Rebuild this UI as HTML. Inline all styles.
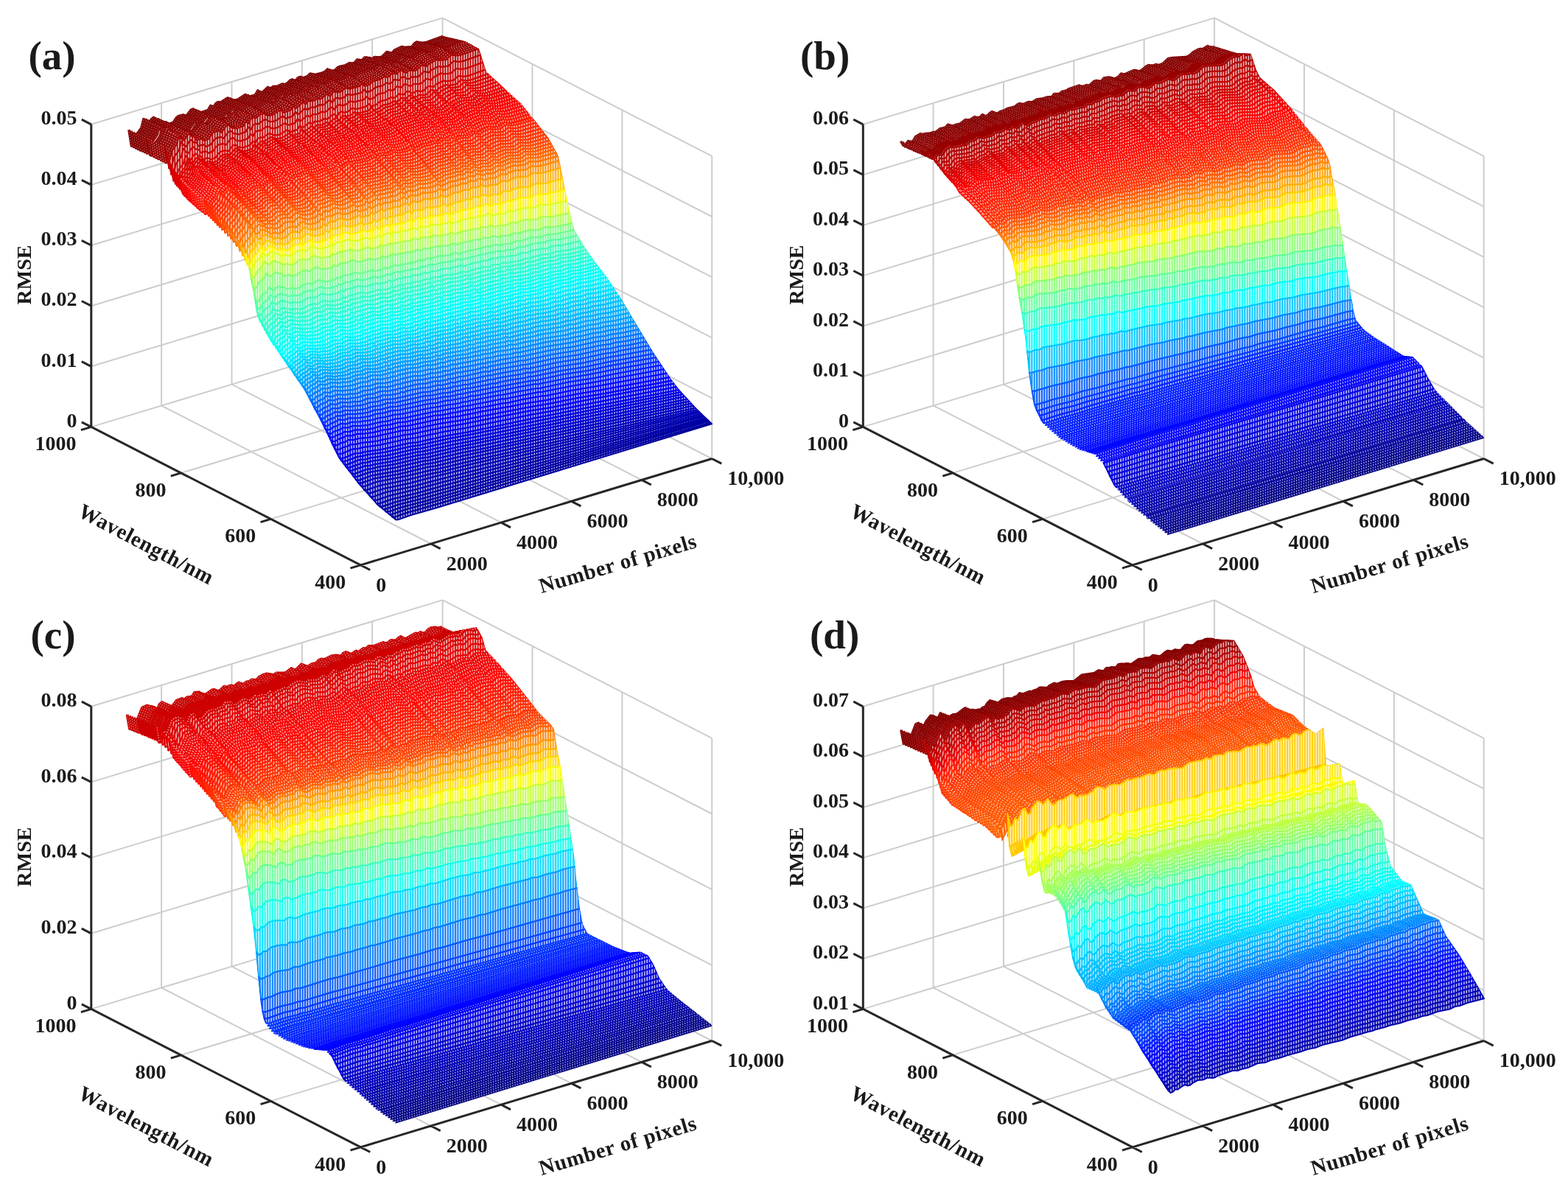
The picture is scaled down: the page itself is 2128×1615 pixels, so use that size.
<!DOCTYPE html>
<html lang="en"><head><meta charset="utf-8"><title>RMSE surfaces</title>
<style>html,body{margin:0;padding:0;background:#fff}body{width:2128px;height:1615px;overflow:hidden}svg{display:block}</style></head><body>
<svg width="2128" height="1615" viewBox="0 0 2128 1615">
<rect width="2128" height="1615" fill="#fff"/>
<defs><pattern id="ws" width="6.8" height="8" patternUnits="userSpaceOnUse"><rect x="0.4" width="3.2" height="8" fill="#fff" fill-opacity="0.78"/></pattern></defs>
<g transform="translate(0 0)">
<path d="M584.8 738L219.1 550.5M680.1 709.1L314.5 521.6M775.5 680.3L409.9 492.8M870.9 651.4L505.2 463.9M966.2 622.5L600.6 435M367.5 704.4L844.4 560M245.6 641.9L722.5 497.5M123.8 579.4L600.6 435M219.1 550.5L219.1 139.9M314.5 521.6L314.5 111M409.9 492.8L409.9 82.2M505.2 463.9L505.2 53.3M600.6 435L600.6 24.4M123.8 497.3L600.6 352.9M123.8 415.2L600.6 270.8M123.8 333L600.6 188.6M123.8 250.9L600.6 106.5M123.8 168.8L600.6 24.4M966.2 622.5L966.2 211.9M844.4 560L844.4 149.4M722.5 497.5L722.5 86.9M966.2 540.4L600.6 352.9M966.2 458.3L600.6 270.8M966.2 376.1L600.6 188.6M966.2 294L600.6 106.5M966.2 211.9L600.6 24.4" stroke="#cdcdcd" stroke-width="2" fill="none"/>
<defs><clipPath id="ac"><path d="M601 -50L601 48.8L628 55.1L632 56L650 66L660 97.5L681.2 116.7L682 117.5L707 140L723.6 160.7L727 165L744.5 187.5L754.4 205.3L757 210L760 222L763 237.5L768 262.5L769.2 268.7L771 278L773 287.5L776 300L778 307L779.5 312.5L793 335L807 355L808.1 356.4L822.5 375L832.6 390.1L842 404L863.5 440L887 479L893.7 489L911 515L922 529L922 529L946 555L957.3 565.7L967 575L967 581L536.5 712.5L536.8 707.2L511.8 687.2L486.8 659.7L459.3 624.7L459.3 624.7L449.3 604.7L436.8 579.7L431.6 570.3L411.8 534.7L393.9 509.7L386.8 499.7L379.3 488.7L364.3 467.2L363.3 465.5L349.3 442.2L344.3 415.7L341.8 404.7L339.3 390.7L337.6 381.6L336.3 374.7L334.3 370.7L333 368.1L327.6 357.3L324.3 350.7L315.6 338.5L311.8 333.2L294.3 315.7L277.5 298.9L274.3 295.7L257.3 281.7L243.8 268.2L243.3 267.7L232.3 255.7L222.8 229.7L203.2 220.1L199.3 218.2L172.8 205.7L172.8 -50z"/></clipPath></defs>
<g clip-path="url(#ac)"><g transform="scale(0.5)" fill="none" stroke-linejoin="round">
<g stroke="#800000" stroke-width="7.3"><path id="a1" d="M350 352l7 44 7-5 6-25 14-19 6-24 7 10 7 4 7-13 6-5 7 7 7 1 7 9 6-3 7-1 7 6 13-6 7-11 7-6 13-3 7 4 13-17 7-3 7 7 13 3 20-7 7-12 7 6 7-12 6-4 7 1 14-9 6-3 7 4 7 2 7 0 6-2 20-13 7 7 20-6 7-12 7 8 7-5 13-12 7 5 7-7 13-1 13-6 7 2 7-5 7-7 6-2 7 7 7-11 7-3 6 3 7-2 7-3 7-7 13 3 20-5 7-3 7-7 6 8 14-5 7-7 6-3 14-3 13-7 7 2 7-3 6-8 14 2 7-8 6 0 7 5 7-1 7-5 13 1 7-2 13-13 14 4 6-8 21-10 6 2 21-2 6-8 7-5 13 3 14-2 47-17"/></g>
<use href="#a1" stroke="#fff" stroke-opacity="0.6" stroke-width="1.4" stroke-dasharray="3 3.8"/>
<g stroke="#820000" stroke-width="7.3"><path id="a2" d="M356 355l7 44 7-5 6-26 14-19 7-24 6 11 7 4 7-13 6-5 7 7 7 0 7 10 6-3 7-1 7 5 13-5 7-11 7-6 13-4 7 5 13-18 7-2 7 7 13 3 21-8 6-12 7 7 7-13 7-3 6 1 14-10 6-3 7 5 7 2 7-1 6-2 21-13 6 8 21-7 6-11 7 7 7-4 13-13 7 6 7-7 13-1 14-7 6 2 7-5 7-6 7-3 6 7 7-11 7-3 6 3 7-2 7-3 7-7 13 3 20-5 7-3 7-7 7 8 13-5 7-7 6-3 14-3 13-7 7 2 7-3 7-8 13 2 7-8 7-1 6 5 7 0 7-5 13 1 7-2 13-13 14 3 7-7 20-10 7 2 20-2 6-8 7-5 14 2 13-1 47-17"/></g>
<use href="#a2" stroke="#fff" stroke-opacity="0.6" stroke-width="1.4" stroke-dasharray="3 3.8"/>
<g stroke="#840000" stroke-width="7.3"><path id="a3" d="M362 358l7 44 7-5 6-26 14-19 7-24 6 11 7 3 7-12 7-6 6 7 7 1 7 10 6-3 7-1 7 5 13-5 7-11 7-7 13-3 7 4 14-17 6-3 7 7 13 3 21-7 6-12 7 6 7-12 7-4 6 1 14-10 7-2 6 4 7 2 7-1 7-1 20-13 6 7 21-7 6-11 7 7 7-4 13-13 7 6 7-7 13-1 14-7 6 2 7-4 7-7 7-3 6 7 7-11 7-3 7 3 6-2 7-3 7-7 13 3 20-5 7-3 7-7 7 8 13-5 7-7 7-3 13-3 14-7 6 2 7-4 7-7 13 2 7-8 7-1 6 5 7 0 7-5 13 1 7-2 14-13 13 3 7-7 20-10 7 2 20-3 7-7 6-6 14 3 13-2 47-17"/></g>
<use href="#a3" stroke="#fff" stroke-opacity="0.6" stroke-width="1.4" stroke-dasharray="3 3.8"/>
<g stroke="#860000" stroke-width="7.3"><path id="a4" d="M368 360l7 45 7-5 6-26 14-19 7-24 6 11 7 3 7-13 7-5 6 7 7 1 7 9 7-3 6-1 7 6 14-6 6-11 7-6 13-3 7 4 14-18 6-2 7 7 14 3 20-8 7-12 6 7 7-13 7-3 6 1 14-10 7-3 6 5 7 1 7 0 7-2 20-13 7 7 20-6 7-12 6 8 7-5 13-13 7 6 7-7 13-1 14-7 7 2 6-4 7-7 7-3 7 7 6-11 7-3 7 4 6-3 7-2 7-8 13 3 21-5 6-3 7-7 7 8 13-5 7-7 7-3 13-3 14-7 6 2 7-4 7-8 13 3 7-9 7 0 7 5 6 0 7-5 14 0 6-2 14-12 13 3 7-8 20-10 7 2 20-2 7-8 7-5 13 2 14-1 47-17"/></g>
<use href="#a4" stroke="#fff" stroke-opacity="0.6" stroke-width="1.4" stroke-dasharray="3 3.8"/>
<g stroke="#800" stroke-width="7.3"><path id="a5" d="M374 363l7 45 7-6 7-25 13-19 7-24 7 10 6 4 7-13 7-5 6 7 7 0 7 10 7-3 6-1 7 5 14-5 6-11 7-6 14-4 6 5 14-18 7-3 6 7 14 3 20-7 7-13 6 7 7-12 7-4 7 1 13-10 7-2 7 4 6 2 7-1 7-2 20-13 7 8 20-7 7-12 6 8 7-5 14-13 6 6 7-7 14-1 13-6 7 1 6-4 7-7 7-3 7 7 6-10 7-3 7 3 7-3 6-2 7-7 14 2 20-5 7-3 6-7 7 8 13-5 7-7 7-3 13-3 14-8 7 2 6-3 7-8 14 2 6-8 7 0 7 5 7-1 6-5 14 1 6-2 14-13 13 3 7-7 20-10 7 2 20-3 7-7 7-5 13 2 14-2 47-17"/></g>
<use href="#a5" stroke="#fff" stroke-opacity="0.6" stroke-width="1.4" stroke-dasharray="3 3.8"/>
<g stroke="#8a0000" stroke-width="7.3"><path id="a6" d="M380 366l7 44 7-5 7-25 13-19 7-25 7 11 6 4 7-13 7-6 7 7 6 1 7 10 7-3 6-1 7 5 14-5 6-11 7-7 14-3 6 4 14-18 7-2 6 7 14 3 20-8 7-12 6 7 7-13 7-4 7 1 13-9 7-3 7 4 6 2 7-1 7-1 20-13 7 7 20-7 7-11 7 7 6-4 14-13 6 6 7-8 14-1 13-6 7 1 7-4 6-7 7-3 7 7 7-10 6-3 7 3 7-3 7-2 6-7 14 2 20-5 7-3 6-7 7 8 14-5 6-7 7-3 14-3 13-8 7 2 7-3 6-8 14 2 6-8 7-1 7 5 7 0 6-5 14 1 7-2 13-13 14 3 6-7 21-11 6 3 20-3 7-8 7-5 13 2 14-1 47-18"/></g>
<use href="#a6" stroke="#fff" stroke-opacity="0.6" stroke-width="1.4" stroke-dasharray="3 3.8"/>
<g stroke="#8c0000" stroke-width="7.3"><path id="a7" d="M387 369l6 44 7-5 7-26 13-19 7-24 7 11 6 3 7-12 7-6 7 7 6 1 7 10 7-4 7-1 6 6 14-6 7-11 6-6 14-4 6 5 14-18 7-3 6 7 14 3 20-7 7-13 7 7 6-12 7-4 7 1 13-10 7-3 7 5 7 2 6-1 7-2 20-13 7 7 20-6 7-12 7 7 6-4 14-13 7 6 6-7 14-1 13-7 7 2 7-5 6-7 7-3 7 8 7-11 6-3 7 3 7-3 7-2 6-7 14 2 20-5 7-3 7-7 6 8 14-6 6-6 7-3 14-3 13-8 7 2 7-3 6-8 14 2 7-8 6-1 7 5 7 0 7-5 13 1 7-2 13-13 14 3 6-8 21-10 6 2 21-2 6-8 7-5 14 2 13-2 47-17"/></g>
<use href="#a7" stroke="#fff" stroke-opacity="0.6" stroke-width="1.4" stroke-dasharray="3 3.8"/>
<g stroke="#8d0000" stroke-width="7.3"><path id="a8" d="M393 372l6 44 7-5 7-26 13-19 7-24 7 11 7 3 6-13 7-5 7 7 6 1 7 9 7-3 7-1 6 5 14-5 7-11 6-7 14-3 7 4 13-17 7-3 7 7 13 3 20-8 7-12 7 6 6-12 7-4 7 1 13-10 7-2 7 4 7 2 6-1 7-2 20-13 7 8 20-7 7-12 7 8 6-5 14-13 7 6 6-7 14-1 13-7 7 2 7-5 7-7 6-3 7 8 7-11 7-3 6 3 7-2 7-3 7-7 13 2 20-5 7-3 7-7 6 8 14-6 7-6 6-3 14-3 13-8 7 2 7-3 7-8 13 2 7-9 7 0 6 5 7 0 7-5 13 0 7-2 13-13 14 4 7-8 20-10 7 2 20-3 7-8 6-5 14 2 13-1 47-18"/></g>
<use href="#a8" stroke="#fff" stroke-opacity="0.6" stroke-width="1.4" stroke-dasharray="3 3.8"/>
<g stroke="#900000" stroke-width="7.3"><path id="a9" d="M401 375l6 45 7-5 7-26 13-19 7-24 7 10 6 4 7-13 7-6 7 7 6 1 7 10 7-4 7 0 6 5 14-5 7-12 6-6 14-4 7 5 13-18 7-3 7 7 13 3 20-7 7-13 7 7 6-13 7-4 7 1 13-10 7-2 7 4 7 2 6-1 7-2 20-13 7 8 20-7 7-12 7 8 6-5 14-13 7 6 6-7 14-1 13-7 7 2 7-5 7-7 6-3 7 7 7-11 7-3 6 3 7-2 7-3 7-7 13 3 20-6 7-3 7-7 6 9 14-6 7-7 6-3 14-3 13-8 7 2 7-3 7-8 13 2 7-8 7-1 6 5 7 0 7-5 13 1 7-2 13-13 14 3 7-8 20-10 7 2 20-3 7-8 6-5 14 2 13-1 47-18"/></g>
<use href="#a9" stroke="#fff" stroke-opacity="0.6" stroke-width="1.4" stroke-dasharray="3 3.8"/>
<g stroke="#910000" stroke-width="7.4"><path id="a10" d="M405 377l6 45 7-5 7-26 13-19 7-24 7 10 7 4 6-13 7-6 7 7 7 1 6 10 7-4 7 0 7 5 13-6 7-11 7-6 13-4 7 5 13-18 7-3 7 7 13 3 20-8 7-12 7 6 7-12 6-4 7 1 14-10 6-2 7 4 7 2 7-1 6-2 21-13 6 7 21-7 6-11 7 7 7-4 13-13 7 5 7-7 13-1 14-7 6 2 7-4 7-7 7-3 6 7 7-11 7-3 7 3 6-2 7-3 7-7 13 2 21-5 6-3 7-7 7 8 13-6 7-6 7-4 13-3 14-7 6 2 7-4 7-8 13 3 7-9 7 0 7 5 6-1 7-5 14 1 6-2 14-13 13 3 7-8 20-10 7 2 20-3 7-7 7-6 13 2 14-1 47-18"/></g>
<use href="#a10" stroke="#fff" stroke-opacity="0.6" stroke-width="1.5" stroke-dasharray="3 3.8"/>
<g stroke="#930000" stroke-width="7.6"><path id="a11" d="M411 380l7 45 6-5 7-26 14-19 6-25 7 11 7 4 6-13 7-6 7 7 7 1 6 10 7-4 7-1 7 6 13-6 7-11 7-6 13-4 7 5 13-18 7-3 7 7 13 3 20-8 7-12 7 6 7-12 6-4 7 1 14-10 6-3 7 5 7 2 7-1 6-2 21-13 6 7 21-7 6-12 7 8 7-5 13-13 7 6 7-7 13-1 14-7 6 2 7-5 7-7 7-3 6 7 7-10 7-3 7 3 6-3 7-3 7-7 13 3 20-6 7-3 7-7 7 9 13-6 7-7 7-3 13-3 14-8 6 2 7-3 7-8 13 2 7-9 7 0 7 5 6 0 7-5 13 0 7-2 14-13 13 3 7-7 20-11 7 2 20-2 7-8 7-5 13 2 14-2 47-17"/></g>
<use href="#a11" stroke="#fff" stroke-opacity="0.6" stroke-width="2.4" stroke-dasharray="3 3.8"/>
<g stroke="#950000" stroke-width="7.6"><path id="a12" d="M417 384l7 44 7-5 7-26 13-19 7-24 7 10 6 4 7-13 7-6 6 7 7 1 7 10 7-3 6-1 7 5 14-6 6-11 7-6 14-4 6 5 14-18 6-3 7 7 14 3 20-8 7-12 6 6 7-12 7-4 7 1 13-10 7-2 7 4 6 2 7-1 7-2 20-13 7 7 20-7 7-11 6 7 7-4 14-13 6 5 7-7 13-1 14-7 7 2 6-5 7-7 7-2 7 7 6-11 7-3 7 3 7-2 6-3 7-7 14 2 20-5 6-3 7-7 7 8 13-6 7-7 7-3 13-3 14-8 7 2 6-3 7-8 13 2 7-8 7-1 7 5 6 0 7-5 14 1 6-2 14-14 13 4 7-8 20-10 7 2 20-3 7-8 7-5 13 2 14-2 47-17"/></g>
<use href="#a12" stroke="#fff" stroke-opacity="0.6" stroke-width="2.4" stroke-dasharray="3 3.8"/>
<g stroke="#970000" stroke-width="7.6"><path id="a13" d="M424 387l6 44 7-5 7-26 13-19 7-24 7 10 7 4 6-13 7-5 7 6 7 1 6 10 7-3 7-1 6 5 14-5 7-12 6-6 14-4 7 5 13-18 7-3 6 7 14 3 20-7 7-13 7 7 6-13 7-4 7 1 13-10 7-2 7 4 6 2 7-1 7-2 20-13 7 7 20-6 7-12 7 7 6-4 14-13 6 6 7-8 14-1 13-7 7 2 7-4 6-7 7-3 7 7 6-11 7-3 7 3 7-2 6-3 7-7 14 2 20-5 7-3 6-7 7 8 13-6 7-6 7-4 13-3 14-7 7 2 6-4 7-8 13 2 7-8 7 0 7 5 6-1 7-5 14 1 6-2 14-13 13 3 7-8 20-10 7 2 20-3 7-8 7-5 13 2 13-1 48-18"/></g>
<use href="#a13" stroke="#fff" stroke-opacity="0.6" stroke-width="2.4" stroke-dasharray="3 3.8"/>
<g stroke="#900" stroke-width="7.6"><path id="a14" d="M430 390l7 44 7-5 6-26 14-19 7-24 6 11 7 3 7-13 6-5 7 7 7 0 7 10 6-3 7-1 7 5 13-5 7-12 7-6 13-3 7 4 13-18 7-3 7 7 13 3 20-7 7-13 7 7 7-13 6-4 7 1 13-10 7-2 7 4 7 2 6-1 7-2 20-13 7 8 20-7 7-12 7 8 6-5 14-13 7 6 6-8 14-1 13-6 7 1 7-4 6-7 7-3 7 7 7-11 6-3 7 3 7-2 6-3 7-7 14 2 20-5 7-3 6-7 7 8 13-5 7-7 7-3 13-3 14-8 7 2 6-4 7-8 13 3 7-9 7 0 7 5 6 0 7-6 14 1 6-2 14-13 13 3 7-7 20-11 7 2 20-2 7-8 6-6 14 3 13-2 47-18"/></g>
<use href="#a14" stroke="#fff" stroke-opacity="0.6" stroke-width="2.4" stroke-dasharray="3 3.8"/>
<g stroke="#9b0000" stroke-width="7.6"><path id="a15" d="M437 393l6 44 7-5 7-26 13-19 7-24 7 11 6 3 7-13 7-5 6 7 7 0 7 10 7-3 6-1 7 5 14-5 6-11 7-7 13-3 7 4 14-18 6-3 7 7 14 3 20-7 6-13 7 7 7-12 7-4 6 1 14-10 6-3 7 4 7 2 7-1 6-1 21-13 6 7 20-7 7-12 7 8 7-5 13-13 7 6 6-7 14-1 13-7 7 2 7-5 7-7 6-3 7 7 7-11 6-3 7 3 7-2 7-3 6-7 14 2 20-5 7-3 6-7 7 9 14-6 6-7 7-3 13-3 14-8 7 2 6-3 7-8 14 2 6-9 7 0 7 5 6 0 7-5 14 0 6-2 14-13 13 3 7-7 20-11 7 2 20-2 7-8 6-5 14 2 13-2 47-17"/></g>
<use href="#a15" stroke="#fff" stroke-opacity="0.6" stroke-width="2.4" stroke-dasharray="3 3.8"/>
<g stroke="#9d0000" stroke-width="7.6"><path id="a16" d="M443 396l7 45 6-6 7-25 14-20 6-24 7 11 7 3 6-13 7-5 7 7 7 1 6 9 7-3 7-1 6 5 14-5 7-11 6-7 14-3 6 4 14-18 7-2 6 7 14 2 20-7 7-12 6 6 7-12 7-4 7 1 13-10 7-3 6 5 7 1 7 0 7-2 20-13 6 7 21-7 6-12 7 8 7-5 13-13 7 6 7-7 13-1 14-7 6 2 7-5 7-7 6-3 7 8 7-11 7-3 6 3 7-3 7-3 6-7 14 3 20-5 7-4 6-7 7 9 14-6 6-7 7-3 13-3 14-8 7 2 6-3 7-8 14 2 6-8 7-1 7 5 6 0 7-5 14 0 6-1 14-14 13 4 7-8 20-10 7 2 20-3 7-8 6-5 14 2 13-2 47-17"/></g>
<use href="#a16" stroke="#fff" stroke-opacity="0.6" stroke-width="2.4" stroke-dasharray="3 3.8"/>
<g fill="#ac0000"><path id="a17" d="M446 398l7 44 7-5 6-26 14-19 6-24 7 10 7 4 7-13 6-6 7 7 7 1 6 10 7-3 7-1 7 5 13-5 7-12 6-6 14-4 7 5 13-18 7-3 6 7 14 3 20-7 7-13 6 7 7-13 7-4 7 1 13-10 7-2 7 4 6 2 7-1 7-2 20-13 7 8 20-7 6-12 7 8 7-5 13-13 7 6 7-8 13-1 14-6 6 1 7-4 7-7 6-3 7 7 7-11 7-3 6 3 7-2 7-3 6-7 14 2 20-5 7-3 6-7 7 8 14-5 6-7 7-3 14-3 13-8 7 2 6-3 7-8 14 2 6-9 7 0 7 5 6 0 7-6 14 1 6-2 14-13 13 3 7-7 20-11 7 2 20-2 7-8 6-5 14 2 13-2 47-17 6 17-47 17-13 2-13-2-7 5-7 8-20 3-7-2-20 10-7 7-13-3-14 13-6 2-14 0-6 5-7 0-7-5-7 1-6 8-14-2-6 8-7 3-7-2-13 8-14 3-6 3-7 6-14 6-6-8-7 7-7 3-20 5-13-2-7 7-7 3-7 2-6-3-7 3-7 11-6-7-7 3-7 7-7 4-6-2-14 7-13 1-7 7-7-5-13 12-7 5-6-7-7 11-20 7-7-7-20 13-7 2-7 0-6-1-7-5-7 3-13 10-7-1-7 4-6 12-7-7-7 13-20 7-13-3-7-6-7 2-13 18-7-4-13 3-7 6-7 11-13 6-7-5-7 1-7 3-6-10-7 0-7-7-6 5-7 13-7-3-7-11-6 24-14 19-6 25-7 5-7-43z"/></g>
<use href="#a17" fill="url(#ws)" stroke="#ac0000" stroke-width="4"/>
<g fill="#bc0000"><path id="a18" d="M452 414l7 43 7-5 6-25 14-19 6-24 7 11 7 3 7-13 6-5 7 7 7 0 6 10 7-3 7-1 7 5 13-6 7-11 7-6 13-3 7 4 13-18 7-2 7 6 13 3 20-7 7-13 7 7 6-12 7-4 7 1 13-10 7-3 7 5 6 1 7 0 7-2 20-13 7 7 20-7 7-11 6 7 7-5 13-12 7 5 7-7 13-1 14-7 6 2 7-4 7-7 7-3 6 7 7-11 7-3 6 3 7-2 7-3 7-7 13 2 20-5 7-3 7-7 6 8 14-6 7-6 6-3 14-3 13-8 7 2 7-3 6-8 14 2 6-8 7-1 7 5 7 0 6-5 14 0 6-2 14-13 13 3 7-7 20-10 7 2 20-3 7-8 7-5 13 2 13-2 47-17 7 20-47 17-14 2-13-2-14 13-20 2-7-2-20 11-6 7-14-3-13 12-7 2-13 0-7 5-7 0-7-4-6 0-7 8-14-2-6 8-7 3-7-2-13 8-14 3-6 3-7 7-13 5-7-8-7 7-7 3-20 5-13-2-7 7-7 3-6 2-7-3-7 3-7 11-6-7-7 3-7 7-6 4-7-2-14 7-13 1-7 7-6-5-21 17-6-8-7 12-20 6-7-6-20 12-7 2-7 1-6-2-7-4-7 3-13 9-7 0-7 3-6 12-7-6-7 12-20 7-13-2-7-7-7 3-13 17-7-4-13 3-7 6-7 11-13 6-7-5-7 1-6 3-7-9-7-1-7-6-6 5-7 12-7-3-7-10-6 23-14 18-6 25-7 5-7-42z"/></g>
<use href="#a18" fill="url(#ws)" stroke="#bc0000" stroke-width="4"/>
<g fill="#c00"><path id="a19" d="M458 432l7 42 7-5 6-25 14-18 6-23 7 10 7 3 7-12 6-5 7 6 7 1 7 9 6-3 7-1 7 5 13-6 7-11 7-6 13-3 7 4 13-17 7-3 7 7 13 2 20-7 7-12 7 6 6-12 7-3 7 0 13-9 7-3 7 4 6 2 7-1 7-2 20-12 7 6 20-6 7-12 6 8 21-17 6 5 7-7 13-1 14-7 7 2 6-4 7-7 7-3 6 7 7-11 7-3 7 3 6-2 7-3 7-7 13 2 20-5 7-3 7-7 7 8 13-5 7-7 6-3 14-3 13-8 7 2 7-3 6-8 14 2 7-8 6 0 7 4 7 0 7-5 13 0 7-2 13-12 14 3 6-7 20-11 7 2 20-2 14-13 13 2 14-2 47-17 6 20-47 17-14 2-13-2-13 12-21 3-6-2-20 10-7 7-14-2-13 12-7 2-13-1-7 5-7 1-6-5-7 1-7 8-13-2-7 7-7 4-6-2-14 7-13 3-7 3-7 7-13 5-7-7-7 6-6 3-21 5-13-2-7 7-7 3-6 2-7-3-7 3-6 11-7-7-7 3-7 6-6 5-7-2-13 7-14 1-7 7-6-5-21 16-6-7-7 11-20 7-7-7-20 13-7 2-7 0-6-1-7-4-7 3-13 9-7-1-7 4-6 11-7-5-7 11-20 7-13-2-7-6-7 2-13 17-7-4-13 4-7 6-7 10-13 5-7-4-7 1-6 3-7-9-7-1-7-6-6 5-7 12-7-3-7-9-6 22-14 18-6 24-7 5-7-41z"/></g>
<use href="#a19" fill="url(#ws)" stroke="#c00" stroke-width="4"/>
<g fill="#d40000"><path id="a20" d="M464 450l7 41 7-5 6-24 14-18 6-22 7 9 7 3 7-12 6-5 7 6 7 1 7 9 6-3 7-1 7 4 13-5 7-10 7-6 13-4 7 4 13-17 7-2 7 6 13 2 20-7 7-11 7 5 6-11 7-4 7 1 13-9 7-3 7 4 6 1 7 0 7-2 20-13 7 7 20-7 7-11 6 7 21-16 6 5 7-7 14-1 13-7 7 2 6-5 7-6 7-3 7 7 6-11 7-3 7 3 6-2 7-3 7-7 13 2 21-5 6-3 7-6 7 7 13-5 7-7 7-3 13-3 14-7 6 2 7-4 7-7 13 2 7-8 7-1 6 5 7-1 7-5 13 1 7-2 13-12 14 2 7-7 20-10 6 2 21-3 13-12 13 2 14-2 47-17 8 11-48 17-13 2-14-2-13 12-20 3-7-2-20 10-7 7-14-3-13 13-7 1-13 0-7 5-7 0-7-4-6 1-7 7-14-1-6 7-7 3-7-1-13 7-14 3-7 3-6 6-14 6-7-8-6 7-7 3-20 5-14-2-6 6-7 3-7 2-7-2-6 3-7 10-7-7-7 3-13 11-7-2-13 7-14 1-7 7-6-5-21 16-6-7-7 11-20 7-7-7-20 12-7 2-7 1-7-1-6-4-7 2-14 10-6-1-7 4-7 11-7-6-6 12-21 7-13-3-7-6-7 3-13 16-7-3-13 3-7 6-7 10-13 5-7-4-7 1-6 3-7-9-7 0-7-6-6 5-7 11-7-3-7-9-6 22-14 18-7 23-6 5-7-40z"/></g>
<use href="#a20" fill="url(#ws)" stroke="#d40000" stroke-width="4"/>
<g fill="#d80000"><path id="a21" d="M469 459l7 40 6-5 7-23 14-18 6-22 7 9 7 3 7-11 6-5 7 6 7 0 7 9 6-3 7-1 7 4 13-5 7-10 7-6 13-3 7 3 13-16 7-3 7 6 13 3 21-7 6-12 7 6 7-11 7-4 6 1 14-10 7-2 6 4 7 1 7-1 7-2 20-12 7 7 20-7 7-11 6 7 21-16 6 5 7-7 14-1 13-7 7 2 13-11 7-3 7 7 7-10 6-3 7 2 7-2 7-3 6-6 14 2 20-5 7-3 6-7 7 8 14-6 6-6 7-3 14-3 13-7 7 1 7-3 6-7 14 1 7-7 6-1 7 4 7 0 7-5 13 0 7-1 13-13 14 3 7-7 20-10 7 2 20-3 13-12 14 2 13-2 48-17 8 7-48 17-13 2-14-2-14 12-20 3-7-2-20 10-7 7-13-3-14 12-7 2-13 0-7 5-7 0-6-4-7 0-7 8-14-2-6 8-7 3-7-2-13 7-14 3-7 3-7 6-13 6-7-7-7 6-6 3-21 5-13-2-7 7-7 2-7 3-6-3-7 3-7 10-7-6-7 2-13 11-7-2-13 7-14 1-7 7-6-5-21 16-7-7-6 11-21 6-6-6-21 12-7 2-6 1-7-2-7-3-7 2-13 9-7 0-7 3-7 11-6-5-7 11-20 7-14-2-7-6-7 2-13 17-7-4-13 3-7 6-7 10-14 6-6-5-7 1-7 3-7-9-6 0-7-6-7 5-7 11-7-3-6-9-7 22-14 17-6 24-7 5-7-40z"/></g>
<use href="#a21" fill="url(#ws)" stroke="#d80000" stroke-width="4"/>
<g fill="#dc0000"><path id="a22" d="M473 464l7 40 7-5 6-24 14-17 7-22 6 9 7 3 7-11 7-5 7 6 6 0 7 9 7-3 7-1 6 5 14-6 7-10 7-6 13-3 7 4 13-17 7-2 7 6 14 2 20-7 7-11 6 5 7-11 7-3 7 0 13-9 7-2 7 3 7 2 6-1 7-2 21-12 6 6 21-6 6-11 7 7 21-16 6 5 7-7 14-1 13-7 7 2 13-11 7-2 7 6 7-10 7-3 6 3 7-3 7-2 7-7 13 2 21-5 6-3 7-6 7 7 13-6 7-6 7-3 14-3 13-7 7 2 7-3 6-8 14 2 7-8 7 0 6 4 7 0 7-5 13 0 7-2 14-12 13 3 7-7 20-10 7 2 20-3 14-12 14 2 13-2 48-17 8 8-48 16-14 2-13-2-14 12-20 3-7-2-20 10-7 7-14-3-14 12-6 2-14 0-7 5-7 0-6-4-7 0-7 8-14-2-6 7-7 3-7-1-14 7-13 3-7 3-7 6-13 5-7-7-7 6-7 3-20 5-14-1-7 6-6 3-7 2-7-3-7 3-7 10-7-6-6 2-14 11-7-1-13 6-14 1-7 7-7-5-20 16-7-7-7 11-20 6-7-6-20 12-7 2-7 1-7-2-6-4-7 3-14 9-7-1-7 4-6 11-7-6-7 11-20 8-14-3-7-6-7 3-13 16-7-4-14 3-6 6-7 11-14 5-7-5-6 1-7 3-7-9-7 0-7-6-6 5-7 12-7-3-7-10-7 22-13 17-7 24-7 4-7-39z"/></g>
<use href="#a22" fill="url(#ws)" stroke="#dc0000" stroke-width="4"/>
<g fill="#e00000"><path id="a23" d="M477 469l7 39 7-4 7-24 13-17 7-22 7 10 7 3 7-12 6-5 7 6 7 0 7 9 7-3 6-1 7 5 14-5 7-11 6-6 14-3 7 4 13-16 7-3 7 6 14 3 20-8 7-11 7 6 6-11 7-4 7 1 14-9 7-3 6 4 7 2 7-1 7-2 20-12 7 6 20-6 7-11 7 7 20-16 7 5 7-7 14-1 13-6 7 1 14-11 6-2 7 6 7-10 7-3 7 3 7-2 6-3 7-6 14 1 20-5 7-3 7-6 7 7 13-5 7-6 7-3 13-3 14-7 7 1 7-3 6-7 14 2 7-8 7 0 6 4 7 0 7-5 14 0 6-2 14-12 14 3 7-7 20-10 7 2 20-3 14-12 13 2 14-2 48-16 8 7-48 16-14 2-13-1-14 11-21 3-6-2-21 10-7 7-14-3-13 12-7 2-14 0-7 4-6 1-7-5-7 1-7 7-14-1-6 7-7 3-7-2-14 8-13 2-7 3-7 6-14 6-7-7-6 6-7 3-21 5-13-2-7 6-7 3-7 2-7-2-7 2-6 10-7-6-7 3-14 10-7-1-13 6-14 1-7 7-7-5-20 16-7-7-7 10-20 7-7-6-21 12-7 1-6 1-7-1-7-4-7 2-14 9-6 0-7 3-7 11-7-5-7 11-20 7-14-2-7-6-7 2-13 16-7-4-14 4-7 6-6 10-14 5-7-5-7 1-7 3-7-8-6-1-7-6-7 5-7 12-7-3-7-10-6 22-14 17-7 23-7 5-7-40z"/></g>
<use href="#a23" fill="url(#ws)" stroke="#e00000" stroke-width="4"/>
<g fill="#e40000"><path id="a24" d="M481 473l7 40 7-5 7-23 14-17 6-22 7 10 7 3 7-12 7-5 7 6 6 1 7 8 7-3 7-1 7 5 14-5 6-10 7-6 14-4 7 4 13-16 7-2 7 6 14 2 20-7 7-11 7 5 7-11 7-3 6 0 14-9 7-2 7 4 7 1 6-1 7-1 21-12 7 6 20-7 7-10 7 7 20-16 7 5 7-7 14-1 13-6 7 1 14-10 7-3 7 6 6-10 7-2 7 2 7-2 7-3 7-6 13 2 21-5 7-3 6-6 7 7 14-6 7-6 7-3 13-2 14-8 7 2 7-3 6-7 14 1 7-7 7-1 7 5 6-1 7-4 14 0 7-2 13-12 14 3 7-7 21-10 6 2 21-3 14-11 13 1 14-2 48-16 8 7-48 17-14 1-14-1-13 11-21 3-7-2-21 10-6 7-14-3-14 12-7 2-13-1-7 5-7 0-7-4-7 1-7 7-14-2-6 8-7 3-7-2-14 7-14 3-6 3-7 6-14 5-7-7-7 6-7 3-20 5-14-2-7 7-7 2-7 2-7-2-6 3-7 9-7-6-7 3-14 10-7-1-13 6-14 1-7 7-7-5-20 15-7-6-7 10-21 7-7-7-20 12-7 2-7 1-7-2-7-3-7 2-13 9-7-1-7 4-7 11-7-6-7 11-20 7-14-2-7-6-7 2-13 17-7-4-14 3-7 6-7 10-13 5-7-5-7 1-7 3-7-8-7-1-7-6-7 5-6 12-7-3-7-10-7 22-14 17-7 23-6 5-7-40z"/></g>
<use href="#a24" fill="url(#ws)" stroke="#e40000" stroke-width="4"/>
<g fill="#e80000"><path id="a25" d="M486 478l7 40 6-5 7-23 14-17 7-22 7 10 7 3 6-12 7-5 7 6 7 1 7 8 7-3 7-1 7 5 13-5 7-10 7-6 14-3 7 4 13-17 7-2 7 6 14 2 20-7 7-11 7 6 7-11 7-4 7 1 13-9 7-2 7 3 7 2 7-1 7-2 20-12 7 7 21-7 7-10 7 6 20-15 7 5 7-7 14-1 13-6 7 1 14-10 7-3 7 6 7-9 6-3 7 2 7-2 7-2 7-7 14 2 20-5 7-3 7-6 7 7 14-5 7-6 6-3 14-3 14-7 7 2 7-3 6-8 14 2 7-7 7-1 7 4 7 0 7-5 13 1 7-2 14-12 14 3 6-7 21-10 7 2 21-3 13-11 14 1 14-1 48-17 8 8-48 16-14 1-14-1-14 11-21 3-6-2-21 10-7 6-14-2-14 12-7 1-13 0-7 5-7 0-7-4-7 0-7 8-14-2-6 7-7 3-7-1-14 7-14 2-7 3-7 6-13 6-7-8-7 7-7 2-21 5-14-2-7 7-6 2-7 2-7-2-7 3-7 9-7-6-7 3-14 10-6-1-14 6-14 1-7 6-7-5-21 16-6-6-7 10-21 6-7-6-21 12-7 2-6 0-7-1-7-4-7 3-14 9-7-1-7 3-7 11-6-5-7 11-21 7-14-3-7-6-7 3-13 16-7-4-14 3-7 6-7 10-14 5-7-5-7 1-6 3-7-8-7-1-7-6-7 5-7 11-7-2-7-10-7 22-13 17-7 23-7 4-7-39z"/></g>
<use href="#a25" fill="url(#ws)" stroke="#e80000" stroke-width="4"/>
<g stroke="#e90000" stroke-width="11.9"><path id="a26" d="M492 485l7 39 7-4 7-23 14-17 7-21 6 9 7 3 7-12 7-4 7 6 7 0 7 9 7-3 7-1 7 4 13-5 7-10 7-5 14-4 7 4 14-16 7-2 7 6 13 2 21-7 7-11 7 6 7-11 7-4 7 1 14-9 7-2 6 4 7 1 7-1 7-1 21-12 7 6 21-6 6-11 7 7 21-16 7 5 7-6 14-1 14-6 6 1 14-10 7-3 7 6 7-9 7-3 7 2 7-2 7-2 7-7 13 2 21-5 7-2 7-7 7 8 14-6 7-6 7-2 13-3 14-7 7 1 7-3 7-7 14 2 7-7 7-1 6 4 7 0 7-5 14 1 7-2 14-12 14 3 7-7 20-9 7 1 21-2 14-12 14 2 13-2 49-16"/></g>
<use href="#a26" stroke="#fff" stroke-opacity="0.6" stroke-width="4.9" stroke-dasharray="3 3.8"/>
<g stroke="#ed0000" stroke-width="11.9"><path id="a27" d="M496 490l7 39 7-5 7-22 14-17 7-22 7 10 7 3 7-12 7-5 7 6 7 1 7 8 7-3 6-1 7 5 14-5 7-10 7-5 14-4 7 4 14-16 7-2 7 6 14 2 20-7 7-10 7 5 7-11 7-3 7 1 14-9 7-3 7 4 7 2 7-1 7-2 21-12 6 7 21-7 7-10 7 7 21-16 7 5 7-6 14-1 14-7 7 2 13-10 7-3 7 6 7-9 7-3 7 2 7-2 7-2 7-6 14 1 21-4 7-3 7-6 7 7 13-5 7-6 7-3 14-3 14-7 7 2 7-3 7-7 14 2 7-8 7 0 7 4 6 0 7-5 14 0 7-2 14-11 14 2 7-6 21-9 7 1 21-2 13-12 14 2 14-2 49-16"/></g>
<use href="#a27" stroke="#fff" stroke-opacity="0.6" stroke-width="4.9" stroke-dasharray="3 3.8"/>
<g stroke="#f10000" stroke-width="11.9"><path id="a28" d="M501 495l7 38 7-4 7-23 14-17 6-21 7 9 7 3 7-11 7-5 7 6 7 1 7 8 7-3 7-1 7 5 14-5 7-10 7-5 14-4 7 4 14-16 7-2 7 6 14 2 21-6 7-11 7 5 7-10 7-4 7 1 13-9 7-2 7 3 7 2 7-1 7-2 21-11 7 6 21-6 7-10 7 6 21-15 7 5 7-7 14-1 14-6 7 2 14-10 7-3 7 6 7-9 7-3 6 2 7-2 7-2 7-6 14 2 21-5 7-3 7-6 7 7 14-5 7-6 7-3 14-3 14-6 7 1 7-3 7-7 14 2 7-7 7-1 7 4 7 0 7-4 14 0 6-2 14-11 14 2 7-6 21-10 7 2 21-2 14-12 14 2 14-2 49-15"/></g>
<use href="#a28" stroke="#fff" stroke-opacity="0.6" stroke-width="4.9" stroke-dasharray="3 3.8"/>
<g stroke="#f50000" stroke-width="11.9"><path id="a29" d="M505 499l7 39 7-5 7-22 14-17 7-21 7 9 7 3 7-11 7-5 7 6 7 1 7 8 7-3 7-1 7 5 14-5 7-10 7-5 14-4 7 4 14-15 7-3 7 6 14 2 21-6 7-11 7 6 7-11 7-4 7 1 14-9 7-2 7 4 7 1 7 0 7-2 21-11 7 6 21-6 7-11 7 7 21-15 7 4 7-6 14-1 14-6 7 2 14-10 7-3 7 6 7-9 7-3 7 2 7-2 7-2 7-6 14 2 21-5 7-3 7-6 7 7 14-5 7-6 7-3 14-2 14-7 7 2 7-3 7-7 14 1 7-7 7 0 7 4 7 0 7-5 14 0 7-1 14-12 14 3 7-7 21-9 7 2 21-3 14-11 14 2 14-2 49-15"/></g>
<use href="#a29" stroke="#fff" stroke-opacity="0.6" stroke-width="4.9" stroke-dasharray="3 3.8"/>
<g stroke="#f90000" stroke-width="11.9"><path id="a30" d="M509 504l7 38 7-5 7-22 14-16 7-21 7 9 8 3 7-11 7-5 7 6 7 0 7 9 7-3 7-1 7 5 14-5 7-10 7-6 14-3 7 4 14-15 7-3 7 6 14 3 21-7 7-11 7 6 7-11 7-3 7 1 14-9 7-2 7 3 7 2 7-1 7-2 22-11 7 6 21-6 7-10 7 6 21-15 7 5 7-6 14-1 14-6 7 1 14-10 7-2 7 6 7-9 7-3 7 2 7-2 7-2 7-6 14 2 21-5 7-3 7-6 7 7 14-5 8-5 7-3 14-3 14-7 7 2 7-3 7-7 14 2 7-7 7-1 7 4 7 0 7-4 14 0 7-2 14-11 14 3 7-7 21-9 7 2 21-3 14-11 14 2 14-2 50-15"/></g>
<use href="#a30" stroke="#fff" stroke-opacity="0.6" stroke-width="4.9" stroke-dasharray="3 3.8"/>
<g stroke="#fd0000" stroke-width="11.9"><path id="a31" d="M514 508l7 38 7-4 7-22 14-17 7-21 7 10 7 3 7-12 7-4 7 6 7 0 7 8 7-2 7-1 7 4 15-4 7-10 7-6 14-3 7 4 14-15 7-3 7 6 14 3 21-7 7-11 7 6 8-11 7-3 7 1 14-9 7-2 7 4 7 1 7-1 7-1 21-11 7 6 21-6 7-10 8 6 21-15 7 5 7-6 14-1 14-6 7 1 14-10 7-2 7 6 7-9 7-3 7 2 8-2 7-2 7-6 14 2 21-5 7-2 7-6 7 7 14-5 7-6 7-3 14-3 15-6 7 1 7-2 7-7 14 1 7-7 7 0 7 4 7 0 7-5 14 1 7-2 14-11 14 2 7-6 22-9 7 2 21-3 14-11 14 2 14-2 50-15"/></g>
<use href="#a31" stroke="#fff" stroke-opacity="0.6" stroke-width="4.9" stroke-dasharray="3 3.8"/>
<g stroke="#ff0200" stroke-width="11.8"><path id="a32" d="M519 513l7 38 7-4 7-22 14-17 7-20 7 9 7 3 7-11 7-5 8 6 7 0 7 9 7-3 7-1 7 4 14-4 7-10 7-5 14-3 7 3 15-15 7-2 7 6 14 2 21-6 7-11 7 6 7-11 7-3 7 1 15-9 7-2 7 3 7 2 7-1 7-1 21-12 7 6 21-5 7-10 8 6 21-15 7 5 7-6 14-1 14-6 7 1 14-9 7-3 8 6 7-9 7-3 7 3 7-2 7-3 7-6 14 2 21-4 7-3 7-6 7 7 15-5 7-6 7-2 14-3 14-7 7 2 7-3 7-7 14 2 7-7 8 0 7 4 7-1 7-4 14 0 7-1 14-11 14 2 7-6 22-9 7 2 21-3 14-11 14 2 14-2 50-15"/></g>
<use href="#a32" stroke="#fff" stroke-opacity="0.6" stroke-width="5.4" stroke-dasharray="3 3.8"/>
<g stroke="#ff0600" stroke-width="11.8"><path id="a33" d="M525 519l7 37 7-4 7-22 14-16 7-21 7 9 8 3 7-11 7-4 7 5 7 1 7 8 7-3 7 0 7 4 14-5 7-9 7-6 15-3 7 4 14-15 7-2 7 5 14 3 21-7 7-10 7 5 7-10 7-3 8 0 14-8 7-2 7 3 7 2 7-1 7-1 21-11 7 6 22-6 7-10 7 6 21-15 7 5 7-6 14-1 14-6 7 2 14-10 8-2 7 6 7-10 7-2 7 2 7-2 7-2 7-6 14 2 21-5 7-2 8-6 7 7 14-5 7-6 7-3 14-2 14-7 7 2 7-3 7-7 14 2 8-7 7 0 7 4 7-1 7-4 14 0 7-1 14-11 14 2 7-6 22-9 7 2 21-2 14-11 14 1 14-1 50-15"/></g>
<use href="#a33" stroke="#fff" stroke-opacity="0.6" stroke-width="5.4" stroke-dasharray="3 3.8"/>
<g stroke="#ff0b00" stroke-width="11.8"><path id="a34" d="M531 524l7 38 7-5 7-22 15-16 7-20 7 9 7 3 7-11 7-5 7 6 7 1 7 8 7-3 7-1 7 5 14-5 7-10 8-5 14-3 7 4 14-15 7-2 7 5 14 3 21-7 7-10 8 5 7-10 7-3 7 0 14-8 7-2 7 3 7 2 7-1 7-1 21-11 7 6 22-6 7-10 7 6 21-14 7 4 7-6 14-1 14-5 7 1 15-9 7-3 7 6 7-9 7-3 7 3 7-2 7-2 7-6 14 1 21-4 8-3 7-5 7 6 14-4 7-6 7-3 14-2 14-7 7 2 7-3 7-7 15 2 7-7 7 0 7 4 7 0 7-5 14 1 7-2 14-11 14 3 7-7 22-8 7 1 21-2 14-11 14 2 14-2 50-14"/></g>
<use href="#a34" stroke="#fff" stroke-opacity="0.6" stroke-width="5.4" stroke-dasharray="3 3.8"/>
<g stroke="#ff0f00" stroke-width="11.8"><path id="a35" d="M537 529l7 38 8-5 7-21 14-16 7-21 7 9 7 3 7-11 7-4 7 6 7 0 7 8 7-3 7 0 7 4 15-4 7-10 7-5 14-3 7 4 14-15 7-3 7 6 14 2 22-6 7-10 7 5 7-10 7-3 7 0 14-8 7-2 7 4 7 1 7-1 7-1 22-11 7 6 21-6 7-10 7 7 21-15 7 5 7-6 14-1 15-6 7 2 14-10 7-2 7 6 7-9 7-3 7 2 7-1 7-3 7-6 14 2 22-4 7-3 7-6 7 7 14-5 7-5 7-3 14-2 14-7 7 2 7-3 8-7 14 2 7-7 7 0 7 4 7 0 7-5 14 1 7-2 14-11 14 3 8-6 21-9 7 2 21-3 14-10 14 1 14-1 50-15"/></g>
<use href="#a35" stroke="#fff" stroke-opacity="0.6" stroke-width="5.4" stroke-dasharray="3 3.8"/>
<g stroke="#ff1400" stroke-width="11.8"><path id="a36" d="M544 535l7 37 7-4 7-22 14-16 7-20 7 9 7 3 7-11 7-5 7 6 7 1 7 8 8-3 7-1 7 5 14-5 7-9 7-6 14-2 7 3 14-15 7-2 7 6 15 2 21-6 7-10 7 5 7-10 7-3 7 0 14-8 7-2 7 4 7 1 7-1 8-1 21-11 7 6 21-6 7-9 7 6 21-15 7 5 7-6 15-1 14-5 7 1 14-9 7-3 7 6 7-9 7-2 7 2 7-2 7-2 7-6 15 2 21-5 7-2 7-6 7 7 14-5 7-5 7-3 14-2 14-7 7 2 8-3 7-7 14 2 7-7 7 0 7 4 7 0 7-5 14 1 7-2 14-11 15 3 7-6 21-9 7 2 21-2 14-11 14 2 14-2 50-14"/></g>
<use href="#a36" stroke="#fff" stroke-opacity="0.6" stroke-width="5.4" stroke-dasharray="3 3.8"/>
<g stroke="#ff1900" stroke-width="12"><path id="a37" d="M551 541l7 37 7-4 7-21 14-16 7-20 8 8 7 3 7-10 7-5 7 6 7 1 7 8 7-3 7-1 7 5 14-5 7-9 7-5 15-3 7 3 14-14 7-3 7 6 14 2 21-6 7-10 7 5 7-10 7-3 7 1 15-8 7-2 7 3 7 2 7-1 7-2 21-10 7 6 21-6 7-10 8 7 21-15 7 5 7-6 14-1 14-5 7 1 14-9 7-3 7 6 7-9 8-2 7 2 7-2 7-2 7-6 14 2 21-4 7-3 7-6 7 7 14-5 8-5 7-3 14-2 14-6 7 1 7-3 7-6 14 2 7-7 7-1 7 4 7 0 7-4 15 0 7-1 14-11 14 3 7-6 21-9 7 2 21-2 15-11 14 2 14-2 49-14"/></g>
<use href="#a37" stroke="#fff" stroke-opacity="0.6" stroke-width="5.7" stroke-dasharray="3 3.8"/>
<g fill="#ff2000"><path id="a38" d="M553 543l7 37 7-4 7-22 14-15 7-20 7 8 7 3 7-10 7-5 8 6 7 1 7 7 7-2 7-1 7 4 14-4 7-9 7-6 14-2 7 3 14-15 8-2 7 6 14 2 21-6 7-10 7 5 7-10 7-3 7 1 14-8 7-2 8 3 7 2 7-1 7-2 21-10 7 6 21-6 7-10 7 7 21-15 8 5 7-6 14-1 14-5 7 1 14-9 7-3 7 6 7-9 7-2 7 2 7-2 8-2 7-6 14 2 21-4 7-3 7-5 7 6 14-4 7-6 7-2 15-3 14-6 7 1 7-2 7-7 14 2 7-7 7 0 7 4 7-1 7-4 14 1 7-2 15-11 14 3 7-6 21-9 7 2 21-2 14-11 15 2 14-2 49-14 6 8-49 14-14 2-14-2-14 11-22 2-7-2-21 9-7 5-14-2-14 11-7 1-14 0-8 4-7 0-7-4-7 1-7 6-14-1-7 6-7 3-7-2-14 7-14 2-8 3-7 5-14 5-7-7-7 6-7 2-21 4-14-1-7 5-7 3-7 1-8-2-7 2-7 9-7-5-7 2-14 9-7-1-14 5-14 1-7 6-7-5-22 15-7-7-7 10-21 5-7-5-21 10-7 2-7 0-7-1-7-4-8 3-14 8-7-1-7 3-7 10-7-5-7 10-21 6-14-2-7-6-8 2-14 15-7-4-14 3-7 5-7 9-14 5-7-5-7 1-7 3-7-8-7-1-8-5-7 4-7 11-7-3-7-9-7 20-14 16-7 21-7 4-7-37z"/></g>
<use href="#a38" fill="url(#ws)" stroke="#ff2000" stroke-width="4"/>
<g fill="#ff2400"><path id="a39" d="M559 549l7 37 7-4 7-21 14-16 7-20 7 9 7 3 7-11 7-4 8 5 7 1 7 8 7-3 7-1 7 5 14-5 7-9 7-5 14-3 7 4 14-15 8-2 7 6 14 2 21-6 7-10 7 5 7-10 7-3 7 1 14-8 8-3 7 4 7 1 7 0 7-2 21-10 7 5 21-5 7-10 7 7 22-15 7 5 7-6 14-1 14-5 7 1 14-9 7-2 7 5 7-9 7-2 8 2 7-1 7-3 7-5 14 1 21-4 7-2 7-6 7 7 14-5 7-5 8-3 14-2 14-7 7 2 7-3 7-6 14 1 7-6 7-1 7 4 7 0 8-4 14 0 7-1 14-11 14 2 7-5 21-9 7 2 22-2 14-11 14 2 14-2 49-14 7 8-50 14-14 2-14-2-14 10-21 3-8-2-21 8-7 6-14-2-14 10-7 2-14-1-7 5-7 0-7-4-8 0-7 7-14-2-7 7-7 2-7-1-14 6-14 2-7 3-7 5-15 5-7-7-7 6-7 2-21 5-14-2-7 6-7 2-7 2-7-3-7 3-8 8-7-5-7 2-14 9-7-1-14 5-14 1-7 6-7-5-21 15-8-6-7 9-21 5-7-5-21 10-7 2-7 0-7-1-7-4-7 2-15 9-7-1-7 3-7 10-7-5-7 10-21 6-14-3-7-5-7 2-15 14-7-3-14 3-7 5-7 9-14 4-7-4-7 1-7 2-7-7-7-1-7-6-8 5-7 10-7-3-7-8-7 19-14 16-7 21-7 4-7-36z"/></g>
<use href="#a39" fill="url(#ws)" stroke="#ff2400" stroke-width="4"/>
<g fill="#ff2900"><path id="a40" d="M565 556l7 36 7-4 7-21 14-16 7-19 7 8 7 3 7-10 8-5 7 6 7 1 7 7 7-2 7-1 7 4 14-4 7-9 7-5 14-3 7 3 15-14 7-2 7 5 14 3 21-6 7-10 7 5 7-10 7-3 7 1 15-9 7-2 7 4 7 1 7 0 7-2 21-10 7 5 21-5 7-9 8 6 21-15 7 5 7-6 14-1 14-5 7 1 14-9 7-2 7 5 8-8 7-3 7 3 7-2 7-2 7-6 14 2 21-5 7-2 7-6 7 7 15-5 7-5 7-3 14-2 14-6 7 1 7-2 7-7 14 2 7-7 8 0 7 4 7 0 7-5 14 1 7-2 14-10 14 2 7-6 21-8 8 2 21-3 14-10 14 2 14-2 50-14 6 8-50 14-14 2-14-2-14 10-21 3-7-2-21 8-8 6-14-2-14 10-7 1-14 0-7 4-7 0-7-3-7 0-7 7-15-2-7 6-7 3-7-2-14 7-14 2-7 2-7 6-14 4-7-6-8 5-7 3-21 4-14-2-7 6-7 2-7 2-7-2-7 2-7 9-7-6-8 2-14 9-7-1-14 6-14 0-7 6-7-4-21 14-7-6-8 9-21 5-7-5-21 10-7 2-7 0-7-1-7-4-7 2-15 8-7 0-7 3-7 10-7-6-7 10-21 6-14-2-7-6-7 3-15 14-7-4-14 3-7 5-7 9-14 5-7-5-7 1-7 3-7-8-7-1-7-5-8 4-7 11-7-3-7-9-7 20-14 15-7 21-7 4-7-36z"/></g>
<use href="#a40" fill="url(#ws)" stroke="#ff2900" stroke-width="4"/>
<g fill="#ff2e00"><path id="a41" d="M571 562l7 36 7-4 7-21 14-15 7-20 7 9 7 3 7-11 8-4 7 5 7 1 7 8 7-3 7-1 7 5 14-5 7-9 7-5 14-3 7 4 15-14 7-3 7 6 14 2 21-6 7-10 7 6 7-10 7-3 7 0 15-8 7-2 7 4 7 1 7 0 7-2 21-10 7 5 21-5 8-9 7 6 21-14 7 4 7-6 14 0 14-6 7 1 14-9 8-2 7 6 7-9 7-2 7 2 7-2 7-2 7-6 14 2 21-4 7-3 8-5 7 6 14-4 7-6 7-2 14-2 14-7 7 2 7-3 7-6 15 2 7-7 7 0 7 3 7 0 7-4 14 0 7-1 14-10 14 2 8-6 21-8 7 2 21-3 14-10 14 2 14-2 50-14 6 8-49 14-14 1-15-1-14 10-21 2-7-1-21 8-7 6-14-3-15 11-7 1-14 0-7 4-7 0-7-4-7 1-7 6-14-1-7 6-8 2-7-1-14 6-14 2-7 3-7 5-14 5-7-7-7 6-7 2-22 4-14-1-7 5-7 2-7 2-7-2-7 2-7 9-7-6-7 3-15 9-7-2-14 6-14 1-7 5-7-4-21 14-7-6-7 9-22 5-7-5-21 10-7 1-7 1-14-5-7 2-14 8-8-1-7 4-7 9-7-5-7 10-21 6-14-2-7-6-7 2-14 15-8-4-14 3-7 5-7 9-14 4-7-4-7 1-7 2-7-7-7-1-7-6-8 5-7 10-7-3-7-8-7 19-14 15-7 21-7 4-7-35z"/></g>
<use href="#a41" fill="url(#ws)" stroke="#ff2e00" stroke-width="4"/>
<g fill="#ff3200"><path id="a42" d="M577 569l7 35 7-4 7-21 14-15 7-19 7 8 7 3 7-10 8-5 7 6 7 1 7 7 7-2 7-1 7 4 14-4 7-9 7-5 14-3 8 4 14-15 7-2 7 6 14 2 21-6 7-10 7 5 7-9 7-4 8 1 14-8 7-2 14 5 7-1 7-1 21-10 7 5 22-5 7-9 7 6 21-14 7 4 7-5 14-1 14-6 7 2 15-9 7-3 7 6 7-9 7-2 7 2 7-2 7-2 7-5 14 1 22-4 7-2 7-6 7 7 14-5 7-5 7-3 14-2 14-6 7 1 8-2 7-6 14 1 7-6 7-1 7 4 7 0 7-4 14 0 7-1 15-11 14 3 7-6 21-8 7 1 21-2 14-10 15 1 14-1 49-14 6 8-49 14-14 1-14-1-15 10-21 2-7-1-21 8-7 5-14-2-14 10-7 2-15-1-7 4-7 1-7-4-7 0-7 7-14-2-7 6-7 3-7-1-15 6-14 2-7 2-7 6-14 4-7-6-7 5-7 3-21 4-15-2-7 6-7 2-7 2-7-3-7 3-7 8-7-5-7 2-14 9-7-2-15 6-14 1-7 5-7-4-21 14-7-6-7 9-22 5-7-5-21 10-7 1-7 1-14-5-7 2-14 8-7-1-8 3-7 10-7-5-7 10-21 6-14-3-7-5-7 2-14 14-8-3-14 2-7 5-7 9-14 5-7-5-7 1-7 3-7-8-7 0-7-6-8 4-7 11-7-3-7-9-7 20-14 15-7 20-7 5-7-36z"/></g>
<use href="#a42" fill="url(#ws)" stroke="#ff3200" stroke-width="4"/>
<g fill="#ff3700"><path id="a43" d="M583 575l7 36 7-5 7-20 14-15 7-20 7 9 7 3 7-11 8-4 7 6 7 0 7 8 7-3 7-1 7 5 14-5 7-9 7-5 14-2 8 3 14-14 7-2 7 5 14 3 21-6 7-10 7 5 7-10 8-3 7 1 14-8 7-2 14 5 7-1 7-1 21-10 7 5 22-5 7-9 7 6 21-14 7 4 7-5 14-1 15-6 7 2 14-9 7-2 7 5 7-8 7-3 7 3 7-2 7-2 7-6 15 2 21-4 7-3 7-5 7 6 14-4 7-6 7-2 14-2 15-6 7 1 7-3 7-6 14 2 7-7 7 0 7 4 7-1 7-4 15 1 7-2 14-10 14 2 7-5 21-8 7 1 21-2 15-10 14 1 14-1 49-14 7 8-50 14-14 1-14-1-14 10-21 2-8-1-21 8-7 5-14-2-14 10-7 1-14 0-8 4-7 0-7-3-7 0-7 6-14-1-7 6-7 3-7-2-14 6-15 2-7 3-7 5-14 5-7-7-7 6-7 2-21 4-14-2-8 6-7 2-7 2-7-2-7 2-7 8-7-5-7 2-14 9-7-1-14 5-15 1-7 5-7-4-21 14-7-6-7 9-21 5-8-5-21 10-7 1-7 1-14-5-7 2-14 8-7-1-7 3-8 10-7-5-7 9-21 6-14-2-7-5-7 2-14 14-7-4-15 3-7 5-7 9-14 4-7-4-7 1-7 2-7-7-7-1-7-5-7 4-8 10-7-3-7-8-7 19-14 15-7 20-7 5-7-36z"/></g>
<use href="#a43" fill="url(#ws)" stroke="#ff3700" stroke-width="4"/>
<g fill="#ff3f00"><path id="a44" d="M589 581l7 36 7-5 7-20 14-15 7-19 7 8 7 3 8-10 7-4 7 5 7 1 7 7 7-2 7-1 7 4 14-4 7-9 7-5 15-3 7 4 14-14 7-2 7 5 14 2 21-6 7-9 7 5 8-10 7-3 7 1 14-8 7-2 14 5 7-1 7-1 21-10 8 5 21-5 7-9 7 6 21-14 7 4 7-5 15-1 14-5 7 1 14-9 7-2 7 5 7-8 7-2 7 2 7-2 7-2 8-6 14 2 21-4 7-2 7-6 7 7 14-5 7-5 7-3 15-2 14-6 7 2 7-3 7-6 14 1 7-6 7 0 7 3 7 0 8-4 14 0 7-1 14-10 14 2 7-5 21-8 8 1 21-2 14-10 14 1 14-1 50-14 5 8-50 14-14 1-14-1-14 10-21 2-7-1-22 8-7 5-14-2-14 10-7 1-14 0-7 4-7 0-7-3-7 0-7 6-14-1-8 6-7 3-7-2-14 6-14 2-7 3-7 5-14 4-7-6-7 6-7 2-21 4-15-2-7 6-7 2-7 2-7-2-7 2-7 8-7-5-7 2-14 9-7-1-14 5-14 1-7 5-8-4-21 13-7-5-7 9-21 5-7-5-21 10-7 1-7 1-14-5-7 2-15 8-7-1-7 3-7 10-7-5-7 9-21 6-14-2-7-5-7 2-14 14-7-4-15 3-7 5-7 9-14 4-7-4-14 3-7-7-7-1-7-5-7 4-7 10-7-3-7-8-7 19-15 15-7 20-7 4-7-35z"/></g>
<use href="#a44" fill="url(#ws)" stroke="#ff3f00" stroke-width="4"/>
<g fill="#ff4800"><path id="a45" d="M596 589l7 35 7-4 7-20 15-15 7-19 7 8 7 3 7-10 7-4 7 5 7 1 7 7 14-3 7 4 14-4 7-9 7-5 15-3 7 4 14-14 7-2 7 5 14 2 21-6 7-9 7 5 7-10 7-3 7 1 15-8 7-2 14 5 7-1 7-1 21-10 7 5 21-5 7-9 7 5 21-13 8 4 7-5 14-1 14-5 7 1 14-9 7-2 7 5 7-8 7-2 7 2 7-2 7-2 7-6 15 2 21-4 7-2 7-6 7 6 14-4 7-5 7-3 14-2 14-6 7 2 7-3 8-6 14 1 7-6 7 0 7 3 7 0 7-4 14 0 7-1 14-10 14 2 7-5 22-8 7 1 21-2 14-10 14 1 14-1 50-14 4 8-49 14-14 1-14-1-14 10-22 2-7-1-21 8-7 5-14-2-14 10-7 1-14 0-7 4-7 0-7-3-7 0-7 7-14-2-7 6-7 3-7-2-14 6-14 3-7 2-7 5-14 4-7-6-7 6-8 2-21 4-14-1-7 5-7 2-7 2-7-2-7 2-7 8-7-5-7 2-14 9-7-1-14 5-14 1-7 5-7-4-21 14-7-6-7 9-21 5-7-5-22 10-7 1-7 1-14-5-7 2-14 8-7-1-7 3-7 10-7-5-7 9-21 6-14-2-7-5-7 2-14 14-7-4-14 3-7 5-7 9-14 4-7-4-14 3-8-7-7-1-7-5-7 4-7 10-7-3-7-8-7 19-14 15-7 20-7 4-7-35z"/></g>
<use href="#a45" fill="url(#ws)" stroke="#ff4800" stroke-width="4"/>
<g fill="#ff5000"><path id="a46" d="M604 597l7 35 7-4 7-20 14-15 7-19 7 8 7 3 7-10 7-4 7 5 7 1 8 7 14-3 7 4 14-4 7-9 7-5 14-3 7 4 14-14 7-2 7 5 14 2 21-6 7-9 7 5 7-10 7-3 7 1 14-8 7-2 14 5 7-1 7-1 22-10 7 5 21-5 7-9 7 6 21-14 7 4 7-5 14-1 14-5 7 1 14-9 7-2 7 5 7-8 7-2 7 2 7-2 7-2 7-5 14 1 21-4 8-2 7-6 7 6 14-4 7-5 7-2 14-3 14-6 7 2 7-3 7-6 14 2 7-7 7 0 7 3 7 0 7-4 14 0 7-1 14-10 14 2 7-5 21-8 7 1 22-2 14-10 14 1 14-1 49-14 4 8-49 14-14 1-14-1-14 10-21 2-7-1-21 8-7 5-14-2-14 10-7 1-14 0-7 4-7 0-7-3-7 0-7 7-14-2-7 6-7 3-7-2-14 6-14 3-7 2-7 5-14 5-7-6-7 5-7 2-21 4-14-1-7 5-7 2-7 2-7-2-7 2-7 8-7-5-7 2-14 9-7-1-14 5-14 1-7 5-7-4-21 14-7-6-7 9-21 5-7-5-21 10-7 1-7 1-14-4-7 2-14 7-7 0-7 3-7 9-7-5-7 10-21 5-14-2-7-5-7 2-14 14-7-3-14 2-7 5-7 9-14 4-7-4-14 3-7-7-7 0-7-6-7 5-7 9-7-2-7-8-7 18-14 15-7 20-7 4-7-34z"/></g>
<use href="#a46" fill="url(#ws)" stroke="#ff5000" stroke-width="4"/>
<g fill="#ff5900"><path id="a47" d="M612 606l7 34 7-4 7-20 14-15 7-18 7 8 7 2 7-9 7-5 7 6 7 0 7 7 14-3 7 4 14-4 7-9 7-5 14-2 7 3 14-14 7-2 7 5 14 2 21-5 7-10 7 5 7-9 7-3 7 0 14-7 7-2 14 4 7-1 7-1 21-10 7 5 21-5 7-9 7 6 21-14 7 4 7-5 14-1 14-5 7 1 14-9 7-2 7 5 7-8 7-2 7 2 7-2 7-2 7-5 14 1 21-4 7-2 7-5 7 6 14-5 7-5 7-2 14-3 14-6 7 2 7-3 7-6 14 2 7-7 7 0 7 3 7 0 7-4 14 0 7-1 14-10 14 2 7-5 21-8 7 1 21-2 14-10 14 1 14-1 49-14 5 8-49 14-14 1-14-1-14 10-21 2-7-1-21 8-7 5-14-2-14 10-7 1-13 0-7 4-7 0-7-3-7 0-7 7-14-2-7 6-7 3-7-1-14 5-14 3-7 2-7 5-14 5-7-6-7 5-7 2-21 4-14-1-7 5-7 2-7 2-7-2-7 2-7 8-7-5-7 3-14 8-7-1-14 5-14 1-7 6-7-4-20 13-7-6-7 9-21 5-7-5-21 10-7 2-7 0-14-4-7 2-14 7-7 0-7 3-7 9-7-5-7 10-21 5-14-2-7-5-7 2-14 14-7-3-14 3-7 4-7 9-14 4-7-4-14 4-6-8-7 0-7-5-7 4-7 10-7-3-7-8-7 19-14 14-7 20-7 4-7-34z"/></g>
<use href="#a47" fill="url(#ws)" stroke="#ff5900" stroke-width="4"/>
<g fill="#ff6200"><path id="a48" d="M620 614l7 34 7-4 7-20 14-14 7-19 7 8 7 3 7-10 7-4 7 5 7 0 6 8 14-4 7 4 14-4 7-9 7-4 14-3 7 3 14-14 7-2 7 5 14 2 21-5 7-10 7 5 7-9 7-3 7 0 14-7 7-2 14 4 7 0 7-2 21-10 7 5 21-5 7-9 7 6 20-13 7 4 7-6 14-1 14-5 7 1 14-8 7-3 7 5 7-8 7-2 7 2 7-2 7-2 7-5 14 1 21-4 7-2 7-5 7 6 14-5 7-5 7-2 14-3 14-5 7 1 7-3 7-6 14 2 7-7 7 0 7 3 7 0 7-4 13 0 7-1 14-10 14 2 7-5 21-8 7 1 21-2 14-10 14 1 14-1 49-14 4 9-48 13-14 2-14-1-14 9-21 3-7-2-21 8-7 5-13-1-14 9-7 2-14 0-7 4-7 0-7-3-7 0-7 6-14-1-7 6-7 2-7-1-14 6-14 2-7 3-6 5-14 4-7-6-7 5-7 3-21 4-14-1-7 5-7 2-7 2-7-2-7 2-7 8-7-5-7 2-14 9-6-1-14 5-14 1-7 5-7-4-21 13-7-5-7 9-21 5-7-5-21 10-7 1-7 1-13-4-7 2-14 7-7 0-7 3-7 9-7-5-7 10-21 5-14-2-7-5-7 3-14 13-7-3-14 3-6 4-7 9-14 4-7-4-14 4-7-7-7-1-7-5-7 4-7 10-7-3-7-8-7 19-14 14-7 20-7 4-7-34z"/></g>
<use href="#a48" fill="url(#ws)" stroke="#ff6200" stroke-width="4"/>
<g fill="#ff6c00"><path id="a49" d="M627 623l7 34 7-4 7-20 14-14 7-19 7 8 7 3 7-10 7-4 7 5 7 1 7 7 14-4 7 4 14-4 7-9 6-4 14-3 7 3 14-13 7-3 7 5 14 2 21-5 7-10 7 5 7-9 7-3 7 0 14-7 7-2 13 4 7-1 7-1 21-10 7 5 21-5 7-9 7 5 21-13 7 4 7-5 14-1 14-5 6 1 14-9 7-2 7 5 7-8 7-2 7 2 7-2 7-2 7-5 14 1 21-4 7-3 7-5 7 6 14-4 6-5 7-3 14-2 14-6 7 1 7-2 7-6 14 1 7-6 7 0 7 3 7 0 7-4 14 0 7-2 14-9 13 1 7-5 21-8 7 2 21-3 14-9 14 1 14-2 48-13 5 10-49 13-13 2-14-1-14 9-21 3-7-1-21 7-7 6-13-2-14 9-7 2-14 0-7 4-7 0-7-3-7 1-7 6-14-1-6 5-7 3-7-1-14 6-14 2-7 2-7 5-14 5-7-6-7 5-6 3-21 4-14-1-7 5-7 2-7 2-7-2-7 2-7 8-7-5-7 2-13 9-7-1-14 5-14 1-7 5-7-4-21 13-7-5-6 9-21 5-7-5-21 10-7 1-7 1-14-4-7 2-13 8-7-1-7 3-7 9-7-4-7 9-21 6-14-2-7-5-7 2-13 13-7-3-14 3-7 5-7 8-14 4-7-3-14 3-7-7-7 0-6-5-7 4-7 9-7-2-7-8-7 18-14 15-7 19-7 4-7-33z"/></g>
<use href="#a49" fill="url(#ws)" stroke="#ff6c00" stroke-width="4"/>
<g fill="#ff7800"><path id="a50" d="M635 635l7 33 7-4 7-19 14-15 7-18 7 8 7 2 7-9 7-4 6 5 7 0 7 7 14-3 7 3 14-4 7-8 7-5 14-3 7 3 13-13 7-2 7 5 14 2 21-6 7-9 7 4 7-9 7-3 7 1 13-8 7-2 14 4 7-1 7-1 21-10 7 5 21-5 6-9 7 5 21-13 7 4 7-5 14-1 14-5 7 1 13-9 7-2 7 5 7-8 7-2 7 2 7-2 7-2 7-5 14 1 21-4 6-3 7-5 7 6 14-5 7-5 7-2 14-2 14-6 7 1 7-3 6-5 14 1 7-6 7-1 7 3 7 0 7-4 14 0 7-2 14-9 13 2 7-6 21-7 7 1 21-3 14-9 14 1 13-2 49-13 3 12-48 14-14 2-14-1-13 9-21 3-7-1-21 7-6 5-14-1-14 9-7 2-14 0-6 4-7 0-7-3-7 1-7 6-14-1-7 5-6 3-7-1-14 5-14 3-7 2-7 5-13 5-7-6-7 5-7 3-21 4-13-1-7 5-7 2-7 2-7-2-7 2-7 8-7-5-6 3-14 8-7-1-14 5-14 1-6 5-7-3-21 13-7-5-7 8-20 5-7-4-21 9-7 2-7 1-13-4-7 2-14 7-7 0-7 2-7 9-7-4-6 9-21 6-14-2-7-5-7 3-13 13-7-3-14 3-7 4-7 8-14 5-6-4-14 4-7-7-7-1-7-4-7 4-7 9-6-2-7-8-7 18-14 14-7 19-7 4-7-32z"/></g>
<use href="#a50" fill="url(#ws)" stroke="#ff7800" stroke-width="4"/>
<g fill="#ff8d00"><path id="a51" d="M644 649l7 32 7-4 7-19 14-14 7-18 7 8 6 2 7-9 7-4 7 4 7 1 7 7 14-4 6 4 14-5 7-8 7-4 14-3 7 3 13-13 7-3 7 5 14 2 21-6 6-9 7 4 7-9 7-2 7 0 14-7 7-2 13 4 7-1 7-2 21-9 7 4 20-5 7-8 7 5 21-13 7 3 6-5 14-1 14-5 7 1 14-8 6-3 7 5 7-8 7-2 7 2 7-2 7-2 7-5 13 1 21-4 7-3 7-5 7 6 13-5 7-5 7-2 14-3 14-5 7 1 6-3 7-5 14 1 7-6 7-1 7 3 7 0 6-4 14 0 7-2 14-9 14 1 6-5 21-7 7 1 21-3 13-9 14 1 14-2 48-14 4 20-48 13-13 1-14 0-14 9-20 2-7-1-21 8-7 5-13-2-14 9-7 2-14 0-6 4-7 0-7-3-7 1-7 5-13 0-7 5-7 2-7-1-14 6-13 2-7 3-7 4-14 5-7-5-6 4-7 3-21 4-14-1-6 5-7 2-7 2-7-2-7 2-7 8-7-5-6 2-14 8-7-1-14 5-13 2-7 5-7-4-21 12-6-4-7 8-21 5-7-5-20 10-7 1-7 1-14-4-6 2-14 7-7 0-7 3-7 8-7-4-6 9-21 6-14-2-6-4-7 2-14 12-7-3-14 3-6 5-7 8-14 4-7-4-13 4-7-7-7 0-7-5-7 4-7 9-7-2-6-7-7 17-14 14-7 18-7 4-7-31z"/></g>
<use href="#a51" fill="url(#ws)" stroke="#ff8d00" stroke-width="4"/>
<g fill="#ffaf00"><path id="a52" d="M652 663l7 31 7-4 7-18 14-14 7-17 6 7 7 2 7-9 7-4 7 5 7 0 7 7 13-4 7 4 14-4 7-8 6-5 14-3 7 3 14-12 7-2 6 4 14 2 21-6 6-9 7 4 7-8 7-3 7 0 14-7 6-2 14 4 7-1 7-1 20-10 7 5 21-5 7-8 6 4 21-12 7 4 7-5 13-2 14-5 7 1 14-8 6-2 7 5 7-8 7-2 7 2 7-2 7-2 6-5 14 1 21-4 7-3 6-4 7 5 14-5 7-4 7-3 13-2 14-6 7 1 7-2 7-5 13 0 7-5 7-1 7 3 7 0 6-4 14 0 7-2 14-9 13 2 7-5 21-8 7 1 20-2 14-9 14 0 13-1 48-13 6 29-48 13-14 1-13 0-14 8-20 2-7-1-21 7-7 5-13-2-14 9-7 1-14 0-6 4-7 0-7-3-7 1-7 5-13-1-7 5-7 3-7-1-14 5-13 2-7 2-7 5-14 4-7-5-6 4-7 2-21 4-13-1-7 5-7 2-7 1-7-1-7 2-7 7-6-5-7 2-14 8-7-1-13 5-14 1-7 5-7-4-20 12-7-5-7 8-21 5-6-5-21 9-7 1-7 1-13-4-7 2-14 7-7 0-7 2-6 8-7-4-7 9-21 5-13-2-7-4-7 2-14 12-7-3-13 3-7 4-7 8-14 3-6-3-14 3-7-6-7-1-7-4-7 3-6 9-7-2-7-7-7 16-14 14-6 17-7 4-7-31z"/></g>
<use href="#a52" fill="url(#ws)" stroke="#ffaf00" stroke-width="4"/>
<g fill="#ffd000"><path id="a53" d="M659 676l7 31 7-4 6-17 14-14 7-16 7 7 7 2 6-9 7-3 7 4 7 1 7 6 14-3 6 3 14-3 7-8 7-4 13-3 7 3 14-12 7-2 7 4 13 2 21-5 7-9 7 4 6-8 7-2 7 0 14-7 7-2 13 4 7-1 7-1 21-9 6 5 21-5 7-8 7 5 20-12 7 4 7-5 14-1 13-5 7 1 14-8 7-2 6 5 7-7 7-2 7 1 7-1 7-2 7-5 13 1 21-4 7-2 6-4 7 5 14-4 7-5 7-2 13-2 14-5 7 1 7-3 7-5 13 1 7-5 7-1 7 3 7 0 6-4 14 0 7-1 14-9 13 2 7-5 21-7 7 1 20-2 14-8 13 0 14-1 48-13 6 30-48 11-14 2-13-1-14 8-20 2-7-1-21 6-7 5-13-2-14 8-7 1-14 0-6 3-7 1-7-3-7 1-7 5-13-1-7 4-7 3-7-1-14 4-13 3-7 2-7 4-14 3-7-4-6 4-7 2-21 3-13-1-7 5-7 1-7 2-7-2-7 2-6 7-7-4-7 1-14 8-7-1-13 4-14 1-7 4-7-3-20 11-7-5-7 8-20 4-7-4-21 8-7 1-6 1-14-4-7 2-14 6-6 0-7 2-7 8-7-4-7 8-20 5-14-2-7-4-7 2-13 11-7-3-14 3-7 4-7 7-13 4-7-4-14 3-7-6-7-1-6-4-7 3-7 9-7-2-7-7-7 16-13 12-7 18-7 3-7-30z"/></g>
<use href="#a53" fill="url(#ws)" stroke="#ffd000" stroke-width="4"/>
<g fill="#fff300"><path id="a54" d="M665 690l7 30 7-3 7-18 13-12 7-16 7 7 7 2 7-9 7-3 6 4 7 1 7 6 14-3 7 4 13-4 7-7 7-4 14-3 7 3 13-11 7-2 7 4 14 2 20-5 7-8 7 4 7-8 7-2 6 0 14-6 7-2 14 4 6-1 7-1 21-8 7 4 20-4 7-8 7 5 20-11 7 3 7-4 14-1 13-4 7 1 14-8 7-1 7 4 6-7 7-2 7 2 7-2 7-1 7-5 13 1 21-3 7-2 6-4 7 4 14-3 7-4 7-2 13-3 14-4 7 1 7-3 7-4 13 1 7-5 7-1 7 3 7-1 6-3 14 0 7-1 14-8 13 2 7-5 21-6 7 1 20-2 14-8 13 1 14-2 48-11 6 30-48 10-14 1-13 0-14 7-21 2-6-1-21 6-7 4-13-2-14 8-7 1-14 0-6 3-7 0-7-3-7 1-7 4-13 0-7 4-7 2-7-1-14 4-13 2-14 6-14 3-6-4-7 4-7 1-21 4-13-1-7 4-7 1-7 2-7-2-6 2-7 6-7-4-7 2-14 6-6-1-14 4-14 1-7 4-7-3-20 10-7-4-7 7-20 4-7-4-21 8-6 1-7 0-14-4-20 8-7-1-7 3-7 7-7-4-7 8-20 4-14-2-7-4-6 2-14 11-7-3-14 2-6 4-7 7-14 3-7-3-13 3-7-7-7 0-7-5-7 4-7 8-6-2-7-7-7 15-14 12-7 17-7 3-6-29z"/></g>
<use href="#a54" fill="url(#ws)" stroke="#fff300" stroke-width="4"/>
<g fill="#deff21"><path id="a55" d="M672 704l6 29 7-3 7-17 14-12 7-15 7 7 6 2 7-8 7-4 7 5 7 0 7 7 13-3 7 3 14-3 7-7 6-4 14-2 7 3 14-11 6-2 7 4 14 2 20-4 7-8 7 4 7-7 7-3 7 1 20-8 14 4 7 0 6-1 21-8 7 4 20-4 7-7 7 4 20-10 7 3 7-4 14-1 14-4 6 1 14-6 7-2 7 4 7-6 6-2 7 2 7-2 7-1 7-4 13 1 21-4 7-1 7-4 6 4 14-3 14-6 13-2 14-4 7 1 7-2 7-4 13 0 7-4 7-1 7 3 7 0 6-3 14 0 7-1 14-8 13 2 7-4 21-6 6 1 21-2 14-7 13 0 14-1 48-10 7 33-48 10-28 0-13 7-21 2-7-1-20 5-7 4-14-1-13 6-7 2-14 0-7 2-7 1-7-3-6 1-7 4-14-1-7 4-7 2-6-1-14 4-14 2-14 5-13 3-7-4-7 4-7 2-20 3-14-1-7 3-7 2-7 1-6-1-7 1-7 6-7-4-7 2-14 6-6-1-14 4-14 1-7 4-6-3-21 9-7-4-7 7-20 3-7-4-21 8-6 1-7 0-14-3-21 7-6-1-7 2-7 7-7-3-7 7-20 4-14-2-7-4-7 2-13 10-7-2-14 1-7 4-7 7-13 3-7-3-14 2-7-6-7 0-6-5-7 4-7 7-7-2-7-6-7 14-13 12-7 16-7 3-7-28z"/></g>
<use href="#a55" fill="url(#ws)" stroke="#deff21" stroke-width="4"/>
<g fill="#adff52"><path id="a56" d="M677 727l7 28 7-3 7-16 13-12 7-14 7 6 7 2 7-7 7-4 6 5 7 0 7 6 14-2 7 3 13-3 7-7 7-4 14-1 7 2 13-10 7-2 7 4 14 2 20-4 7-7 7 3 7-7 7-2 6 1 21-7 14 3 7 0 6-1 21-8 7 4 20-3 7-7 7 4 21-9 6 3 7-4 14-1 14-4 6 1 14-6 7-2 7 4 7-6 7-1 6 1 7-1 7-2 7-3 14 1 20-3 7-2 7-4 7 4 13-3 14-5 14-2 14-4 6 1 7-2 7-4 14 1 7-4 6-1 7 3 7-1 7-2 14 0 7-2 13-6 14 1 7-4 20-5 7 1 21-2 13-7 28 0 48-10 7 28-48 10-28 1-13 6-21 2-7 0-20 5-7 3-14 0-14 6-7 1-13 0-7 3-7 0-7-2-7 1-7 4-13-1-7 4-7 2-7-1-14 4-13 2-28 8-7-3-13 5-21 3-14-1-7 4-7 1-6 2-7-1-7 1-7 6-7-4-20 8-7-1-14 4-14 1-7 3-6-2-21 9-7-4-7 6-20 4-7-3-21 7-7 1-7 0-13-3-21 7-7 0-7 2-6 7-7-4-7 7-21 4-13-1-7-4-7 2-14 10-7-3-13 2-7 4-7 6-14 3-7-3-14 3-6-6-7 0-7-4-7 3-7 8-7-2-7-6-6 13-14 11-7 15-7 3-7-26z"/></g>
<use href="#a56" fill="url(#ws)" stroke="#adff52" stroke-width="4"/>
<g fill="#82ff7d"><path id="a57" d="M682 758l7 26 7-3 7-15 14-11 6-13 7 6 7 2 7-8 7-3 7 4 7 0 6 6 14-3 7 3 14-3 7-6 7-4 13-2 7 3 14-10 7-2 7 4 13 1 21-4 7-7 7 4 6-7 7-2 7 0 21-7 13 3 7 0 7-1 21-7 7 3 20-4 7-6 7 4 21-9 6 2 7-3 14-1 14-4 7 1 20-8 7 4 7-6 7-1 7 1 6-2 7-1 7-4 14 1 21-3 13-5 7 3 28-8 13-2 14-4 7 1 7-2 7-4 13 1 7-4 7-1 7 2 7 0 7-3 13 0 7-1 14-6 14 0 7-3 20-5 7 0 21-2 13-6 28-1 48-10 5 18-48 11-28 2-13 6-28 2-20 6-7 4-14-1-13 7-7 1-14 1-7 2-7 1-6-2-7 1-7 4-14 0-13 6-7 0-14 4-14 2-27 9-7-4-14 6-20 3-14 0-14 5-6 2-7-1-7 2-7 5-7-3-20 8-7 0-14 4-13 1-7 4-7-3-21 10-7-3-6 5-21 5-7-3-27 8-7 1-14-2-20 7-7 0-7 2-7 6-7-2-6 6-21 5-14-1-6-3-7 2-14 9-7-2-14 3-6 3-7 6-14 3-7-2-13 3-7-5-7 0-7-3-7 3-7 7-7-2-6-5-7 13-14 10-7 14-7 3-6-23z"/></g>
<use href="#a57" fill="url(#ws)" stroke="#82ff7d" stroke-width="4"/>
<g fill="#6cff93"><path id="a58" d="M690 797l6 23 7-3 7-14 14-10 7-13 6 5 7 2 7-7 7-3 7 3 7 0 7 5 13-3 7 2 14-3 7-6 6-3 14-3 7 2 14-9 7-2 6 3 14 1 21-5 6-6 7 2 7-6 7-2 7 0 20-7 14 2 7-1 27-8 7 3 21-5 6-5 7 3 21-10 7 3 7-4 13-1 14-4 7 0 20-8 7 3 7-5 7-2 7 1 6-2 14-5 14 0 20-3 14-6 7 4 27-9 14-2 14-4 7 0 13-6 14 0 7-4 7-1 6 2 7-1 7-2 14-1 7-1 13-7 14 1 7-4 20-6 28-2 13-6 28-2 48-11 8 15-48 11-27 2-14 6-28 3-20 6-7 3-14 0-14 7-7 1-13 1-7 3-7 0-7-1-7 1-7 3-13 1-14 5-7 0-14 4-14 3-27 8-7-3-14 6-21 3-13 1-14 5-7 1-7-1-7 2-7 5-6-2-21 8-7-1-14 4-14 2-6 3-7-2-21 9-7-2-7 5-20 5-7-3-28 9-7 0-13-1-21 7-7 0-7 2-7 6-7-3-7 6-20 5-14 0-7-3-7 2-14 9-6-2-14 3-7 3-7 6-14 3-7-2-13 3-7-4-7 0-7-3-7 3-7 7-7-2-7-4-6 12-14 10-7 13-7 3-7-22z"/></g>
<use href="#a58" fill="url(#ws)" stroke="#6cff93" stroke-width="4"/>
<g fill="#58ffa7"><path id="a59" d="M693 817l7 22 7-3 7-13 14-10 6-12 7 4 7 2 7-7 7-3 7 3 7 0 7 4 13-3 7 2 14-3 7-6 7-3 14-3 6 2 14-9 7-2 7 3 14 0 20-5 7-6 7 3 7-6 7-2 7 0 21-7 13 1 7 0 28-9 7 3 20-5 7-5 7 2 21-9 7 2 6-3 14-2 14-4 7 1 21-8 6 2 7-5 7-2 7 1 7-1 14-5 13-1 21-3 14-6 7 3 27-8 14-3 14-4 7 0 14-5 13-1 7-3 7-1 7 1 7 0 7-3 13-1 7-1 14-7 14 0 7-3 20-6 28-3 14-6 27-2 48-11 9 15-48 11-28 3-14 6-27 3-21 5-7 4-14 0-14 6-7 2-14 1-13 3-7-1-7 1-7 3-14 1-14 6-7-1-14 5-14 2-27 9-7-3-14 5-21 4-14 0-14 6-20 2-7 5-7-2-21 7-7 0-14 4-14 2-7 3-7-1-20 9-7-3-7 5-21 5-7-2-28 8-7 1-13-2-21 7-7 1-7 2-7 6-7-3-7 6-21 5-13 0-7-3-7 2-14 9-7-1-14 2-7 4-7 5-14 4-7-2-13 3-7-4-7 0-7-3-7 3-7 7-7-2-7-4-7 12-14 9-7 13-7 3-7-20z"/></g>
<use href="#a59" fill="url(#ws)" stroke="#58ffa7" stroke-width="4"/>
<g fill="#4fb"><path id="a60" d="M696 837l7 20 7-3 7-13 14-9 7-12 7 4 7 2 7-7 7-3 7 3 7 0 7 4 13-3 7 2 14-4 7-5 7-4 14-2 7 1 14-9 7-2 7 3 13 0 21-5 7-6 7 3 7-6 7-2 7-1 21-7 13 2 7-1 28-8 7 2 21-5 7-5 7 3 20-9 7 1 7-3 14-2 14-4 7 0 21-7 7 2 7-5 20-2 14-6 14 0 21-4 14-5 7 3 27-9 14-2 14-5 7 1 14-6 14-1 7-3 7-1 7 1 13-3 14-1 7-2 14-6 14 0 7-4 21-5 27-3 14-6 28-3 48-11 9 15-48 11-28 3-14 6-28 3-21 6-7 3-14 1-14 6-7 1-14 2-14 3-7-1-7 1-7 4-14 0-14 6-7 0-28 6-27 9-7-2-14 5-21 4-14 0-14 5-21 3-7 5-7-2-21 7-7 0-14 4-14 2-7 4-7-2-21 9-7-2-7 5-21 4-6-2-28 9-7 1-14-2-21 7-7 1-7 2-7 5-7-2-7 6-21 5-14 0-7-2-7 2-14 8-7-1-14 3-14 8-14 4-7-2-14 3-7-3-7 0-7-3-6 3-7 6-7-1-7-4-7 11-14 10-7 12-7 2-7-18z"/></g>
<use href="#a60" fill="url(#ws)" stroke="#4fb" stroke-width="4"/>
<g fill="#3cffc3"><path id="a61" d="M700 856l7 18 7-2 7-12 14-10 7-11 7 4 7 1 7-6 6-3 7 3 7 0 7 3 14-3 7 2 14-4 14-8 14-3 7 1 14-8 7-2 7 2 14 0 21-5 7-6 7 2 7-5 7-2 7-1 21-7 14 2 7-1 28-9 6 2 21-4 7-5 7 2 21-9 7 2 7-4 14-2 14-4 7 0 21-7 7 2 7-5 21-3 14-5 14 0 21-4 14-5 7 2 27-9 28-6 7 0 14-6 14 0 7-4 7-1 7 1 14-3 14-2 7-1 14-6 14-1 7-3 21-6 28-3 14-6 28-3 48-11 7 9-49 12-28 3-14 5-28 4-21 6-7 3-14 0-14 6-7 2-14 1-14 4-7-1-7 1-7 3-13 1-14 6-7 0-28 6-28 9-7-2-14 5-21 4-14 0-14 5-21 3-7 5-7-2-21 8-7 0-14 4-14 2-7 3-7-1-21 8-7-2-7 5-20 5-7-2-28 8-7 1-14-1-21 7-7 0-7 3-7 5-7-2-7 6-21 5-14 0-7-2-7 2-14 8-7-1-14 3-14 8-14 4-7-2-14 3-7-3-7 0-7-2-7 3-6 6-7-1-7-4-7 11-14 9-7 12-7 2-7-18z"/></g>
<use href="#a61" fill="url(#ws)" stroke="#3cffc3" stroke-width="4"/>
<g fill="#35ffca"><path id="a62" d="M706 867l7 18 7-2 7-12 14-9 7-11 7 4 7 1 6-6 7-3 7 2 7 0 7 3 14-3 7 2 14-4 14-8 14-3 7 1 14-8 7-2 7 2 14 0 21-5 7-6 7 2 7-5 7-3 7 0 21-7 14 1 7-1 28-8 7 2 20-5 7-5 7 2 21-8 7 1 7-3 14-2 14-4 7 0 21-8 7 2 7-5 21-3 14-5 14 0 21-4 14-5 7 2 28-9 28-6 7 0 14-6 13-1 7-3 7-1 7 1 14-4 14-1 7-2 14-6 14 0 7-3 21-6 28-4 14-5 28-3 49-12 6 9-49 11-28 4-14 5-28 4-21 6-7 3-14 1-14 6-7 1-13 1-14 4-7-1-7 1-7 4-14 0-14 6-7 0-28 7-28 8-7-2-14 5-21 4-14 1-14 5-21 3-7 5-7-2-21 8-7 0-14 4-14 1-7 4-6-2-21 9-7-2-7 5-21 5-7-2-28 8-7 2-14-1-21 6-7 1-7 2-7 5-7-1-7 5-21 5-14 0-7-2-7 2-14 9-7-2-14 3-14 9-14 3-7-1-13 3-7-4-7 1-7-2-7 3-7 5-7 0-7-4-7 11-14 9-7 11-7 3-7-18z"/></g>
<use href="#a62" fill="url(#ws)" stroke="#35ffca" stroke-width="4"/>
<g fill="#2dffd2"><path id="a63" d="M712 878l7 18 7-3 7-11 14-9 7-11 7 4 7 0 7-5 7-3 7 2 7-1 7 4 13-3 7 1 14-3 14-9 14-3 7 2 14-9 7-2 7 2 14 0 21-5 7-5 7 1 7-5 7-2 7-1 21-6 14 1 7-2 28-8 7 2 21-5 7-5 7 2 21-9 6 2 7-4 14-1 14-4 7 0 21-8 7 2 7-5 21-3 14-5 14-1 21-4 14-5 7 2 28-8 28-7 7 0 14-6 14 0 7-4 7-1 7 1 14-4 13-1 7-1 14-6 14-1 7-3 21-6 28-4 14-5 28-4 49-11 6 9-49 11-28 4-14 5-28 4-21 6-7 3-13 1-14 6-7 1-14 2-14 3-7-1-7 1-7 4-14 1-14 5-7 0-28 7-28 9-7-2-14 5-21 4-14 1-14 5-21 3-7 5-7-2-21 7-6 1-14 4-14 1-7 4-7-2-21 9-7-2-7 5-21 5-7-2-28 9-7 1-14-1-21 7-14 2-7 6-7-2-7 5-21 5-14 1-7-2-7 2-14 8-7-1-14 3-13 8-14 4-7-2-14 3-7-3-7 1-7-2-7 2-7 6-7 0-7-4-7 10-14 9-7 11-7 3-7-17z"/></g>
<use href="#a63" fill="url(#ws)" stroke="#2dffd2" stroke-width="4"/>
<g fill="#26ffd9"><path id="a64" d="M718 889l7 17 7-3 7-11 14-9 7-10 7 4 7 0 7-6 7-2 7 2 7-1 7 3 14-3 7 2 14-4 13-8 14-3 7 1 14-8 7-2 7 2 14-1 21-5 7-5 7 2 7-6 14-2 21-7 14 1 7-1 28-9 7 2 21-5 7-5 7 2 21-9 7 2 7-4 14-1 14-4 6-1 21-7 7 2 7-5 21-3 14-5 14-1 21-4 14-5 7 2 28-9 28-7 7 0 14-5 14-1 7-4 7-1 7 1 14-3 14-2 7-1 14-6 13-1 7-3 21-6 28-4 14-5 28-4 49-11 6 8-49 12-28 4-14 5-27 4-21 6-7 3-14 1-14 6-7 1-14 2-14 3-14 1-7 3-14 1-14 6-7 0-28 7-28 8-7-2-14 5-21 5-14 1-14 5-21 3-6 4-7-1-21 7-7 0-14 4-14 2-7 4-7-2-21 9-7-2-7 5-21 5-7-2-28 9-7 1-14-1-21 7-14 3-7 5-7-2-7 6-21 5-14 0-7-2-6 2-14 8-7-1-14 3-14 8-14 4-7-1-14 3-7-3-7 0-7-2-7 3-7 6-7-1-7-3-7 10-14 9-7 11-7 2-7-16z"/></g>
<use href="#a64" fill="url(#ws)" stroke="#26ffd9" stroke-width="4"/>
<g fill="#1fffe0"><path id="a65" d="M724 900l7 16 7-2 7-11 14-9 7-10 7 3 7 1 7-6 7-3 7 2 7 0 7 3 14-3 7 1 14-4 14-8 14-3 7 1 14-8 6-2 7 2 14 0 21-5 7-6 7 2 7-5 14-3 21-7 14 1 7-1 28-9 7 2 21-5 7-5 7 2 21-9 7 2 7-4 14-2 14-4 7 0 21-7 7 1 6-4 21-3 14-5 14-1 21-5 14-5 7 2 28-8 28-7 7 0 14-6 14-1 7-3 14-1 14-3 14-2 7-1 14-6 14-1 7-3 21-6 27-4 14-5 28-4 49-12 6 9-49 12-27 3-14 6-28 4-28 9-14 1-14 6-7 1-14 2-14 3-14 1-7 3-14 1-14 6-7 0-28 7-28 9-7-2-14 5-21 4-13 1-14 5-21 3-7 5-7-2-21 8-7 0-14 4-14 2-7 3-7-1-21 9-7-2-7 5-21 5-7-2-28 9-7 1-14-1-21 7-14 3-7 5-7-2-7 6-20 5-14 0-7-1-7 1-14 9-7-1-14 3-14 8-14 3-7-1-14 3-7-3-7 1-7-2-7 3-7 5-7 0-7-3-7 10-14 8-7 11-7 3-7-16z"/></g>
<use href="#a65" fill="url(#ws)" stroke="#1fffe0" stroke-width="4"/>
<g fill="#19ffe6"><path id="a66" d="M730 911l7 16 7-3 7-11 14-8 7-10 7 3 7 0 7-5 7-3 7 2 7-1 7 3 14-3 7 1 14-3 14-8 14-3 7 1 14-9 7-1 7 1 14 0 20-5 7-6 7 2 7-5 14-3 21-7 14 1 7-1 28-9 7 2 21-5 7-5 7 2 21-9 7 1 7-3 14-2 14-4 7 0 21-8 7 2 7-5 21-3 14-5 13-1 21-4 14-5 7 2 28-9 28-7 7 0 14-6 14-1 7-3 14-1 14-3 14-2 7-1 14-6 14-1 28-9 28-4 14-6 27-3 49-12 6 8-48 12-28 3-14 6-28 4-28 9-14 1-21 7-14 2-14 4-14 0-7 4-14 1-14 5-7 0-28 7-28 9-7-2-13 5-21 5-14 1-14 5-21 3-7 4-7-1-21 7-7 1-14 4-14 2-7 3-7-1-21 9-7-2-7 5-21 5-7-2-28 8-7 2-14-1-20 7-14 3-7 5-7-2-7 6-21 5-14 0-7-1-7 2-14 8-7-1-14 3-14 8-14 3-7-1-14 3-7-2-7 0-7-1-7 2-7 6-7-1-7-3-7 10-14 9-7 10-7 3-7-16z"/></g>
<use href="#a66" fill="url(#ws)" stroke="#19ffe6" stroke-width="4"/>
<g fill="#12ffed"><path id="a67" d="M736 920l7 16 7-3 7-10 14-9 7-10 7 3 7 1 7-6 7-2 7 1 7 0 7 2 14-3 7 1 14-3 14-8 14-3 7 1 14-8 7-2 7 1 14 0 21-5 7-6 7 2 7-5 14-3 20-7 14 1 7-2 28-8 7 2 21-5 7-5 7 2 21-9 7 1 7-3 14-2 14-4 7-1 21-7 7 1 7-4 21-3 14-5 14-1 21-5 13-5 7 2 28-9 28-7 7 0 14-5 14-1 7-4 14 0 14-4 14-2 21-7 14-1 28-9 28-4 14-6 28-3 48-12 6 8-48 11-28 4-14 6-28 4-28 9-14 1-21 7-28 6-14 0-7 4-14 1-14 5-7 1-28 7-27 8-7-1-14 5-21 4-14 1-14 5-21 4-7 4-7-1-21 7-7 0-14 4-14 2-7 4-7-1-21 8-7-1-7 4-21 5-7-1-27 8-21 1-21 7-14 3-7 5-7-2-7 6-21 5-14 1-7-2-7 2-14 8-7-1-14 3-14 8-14 3-7-1-14 4-7-3-7 1-7-2-7 3-7 5-7 0-6-3-7 9-14 9-7 10-7 3-7-16z"/></g>
<use href="#a67" fill="url(#ws)" stroke="#12ffed" stroke-width="4"/>
<g fill="#0cfff3"><path id="a68" d="M743 929l7 16 7-3 7-10 14-9 7-9 6 3 7 0 7-5 7-3 7 2 7-1 7 3 14-4 7 1 14-3 14-8 14-3 7 1 14-8 7-2 7 2 14-1 21-5 7-6 7 2 7-5 14-3 21-7 21-1 27-8 7 1 21-5 7-4 7 1 21-8 7 1 7-4 14-2 14-4 7 0 21-7 7 1 7-4 21-4 14-5 14-1 21-4 14-5 7 1 27-8 28-7 7-1 14-5 14-1 7-4 14 0 28-6 21-7 14-1 28-9 28-4 14-6 28-4 48-11 6 7-48 12-28 4-14 6-28 4-28 9-14 1-21 8-28 5-14 0-7 4-14 1-14 6-7 0-27 7-28 9-7-2-14 5-21 5-14 1-14 5-21 3-7 5-7-2-21 8-7 0-14 4-14 2-7 3-7-1-21 9-7-2-7 5-20 5-7-1-28 8-21 1-21 7-14 3-7 5-7-1-7 5-21 5-14 1-7-2-7 2-14 8-7-1-14 3-14 8-14 4-6-1-14 3-7-3-7 1-7-2-7 3-7 6-7-1-7-3-7 10-14 8-7 10-7 3-7-15z"/></g>
<use href="#a68" fill="url(#ws)" stroke="#0cfff3" stroke-width="4"/>
<g fill="#05fffa"><path id="a69" d="M749 939l7 15 7-3 7-10 14-8 7-10 7 3 7 1 7-6 7-3 7 2 7-1 7 3 14-3 6 1 14-4 14-8 14-3 7 1 14-8 7-2 7 2 14-1 21-5 7-5 7 1 7-5 14-3 21-7 21-1 28-8 7 1 20-5 7-5 7 2 21-9 7 1 7-3 14-2 14-4 7 0 21-8 7 2 7-5 21-3 14-5 14-1 21-5 14-5 7 2 28-9 27-7 7 0 14-6 14-1 7-4 14 0 28-5 21-8 14-1 28-9 28-4 14-6 28-4 48-12 6 8-48 12-28 4-14 6-28 4-28 9-14 1-21 8-28 5-14 1-7 3-14 2-14 5-6 0-28 7-28 9-7-2-14 5-21 5-14 1-14 5-21 4-7 4-7-1-21 7-7 1-28 6-7 3-6-1-21 9-7-2-7 5-21 5-7-1-28 8-21 1-21 7-14 3-7 5-7-1-7 5-21 5-14 1-7-2-7 2-14 8-6-1-14 3-14 8-14 4-7-1-14 3-7-2-7 0-7-1-7 3-7 5-7 0-7-3-7 9-14 8-7 10-7 3-7-15z"/></g>
<use href="#a69" fill="url(#ws)" stroke="#05fffa" stroke-width="4"/>
<g fill="#00fdff"><path id="a70" d="M755 948l7 15 7-3 7-10 14-8 7-9 7 3 7 0 7-5 7-3 7 1 7 0 7 2 14-3 7 1 14-4 14-8 14-3 6 1 14-8 7-2 7 2 14-1 21-5 7-5 7 1 7-5 14-3 21-7 21-1 28-8 7 1 21-5 7-5 7 2 21-9 6 1 7-3 28-6 7-1 21-7 7 1 7-4 21-4 14-5 14-1 21-5 14-5 7 2 28-9 28-7 6 0 14-5 14-2 7-3 14-1 28-5 21-8 14-1 28-9 28-4 14-6 28-4 48-12 7 8-49 13-28 4-14 5-28 5-28 9-14 1-21 7-28 6-13 0-7 4-14 1-14 5-7 1-28 7-28 9-7-2-14 5-21 5-14 1-14 5-21 4-7 4-7-1-21 7-34 7-7 3-7-1-21 8-7-1-7 5-21 5-7-2-28 9-21 1-21 7-14 3-7 5-7-2-7 5-21 6-14 1-7-2-7 2-13 8-7-1-14 3-14 8-14 4-7-1-14 3-7-2-7 1-7-2-7 3-7 5-7 0-7-3-7 9-14 8-7 10-7 3-7-14z"/></g>
<use href="#a70" fill="url(#ws)" stroke="#00fdff" stroke-width="4"/>
<g fill="#00f4ff"><path id="a71" d="M761 958l7 14 7-3 7-10 14-8 7-9 7 3 7 0 7-5 7-3 7 2 7-1 7 2 14-3 7 1 14-4 14-8 14-3 7 1 13-8 7-2 7 2 14-1 21-6 7-5 7 2 7-5 14-3 21-7 21-1 28-9 7 2 21-5 7-5 7 1 21-8 7 1 7-3 34-7 21-7 7 1 7-4 21-4 14-5 14-1 21-5 14-5 7 2 28-9 28-7 7-1 14-5 14-1 7-4 13 0 28-6 21-7 14-1 28-9 28-5 14-5 28-4 49-13 7 11-49 12-28 4-14 5-28 5-28 9-14 1-21 7-28 5-14 1-7 4-14 1-14 5-7 1-28 7-28 8-7-1-14 5-21 4-14 1-14 5-21 4-7 4-6-1-21 7-35 7-7 3-7-1-21 8-7-1-7 5-21 5-7-2-28 9-21 1-21 7-14 2-7 5-7-1-7 5-21 5-14 1-7-1-7 2-14 7-7 0-14 3-14 7-14 4-7-1-14 3-7-2-7 1-7-1-7 2-7 5-7 0-7-2-7 8-14 8-7 10-7 2-7-13z"/></g>
<use href="#a71" fill="url(#ws)" stroke="#00f4ff" stroke-width="4"/>
<g fill="#00ebff"><path id="a72" d="M766 966l7 13 7-2 7-10 14-8 7-8 7 2 7 0 7-5 7-2 7 1 7-1 7 2 14-3 7 1 14-4 14-7 14-3 7 0 14-7 7-2 7 1 14-1 21-5 7-5 7 1 7-5 14-2 21-7 21-1 28-9 7 2 21-5 7-5 7 1 21-8 7 1 7-3 35-7 21-7 6 1 7-4 21-4 14-5 14-1 21-4 14-5 7 1 28-8 28-7 7-1 14-5 14-1 7-4 14-1 28-5 21-7 14-1 28-9 28-5 14-5 28-4 49-12 7 10-49 12-28 4-14 6-28 4-28 9-14 1-21 7-28 5-14 1-7 3-14 2-14 5-7 0-28 7-28 9-7-2-14 5-21 5-14 1-14 5-21 3-7 4-7-1-21 7-35 7-7 3-7-1-21 8-7-1-7 5-21 5-7-2-28 9-21 1-21 6-14 3-7 5-7-1-7 5-21 5-14 1-7-1-7 1-14 8-7-1-14 3-14 8-14 3-7-1-14 4-7-3-7 1-7-1-7 3-7 5-7-1-7-2-7 8-14 8-7 10-7 2-7-13z"/></g>
<use href="#a72" fill="url(#ws)" stroke="#00ebff" stroke-width="4"/>
<g fill="#00e3ff"><path id="a73" d="M772 974l7 13 7-2 7-10 14-8 7-8 7 2 7 1 7-5 7-3 7 1 7-1 7 3 14-4 7 1 14-3 14-8 14-3 7 1 14-8 7-1 7 1 14-1 21-5 7-5 7 1 7-5 14-3 21-6 21-1 28-9 7 2 21-5 7-5 7 1 21-8 7 1 7-3 35-7 21-7 7 1 7-4 21-3 14-5 14-1 21-5 14-5 7 2 28-9 28-7 7 0 14-5 14-2 7-3 14-1 28-5 21-7 14-1 28-9 28-4 14-6 28-4 49-12 7 11-49 11-28 4-14 6-29 4-28 9-14 1-21 7-28 5-14 1-7 3-14 2-14 5-7 0-28 7-28 8-7-1-14 5-21 4-14 1-14 5-21 4-7 4-7-1-21 7-35 6-7 3-7 0-21 7-7-1-7 5-21 4-7-1-28 8-22 2-21 6-14 3-7 5-7-1-7 4-21 5-14 1-7-1-7 2-14 7-7 0-14 3-14 7-14 3-7 0-14 3-7-2-7 0-7-1-7 3-7 5-7-1-7-2-7 9-14 7-7 9-7 3-7-13z"/></g>
<use href="#a73" fill="url(#ws)" stroke="#00e3ff" stroke-width="4"/>
<g fill="#00daff"><path id="a74" d="M777 982l7 13 7-3 7-9 14-7 7-9 7 2 7 1 7-5 7-3 7 1 7 0 7 2 14-3 7 0 14-3 14-7 14-3 7 0 14-7 7-2 7 1 14-1 21-5 7-4 7 1 7-5 14-3 21-6 22-2 28-8 7 1 21-4 7-5 7 1 21-7 7 0 7-3 35-6 21-7 7 1 7-4 21-4 14-5 14-1 21-4 14-5 7 1 28-8 28-7 7 0 14-5 14-2 7-3 14-1 28-5 21-7 14-1 28-9 29-4 14-6 28-4 49-11 7 10-49 12-29 4-14 5-28 4-28 9-14 1-21 7-28 5-14 1-7 3-14 1-14 5-7 1-28 7-29 8-7-2-14 5-21 4-14 2-14 4-21 4-7 4-7-1-21 7-35 6-7 3-7-1-21 8-7-1-7 4-21 5-8-1-28 8-21 1-21 7-14 2-7 5-7-1-7 5-21 5-14 1-7-2-7 2-14 7-7 0-14 3-14 7-14 3-7 0-14 3-7-2-8 0-7-1-7 3-7 5-7-1-7-2-7 8-14 8-7 9-7 2-7-12z"/></g>
<use href="#a74" fill="url(#ws)" stroke="#00daff" stroke-width="4"/>
<g fill="#00d1ff"><path id="a75" d="M782 990l7 12 7-2 7-9 14-8 7-8 7 2 7 1 7-5 7-3 7 1 8 0 7 2 14-3 7 0 14-3 14-7 14-3 7 0 14-7 7-2 7 2 14-1 21-5 7-5 7 1 7-5 14-2 21-7 21-1 28-8 8 1 21-5 7-4 7 1 21-8 7 1 7-3 35-6 21-7 7 1 7-4 21-4 14-4 14-2 21-4 14-5 7 2 29-8 28-7 7-1 14-5 14-1 7-3 14-1 28-5 21-7 14-1 28-9 28-4 14-5 29-4 49-12 7 11-50 11-28 4-14 5-28 4-28 9-14 1-21 6-29 6-14 1-7 3-14 1-14 5-7 0-28 7-28 8-7-1-14 4-36 6-14 5-21 3-7 4-7-1-21 7-35 6-7 3-7-1-21 8-7-1-7 4-22 5-7-1-28 8-21 1-35 9-7 4-7-1-7 5-21 5-14 1-7-1-7 2-15 7-7-1-14 3-14 7-14 3-7 0-14 3-7-2-7 1-7-2-7 3-7 5-7-1-7-2-7 8-14 8-7 9-7 2-7-13z"/></g>
<use href="#a75" fill="url(#ws)" stroke="#00d1ff" stroke-width="4"/>
<g fill="#00c8ff"><path id="a76" d="M788 997l7 13 7-2 7-9 14-8 7-8 7 2 7 1 7-5 7-3 7 2 7-1 7 2 14-3 7 0 14-3 14-7 14-3 7 1 15-7 7-2 7 1 14-1 21-5 7-5 7 1 7-4 35-9 21-1 28-8 7 1 22-5 7-4 7 1 21-8 7 1 7-3 35-6 21-7 7 1 7-4 21-3 14-5 36-6 14-4 7 1 28-8 28-7 7 0 14-5 14-1 7-3 14-1 29-6 21-6 14-1 28-9 28-4 14-5 28-4 50-11 6 10-49 12-28 4-14 5-28 4-29 8-14 1-21 7-28 5-14 1-7 3-14 1-14 5-36 7-28 8-7-1-14 4-35 6-14 4-22 4-7 3-7 0-21 6-35 7-7 2-7 0-21 7-7-1-7 4-22 5-7-1-28 8-21 1-35 9-7 4-7-1-7 5-22 4-14 2-7-1-7 1-14 7-7 0-14 3-14 6-14 4-7-1-14 3-7-2-15 0-7 2-7 5-7 0-7-2-7 8-14 7-7 8-7 3-7-12z"/></g>
<use href="#a76" fill="url(#ws)" stroke="#00c8ff" stroke-width="4"/>
<g fill="#00bfff"><path id="a77" d="M793 1006l7 12 7-3 7-8 14-7 7-8 7 2 7 0 7-5 7-2 15 0 7 2 14-3 7 1 14-4 14-6 14-3 7 0 14-7 7-1 7 1 14-2 22-4 7-5 7 1 7-4 35-9 21-1 28-8 7 1 22-5 7-4 7 1 21-7 7 0 7-2 35-7 21-6 7 0 7-3 22-4 14-4 35-6 14-4 7 1 28-8 36-7 14-5 14-1 7-3 14-1 28-5 21-7 14-1 29-8 28-4 14-5 28-4 49-12 7 12-49 11-29 4-14 4-28 5-28 8-14 1-21 6-29 5-14 1-7 3-14 2-14 4-35 7-29 8-7-1-14 4-35 6-14 4-21 4-7 3-7-1-22 7-35 6-7 3-7-1-21 8-7-1-7 4-22 4-7-1-28 8-21 1-35 9-7 4-7-1-8 5-21 4-14 1-7-1-7 2-14 7-7-1-14 3-14 7-14 3-8 0-14 3-7-2-14-1-7 3-7 4-7 0-7-2-7 8-14 7-7 8-7 3-7-12z"/></g>
<use href="#a77" fill="url(#ws)" stroke="#00bfff" stroke-width="4"/>
<g fill="#00b6ff"><path id="a78" d="M799 1014l7 12 7-3 7-8 14-7 7-8 7 2 7 0 7-4 7-3 14 1 7 2 14-3 8 0 14-3 14-7 14-3 7 1 14-7 7-2 7 1 14-1 21-4 8-5 7 1 7-4 35-9 21-1 28-8 7 1 22-4 7-4 7 1 21-8 7 1 7-3 35-6 22-7 7 1 7-3 21-4 14-4 35-6 14-4 7 1 29-8 35-7 14-4 14-2 7-3 14-1 29-5 21-6 14-1 28-8 28-5 14-4 29-4 49-11 7 11-50 11-28 4-14 4-28 4-29 8-14 2-21 6-64 10-14 5-35 7-28 7-7-1-15 4-35 6-14 4-21 3-7 4-7-1-22 7-35 6-7 2-7 0-21 7-7-1-7 4-22 4-7 0-28 7-21 1-35 9-8 4-7-1-7 4-21 5-14 1-7-1-7 2-14 6-7 0-15 3-14 6-14 4-7-1-14 3-7-2-14 0-7 2-7 5-7 0-7-3-8 8-14 7-7 8-7 3-7-12z"/></g>
<use href="#a78" fill="url(#ws)" stroke="#00b6ff" stroke-width="4"/>
<g fill="#00adff"><path id="a79" d="M804 1022l7 12 7-3 7-8 14-7 8-8 7 3 7 0 7-5 7-2 14 0 7 2 14-3 7 1 14-4 14-6 15-3 7 0 14-6 7-2 7 1 14-1 21-5 7-4 7 1 8-4 35-9 21-1 28-7 7 0 22-4 7-4 7 1 21-7 7 0 7-2 35-6 22-7 7 1 7-4 21-3 14-4 35-6 15-4 7 1 28-7 35-7 14-5 64-10 21-6 14-2 29-8 28-4 14-4 28-4 50-11 7 11-50 11-28 4-14 4-29 4-28 8-14 1-21 6-64 11-14 4-36 7-28 7-7-1-14 4-36 6-14 4-21 3-7 4-7-1-21 6-36 6-7 3-7 0-21 6-7 0-7 3-22 5-7-1-28 7-21 2-36 8-7 4-7-1-7 4-21 5-14 1-7-1-7 2-15 6-7 0-14 2-14 7-14 3-7 0-14 2-7-1-15-1-7 3-7 4-7 0-7-2-7 7-14 7-7 8-7 2-7-11z"/></g>
<use href="#a79" fill="url(#ws)" stroke="#00adff" stroke-width="4"/>
<g fill="#00a4ff"><path id="a80" d="M810 1030l7 11 7-2 7-8 14-7 7-7 7 2 7 0 7-4 7-3 15 1 7 1 14-2 7 0 14-3 14-7 14-2 7 0 15-6 7-2 7 1 14-1 21-5 7-4 7 1 7-4 36-8 21-2 28-7 7 1 22-5 7-3 7 0 21-6 7 0 7-3 36-6 21-6 7 1 7-4 21-3 14-4 36-6 14-4 7 1 28-7 36-7 14-4 64-11 21-6 14-1 28-8 29-4 14-4 28-4 50-11 6 11-49 11-29 4-14 4-28 4-29 8-14 1-21 6-64 10-14 4-35 7-29 7-7-1-14 4-35 6-15 4-21 3-7 4-7-1-21 6-36 6-7 2-7 0-21 7-7-1-7 4-22 4-7-1-28 7-21 2-36 8-7 4-7-1-7 4-21 5-14 1-7-1-8 1-14 7-7-1-14 3-14 6-14 3-7 0-15 3-7-2-14 0-14 6-7 0-7-2-7 8-14 6-8 8-7 2-7-11z"/></g>
<use href="#a80" fill="url(#ws)" stroke="#00a4ff" stroke-width="4"/>
<g fill="#009bff"><path id="a81" d="M815 1038l7 11 7-2 8-8 14-6 7-8 7 2 7 0 14-6 14 0 7 2 15-3 7 0 14-3 14-6 14-3 7 1 14-7 8-1 7 1 14-1 21-5 7-4 7 1 7-4 36-8 21-2 28-7 7 1 22-4 7-4 7 1 21-7 7 0 7-2 36-6 21-6 7 1 7-4 21-3 15-4 35-6 14-4 7 1 29-7 35-7 14-4 64-10 21-6 14-1 29-8 28-4 14-4 29-4 49-11 7 12-50 10-28 4-14 4-29 4-28 7-14 2-22 6-63 10-15 4-35 6-28 7-8-1-14 4-35 6-14 4-22 3-7 3-7 0-21 6-36 5-7 3-7 0-21 6-7-1-7 4-22 4-7 0-28 7-21 1-36 8-7 4-7-1-7 4-21 4-22 1-7 1-14 6-7 0-14 3-14 6-15 3-7-1-14 3-7-1-14-1-14 7-8 0-7-2-7 7-14 7-7 7-7 2-7-10z"/></g>
<use href="#a81" fill="url(#ws)" stroke="#009bff" stroke-width="4"/>
<g fill="#0091ff"><path id="a82" d="M821 1047l7 10 7-2 7-7 14-7 7-7 7 2 8 0 14-7 14 1 7 1 14-3 7 1 15-3 14-6 14-3 7 0 14-6 7-1 22-1 21-4 7-4 7 1 7-4 36-8 21-1 28-7 7 0 22-4 7-4 7 1 21-6 7 0 7-3 36-5 21-6 7 0 7-3 22-3 14-4 35-6 14-4 8 1 28-7 35-6 15-4 63-10 22-6 14-2 28-7 29-4 14-4 28-4 50-10 7 11-50 10-28 4-15 4-28 4-29 7-14 2-21 5-64 10-78 18-7-1-14 4-36 5-14 4-22 3-7 3-7 0-21 5-36 6-7 3-7-1-21 7-7-1-7 4-22 4-7-1-28 7-21 2-36 8-7 3-7 0-7 3-22 5-21 0-7 2-14 6-7-1-15 3-14 6-14 3-7-1-14 3-7-1-15 0-14 6-14-2-7 7-14 6-7 8-8 2-7-11z"/></g>
<use href="#a82" fill="url(#ws)" stroke="#0091ff" stroke-width="4"/>
<g fill="#0086ff"><path id="a83" d="M826 1055l7 11 8-2 7-8 14-6 7-7 14 2 14-6 15 0 7 1 14-3 7 1 14-3 14-6 15-3 7 1 14-6 7-2 21 0 22-5 7-3 7 0 7-3 36-8 21-2 28-7 7 1 22-4 7-4 7 1 21-7 7 1 7-3 36-6 21-5 7 0 7-3 22-3 14-4 36-5 14-4 7 1 78-18 64-10 21-5 14-2 29-7 28-4 15-4 28-4 50-10 6 11-49 10-29 4-14 4-29 4-64 14-64 10-78 17-7 0-14 4-36 5-14 4-21 3-7 3-8 0-21 5-35 6-8 3-7-1-21 7-7-1-7 3-22 5-7-1-28 7-21 1-36 8-7 4-7-1-7 4-22 4-21 1-7 1-14 6-8 0-14 3-14 5-14 3-7 0-15 3-21-2-14 6-14-1-7 6-15 7-7 7-7 2-7-10z"/></g>
<use href="#a83" fill="url(#ws)" stroke="#0086ff" stroke-width="4"/>
<g fill="#007cff"><path id="a84" d="M832 1066l7 10 7-2 7-7 15-7 7-6 14 1 14-6 21 2 15-3 7 0 14-3 14-5 14-3 8 0 14-6 7-1 21-1 22-4 7-4 7 1 7-4 36-8 21-1 28-7 7 1 22-5 7-3 7 1 21-7 7 1 8-3 35-6 21-5 8 0 7-3 21-3 14-4 36-5 14-4 7 0 78-17 64-10 64-14 29-4 14-4 29-4 49-10 7 11-50 10-28 4-15 4-28 4-64 14-64 10-79 17-7 0-14 3-36 6-14 4-21 3-7 3-7 0-22 5-35 6-7 2-8 0-21 7-7-1-7 3-22 4-7 0-28 7-22 1-35 8-7 4-7-1-8 4-21 4-21 1-22 7-21 2-14 6-14 3-8 0-14 2-21-1-14 6-15-1-7 6-14 6-7 7-7 2-7-9z"/></g>
<use href="#a84" fill="url(#ws)" stroke="#007cff" stroke-width="4"/>
<g fill="#0071ff"><path id="a85" d="M838 1077l7 9 7-2 7-7 14-6 7-6 15 1 14-6 21 1 14-2 8 0 14-3 14-6 21-2 22-7 21-1 21-4 8-4 7 1 7-4 35-8 22-1 28-7 7 0 22-4 7-3 7 1 21-7 8 0 7-2 35-6 22-5 7 0 7-3 21-3 14-4 36-6 14-3 7 0 79-17 64-10 64-14 28-4 15-4 28-4 50-10 7 11-50 10-29 4-14 4-29 4-64 14-64 10-78 17-7 0-15 3-35 6-36 7-7 3-7-1-22 6-35 6-7 2-8 0-21 6-7 0-7 3-22 4-7 0-28 6-22 2-35 8-7 3-8 0-7 3-21 5-21 0-22 7-21 3-14 6-15 3-7-1-14 3-21-1-15 6-14-2-7 7-14 6-8 6-7 2-7-9z"/></g>
<use href="#a85" fill="url(#ws)" stroke="#0071ff" stroke-width="4"/>
<g fill="#06f"><path id="a86" d="M843 1087l7 9 7-2 8-6 14-6 7-7 14 2 15-6 21 1 14-3 7 1 15-3 14-6 21-3 22-7 21 0 21-5 7-3 8 0 7-3 35-8 22-2 28-6 7 0 22-4 7-3 7 0 21-6 8 0 7-2 35-6 22-6 7 1 7-3 36-7 35-6 15-3 7 0 78-17 64-10 64-14 29-4 14-4 29-4 50-10 6 11-50 10-28 4-14 4-29 4-64 14-65 10-78 17-7 0-14 3-36 6-36 7-7 3-7-1-64 14-7 0-22 6-7 0-7 3-22 4-7-1-28 7-22 2-35 8-7 3-8 0-7 3-21 4-22 1-21 7-21 3-15 5-14 3-7 0-14 3-22-1-14 5-14-1-7 6-15 6-7 7-7 2-7-9z"/></g>
<use href="#a86" fill="url(#ws)" stroke="#06f" stroke-width="4"/>
<g fill="#005bff"><path id="a87" d="M849 1098l7 9 7-2 7-7 15-6 7-6 14 1 14-5 22 1 14-3 7 0 14-3 15-5 21-3 21-7 22-1 21-4 7-3 8 0 7-3 35-8 22-2 28-7 7 1 22-4 7-3 7 0 22-6 7 0 64-14 7 1 7-3 36-7 36-6 14-3 7 0 78-17 65-10 64-14 29-4 14-4 28-4 50-10 7 11-79 14-14 4-29 4-64 14-64 10-79 17-7-1-14 4-36 6-36 7-7 2-7 0-64 14-7 0-22 6-7-1-7 3-22 5-7-1-28 7-22 2-35 7-8 4-7-1-7 4-21 4-22 1-21 7-22 2-14 6-14 3-7-1-15 3-21-1-14 6-15-1-7 6-14 6-7 6-7 2-8-8z"/></g>
<use href="#a87" fill="url(#ws)" stroke="#005bff" stroke-width="4"/>
<g fill="#0051ff"><path id="a88" d="M854 1109l8 8 7-2 7-6 14-6 7-6 15 1 14-6 21 1 15-3 7 1 14-3 14-6 22-2 21-7 22-1 21-4 7-4 7 1 8-4 35-7 22-2 28-7 7 1 22-5 7-3 7 1 22-6 7 0 64-14 7 0 7-2 36-7 36-6 14-4 7 1 79-17 64-10 64-14 29-4 14-4 79-14 7 11-122 22-64 14-65 10-78 17-8-1-14 4-36 6-35 6-8 3-7 0-64 14-7 0-22 5-7 0-7 3-22 4-7 0-28 7-22 2-78 18-22 1-21 6-22 3-14 5-14 3-8 0-14 3-21-1-15 6-14-1-7 5-15 6-7 6-7 2-7-8z"/></g>
<use href="#a88" fill="url(#ws)" stroke="#0051ff" stroke-width="4"/>
<g fill="#0046ff"><path id="a89" d="M860 1119l7 8 7-2 7-6 15-6 7-5 14 1 15-6 21 1 14-3 8 0 14-3 14-5 22-3 21-6 22-1 78-18 22-2 28-7 7 0 22-4 7-3 7 0 22-5 7 0 64-14 7 0 8-3 35-6 36-6 14-4 8 1 78-17 65-10 64-14 122-22 6 11-121 22-65 14-64 10-79 16-7 0-15 4-35 5-36 7-7 3-8 0-64 13-7 0-22 6-7 0-7 3-22 4-7 0-28 6-22 2-79 18-21 1-22 7-21 3-14 5-15 3-21 2-22 0-14 5-14-1-8 6-14 5-7 6-7 2-7-7z"/></g>
<use href="#a89" fill="url(#ws)" stroke="#0046ff" stroke-width="4"/>
<g fill="#003cff"><path id="a90" d="M866 1130l7 7 7-2 7-6 14-5 8-6 14 1 14-5 22 0 21-2 15-3 14-5 21-3 22-7 21-1 79-18 22-2 28-6 7 0 22-4 7-3 7 0 22-6 7 0 64-13 8 0 7-3 36-7 35-5 15-4 7 0 79-16 64-10 65-14 121-22 7 10-122 22-64 14-65 10-79 17-7 0-50 9-36 7-7 2-7 0-65 13-7 1-22 5-7 0-7 3-22 4-7 0-28 6-22 3-79 17-21 2-22 6-22 3-14 5-14 3-22 2-21 0-15 5-14 0-7 5-14 5-8 6-7 2-7-7z"/></g>
<use href="#a90" fill="url(#ws)" stroke="#003cff" stroke-width="4"/>
<g fill="#0031ff"><path id="a91" d="M871 1140l7 7 7-2 8-6 14-5 7-5 14 0 15-5 21 0 22-2 14-3 14-5 22-3 22-6 21-2 79-17 22-3 28-6 7 0 22-4 7-3 7 0 22-5 7-1 65-13 7 0 7-2 36-7 50-9 7 0 79-17 65-10 64-14 122-22 7 11-122 22-65 13-64 11-79 16-8 0-50 9-36 7-7 2-7 1-65 13-7 0-22 6-7 0-7 2-22 4-7 0-29 7-21 2-79 17-22 2-21 6-22 3-14 5-15 3-21 3-22 0-14 5-15-1-7 5-14 6-7 5-7 2-8-7z"/></g>
<use href="#a91" fill="url(#ws)" stroke="#0031ff" stroke-width="4"/>
<g fill="#0027ff"><path id="a92" d="M876 1150l8 7 7-2 7-5 14-6 7-5 15 1 14-5 22 0 21-3 15-3 14-5 22-3 21-6 22-2 79-17 21-2 29-7 7 0 22-4 7-2 7 0 22-6 7 0 65-13 7-1 7-2 36-7 50-9 8 0 79-16 64-11 65-13 122-22 7 10-122 23-65 13-65 10-79 17-7 0-51 9-43 9-7 0-65 13-7 1-22 5-7 0-7 3-22 4-7 0-29 6-21 3-80 17-21 2-22 6-21 3-15 5-14 2-22 3-22 1-14 5-14-1-8 5-14 5-7 6-7 1-8-6z"/></g>
<use href="#a92" fill="url(#ws)" stroke="#0027ff" stroke-width="4"/>
<g fill="#001cff"><path id="a93" d="M881 1161l8 6 7-1 7-6 14-5 8-5 14 1 14-5 22-1 22-3 14-2 15-5 21-3 22-6 21-2 80-17 21-3 29-6 7 0 22-4 7-3 7 0 22-5 7-1 65-13 7 0 43-9 51-9 7 0 79-17 65-10 65-13 122-23 7 11-187 35-65 11-80 16-7 0-50 10-44 9-7 0-65 13-7 1-22 5-7 0-29 7-7 0-29 6-22 3-79 17-22 2-21 6-22 3-29 7-22 3-21 0-15 5-14 0-7 5-15 5-7 5-7 2-7-6z"/></g>
<use href="#a93" fill="url(#ws)" stroke="#001cff" stroke-width="4"/>
<g fill="#01f"><path id="a94" d="M887 1172l7 6 7-2 7-5 15-5 7-5 14 0 15-5 21 0 22-3 29-7 22-3 21-6 22-2 79-17 22-3 29-6 7 0 29-7 7 0 22-5 7-1 65-13 7 0 44-9 50-10 7 0 80-16 65-11 187-35 8 11-189 35-65 11-79 16-7 0-51 9-44 10-7 0-65 13-7 0-22 6-7 0-29 6-7 1-29 6-22 2-79 17-22 2-22 6-22 3-29 8-21 3-22 0-14 5-15 0-7 5-15 5-7 4-7 2-7-5z"/></g>
<use href="#a94" fill="url(#ws)" stroke="#01f" stroke-width="4"/>
<g fill="#0007ff"><path id="a95" d="M892 1183l7 5 7-2 7-4 15-5 7-5 15 0 14-5 22 0 21-3 29-8 22-3 22-6 22-2 79-17 22-2 29-6 7-1 29-6 7 0 22-6 7 0 65-13 7 0 44-10 51-9 7 0 79-16 65-11 189-35 7 11-189 35-65 11-80 16-58 9-43 9-8 1-72 13-22 5-7 1-29 6-58 9-80 17-22 2-21 6-22 3-29 7-22 3-22 1-14 5-15 0-7 4-14 5-8 5-7 2-7-6z"/></g>
<use href="#a95" fill="url(#ws)" stroke="#0007ff" stroke-width="4"/>
<g fill="#0000fc"><path id="a96" d="M897 1193l7 6 7-2 8-5 14-5 7-4 15 0 14-5 22-1 22-3 29-7 22-3 21-6 22-2 80-17 58-9 29-6 7-1 22-5 72-13 8-1 43-9 58-9 80-16 65-11 189-35 7 9-189 36-66 11-80 16-58 10-181 35-58 9-80 17-22 2-73 16-21 3-22 2-15 4-14 0-7 5-15 4-7 5-7 1-8-4z"/></g>
<use href="#a96" fill="url(#ws)" stroke="#0000fc" stroke-width="4"/>
<g fill="#0000f6"><path id="a97" d="M902 1205l8 4 7-1 7-5 15-4 7-5 14 0 15-4 22-2 21-3 73-16 22-2 80-17 58-9 181-35 58-10 80-16 66-11 189-36 6 8-254 48-80 17-58 9-182 36-58 10-80 17-22 3-73 16-21 3-22 2-15 4-14 1-8 4-14 4-7 4-8 2-7-4z"/></g>
<use href="#a97" fill="url(#ws)" stroke="#0000f6" stroke-width="4"/>
<g fill="#0000ef"><path id="a98" d="M908 1217l7 4 8-2 7-4 14-4 8-4 14-1 15-4 22-2 21-3 73-16 22-3 80-17 58-10 182-36 58-9 80-17 254-48 6 9-254 49-80 16-58 10-182 37-58 10-80 17-22 3-73 16-43 6-15 4-14 1-29 12-8 2-7-4z"/></g>
<use href="#a98" fill="url(#ws)" stroke="#0000ef" stroke-width="4"/>
<g fill="#0000e9"><path id="a99" d="M914 1229l7 4 8-2 29-12 14-1 15-4 43-6 73-16 22-3 80-17 58-10 182-37 58-10 80-16 254-49 7 8-393 77-182 38-58 10-80 18-22 2-73 17-43 6-15 4-15 1-29 12-7 2-7-4z"/></g>
<use href="#a99" fill="url(#ws)" stroke="#0000e9" stroke-width="4"/>
<g fill="#0000e4"><path id="a100" d="M920 1241l7 4 7-2 29-12 15-1 15-4 43-6 73-17 22-2 80-18 58-10 182-38 393-77 6 6-393 79-182 37-58 11-80 18-22 3-72 16-44 6-14 4-15 2-36 13-8-3z"/></g>
<use href="#a100" fill="url(#ws)" stroke="#0000e4" stroke-width="4"/>
<g fill="#0000de"><path id="a101" d="M926 1250l8 3 36-13 15-2 14-4 44-6 72-16 22-3 80-18 58-11 182-37 393-79 5 6-573 118-59 11-79 18-22 3-73 17-43 6-15 4-15 1-36 14-7-3z"/></g>
<use href="#a101" fill="url(#ws)" stroke="#0000de" stroke-width="4"/>
<g fill="#0000d9"><path id="a102" d="M933 1259l7 3 36-14 15-1 15-4 43-6 73-17 22-3 79-18 59-11 573-118 6 6-573 120-58 11-80 18-22 3-72 17-44 6-14 4-15 2-36 13-8-3z"/></g>
<use href="#a102" fill="url(#ws)" stroke="#0000d9" stroke-width="4"/>
<g fill="#0000d4"><path id="a103" d="M939 1267l8 3 36-13 15-2 14-4 44-6 72-17 22-3 80-18 58-11 573-120 6 7-573 120-58 12-80 18-22 3-72 17-43 7-15 4-14 1-37 13-7-2z"/></g>
<use href="#a103" fill="url(#ws)" stroke="#0000d4" stroke-width="4"/>
<g fill="#0000cf"><path id="a104" d="M946 1276l7 2 37-13 14-1 15-4 43-7 72-17 22-3 80-18 58-12 573-120 5 6-572 122-58 11-79 19-22 3-73 17-43 7-14 4-15 2-36 13-7-3z"/></g>
<use href="#a104" fill="url(#ws)" stroke="#0000cf" stroke-width="4"/>
<g fill="#0000c9"><path id="a105" d="M953 1284l7 3 36-13 15-2 14-4 43-7 73-17 22-3 79-19 58-11 572-122 6 6-572 124-57 11-80 19-22 3-72 17-72 13-37 13-7-2z"/></g>
<use href="#a105" fill="url(#ws)" stroke="#0000c9" stroke-width="4"/>
<g fill="#0000c4"><path id="a106" d="M959 1293l7 2 37-13 72-13 72-17 22-3 80-19 57-11 572-124 6 6-629 137-80 19-21 3-73 18-72 13-36 13-7-2z"/></g>
<use href="#a106" fill="url(#ws)" stroke="#0000c4" stroke-width="4"/>
<g fill="#0000bf"><path id="a107" d="M966 1302l7 2 36-13 72-13 73-18 21-3 80-19 629-137 6 6-629 139-79 19-22 3-72 18-72 13-37 13-7-2z"/></g>
<use href="#a107" fill="url(#ws)" stroke="#0000bf" stroke-width="4"/>
<g fill="#00b"><path id="a108" d="M972 1310l7 2 37-13 72-13 72-18 22-3 79-19 629-139 4 5-626 142-79 19-22 4-72 17-72 14-36 13-7-2z"/></g>
<use href="#a108" fill="url(#ws)" stroke="#00b" stroke-width="4"/>
<g fill="#0000b8"><path id="a109" d="M980 1319l7 2 36-13 72-14 72-17 22-4 79-19 626-142 4 4-623 145-79 20-21 4-72 18-72 15-36 12-7-1z"/></g>
<use href="#a109" fill="url(#ws)" stroke="#0000b8" stroke-width="4"/>
<g fill="#0000b6"><path id="a110" d="M988 1329l7 1 36-12 72-15 72-18 21-4 79-20 623-145 4 3-720 174-71 19-71 15-36 12-7-1z"/></g>
<use href="#a110" fill="url(#ws)" stroke="#0000b6" stroke-width="4"/>
<g fill="#0000b3"><path id="a111" d="M997 1338l7 1 36-12 71-15 71-19 720-174 4 4-716 179-71 19-71 15-36 13-7-1z"/></g>
<use href="#a111" fill="url(#ws)" stroke="#0000b3" stroke-width="4"/>
<g fill="#0000b0"><path id="a112" d="M1005 1348l7 1 36-13 71-15 71-19 716-179 3 4-712 183-70 19-71 17-35 12-7-1z"/></g>
<use href="#a112" fill="url(#ws)" stroke="#0000b0" stroke-width="4"/>
<g fill="#0000ad"><path id="a113" d="M1014 1357l7 1 35-12 71-17 70-19 712-183 4 3-708 188-71 20-70 17-35 12-7 0z"/></g>
<use href="#a113" fill="url(#ws)" stroke="#0000ad" stroke-width="4"/>
<g fill="#0000ab"><path id="a114" d="M1022 1367l7 0 35-12 70-17 71-20 708-188 4 4-775 211-69 18-35 12-7 0z"/></g>
<use href="#a114" fill="url(#ws)" stroke="#0000ab" stroke-width="4"/>
<g fill="#0000a8"><path id="a115" d="M1031 1375l7 0 35-12 69-18 775-211 3 3-769 215-70 18-34 12-7 0z"/></g>
<use href="#a115" fill="url(#ws)" stroke="#0000a8" stroke-width="4"/>
<g fill="#0000a6"><path id="a116" d="M1040 1382l7 0 34-12 70-18 769-215 4 3-765 219-69 18-35 12-7 0z"/></g>
<use href="#a116" fill="url(#ws)" stroke="#0000a6" stroke-width="4"/>
<g fill="#0000a3"><path id="a117" d="M1048 1389l7 0 35-12 69-18 765-219 3 3-760 222-69 19-34 12-7 0z"/></g>
<use href="#a117" fill="url(#ws)" stroke="#0000a3" stroke-width="4"/>
<g fill="#0000a1"><path id="a118" d="M1057 1396l7 0 34-12 69-19 760-222 4 4-756 225-68 19-34 12-7 1z"/></g>
<use href="#a118" fill="url(#ws)" stroke="#0000a1" stroke-width="4"/>
<g fill="#00009e"><path id="a119" d="M1066 1404l7-1 34-12 68-19 756-225 3 3-751 229-67 19-34 12-7 1z"/></g>
<use href="#a119" fill="url(#ws)" stroke="#00009e" stroke-width="4"/>
</g></g>
<path d="M123.8 168.8L123.8 579.4L489.4 766.9L966.2 622.5M123.8 579.4L110.8 572.8M123.8 497.3L110.8 490.7M123.8 415.2L110.8 408.5M123.8 333L110.8 326.4M123.8 250.9L110.8 244.3M123.8 168.8L110.8 162.2M489.4 766.9L475.5 771.1M367.5 704.4L353.6 708.6M245.6 641.9L231.8 646.1M123.8 579.4L109.9 583.6M489.4 766.9L502.3 773.5M584.8 738L597.7 744.6M680.1 709.1L693 715.8M775.5 680.3L788.4 686.9M870.9 651.4L883.8 658M966.2 622.5L979.2 629.1" stroke="#262626" stroke-width="3" fill="none" stroke-linejoin="miter"/>
<g font-family="'Liberation Serif','Times New Roman',serif" font-weight="bold" font-size="28" fill="#1a1a1a"><text x="104.5" y="579.6" text-anchor="end">0</text>
<text x="104.5" y="497.5" text-anchor="end">0.01</text>
<text x="104.5" y="415.3" text-anchor="end">0.02</text>
<text x="104.5" y="333.2" text-anchor="end">0.03</text>
<text x="104.5" y="251.1" text-anchor="end">0.04</text>
<text x="104.5" y="169" text-anchor="end">0.05</text>
<text x="469.2" y="798.9" text-anchor="end">400</text>
<text x="347.3" y="736.4" text-anchor="end">600</text>
<text x="225.5" y="673.9" text-anchor="end">800</text>
<text x="103.6" y="611.4" text-anchor="end">1000</text>
<text x="510.3" y="802.5">0</text>
<text x="605.7" y="773.6">2000</text>
<text x="701" y="744.8">4000</text>
<text x="796.4" y="715.9">6000</text>
<text x="891.8" y="687">8000</text>
<text x="987.2" y="658.1">10,000</text>
<text transform="translate(194 747) rotate(27.6)" text-anchor="middle" font-size="29" letter-spacing="0.6">Wavelength/nm</text>
<text transform="translate(841 774) rotate(-16.4)" text-anchor="middle" font-size="29" letter-spacing="0.6">Number of pixels</text>
<text transform="translate(42 373) rotate(-90)" text-anchor="middle" font-size="28">RMSE</text>
<text x="38.5" y="94" font-size="55">(a)</text></g>
</g>
<g transform="translate(1047.5 0)">
<path d="M584.8 738L219.1 550.5M680.1 709.1L314.5 521.6M775.5 680.3L409.9 492.8M870.9 651.4L505.2 463.9M966.2 622.5L600.6 435M367.5 704.4L844.4 560M245.6 641.9L722.5 497.5M123.8 579.4L600.6 435M219.1 550.5L219.1 139.9M314.5 521.6L314.5 111M409.9 492.8L409.9 82.2M505.2 463.9L505.2 53.3M600.6 435L600.6 24.4M123.8 511L600.6 366.6M123.8 442.5L600.6 298.1M123.8 374.1L600.6 229.7M123.8 305.7L600.6 161.3M123.8 237.2L600.6 92.8M123.8 168.8L600.6 24.4M966.2 622.5L966.2 211.9M844.4 560L844.4 149.4M722.5 497.5L722.5 86.9M966.2 554.1L600.6 366.6M966.2 485.6L600.6 298.1M966.2 417.2L600.6 229.7M966.2 348.8L600.6 161.3M966.2 280.3L600.6 92.8M966.2 211.9L600.6 24.4" stroke="#cdcdcd" stroke-width="2" fill="none"/>
<defs><clipPath id="bc"><path d="M600 -50L600 62.5L632.5 72.5L650 72.5L657.5 95L662.5 105L682.5 122.5L707.5 150L727.3 174.7L727.5 175L745 195L755 215L758 225L760 237.5L762.7 251.2L765 262.5L766.8 274.9L768.7 287.5L770.4 298.6L772.5 312.5L774.5 325.6L776.2 337.5L778.2 350.4L780 362.5L781 369.2L783.8 387.5L786.2 404L786.4 404.5L788 412L788.8 419L788.9 419.6L791 428L792.5 434L792.7 434.3L802.5 446.5L820 459L825.9 462.7L840 471.5L849.2 477.4L857.5 482.8L870 484L882.5 496.5L883 497.5L890 511.5L891.1 513.5L900 529L917.5 546.5L917.9 546.9L940.5 569.5L942.5 571.5L967.5 594L967.5 600L536.5 731.2L536.8 726L509.1 704L506.8 702.2L481.8 679.7L481.4 679.3L464.3 659.7L456.8 644.7L455.8 642.8L449.3 629.7L448.5 628.9L436.8 617.2L424.2 613L414.3 609.7L404.4 603.7L389.3 594.7L383.8 589.8L366.8 574.7L356.8 554.7L356.7 554.2L354.3 545.7L351.8 529.7L351.7 528.7L349.8 515.7L348 504.7L348 503.9L345.6 479.7L343.1 454.7L341.3 445.7L339.3 429.7L336.3 412.7L334.3 404.7L333.3 395.7L331.8 385.7L330.8 377.7L329.3 368.2L326.7 359.1L324.3 350.7L319.1 341.5L314.3 333.2L308.7 326L296.8 310.7L277.1 288.5L276.8 288.2L251.8 263.2L238.7 248.6L229.3 238.2L224.5 232.2L214.3 219.4L200.2 213.1L172.8 200.7L172.8 -50z"/></clipPath></defs>
<g clip-path="url(#bc)"><g transform="scale(0.5)" fill="none" stroke-linejoin="round">
<g stroke="#810000" stroke-width="6.8"><path id="b1" d="M350 383l7 12 6-3 7-9 7 2 6-2 7-12 7-4 7-4 6 2 7-2 13-1 7-3 7 0 13-10 7-1 7-2 7-8 13 4 7-3 13-3 14-11 6 1 7-1 13-8 7 3 7-2 7-7 6 5 7-2 7-7 6-4 7 6 7 0 7-6 13-4 7-4 20-5 7-6 6-3 7 2 7-1 7-4 6-1 7 1 13-8 14-2 13-4 14-1 6-8 14 0 7-6 13-3 7-5 27-9 6 4 14-5 7 2 13-12 7-2 13 2 7-9 13-2 7 1 7 3 7-2 6-4 7-8 7 2 6-2 21-9 6 0 7 3 7-2 13-11 7-4 7 1 6 0 7-3 7 2 6-2 7-3 14-13 13-2 34-2 6-2 7-4 7-7 13-7 7-2 7 0 13-8 7 5 13-4"/></g>
<use href="#b1" stroke="#fff" stroke-opacity="0.6" stroke-width="1.6" stroke-dasharray="3 3.8"/>
<g stroke="#830000" stroke-width="6.8"><path id="b2" d="M355 385l7 13 7-3 7-10 6 2 7-1 7-12 7-5 6-3 7 2 7-3 13-1 7-3 7 1 13-11 7 0 7-3 6-7 14 3 6-2 14-3 13-12 7 2 7-1 13-9 7 3 7-2 6-6 7 5 7-3 7-7 6-4 7 6 7 1 7-7 13-4 7-4 20-5 7-6 6-3 7 2 7 0 7-5 6-1 7 2 14-9 13-1 13-5 14-1 7-8 13 0 7-5 13-3 7-6 27-9 7 5 13-6 7 2 13-11 7-3 13 3 7-9 14-3 6 1 7 3 7-2 7-4 6-8 7 2 7-1 20-10 7 0 6 3 7-2 14-11 6-3 7 1 7-1 7-3 6 2 7-2 7-3 13-13 14-2 33-2 7-2 7-3 6-8 14-7 7-2 6 0 14-8 7 5 13-4"/></g>
<use href="#b2" stroke="#fff" stroke-opacity="0.6" stroke-width="1.6" stroke-dasharray="3 3.8"/>
<g stroke="#850000" stroke-width="6.8"><path id="b3" d="M361 388l7 12 7-3 6-9 7 2 7-2 6-12 7-4 7-4 7 2 6-2 14-1 7-3 6 0 14-10 7-1 6-2 7-8 14 4 6-3 14-3 13-11 7 1 7-1 13-9 7 3 7-1 6-7 7 5 7-2 7-8 6-4 7 6 7 1 7-6 13-4 7-4 20-6 7-6 6-2 7 2 7-1 7-4 6-2 7 2 14-9 13-1 14-5 13 0 7-9 13 0 7-5 13-3 7-6 27-8 7 4 13-5 7 2 14-12 6-3 14 3 7-9 13-2 7 0 6 3 7-2 7-4 7-8 6 2 7-1 20-10 7 0 7 3 7-2 13-11 7-3 7 1 6-1 7-2 7 1 6-1 7-4 14-12 13-3 34-2 7-2 6-3 7-8 14-7 6-2 7 0 13-8 7 5 14-4"/></g>
<use href="#b3" stroke="#fff" stroke-opacity="0.6" stroke-width="1.6" stroke-dasharray="3 3.8"/>
<g stroke="#870000" stroke-width="6.8"><path id="b4" d="M367 391l6 12 7-3 7-10 7 2 6-1 7-12 7-5 7-3 6 2 7-3 14-1 6-3 7 1 14-11 6 0 7-3 7-7 13 3 7-3 14-2 13-12 7 1 7-1 13-8 7 3 7-2 6-6 7 4 7-2 7-7 6-4 7 6 7 1 6-7 14-4 7-4 20-5 7-6 6-3 7 2 7-1 7-4 6-1 7 1 14-9 13-1 14-5 13 0 7-9 13 1 7-6 14-3 6-5 27-9 7 4 14-5 6 2 14-12 7-2 13 2 7-9 13-2 7 0 7 4 7-2 6-5 7-8 7 2 7-1 20-10 6 0 7 3 7-2 13-11 7-3 7 1 7-1 6-2 7 1 7-1 7-4 13-12 14-3 33-1 7-3 7-3 7-8 13-7 7-2 7 1 13-9 7 5 13-4"/></g>
<use href="#b4" stroke="#fff" stroke-opacity="0.6" stroke-width="1.6" stroke-dasharray="3 3.8"/>
<g stroke="#890000" stroke-width="6.8"><path id="b5" d="M372 393l7 12 7-3 7-9 6 2 7-2 7-12 7-4 6-4 7 2 7-2 13-1 7-3 7 0 13-10 7-1 7-3 7-7 13 4 7-3 13-3 14-11 7 1 6-1 14-9 7 3 6-1 7-7 7 5 7-3 6-7 7-4 7 6 7 1 6-7 14-3 7-5 20-5 7-6 6-3 7 2 7 0 7-5 6-1 7 2 14-9 13-1 14-5 13-1 7-8 14 0 6-5 14-4 7-5 27-9 6 4 14-5 7 2 13-12 7-2 13 2 7-9 14-2 6 0 7 4 7-2 7-5 6-7 7 1 7-1 20-9 7-1 7 4 6-2 14-12 7-3 6 1 7-1 7-2 7 2 6-2 7-4 14-12 13-3 34-1 7-2 6-4 7-8 14-7 6-2 7 1 14-9 7 5 13-4"/></g>
<use href="#b5" stroke="#fff" stroke-opacity="0.6" stroke-width="1.6" stroke-dasharray="3 3.8"/>
<g stroke="#8b0000" stroke-width="6.8"><path id="b6" d="M378 396l7 12 6-3 7-10 7 2 7-1 7-12 6-5 7-3 7 2 7-3 13-1 7-3 7 1 13-11 7 0 7-3 6-7 14 3 7-3 13-2 14-12 7 1 6-1 14-8 7 3 6-2 7-7 7 5 7-2 6-7 7-4 7 6 7 0 6-6 14-4 7-4 20-6 7-6 6-2 7 2 7-1 7-4 7-2 6 2 14-9 13-1 14-5 13-1 7-8 14 0 6-5 14-3 7-6 27-9 7 5 13-6 7 2 13-12 7-2 14 3 6-10 14-2 7 1 6 3 7-2 7-4 7-8 6 2 7-2 21-9 6 0 7 3 7-2 13-11 7-4 7 1 7 0 6-3 7 2 7-2 7-4 13-12 14-3 34-1 6-2 7-4 7-7 13-8 7-2 7 1 13-9 7 5 14-4"/></g>
<use href="#b6" stroke="#fff" stroke-opacity="0.6" stroke-width="1.6" stroke-dasharray="3 3.8"/>
<g stroke="#8d0000" stroke-width="6.8"><path id="b7" d="M384 398l6 12 7-3 7-9 7 2 6-2 7-12 7-4 7-4 6 2 7-2 14-1 7-3 6 0 14-10 7-1 6-3 7-7 14 4 6-3 14-3 7-5 7-7 6 2 7-1 14-9 6 3 7-2 7-6 7 5 7-3 6-7 7-4 7 6 7 1 6-7 14-4 7-4 20-5 7-6 7-3 6 2 7-1 7-4 7-1 6 1 14-9 13-1 14-5 14 0 6-9 14 0 7-5 13-3 7-6 27-8 7 4 13-5 7 2 14-12 6-3 14 3 7-9 13-3 7 1 7 3 7-2 6-4 7-8 7 2 7-1 20-10 7 0 6 3 7-2 14-11 7-4 6 1 7 0 7-3 7 2 6-2 7-4 14-12 13-3 34-1 7-2 7-4 6-7 14-8 7-2 7 1 13-9 7 5 13-4"/></g>
<use href="#b7" stroke="#fff" stroke-opacity="0.6" stroke-width="1.6" stroke-dasharray="3 3.8"/>
<g stroke="#8f0000" stroke-width="6.8"><path id="b8" d="M389 401l7 12 7-3 7-9 6 1 7-1 7-12 7-5 6-3 7 2 7-3 14-1 6-3 7 1 14-11 6-1 7-2 7-7 14 3 6-3 14-3 7-4 6-7 7 1 7-1 14-8 6 2 7-1 7-7 7 5 6-2 7-8 7-4 7 6 7 1 6-6 14-4 7-5 20-5 7-6 7-3 6 2 7 0 7-5 7-1 6 2 14-9 14-1 13-5 14-1 6-8 14 0 7-6 13-3 7-5 27-9 7 4 7-1 7-4 6 2 14-12 7-2 13 2 7-9 14-2 6 0 7 4 7-2 7-5 6-8 7 2 7-1 20-10 7 0 7 3 7-2 13-11 7-4 7 1 7 0 6-3 7 2 7-2 7-3 13-13 14-3 34-1 6-2 7-4 7-7 14-8 6-2 7 1 14-9 6 6 14-5"/></g>
<use href="#b8" stroke="#fff" stroke-opacity="0.6" stroke-width="1.6" stroke-dasharray="3 3.8"/>
<g stroke="#910000" stroke-width="6.8"><path id="b9" d="M395 403l7 12 6-3 7-9 7 2 7-2 7-12 6-4 7-4 7 2 7-2 13-1 7-3 7 0 13-10 7-1 7-3 7-7 13 4 7-3 14-3 6-5 7-7 7 2 7-1 13-9 7 3 7-2 7-6 7 4 6-2 7-7 7-4 7 6 6 1 7-7 14-4 7-4 20-6 7-6 7-2 6 2 7-1 7-4 7-2 6 2 14-9 14-1 13-5 14-1 7-8 13 0 7-5 14-4 6-5 27-9 7 5 7-2 7-4 7 2 13-12 7-2 14 2 6-9 14-2 7 0 6 4 7-2 7-5 7-8 7 2 6-1 21-10 7 0 6 3 7-2 14-11 6-3 7 1 7-1 7-2 7 1 6-2 7-3 14-13 13-2 34-2 7-2 7-4 7-7 13-8 7-2 7 1 13-9 7 6 14-5"/></g>
<use href="#b9" stroke="#fff" stroke-opacity="0.6" stroke-width="1.6" stroke-dasharray="3 3.8"/>
<g stroke="#930000" stroke-width="6.8"><path id="b10" d="M401 406l7 12 7-3 6-9 7 2 7-2 7-12 7-5 6-3 7 2 7-2 14-2 6-3 7 1 14-11 7 0 6-3 7-7 14 3 7-3 13-2 7-5 7-7 7 1 6-1 14-8 7 3 7-2 6-7 7 5 7-2 7-8 7-4 6 6 7 1 7-6 13-4 7-5 21-5 6-6 7-3 7 2 7 0 7-5 6-1 7 2 14-9 13-2 14-4 14-1 6-9 14 1 7-6 13-3 7-5 27-9 7 4 7-2 7-3 7 2 13-12 7-3 14 3 6-10 14-2 7 1 7 3 6-2 7-4 7-8 7 2 6-2 21-9 7 0 6 3 7-2 14-12 7-3 6 1 7-1 7-2 7 2 7-2 6-4 14-12 14-3 34-2 6-2 7-3 7-8 14-8 6-2 7 1 14-9 7 6 13-4"/></g>
<use href="#b10" stroke="#fff" stroke-opacity="0.6" stroke-width="1.3" stroke-dasharray="3 3.8"/>
<g stroke="#950000" stroke-width="6.8"><path id="b11" d="M406 408l7 12 7-3 6-9 7 2 7-2 7-12 7-5 6-3 7 2 7-2 14-2 6-3 7 1 14-11 7 0 6-3 7-7 14 3 7-3 13-3 7-4 7-7 7 1 6-1 14-9 7 3 7-1 6-7 7 5 7-3 7-7 7-4 7 6 6 1 7-7 14-4 7-4 20-5 7-7 7-2 6 2 7-1 7-4 7-2 7 2 13-9 14-1 13-5 14-1 7-8 13 0 7-6 14-3 7-5 27-9 7 4 6-2 7-3 7 2 14-12 7-3 13 3 7-10 14-2 6 1 7 3 7-2 7-4 7-8 6 1 7-1 21-10 6 0 7 3 7-2 14-11 6-3 7 1 7-1 7-2 7 1 6-2 7-3 14-13 13-3 34-1 7-2 7-4 7-7 14-8 6-2 7 0 14-8 7 5 13-4"/></g>
<g stroke="#970000" stroke-width="6.8"><path id="b12" d="M411 411l7 12 7-3 7-10 7 2 7-2 6-11 7-5 7-4 7 2 7-2 13-1 7-3 7 0 13-11 7 0 7-3 7-7 14 3 6-3 14-3 7-4 7-7 6 1 7-1 14-9 7 3 7-2 6-6 7 5 7-3 7-7 7-4 6 6 7 1 7-7 14-4 6-4 21-6 7-6 7-3 6 2 7 0 7-5 7-1 7 1 13-9 14-1 14-5 13 0 7-9 14 0 6-5 14-4 7-5 27-9 7 4 7-2 7-3 6 2 14-12 7-3 13 3 7-10 14-2 7 0 7 4 6-2 7-5 7-8 7 2 7-1 20-10 7 0 7 3 6-2 14-11 7-4 7 1 7 0 6-3 7 2 7-2 7-4 13-13 14-2 34-2 7-2 7-4 7-7 13-8 7-2 7 1 14-9 6 5 14-4"/></g>
<g stroke="#900" stroke-width="6.8"><path id="b13" d="M417 413l7 12 7-3 6-9 7 2 7-2 7-12 7-5 7-3 6 2 7-3 14-1 7-3 6 0 14-10 7-1 7-3 7-7 13 3 7-3 14-3 7-4 6-7 7 1 7-1 14-9 7 3 6-2 7-6 7 4 7-2 7-7 6-5 7 7 7 0 7-6 14-4 6-5 21-5 7-6 7-3 6 2 7-1 7-4 7-2 7 2 13-9 14-1 14-6 13 0 7-9 14 0 7-5 13-4 7-5 27-9 7 4 7-2 7-3 7 2 13-13 7-2 14 2 7-9 13-2 7 0 7 4 7-2 7-5 6-8 7 2 7-1 21-10 6 0 7 3 7-2 14-12 6-3 7 1 7-1 7-3 7 2 7-2 6-3 14-13 14-3 34-2 7-2 7-4 6-7 14-8 7-2 7 1 13-9 7 5 14-4"/></g>
<g stroke="#9b0000" stroke-width="6.8"><path id="b14" d="M422 416l7 12 7-3 7-10 7 2 7-2 6-12 7-5 7-3 7 2 7-2 13-2 7-3 7 0 14-10 7-1 6-3 7-7 14 3 7-3 13-3 7-4 7-7 7 1 7-1 13-9 7 3 7-2 7-7 7 5 7-2 6-8 7-4 7 6 7 1 7-7 14-4 6-4 21-6 7-6 7-3 6 2 7 0 7-5 7-1 7 1 13-9 14-1 14-5 13-1 7-9 14 0 7-5 13-3 7-6 28-9 6 4 7-2 7-3 7 2 14-13 6-2 14 2 7-9 14-2 6 0 7 4 7-2 7-5 7-8 7 2 6-2 21-10 7 0 7 3 6-2 14-11 7-4 7 1 7 0 7-3 6 2 7-2 7-4 14-13 13-3 35-1 6-2 7-4 7-8 14-8 7-2 6 1 14-9 7 5 14-4"/></g>
<g stroke="#9d0000" stroke-width="7.5"><path id="b15" d="M428 418l7 12 7-3 7-9 7 2 6-2 7-12 7-5 7-4 7 2 7-2 13-2 7-3 7 1 14-11 7-1 6-3 7-7 14 4 7-4 13-2 7-5 7-7 7 1 7-1 14-9 6 3 7-2 7-7 7 5 7-2 7-8 6-4 7 6 7 1 7-7 14-4 7-4 20-6 7-6 7-3 7 2 6-1 7-4 7-2 7 2 14-9 13-2 14-5 14-1 7-8 13 0 7-6 14-3 7-6 27-9 7 4 7-1 7-4 6 2 14-13 7-2 14 2 7-9 13-2 7 0 7 3 7-2 7-4 7-8 6 1 7-1 21-10 7 0 6 3 7-2 14-12 7-3 7 1 7-1 6-3 7 2 7-2 7-4 14-13 13-2 35-2 6-2 7-4 7-8 14-8 7-2 6 1 14-9 7 5 14-4"/></g>
<use href="#b15" stroke="#fff" stroke-opacity="0.6" stroke-width="1.8" stroke-dasharray="3 3.8"/>
<g fill="#a90000"><path id="b16" d="M431 420l7 12 7-3 6-9 7 2 7-2 7-12 7-5 7-4 6 2 7-2 14-2 7-3 7 1 13-11 7-1 7-3 7-7 14 3 6-3 14-3 7-4 7-7 7 1 7-1 13-9 7 3 7-2 7-7 7 5 7-3 6-7 7-4 7 6 7 1 7-7 13-4 7-5 21-5 7-6 7-3 6 2 7-1 7-5 7-1 7 2 13-10 14-1 14-5 14-1 6-8 14 0 7-6 14-3 7-6 27-9 7 4 7-2 6-3 7 2 14-13 7-2 14 2 6-9 14-3 7 1 7 3 7-2 6-5 7-8 7 2 7-1 21-10 6 0 7 3 7-2 14-12 7-3 7 0 6 0 7-3 7 2 7-2 7-4 13-13 14-3 34-1 7-2 7-4 7-8 14-8 7-2 6 1 14-10 7 6 14-4 5 15-14 5-7-6-13 9-7-1-7 2-14 8-7 8-6 4-7 2-34 1-14 3-14 13-7 3-6 2-7-1-7 2-7 1-7-1-7 3-13 12-7 2-7-3-7 0-20 10-7 1-7-2-7 8-7 5-6 2-7-4-7 0-14 2-7 9-13-2-7 2-14 12-7-1-6 3-7 2-7-4-27 9-7 5-14 4-7 5-13 0-7 8-14 1-14 5-13 1-14 9-7-1-7 1-6 5-7 0-7-2-7 3-7 6-20 6-7 4-14 4-7 7-6-1-7-6-7 4-7 7-7 3-7-5-6 7-7 1-7-3-14 9-7 1-6-1-7 7-7 5-14 3-7 3-13-4-7 7-7 3-7 1-13 10-7 0-7 3-14 1-7 3-6-2-7 3-7 5-7 12-7 2-7-2-6 9-7 3-7-12z"/></g>
<use href="#b16" fill="url(#ws)" stroke="#a90000" stroke-width="4"/>
<g fill="#b20000"><path id="b17" d="M438 429l7 12 7-3 6-9 7 2 7-2 7-12 7-5 7-3 6 2 7-3 14-1 7-3 7 0 13-10 7-1 7-3 7-7 13 4 7-3 14-3 7-5 7-7 6 1 7-1 14-9 7 3 7-1 6-7 7 5 7-3 7-7 7-4 7 6 6 1 7-7 14-4 7-4 20-6 7-6 7-3 7 2 7 0 6-5 7-1 7 1 14-9 13-1 14-5 14-1 7-8 13 0 7-5 14-4 7-5 27-9 7 4 7-2 6-3 7 1 14-12 7-2 13 2 7-9 14-2 7 0 7 4 6-2 7-5 7-8 7 2 7-1 20-10 7 0 7 3 7-2 13-12 7-3 7 1 7-1 7-2 7 1 6-2 7-3 14-13 14-3 34-1 7-2 6-4 7-8 14-8 7-2 7 1 13-9 7 6 14-5 5 16-14 4-6-5-14 8-7 0-7 2-13 7-7 8-7 3-7 3-34 1-14 3-13 12-7 4-7 2-7-2-6 3-7 0-7-1-7 4-14 11-6 2-7-3-7 0-20 9-7 2-7-2-7 8-7 4-7 2-6-3-7-1-14 2-7 10-13-3-7 3-14 11-7-2-13 6-7-4-27 8-7 6-14 3-7 5-13 0-7 9-14 0-13 5-14 1-14 9-6-1-7 1-7 4-7 1-7-2-7 3-6 6-21 5-7 4-13 4-7 7-7-1-7-6-7 4-6 7-7 3-7-5-7 6-7 2-6-3-14 9-7 1-7-1-13 11-14 3-7 3-13-4-7 7-7 3-7 1-14 10-6 0-7 3-14 1-7 2-6-2-7 4-7 4-7 12-7 2-7-2-6 9-7 3-7-12z"/></g>
<use href="#b17" fill="url(#ws)" stroke="#b20000" stroke-width="4"/>
<g fill="#bc0000"><path id="b18" d="M445 438l7 12 7-3 6-9 7 2 7-2 7-12 7-4 7-4 6 2 7-2 14-1 7-3 6 0 14-10 7-1 7-3 7-7 13 4 7-3 14-3 13-11 7 1 7-1 14-9 6 3 7-2 7-6 7 5 7-3 6-7 7-4 7 6 7 1 7-7 13-4 7-4 21-5 6-6 7-3 7 2 7-1 7-4 7-1 6 1 14-9 14-1 13-5 14 0 7-9 13 0 7-5 14-3 7-6 27-8 7 4 13-6 7 2 14-11 7-3 13 3 7-10 14-2 7 1 6 3 7-2 7-4 7-8 7 2 7-2 20-9 7 0 7 3 6-2 14-11 7-4 7 1 7 0 6-3 7 2 7-2 7-4 13-12 14-3 34-1 7-3 7-3 7-8 13-7 7-2 7 0 14-8 6 5 14-4 5 15-13 4-7-5-14 8-6-1-7 3-14 7-7 7-6 4-7 2-34 1-14 3-13 12-7 4-7 1-7-1-7 2-7 1-6-1-7 3-14 11-7 2-6-3-7 0-21 9-6 2-7-2-7 8-7 4-7 2-6-3-21 1-7 9-13-2-7 2-14 12-7-2-13 5-7-4-27 9-7 5-14 3-6 5-14 0-7 8-13 1-14 5-14 1-13 8-7-1-7 1-7 4-7 1-6-2-7 3-7 6-20 5-7 4-14 4-7 6-6-1-7-5-7 4-7 7-7 2-7-5-6 7-7 1-7-3-14 9-6 1-7-1-14 11-13 3-7 2-14-3-7 7-6 3-7 0-14 10-7 0-6 3-14 1-7 3-7-2-7 3-6 4-7 12-7 2-7-2-7 9-6 3-7-12z"/></g>
<use href="#b18" fill="url(#ws)" stroke="#bc0000" stroke-width="4"/>
<g fill="#c40000"><path id="b19" d="M452 447l7 12 6-3 7-9 7 2 7-2 7-12 6-4 7-3 7 2 7-3 14-1 6-3 7 0 14-10 7 0 6-3 7-7 14 3 7-2 13-3 14-11 7 1 6-1 14-9 7 3 7-1 6-7 7 5 7-2 7-7 7-4 7 5 6 1 7-6 14-4 7-4 20-5 7-6 7-3 6 2 7-1 7-4 7-1 7 1 13-8 14-1 14-5 13-1 7-8 14 0 6-5 14-3 7-5 27-9 7 4 13-5 7 2 14-12 7-2 13 2 7-9 21-1 6 3 7-2 7-4 7-8 7 2 6-2 21-9 7 0 6 3 7-2 14-11 7-3 6 1 7-1 7-2 7 1 7-1 7-4 13-12 14-3 34-1 7-2 6-4 7-7 14-7 7-3 6 1 14-8 7 5 13-4 7 13-14 3-7-5-13 9-7-1-7 2-14 7-6 7-7 4-7 2-34 1-14 3-13 12-7 3-7 2-7-2-7 3-6 0-7-1-7 4-14 10-6 2-7-3-7 0-20 10-7 1-7-2-7 8-7 4-6 2-7-4-21 2-7 9-13-2-7 2-14 11-6-2-14 6-7-5-27 9-7 5-13 3-7 5-14 0-7 8-13 1-14 5-14 1-13 8-7-1-7 1-7 4-6 1-7-2-7 2-7 6-20 5-7 4-14 4-7 6-6 0-7-6-7 4-7 7-7 2-6-5-7 7-7 1-7-3-13 9-7 1-7-2-14 11-13 3-7 3-14-4-7 7-6 3-7 1-14 10-7-1-6 3-14 1-7 3-7-2-6 3-7 4-7 12-7 1-7-1-7 9-6 2-7-11z"/></g>
<use href="#b19" fill="url(#ws)" stroke="#c40000" stroke-width="4"/>
<g fill="#ca0000"><path id="b20" d="M458 455l7 11 6-2 7-9 7 1 7-1 7-12 7-4 6-3 7 2 7-3 14-1 6-3 7 1 14-10 7-1 6-3 7-7 14 4 7-3 13-3 14-11 7 2 7-1 13-9 7 3 7-1 7-7 6 5 7-2 7-7 7-4 7 6 6 0 7-6 14-4 7-4 20-5 7-6 7-2 7 2 6-1 7-4 7-1 7 1 13-8 14-1 14-5 13-1 7-8 14 0 7-5 13-3 7-5 27-9 7 5 14-6 6 2 14-11 7-2 13 2 7-9 21-2 7 4 6-2 7-4 7-8 7 2 7-1 20-10 7 0 7 3 6-2 14-10 7-4 7 1 6 0 7-3 7 2 7-2 7-3 13-12 14-3 34-1 7-2 7-4 6-7 14-7 7-2 7 1 13-9 7 5 14-3 7 9-13 4-7-6-14 9-7-1-6 2-14 7-7 7-7 4-7 2-34 1-13 3-14 11-7 4-7 1-7-1-6 2-7 1-7-1-7 3-14 11-6 1-7-2-7 0-21 9-6 1-7-2-7 8-7 4-7 2-7-4-20 2-7 9-14-2-6 2-14 11-7-2-14 5-6-4-28 8-7 6-13 3-7 5-14 0-7 8-13 0-14 5-14 1-13 8-7-1-7 1-7 4-7 1-6-2-7 2-7 6-21 5-6 4-14 4-7 6-7-1-7-5-6 3-7 7-7 2-7-4-7 6-7 2-6-3-14 8-7 1-7-1-13 11-14 2-7 3-14-3-6 7-7 2-7 1-14 10-7-1-6 3-14 1-7 2-7-1-7 3-6 4-7 11-7 2-7-2-7 9-7 3-6-12z"/></g>
<use href="#b20" fill="url(#ws)" stroke="#ca0000" stroke-width="4"/>
<g fill="#cf0000"><path id="b21" d="M463 460l6 12 7-3 7-9 7 2 7-2 7-11 6-4 7-3 7 1 7-2 14-1 6-3 7 1 14-10 7-1 7-2 6-7 14 3 7-3 14-2 13-11 7 1 7-1 14-8 6 3 7-2 7-6 7 4 7-2 7-7 6-3 7 5 7 1 7-6 14-4 6-4 21-5 7-6 7-2 6 2 7-1 7-4 7-1 7 1 13-8 14-1 14-5 13 0 7-8 14 0 7-5 13-3 7-6 28-8 6 4 14-5 7 2 14-11 6-2 14 2 7-9 20-2 7 4 7-2 7-4 7-8 7 2 6-1 21-9 7 0 7 2 6-1 14-11 7-3 7 1 7-1 6-2 7 1 7-1 7-4 14-11 13-3 34-1 7-2 7-4 7-7 14-7 6-2 7 1 14-9 7 6 13-4 9 7-14 4-7-5-14 8-6-1-7 2-14 7-7 7-7 4-7 2-34 1-14 2-14 12-6 4-7 1-7-1-7 2-7 0-7 0-7 3-13 10-7 2-7-3-7 0-21 9-6 1-7-1-7 7-7 4-7 2-7-3-20 2-7 8-14-2-7 2-14 11-6-2-14 5-7-4-28 8-6 6-14 3-7 5-14-1-7 8-13 1-14 4-14 2-14 8-6-2-7 1-7 5-7 0-7-2-7 3-7 6-20 5-7 3-14 4-7 6-7 0-6-6-7 4-7 6-7 3-7-5-7 6-7 2-7-3-13 8-7 1-7-1-14 11-13 2-7 3-14-3-7 6-7 3-7 0-13 10-7 0-7 3-14 1-7 2-7-2-6 3-7 5-7 11-7 2-7-2-7 9-7 2-7-11z"/></g>
<use href="#b21" fill="url(#ws)" stroke="#cf0000" stroke-width="4"/>
<g fill="#d40000"><path id="b22" d="M466 465l7 11 7-2 7-9 7 2 7-2 7-11 7-5 6-3 7 2 7-2 14-1 7-3 7 0 13-10 7 0 7-3 7-6 14 3 7-3 13-2 14-11 7 1 7-1 13-8 7 3 7-2 7-6 7 5 7-3 7-6 7-4 6 6 7 0 7-6 14-4 7-3 20-5 7-6 7-3 7 2 7 0 7-5 7-1 6 2 14-8 14-2 14-4 13-1 7-8 14 1 7-5 14-3 6-6 28-8 7 4 14-5 6 2 14-11 7-2 14 2 7-8 20-2 7 3 7-2 7-4 7-7 7 1 6-1 21-9 7 0 7 3 7-2 13-10 7-3 7 0 7 0 7-2 7 1 7-1 6-4 14-12 14-2 34-1 7-2 7-4 7-7 14-7 7-2 6 1 14-8 7 5 14-4 8 7-14 4-7-5-13 8-7-1-7 2-14 7-7 7-7 4-7 2-34 1-14 2-14 12-7 3-7 2-7-2-6 3-7 0-7-1-7 3-14 11-7 2-7-3-7 0-20 9-7 1-7-2-7 7-7 5-7 2-7-4-21 2-6 8-14-2-7 2-14 11-7-2-14 5-7-4-27 8-7 6-14 3-7 4-14 0-7 8-13 1-14 4-14 1-14 9-7-2-7 1-6 4-7 1-7-2-7 2-7 6-21 5-7 4-13 3-7 7-7-1-7-6-7 4-7 7-7 2-7-5-7 6-7 2-7-3-13 8-7 1-7-1-14 11-14 2-7 3-13-4-7 7-7 3-7 0-14 10-7 0-7 2-14 1-7 3-6-2-7 3-7 4-7 11-7 2-7-2-7 9-7 3-7-12z"/></g>
<use href="#b22" fill="url(#ws)" stroke="#d40000" stroke-width="4"/>
<g fill="#d90000"><path id="b23" d="M470 469l7 12 7-3 7-9 7 2 7-2 7-11 7-4 7-3 6 2 7-3 14-1 7-2 7 0 14-10 7 0 7-3 7-7 13 4 7-3 14-2 14-11 7 1 7-1 13-8 7 3 7-2 7-6 7 5 7-2 7-7 7-4 7 6 7 1 7-7 13-3 7-4 21-5 7-6 7-2 7 2 7-1 6-4 7-1 7 2 14-9 14-1 14-4 13-1 7-8 14 0 7-4 14-3 7-6 27-8 7 4 14-5 7 2 14-11 7-2 14 2 6-8 21-2 7 4 7-2 7-5 7-7 7 2 7-1 20-9 7 0 7 3 7-2 14-11 7-3 7 1 7 0 6-3 7 2 7-2 7-3 14-12 14-2 34-1 7-2 7-4 7-7 14-7 7-2 7 1 13-8 7 5 14-4 8 8-13 3-7-5-14 8-7 0-7 2-14 7-7 6-7 4-7 2-34 1-14 2-14 12-7 3-7 2-7-2-7 2-7 1-7-1-7 3-14 10-7 2-7-3-6 0-21 9-7 1-7-1-7 7-7 4-7 2-7-3-21 1-7 9-14-3-7 2-13 11-7-1-14 5-7-5-28 8-7 5-14 3-7 5-14 0-6 8-14 0-14 5-14 1-14 8-7-1-7 1-7 4-7 0-7-2-7 3-7 6-20 4-7 4-14 4-7 6-7-1-7-6-7 4-7 7-7 2-7-4-7 6-7 1-7-3-13 8-7 1-7-1-14 11-14 2-7 3-14-4-7 7-7 3-7 0-14 10-7-1-6 3-14 1-7 2-7-2-7 3-7 5-7 11-7 2-7-2-7 8-7 3-7-11z"/></g>
<use href="#b23" fill="url(#ws)" stroke="#d90000" stroke-width="4"/>
<g fill="#de0000"><path id="b24" d="M474 474l7 11 7-3 7-8 7 2 7-2 7-11 7-5 7-3 7 2 7-2 14-1 6-3 7 1 14-10 7 0 7-3 7-7 14 4 7-3 14-2 14-11 7 1 7-1 13-8 7 3 7-1 7-6 7 4 7-2 7-7 7-4 7 6 7 1 7-6 14-4 7-4 20-4 7-6 7-3 7 2 7 0 7-4 7-1 7 1 14-8 14-1 14-5 14 0 6-8 14 0 7-5 14-3 7-5 28-8 7 5 14-5 7 1 13-11 7-2 14 3 7-9 21-1 7 3 7-2 7-4 7-7 7 1 7-1 21-9 6 0 7 3 7-2 14-10 7-3 7 1 7-1 7-2 7 2 7-2 7-3 14-12 14-2 34-1 7-2 7-4 7-6 14-7 7-2 7 0 14-8 7 5 13-3 9 7-14 4-7-5-14 8-7-1-7 2-14 7-7 6-7 4-7 2-35 1-14 2-14 12-7 3-7 1-7-1-6 2-7 1-7-1-7 3-14 10-7 2-7-3-7 0-21 9-7 1-7-2-7 7-7 4-7 2-7-3-21 2-7 8-14-2-7 2-14 11-7-2-14 5-7-4-28 8-7 4-14 3-6 5-14 0-7 8-14 0-14 5-14 1-14 8-7-2-7 1-7 4-7 1-7-2-7 2-7 6-21 5-7 4-14 3-7 6-7-1-7-5-7 3-7 7-7 2-7-4-7 6-7 1-7-2-14 7-6 1-7-1-14 11-14 2-7 3-14-4-7 7-7 2-7 1-14 10-7-1-7 3-14 1-7 2-7-2-7 3-7 4-7 11-7 2-7-2-7 9-7 3-7-12z"/></g>
<use href="#b24" fill="url(#ws)" stroke="#de0000" stroke-width="4"/>
<g fill="#e30000"><path id="b25" d="M478 478l7 12 7-3 7-9 7 2 7-2 7-11 7-4 7-3 7 2 7-2 14-1 7-3 7 1 14-10 7-1 7-2 7-7 14 4 7-3 14-2 14-11 7 1 6-1 14-7 7 2 7-1 7-6 7 4 7-2 7-7 7-3 7 5 7 1 7-6 14-3 7-4 21-5 7-6 7-2 7 2 7-1 7-4 7-1 7 2 14-8 14-1 14-5 14 0 7-8 14 0 6-5 14-3 7-4 28-8 7 4 14-5 7 2 14-11 7-2 14 2 7-8 21-2 7 3 7-2 7-4 7-7 7 2 7-1 21-9 7 0 7 3 7-2 14-10 7-3 7 1 7-1 6-2 7 1 7-1 7-3 14-12 14-2 35-1 7-2 7-4 7-6 14-7 7-2 7 1 14-8 7 5 14-4 8 9-14 3-7-5-14 8-7-1-7 2-14 7-7 7-7 3-7 2-35 1-14 2-14 12-7 3-7 1-7-1-7 2-7 1-7-1-7 3-14 10-7 2-7-3-7 0-21 8-7 1-7-1-7 7-7 4-7 2-7-4-21 2-7 8-14-2-7 2-14 11-7-2-14 5-7-4-28 7-7 5-14 3-7 5-14 0-7 7-14 1-14 4-14 1-14 8-7-1-7 1-7 4-7 0-7-2-7 3-7 5-21 5-7 4-14 3-7 6-7-1-7-5-7 3-7 7-7 2-7-4-7 5-7 2-7-3-14 8-7 1-7-1-14 10-14 3-8 2-14-3-7 6-14 3-14 10-7-1-7 3-14 1-7 2-7-2-7 3-7 4-7 11-7 2-7-2-7 9-7 2-7-11z"/></g>
<use href="#b25" fill="url(#ws)" stroke="#e30000" stroke-width="4"/>
<g fill="#e80000"><path id="b26" d="M482 483l7 11 7-2 7-9 7 2 7-2 7-11 7-4 7-3 7 2 7-2 14-1 7-3 7 1 14-10 14-3 7-6 14 3 8-2 14-3 14-10 7 1 7-1 14-8 7 3 7-2 7-5 7 4 7-2 7-7 7-3 7 5 7 1 7-6 14-3 7-4 21-5 7-5 7-3 7 2 7 0 7-4 7-1 7 1 14-8 14-1 14-4 14-1 7-7 14 0 7-5 14-3 7-5 28-7 7 4 14-5 7 2 14-11 7-2 14 2 7-8 21-2 7 4 7-2 7-4 7-7 7 1 7-1 21-8 7 0 7 3 7-2 14-10 7-3 7 1 7-1 7-2 7 1 7-1 7-3 14-12 14-2 35-1 7-2 7-3 7-7 14-7 7-2 7 1 14-8 7 5 14-3 8 9-14 3-7-5-14 8-7-1-7 2-14 7-7 6-7 3-7 2-36 1-14 3-14 11-7 3-7 1-7-1-7 2-7 1-7-1-7 3-14 10-7 1-7-3-7 0-21 9-7 1-7-2-7 7-7 4-7 2-7-3-22 1-7 8-14-2-7 2-14 11-7-2-14 5-7-4-28 7-7 5-14 3-7 5-14 0-7 7-14 0-14 5-14 1-15 8-7-2-7 1-7 4-7 0-7-1-7 2-7 5-21 5-7 4-14 3-7 6-7-1-7-5-7 3-7 7-7 2-7-5-7 6-7 2-7-3-14 8-7 1-7-2-15 11-14 2-7 3-14-4-7 7-14 2-14 10-7-1-7 3-14 1-7 2-7-2-7 3-7 4-7 11-7 2-7-2-7 8-7 3-7-11z"/></g>
<use href="#b26" fill="url(#ws)" stroke="#e80000" stroke-width="4"/>
<g fill="#ed0000"><path id="b27" d="M487 488l7 11 7-3 7-8 7 2 7-2 7-11 7-4 7-3 7 2 7-2 14-1 7-3 7 1 14-10 14-2 7-7 14 4 7-3 14-2 15-11 7 2 7-1 14-8 7 3 7-2 7-6 7 5 7-2 7-7 7-3 7 5 7 1 7-6 14-3 7-4 21-5 7-5 7-2 7 1 7 0 7-4 7-1 7 2 15-8 14-1 14-5 14 0 7-7 14 0 7-5 14-3 7-5 28-7 7 4 14-5 7 2 14-11 7-2 14 2 7-8 22-1 7 3 7-2 7-4 7-7 7 2 7-1 21-9 7 0 7 3 7-1 14-10 7-3 7 1 7-1 7-2 7 1 7-1 7-3 14-11 14-3 36-1 7-2 7-3 7-6 14-7 7-2 7 1 14-8 7 5 14-3 8 8-14 4-7-5-14 8-7-1-7 2-15 6-7 7-7 3-7 2-35 1-14 2-14 11-7 3-7 2-7-2-15 3-7-1-7 3-14 9-7 2-7-3-7 0-21 9-7 1-7-2-7 7-8 4-7 2-7-4-21 2-7 8-14-2-7 2-14 10-7-2-14 5-7-4-29 7-7 5-14 3-7 5-14-1-7 8-14 0-14 4-15 1-14 8-7-1-7 1-7 3-7 1-7-2-7 2-7 6-21 4-7 4-15 3-7 6-7-1-7-5-7 3-7 7-7 2-7-5-7 6-7 2-7-3-14 7-7 1-7-1-15 10-14 3-7 2-14-3-7 6-14 3-14 9-7 0-7 2-14 1-8 2-7-2-7 3-7 4-7 11-7 2-7-2-7 8-7 3-7-12z"/></g>
<use href="#b27" fill="url(#ws)" stroke="#ed0000" stroke-width="4"/>
<g fill="#f30000"><path id="b28" d="M491 492l7 12 7-3 7-8 7 2 7-2 7-11 7-4 7-3 7 2 8-2 14-1 7-2 7 0 14-9 14-3 7-6 14 3 7-2 14-3 15-10 7 1 7-1 14-7 7 3 7-2 7-6 7 5 7-2 7-7 7-3 7 5 7 1 7-6 15-3 7-4 21-4 7-6 7-2 7 2 7-1 7-3 7-1 7 1 14-8 15-1 14-4 14 0 7-8 14 1 7-5 14-3 7-5 29-7 7 4 14-5 7 2 14-10 7-2 14 2 7-8 21-2 7 4 7-2 8-4 7-7 7 2 7-1 21-9 7 0 7 3 7-2 14-9 7-3 7 1 15-3 7 2 7-2 7-3 14-11 14-2 35-1 7-2 7-3 7-7 15-6 7-2 7 1 14-8 7 5 14-4 8 9-14 4-7-5-14 7-7 0-8 1-14 7-7 6-14 5-35 1-15 2-14 11-7 3-7 2-7-2-14 3-7-1-8 3-14 9-7 2-7-3-7 0-21 8-7 1-7-1-8 7-7 3-7 2-7-3-21 1-7 8-14-2-8 2-14 10-7-2-14 5-7-4-28 7-8 5-14 3-7 4-14 0-7 8-14 0-14 4-15 1-14 8-7-2-7 1-7 4-7 0-7-2-7 3-8 5-21 4-7 4-14 3-7 6-7-1-7-5-7 3-8 7-7 2-7-5-7 6-7 1-7-2-14 7-7 1-7-1-15 10-14 2-7 3-14-4-7 6-14 3-15 9-7 0-7 2-14 1-7 2-7-2-7 3-7 4-7 11-8 1-7-1-7 8-7 3-7-12z"/></g>
<use href="#b28" fill="url(#ws)" stroke="#f30000" stroke-width="4"/>
<g fill="#f80000"><path id="b29" d="M495 497l7 12 7-3 7-8 7 1 8-1 7-11 7-4 7-3 7 2 7-2 14-1 7-2 7 0 15-9 14-3 7-6 14 4 7-3 14-2 15-10 7 1 7-1 14-7 7 2 7-1 7-6 7 5 7-2 8-7 7-3 7 5 7 1 7-6 14-3 7-4 21-4 8-5 7-3 7 2 7 0 7-4 7-1 7 2 14-8 15-1 14-4 14 0 7-8 14 0 7-4 14-3 8-5 28-7 7 4 14-5 7 2 14-10 8-2 14 2 7-8 21-1 7 3 7-2 7-3 8-7 7 1 7-1 21-8 7 0 7 3 7-2 14-9 8-3 7 1 14-3 7 2 7-2 7-3 14-11 15-2 35-1 14-5 7-6 14-7 8-1 7 0 14-7 7 5 14-4 8 9-14 4-7-5-14 7-8-1-7 2-14 6-7 7-14 5-36 0-14 3-14 10-8 3-7 2-7-2-14 3-7-1-7 3-15 9-7 2-7-3-7 0-21 8-7 1-8-2-7 7-7 4-7 2-7-4-21 2-8 8-14-3-7 2-14 10-7-1-15 4-7-4-28 7-7 5-15 3-7 4-14 0-7 7-14 1-15 4-14 0-14 8-7-1-7 0-7 4-8 1-7-2-7 2-7 5-21 5-7 3-15 3-7 6-7-1-7-5-7 3-7 7-7 2-8-5-7 6-7 1-7-3-14 8-7 1-7-2-15 10-14 3-7 2-14-4-7 7-15 2-14 10-7-1-7 3-14 0-8 2-7-2-7 3-7 4-7 11-7 1-7-2-7 9-8 2-7-11z"/></g>
<use href="#b29" fill="url(#ws)" stroke="#f80000" stroke-width="4"/>
<g fill="#fd0000"><path id="b30" d="M499 502l7 11 8-2 7-9 7 2 7-1 7-11 7-4 7-3 7 2 8-2 14 0 7-3 7 1 14-10 15-2 7-7 14 4 7-2 14-3 15-10 7 2 7-1 14-8 7 3 7-1 7-6 8 5 7-2 7-7 7-3 7 5 7 1 7-6 15-3 7-3 21-5 7-5 7-2 7 2 8-1 7-4 7 0 7 1 14-8 14 0 15-4 14-1 7-7 14 0 7-4 15-3 7-5 28-7 7 4 15-4 7 1 14-10 7-2 14 3 8-8 21-2 7 4 7-2 7-4 7-7 8 2 7-1 21-8 7 0 7 3 7-2 15-9 7-3 7 1 14-3 7 2 7-2 8-3 14-10 14-3 36 0 14-5 7-7 14-6 7-2 8 1 14-7 7 5 14-4 8 9-14 3-7-5-15 8-7-1-7 2-14 6-7 6-15 5-35 1-15 2-14 10-7 3-7 2-7-2-15 3-7-1-7 3-14 9-8 2-7-3-7 0-21 8-7 1-8-2-7 7-7 4-7 1-7-3-22 1-7 8-14-2-7 2-15 10-7-2-14 4-7-4-29 7-7 5-14 3-8 4-14 0-7 7-14 0-15 4-14 1-14 8-7-2-8 1-7 4-7 0-7-2-7 2-7 6-22 4-7 3-14 3-7 6-8-1-7-5-7 3-7 6-7 2-7-4-7 6-8 1-7-3-14 8-7 0-7-1-15 10-14 2-7 3-14-4-8 6-14 3-14 9-7-1-8 3-14 0-7 2-7-1-7 2-8 4-7 11-7 1-7-2-7 9-7 2-7-11z"/></g>
<use href="#b30" fill="url(#ws)" stroke="#fd0000" stroke-width="4"/>
<g stroke="#ff0100" stroke-width="11.8"><path id="b31" d="M506 509l7 12 7-3 7-8 8 2 7-2 7-10 7-4 7-3 7 2 8-2 14-1 7-2 7 0 15-8 14-3 7-6 14 3 8-2 14-2 14-10 7 1 7-1 15-7 7 3 7-1 7-6 7 4 8-2 7-6 7-3 7 5 7 1 7-6 15-3 7-3 21-4 8-6 7-2 7 2 7 0 7-4 7-1 8 2 14-8 14-1 15-4 14 0 7-7 14 0 8-4 14-3 7-4 29-7 7 4 14-5 7 2 15-10 7-2 14 2 7-7 22-2 7 4 7-2 7-4 7-6 8 1 7-1 21-8 7 0 8 3 7-1 14-10 7-3 7 1 15-2 7 1 7-1 7-3 15-10 14-2 36-1 14-5 7-6 15-6 7-2 7 1 14-8 7 5 15-3"/></g>
<use href="#b31" stroke="#fff" stroke-opacity="0.6" stroke-width="5.9" stroke-dasharray="3 3.8"/>
<g stroke="#ff0500" stroke-width="11.3"><path id="b32" d="M513 517l7 11 7-3 7-8 8 2 7-2 7-10 7-4 7-3 7 2 7-2 15 0 7-3 7 1 14-9 15-3 7-6 14 3 7-2 15-2 14-10 7 1 7 0 15-8 7 3 7-1 7-6 7 4 7-1 7-7 8-3 7 5 7 1 7-5 14-4 8-3 21-4 7-5 7-3 7 2 8 0 7-4 7-1 7 2 14-8 15 0 14-4 14-1 7-7 15 0 7-4 14-3 7-4 29-7 7 4 14-5 8 2 14-10 7-2 14 2 7-7 22-2 7 4 7-2 7-4 8-6 7 1 7-1 21-8 7 0 8 3 7-1 14-10 7-3 7 1 15-2 7 1 7-1 7-3 14-10 15-2 35-1 15-5 7-6 14-6 7-2 8 1 14-8 7 5 14-3"/></g>
<use href="#b32" stroke="#fff" stroke-opacity="0.6" stroke-width="5.9" stroke-dasharray="3 3.8"/>
<g stroke="#ff0900" stroke-width="11.3"><path id="b33" d="M520 524l7 11 7-3 7-8 7 2 8-2 7-10 7-4 7-3 7 2 7-2 15 0 7-3 7 1 14-9 14-3 8-6 14 3 7-2 14-2 14-10 8 1 7-1 14-7 7 3 7-1 7-6 8 4 7-2 7-6 7-3 7 5 7 1 7-6 15-3 7-3 21-4 7-5 8-3 7 2 7 0 7-4 7-1 7 2 15-8 14-1 14-4 14 0 8-7 14 0 7-4 14-3 7-4 29-7 7 3 14-4 8 2 14-10 7-2 14 2 7-7 22-2 7 3 7-1 7-4 7-6 8 1 7-1 21-8 7 0 7 3 8-2 14-9 7-3 7 1 14-2 7 1 8-1 7-3 14-10 14-3 36 0 14-5 7-6 15-7 7-1 7 1 14-8 7 5 15-3"/></g>
<use href="#b33" stroke="#fff" stroke-opacity="0.6" stroke-width="5.9" stroke-dasharray="3 3.8"/>
<g stroke="#ff0d00" stroke-width="11.3"><path id="b34" d="M527 531l7 10 7-2 7-8 7 2 7-2 7-10 8-4 7-3 7 2 7-2 14-1 7-2 8 0 14-8 14-3 7-6 14 3 22-4 14-10 7 1 7-1 15-7 7 3 7-1 7-6 7 4 7-2 7-6 7-3 8 5 7 1 7-6 14-3 7-3 22-4 7-6 7-2 7 2 7 0 7-4 7-1 8 2 14-8 14-1 14-4 15 0 7-7 14 0 7-4 14-3 8-4 28-7 7 3 14-4 8 2 14-10 7-2 14 2 7-8 22-1 7 3 7-1 7-4 7-7 7 2 7-1 22-8 7 0 7 3 7-2 15-9 7-3 7 1 14-2 7 1 7-1 7-3 15-11 14-2 36-1 14-4 7-6 14-7 7-1 8 0 14-7 7 5 14-4"/></g>
<use href="#b34" stroke="#fff" stroke-opacity="0.6" stroke-width="5.9" stroke-dasharray="3 3.8"/>
<g stroke="#f10" stroke-width="11.3"><path id="b35" d="M534 538l7 10 7-2 7-8 7 2 7-2 7-10 7-4 8-3 7 2 7-2 14-1 7-2 7 0 14-8 15-3 7-6 14 3 21-4 15-10 7 1 7-1 14-7 7 3 7-2 7-5 8 4 7-2 7-6 7-3 7 5 7 1 7-6 15-3 7-3 21-4 7-6 7-2 7 2 7 0 8-4 7-1 7 1 14-7 14-1 15-4 14 0 7-7 14 0 7-4 14-3 8-4 28-7 7 3 14-4 8 2 14-10 7-2 14 2 7-8 22-1 7 3 7-2 7-3 7-7 7 2 7-1 22-8 7 0 7 3 7-2 14-9 7-3 8 1 14-3 7 2 7-2 7-3 14-10 15-2 35-1 14-5 8-6 14-6 7-2 7 1 14-7 7 5 15-4"/></g>
<use href="#b35" stroke="#fff" stroke-opacity="0.6" stroke-width="5.9" stroke-dasharray="3 3.8"/>
<g stroke="#ff1500" stroke-width="11.3"><path id="b36" d="M540 545l8 10 7-2 7-8 7 2 7-2 7-10 7-4 7-3 7 2 7-2 15-1 7-2 7 0 14-8 14-3 7-6 15 3 21-4 14-10 7 1 7-1 15-7 7 3 7-2 7-5 7 4 7-2 7-6 7-3 7 5 8 1 7-6 14-3 7-3 21-5 7-5 8-2 7 2 7-1 7-3 7-1 7 1 14-7 15-1 14-4 14 0 7-7 14 0 7-4 15-3 7-4 28-8 7 4 14-4 8 1 14-9 7-2 14 2 7-8 22-1 7 3 7-2 7-3 7-7 7 2 7-1 21-8 8 0 7 2 7-1 14-9 7-3 7 1 14-3 8 2 7-2 7-3 14-10 14-2 36-1 14-5 7-6 14-6 7-2 7 1 15-7 7 4 14-3"/></g>
<use href="#b36" stroke="#fff" stroke-opacity="0.6" stroke-width="5.9" stroke-dasharray="3 3.8"/>
<g stroke="#ff1a00" stroke-width="11.3"><path id="b37" d="M547 552l7 10 7-2 8-8 7 2 7-2 7-10 7-4 7-3 7 2 7-2 14-1 8-2 7 0 14-8 14-3 7-6 14 3 22-4 14-10 7 1 7-1 14-7 7 3 7-2 7-5 8 4 7-2 7-6 7-3 7 5 7 1 7-6 14-3 7-3 22-5 7-5 7-2 7 2 7-1 7-3 7-1 7 1 15-7 14-1 14-4 14 0 7-7 14 0 8-4 14-3 7-5 28-7 7 4 14-4 8 1 14-10 7-1 14 2 7-8 21-1 8 3 7-2 7-4 7-6 7 1 7-1 21-7 7 0 7 2 8-1 14-9 7-3 7 1 14-3 7 1 7-1 7-3 15-10 14-2 35-1 14-5 8-6 14-6 7-2 7 1 14-7 7 4 14-3"/></g>
<use href="#b37" stroke="#fff" stroke-opacity="0.6" stroke-width="5.9" stroke-dasharray="3 3.8"/>
<g stroke="#ff1e00" stroke-width="11.5"><path id="b38" d="M555 560l7 10 7-2 8-8 7 2 7-2 7-10 7-4 7-2 7 1 7-2 14-1 7-2 7 0 15-8 14-3 7-6 14 3 21-4 14-10 7 1 8-1 14-7 7 3 7-2 7-5 7 4 7-2 7-6 7-3 7 5 7 1 8-6 14-3 7-3 21-5 7-5 7-2 7 2 7-1 7-3 8-1 7 1 14-7 14-1 14-4 14 0 7-7 15 0 7-4 14-3 7-5 28-7 7 4 14-4 8 1 14-9 7-2 14 2 7-8 21-1 7 3 7-2 8-4 7-6 7 1 7-1 21-7 7 0 7 2 7-2 14-9 8-2 7 0 14-2 7 1 7-1 7-3 14-10 14-2 36-1 14-5 7-6 14-6 7-2 7 1 15-7 7 4 14-3"/></g>
<use href="#b38" stroke="#fff" stroke-opacity="0.6" stroke-width="6" stroke-dasharray="3 3.8"/>
<g stroke="#f20" stroke-width="11.7"><path id="b39" d="M561 566l7 10 7-2 7-8 7 2 7-2 7-10 7-4 7-2 7 2 8-2 14-1 7-3 7 1 14-9 14-3 7-6 14 3 22-4 14-10 7 1 7 0 14-8 7 3 7-1 7-6 7 4 7-2 8-6 7-3 7 5 7 1 7-6 14-3 7-3 21-5 7-5 7-2 8 2 7-1 7-3 7-1 7 1 14-7 14-1 14-4 14 0 8-7 14 0 7-5 14-2 7-5 28-7 7 4 15-5 7 2 14-10 7-2 14 2 7-7 21-1 7 2 7-1 8-4 7-6 7 1 7-1 21-8 7 0 7 3 7-2 14-9 7-3 8 1 14-2 7 1 7-1 7-3 14-10 14-3 36-1 14-5 7-5 14-7 7-1 7 0 14-7 7 5 15-4"/></g>
<use href="#b39" stroke="#fff" stroke-opacity="0.6" stroke-width="6" stroke-dasharray="3 3.8"/>
<g stroke="#ff2600" stroke-width="11.7"><path id="b40" d="M567 573l7 11 7-3 7-8 8 2 7-1 7-10 7-4 7-3 7 2 7-2 14-1 7-3 7 1 14-9 15-2 7-6 14 3 21-5 14-9 7 1 7-1 14-7 7 2 8-1 7-6 7 4 7-2 7-5 7-4 7 5 7 1 7-6 14-3 7-3 22-4 7-5 7-3 7 2 7 0 7-4 7-1 7 1 14-7 14-1 14-4 15 0 7-7 14 0 7-4 14-3 7-5 28-7 7 4 15-5 7 2 14-10 7-2 14 2 7-7 21-2 7 3 7-1 8-4 7-6 7 1 7-1 21-8 7 0 7 3 7-2 14-9 7-3 8 1 14-3 7 2 7-2 7-3 14-10 14-2 36-1 14-5 7-6 14-6 7-2 7 1 14-7 7 4 14-3"/></g>
<use href="#b40" stroke="#fff" stroke-opacity="0.6" stroke-width="6" stroke-dasharray="3 3.8"/>
<g stroke="#ff2a00" stroke-width="11.7"><path id="b41" d="M574 581l7 10 7-2 7-8 7 1 7-1 7-10 7-4 7-2 7 1 7-2 15-1 7-2 7 0 14-8 14-3 7-6 14 3 21-5 14-9 8 1 7-1 14-7 7 2 7-1 7-5 7 4 7-2 7-6 7-3 7 4 7 1 7-5 15-4 7-3 21-4 7-5 7-2 7 1 7 0 7-4 7-1 7 1 14-7 15-1 14-4 14 0 7-7 14 0 7-4 14-3 7-4 29-8 7 4 14-5 7 2 14-10 7-2 14 2 7-7 21-2 7 3 8-2 7-3 7-6 7 1 7-1 21-8 7 0 7 2 7-1 14-9 7-3 7 1 15-3 7 1 7-1 7-3 14-10 14-2 35-2 14-4 8-6 14-6 7-2 7 1 14-7 7 4 14-4"/></g>
<use href="#b41" stroke="#fff" stroke-opacity="0.6" stroke-width="6" stroke-dasharray="3 3.8"/>
<g stroke="#ff2f00" stroke-width="11.7"><path id="b42" d="M580 588l7 10 7-2 7-8 8 2 7-2 7-9 7-4 7-3 7 2 7-2 14-1 7-3 7 1 14-9 14-3 7-6 15 3 21-4 14-10 7 1 7-1 14-7 7 3 7-2 7-5 7 4 7-2 7-6 8-3 7 5 7 0 7-5 14-3 7-4 21-4 7-5 7-2 7 1 7 0 7-4 7-1 7 1 15-7 14-1 14-4 14 0 7-7 14 0 7-4 14-3 7-4 29-8 7 4 14-5 7 2 14-10 7-2 14 2 7-7 21-2 7 3 8-2 7-3 7-7 7 2 7-1 21-8 7 0 7 2 7-2 14-8 7-3 7 1 14-3 8 1 7-1 7-3 14-10 14-2 35-2 14-5 7-5 15-6 7-2 7 0 14-7 7 4 14-3"/></g>
<use href="#b42" stroke="#fff" stroke-opacity="0.6" stroke-width="6" stroke-dasharray="3 3.8"/>
<g stroke="#f30" stroke-width="11.7"><path id="b43" d="M587 596l7 10 7-3 7-7 7 1 7-1 7-10 7-4 7-2 7 1 7-2 14-1 7-2 8 0 14-9 14-2 7-6 14 3 21-5 14-9 7 1 7-1 14-7 7 2 8-1 7-6 7 4 7-2 7-6 7-3 7 5 7 0 7-5 14-3 7-4 21-4 7-5 7-2 7 1 8 0 7-4 7-1 7 2 14-8 14-1 14-4 14 0 7-7 14 0 7-4 14-3 7-4 29-8 7 4 14-5 7 2 14-10 7-2 14 2 7-7 21-2 7 3 8-2 7-3 7-7 7 2 7-1 21-8 7 0 7 2 7-2 14-9 7-2 7 0 14-2 7 1 8-2 7-2 14-10 14-3 35-1 14-5 7-6 14-6 7-2 7 1 15-7 7 4 14-3"/></g>
<use href="#b43" stroke="#fff" stroke-opacity="0.6" stroke-width="6" stroke-dasharray="3 3.8"/>
<g stroke="#ff3700" stroke-width="12"><path id="b44" d="M594 604l7 10 7-3 7-7 7 1 7-1 7-10 7-4 7-2 7 1 7-2 14-1 7-2 8 0 14-9 14-2 7-6 14 3 21-5 14-9 7 1 7-1 14-7 7 2 7-2 7-5 7 4 8-2 7-6 7-3 7 5 7 0 7-5 14-3 7-4 21-4 7-5 7-2 7 1 7 0 7-4 7-1 7 1 14-7 15-1 14-4 14-1 7-6 14-1 7-4 14-2 7-5 28-7 7 3 14-4 8 1 14-9 7-2 14 2 7-8 21-1 7 2 7-1 7-4 7-6 7 1 7-1 21-8 7 0 7 2 8-1 14-9 7-3 7 1 14-3 7 1 7-1 7-3 14-10 14-2 35-2 14-5 8-6 14-6 7-1 7 0 14-7 7 4 14-3"/></g>
<use href="#b44" stroke="#fff" stroke-opacity="0.6" stroke-width="6.7" stroke-dasharray="3 3.8"/>
<g fill="#ff4900"><path id="b45" d="M597 607l7 10 7-2 7-8 7 2 7-2 7-9 7-4 7-3 7 2 7-2 14-1 7-3 7 0 14-8 14-3 7-6 15 3 21-5 14-9 7 1 7-1 14-7 7 2 7-1 7-5 7 3 7-1 7-6 7-3 7 4 7 1 7-6 14-3 8-3 21-5 7-4 7-3 7 2 7-1 7-3 7-1 7 1 14-7 14-1 14-4 14-1 7-7 14 0 8-4 14-3 7-4 28-7 7 3 14-4 7 1 14-9 7-2 14 1 7-7 21-2 7 3 8-2 7-3 7-6 7 1 7-1 21-8 7 0 7 2 7-2 14-8 7-3 7 0 14-2 7 1 7-2 7-2 14-10 15-2 35-2 14-5 7-6 14-6 7-1 7 0 14-7 7 4 14-3 6 11-14 3-7-4-14 7-7 0-7 1-14 6-7 6-14 5-36 2-14 2-14 9-7 3-7 2-7-1-14 2-7 0-7 2-14 9-7 2-7-3-7 1-21 7-7 1-7-1-7 6-15 5-7-2-21 2-7 7-14-2-7 2-14 9-7-1-14 4-7-3-28 7-7 4-14 3-7 4-14 0-7 7-15 0-14 4-14 2-14 7-7-1-7 0-7 4-7 1-7-2-7 2-7 5-21 4-7 4-14 3-7 5-7 0-7-5-7 3-7 6-7 2-8-4-7 5-7 2-7-2-14 6-7 1-7-1-14 10-21 4-14-2-7 5-14 3-14 8-7 0-7 3-14 1-7 2-7-2-7 3-7 3-8 10-7 1-7-1-7 7-7 3-7-10z"/></g>
<use href="#b45" fill="url(#ws)" stroke="#ff4900" stroke-width="4"/>
<g fill="#ff5700"><path id="b46" d="M603 616l7 10 7-3 7-7 7 1 7-1 8-10 7-3 7-3 7 2 7-2 14-1 7-3 7 0 14-8 14-3 7-5 14 2 21-4 14-10 7 1 7-1 14-6 7 2 7-2 7-5 8 4 7-2 7-6 7-3 7 5 7 0 7-5 14-3 7-4 21-4 7-5 7-2 7 2 7-1 7-4 7 0 7 1 14-7 14-2 14-4 15 0 7-7 14 0 7-4 14-3 7-4 28-7 7 3 14-4 7 1 14-9 7-2 14 2 7-7 21-2 7 2 15-5 7-6 7 1 7-1 21-7 7-1 7 3 7-2 14-9 7-2 7 0 14-2 7 1 7-2 7-3 14-9 14-2 36-2 14-5 7-6 14-6 7-1 7 0 14-7 7 4 14-3 6 11-15 3-7-3-14 6-7 0-7 2-14 5-7 6-14 5-35 1-14 3-14 9-7 3-7 1-7-1-14 3-7-1-7 3-14 8-7 2-7-2-7 0-21 8-7 1-8-1-7 5-14 6-7-3-21 2-7 7-14-2-7 2-14 9-7-1-14 4-7-3-28 7-7 4-14 3-7 4-14 0-7 7-14 0-14 4-14 1-15 7-7-1-7 1-7 4-7 0-7-1-7 2-7 5-21 4-7 3-14 3-7 6-7-1-7-4-7 3-7 5-7 2-7-3-7 5-7 1-7-2-14 7-14 0-14 9-21 4-14-2-8 5-14 3-14 8-7 0-7 2-14 2-7 2-7-2-7 3-7 3-7 10-7 1-7-1-7 7-7 2-7-9z"/></g>
<use href="#b46" fill="url(#ws)" stroke="#ff5700" stroke-width="4"/>
<g fill="#ff6400"><path id="b47" d="M610 625l7 9 7-2 7-7 7 1 7-1 7-10 7-3 7-3 7 2 7-2 14-2 7-2 7 0 14-8 14-3 8-5 14 2 21-4 14-9 14 0 14-7 7 2 7-1 7-5 7 3 7-2 7-5 7-3 7 4 7 1 7-6 14-3 7-3 21-4 7-5 7-2 7 1 7 0 7-4 7-1 7 1 15-7 14-1 14-4 14 0 7-7 14 0 7-4 14-3 7-4 28-7 7 3 14-4 7 1 14-9 7-2 14 2 7-7 21-2 7 3 14-6 7-5 8 1 7-1 21-8 7 0 7 2 7-2 14-8 7-3 7 1 14-3 7 1 7-1 7-3 14-9 14-3 35-1 14-5 7-6 14-5 7-2 7 0 14-6 7 3 15-3 5 11-14 4-7-4-14 6-7 0-7 2-14 6-7 5-14 4-35 2-14 3-14 9-7 3-7 1-7-1-14 3-7-1-21 11-7 2-7-2-7 0-22 7-7 1-7-1-7 6-14 5-7-2-21 1-7 7-14-1-7 2-14 8-7-1-14 4-7-3-28 7-7 4-14 3-7 4-14 0-7 7-14 0-14 4-14 1-14 7-7-1-7 1-7 3-7 1-7-1-7 2-7 4-21 5-8 3-14 3-7 5-7 0-7-5-7 3-7 6-7 2-7-4-7 5-7 2-7-3-14 7-14 0-14 9-21 5-14-3-7 6-14 2-14 8-7 0-7 2-14 2-7 2-7-2-7 3-7 3-7 9-7 2-7-2-7 8-7 2-7-9z"/></g>
<use href="#b47" fill="url(#ws)" stroke="#ff6400" stroke-width="4"/>
<g fill="#ff7400"><path id="b48" d="M617 634l7 9 7-2 7-8 7 2 7-2 7-9 7-3 7-3 7 2 7-2 14-2 7-2 7 0 14-8 14-2 7-6 14 3 21-5 14-9 14 0 14-7 7 3 7-2 7-5 7 4 7-2 7-6 7-3 7 5 7 0 7-5 14-3 8-3 21-5 7-4 7-2 7 1 7-1 7-3 7-1 7 1 14-7 14-1 14-4 14 0 7-7 14 0 7-4 14-3 7-4 28-7 7 3 14-4 7 1 14-8 7-2 14 1 7-7 21-1 7 2 14-5 7-6 7 1 7-1 22-7 7 0 7 2 7-2 21-11 7 1 14-3 7 1 7-1 7-3 14-9 14-3 35-2 14-4 7-5 14-6 7-2 7 0 14-6 7 4 14-4 5 14-14 3-7-4-14 7-7-1-7 2-14 6-7 5-14 4-35 2-14 3-14 9-7 2-7 2-7-1-14 2-7 0-21 10-7 2-7-2-7 0-21 8-7 1-7-2-7 6-14 5-7-2-21 2-7 6-14-1-7 2-14 8-7-1-14 4-7-3-21 5-7 2-7 4-14 3-7 4-14 0-7 6-14 1-14 4-14 1-14 6-7-1-7 1-7 4-7 0-7-1-7 2-7 5-21 4-7 3-14 3-7 5-7 0-7-5-7 3-7 6-7 2-7-4-7 5-7 1-7-2-14 7-14 0-14 9-21 4-14-2-7 5-14 3-14 8-7-1-7 3-14 1-7 2-7-2-7 3-7 3-7 9-7 2-7-2-7 8-7 2-7-9z"/></g>
<use href="#b48" fill="url(#ws)" stroke="#ff7400" stroke-width="4"/>
<g fill="#ff8600"><path id="b49" d="M624 644l7 9 7-2 7-8 7 2 7-2 7-9 7-3 7-3 7 2 7-2 14-1 7-3 7 1 14-8 14-3 7-5 14 2 21-4 14-9 14 0 14-7 7 2 7-1 7-5 7 4 7-2 7-6 7-3 7 5 7 0 7-5 14-3 7-3 21-4 7-5 7-2 7 1 7 0 7-4 7-1 7 1 14-6 14-1 14-4 14-1 7-6 14 0 7-4 14-3 7-4 7-2 21-5 7 3 14-4 7 1 14-8 7-2 14 1 7-6 21-2 7 2 14-5 7-6 7 2 7-1 21-8 7 0 7 2 7-2 21-10 7 0 14-2 7 1 7-2 7-2 14-9 14-3 35-2 14-4 7-5 14-6 7-2 7 1 14-7 7 4 14-3 4 16-14 3-7-3-14 6-7 0-7 2-14 5-7 5-14 4-34 2-14 3-14 8-7 3-7 1-7-1-14 3-7-1-21 11-7 1-7-2-7 1-21 7-7 1-7-1-7 5-14 5-7-2-20 2-7 6-14-1-7 2-14 8-7-1-14 4-7-3-21 5-14 6-14 2-7 4-14 0-7 6-14 1-14 4-14 1-13 6-7-1-7 1-7 3-7 1-7-1-7 2-7 4-21 4-7 3-14 3-7 5-7 0-7-4-7 3-7 5-7 2-7-4-7 5-7 1-7-2-14 7-13 0-14 8-21 5-14-3-7 6-14 2-14 8-7 0-7 2-21 3-7-1-7 2-7 3-7 9-7 2-7-2-7 7-7 3-7-9z"/></g>
<use href="#b49" fill="url(#ws)" stroke="#ff8600" stroke-width="4"/>
<g fill="#ff9d00"><path id="b50" d="M632 656l7 9 7-3 7-7 7 2 7-2 7-9 7-3 7-2 7 1 21-3 7-2 7 0 14-8 14-2 7-6 14 3 21-5 14-8 13 0 14-7 7 2 7-1 7-5 7 4 7-2 7-5 7-3 7 4 7 0 7-5 14-3 7-3 21-4 7-4 7-2 7 1 7-1 7-3 7-1 7 1 13-6 14-1 14-4 14-1 7-6 14 0 7-4 14-2 14-6 21-5 7 3 14-4 7 1 14-8 7-2 14 1 7-6 20-2 7 2 14-5 7-5 7 1 7-1 21-7 7-1 7 2 7-1 21-11 7 1 14-3 7 1 7-1 7-3 14-8 14-3 34-2 14-4 7-5 14-5 7-2 7 0 14-6 7 3 14-3 4 23-14 3-7-3-14 6-7-1-7 2-14 5-7 5-13 4-35 2-14 2-14 9-7 2-34 3-21 9-7 2-7-2-7 0-21 7-7 1-6-1-7 6-14 4-7-2-21 2-7 6-14-1-7 1-14 8-6-1-14 4-7-2-21 4-14 6-14 2-7 4-14 0-6 6-14 1-14 3-14 1-14 7-14-1-7 4-7 0-7-1-6 2-7 4-21 4-7 3-14 3-7 5-7-1-7-4-7 3-7 5-7 2-6-3-7 4-7 2-7-2-14 6-14 0-14 8-21 4-13-2-7 5-14 2-14 8-7 0-7 2-21 3-7-2-7 3-6 3-7 9-7 1-7-1-7 7-7 2-7-9z"/></g>
<use href="#b50" fill="url(#ws)" stroke="#ff9d00" stroke-width="4"/>
<g fill="#ffb200"><path id="b51" d="M641 671l7 9 7-2 7-7 7 1 7-1 7-9 6-3 7-3 7 2 21-3 7-2 7 0 14-8 14-2 7-5 13 2 21-4 14-8 14 0 14-6 7 2 7-2 7-4 6 3 7-2 7-5 7-3 7 4 7 1 7-5 14-3 7-3 21-4 7-4 6-2 7 1 7 0 7-4 14 1 14-7 14-1 14-3 14-1 6-6 14 0 7-4 14-2 14-6 21-4 7 2 14-4 6 1 14-8 7-1 14 1 7-6 21-2 7 2 14-4 7-6 6 1 7-1 21-7 7 0 7 2 7-2 21-9 34-3 7-2 14-9 14-2 35-2 13-4 7-5 14-5 7-2 7 1 14-6 7 3 14-3 4 21-14 3-7-3-14 6-13 1-14 5-7 4-14 4-48 5-14 7-7 3-34 2-21 10-7 1-7-1-7 0-20 6-7 1-7-1-7 5-14 5-7-2-20 2-7 6-14-2-7 2-14 8-7-1-13 4-7-3-21 4-14 6-14 2-7 4-13 0-7 5-14 1-14 4-14 1-13 6-14 0-7 3-7 0-7-1-7 2-7 4-41 10-7 4-7 0-7-4-7 2-7 5-6 2-7-3-7 4-7 2-7-2-14 6-14 0-13 8-21 4-14-3-7 5-14 3-13 7-7 0-7 2-21 3-7-2-7 3-7 3-6 8-7 2-7-2-7 7-7 2-7-9z"/></g>
<use href="#b51" fill="url(#ws)" stroke="#ffb200" stroke-width="4"/>
<g fill="#ffd000"><path id="b52" d="M649 685l7 9 7-2 7-7 7 2 7-2 6-8 7-3 7-3 7 2 21-3 7-2 7 0 13-7 14-3 7-5 14 3 21-4 13-8 14 0 14-6 7 2 7-2 7-4 7 3 6-2 7-5 7-2 7 4 7 0 7-4 41-10 7-4 7-2 7 1 7 0 7-3 14 0 13-6 14-1 14-4 14-1 7-5 13 0 7-4 14-2 14-6 21-4 7 3 13-4 7 1 14-8 7-2 14 2 7-6 20-2 7 2 14-5 7-5 7 1 7-1 20-6 7 0 7 1 7-1 21-10 34-2 7-3 14-7 48-5 14-4 7-4 14-5 13-1 14-6 7 3 14-3 6 29-14 3-7-3-14 6-14 1-13 5-7 4-14 4-48 4-21 10-34 2-21 9-7 2-7-2-7 0-20 7-14 0-7 5-14 4-7-2-20 2-7 5-14-1-7 2-14 7-7-1-13 4-7-3-21 5-14 5-14 2-6 3-14 1-7 5-14 1-14 3-13 1-14 6-14 0-7 3-7 0-7-1-7 2-6 4-42 9-7 4-7 0-6-4-7 3-7 4-7 2-7-3-7 4-7 2-7-2-13 6-14 0-14 7-21 4-13-2-7 5-14 2-14 7-7 0-27 4-7-1-7 2-7 3-7 8-7 2-7-2-7 7-6 2-7-8z"/></g>
<use href="#b52" fill="url(#ws)" stroke="#ffd000" stroke-width="4"/>
<g fill="#fff800"><path id="b53" d="M656 708l7 8 6-2 7-7 7 2 7-2 7-8 7-3 7-2 7 1 27-4 7 0 14-7 14-2 7-5 13 2 21-4 14-7 14 0 13-6 7 2 7-2 7-4 7 3 7-2 7-4 7-3 6 4 7 0 7-4 42-9 6-4 7-2 7 1 7 0 7-3 14 0 14-6 13-1 14-3 14-1 7-5 14-1 6-3 14-2 14-5 21-5 7 3 13-4 7 1 14-7 7-2 14 1 7-5 20-2 7 2 14-4 7-5 14 0 20-7 7 0 7 2 7-2 21-9 34-2 21-10 48-4 14-4 7-4 13-5 14-1 14-6 7 3 14-3 5 39-13 3-7-2-14 5-14 1-14 4-6 4-14 4-48 4-21 9-34 3-21 8-7 1-14-1-20 6-14 0-7 5-14 4-7-2-20 2-7 5-14-1-7 1-14 7-7-1-13 4-7-2-21 4-14 5-13 2-7 3-14 0-7 5-41 5-14 5-14 0-7 3-7 1-6-1-14 5-41 9-7 4-7-1-7-3-14 7-7 1-7-2-7 4-6 1-7-2-14 5-14 1-14 7-20 3-14-2-7 5-14 2-13 7-7-1-28 5-7-1-7 2-7 3-6 7-7 1-7-1-7 6-7 2-7-8z"/></g>
<use href="#b53" fill="url(#ws)" stroke="#fff800" stroke-width="4"/>
<g fill="#c8ff37"><path id="b54" d="M662 737l7 8 7-2 7-6 7 1 7-1 6-7 7-3 7-2 7 1 28-5 7 1 13-7 14-2 7-5 14 2 20-3 14-7 14-1 14-5 7 2 6-1 7-4 7 2 7-1 14-7 7 3 7 1 7-4 41-9 14-5 6 1 7-1 7-3 14 0 14-5 41-5 7-5 14 0 7-3 13-2 14-5 21-4 7 2 13-4 7 1 14-7 7-1 14 1 7-5 20-2 7 2 14-4 7-5 14 0 20-6 14 1 7-1 21-8 34-3 21-9 48-4 14-4 6-4 14-4 14-1 14-5 7 2 13-3 8 49-14 2-7-2-14 5-14 1-13 4-7 4-14 3-48 4-21 8-35 3-27 8-14 0-21 5-14 0-6 4-14 4-7-1-21 1-7 5-14-1-6 2-14 6-7-1-14 3-7-2-21 4-13 4-14 3-7 2-14 1-7 4-41 5-14 5-14 0-7 2-7 1-7-1-13 5-42 8-7 3-7 0-6-3-14 6-7 2-7-2-7 3-7 1-7-1-14 5-13 0-14 6-21 4-14-2-7 4-13 2-14 6-7 0-28 4-7-1-7 2-6 3-7 6-7 1-7-1-7 6-7 2-7-7z"/></g>
<use href="#b54" fill="url(#ws)" stroke="#c8ff37" stroke-width="4"/>
<g fill="#8cff73"><path id="b55" d="M667 774l7 7 7-2 7-6 7 1 7-1 7-6 6-3 7-2 7 1 28-4 7 0 14-6 13-2 7-4 14 2 21-4 14-6 13 0 14-5 7 1 7-1 7-3 7 2 7-2 14-6 6 3 7 0 7-3 42-8 13-5 7 1 7-1 7-2 14 0 14-5 41-5 7-4 14-1 7-2 14-3 13-4 21-4 7 2 14-3 7 1 14-6 6-2 14 1 7-5 21-1 7 1 14-4 6-4 14 0 21-5 14 0 27-8 35-3 21-8 48-4 14-3 7-4 13-4 14-1 14-5 7 2 14-2 7 48-14 2-7-2-14 4-13 1-35 10-49 4-20 7-35 3-28 7-13 0-21 5-14 0-7 4-14 3-7-1-20 1-7 4-14 0-7 1-14 6-7-1-14 3-7-2-20 4-35 8-14 0-7 4-41 5-14 4-14 0-14 3-7-1-13 5-42 7-7 3-7 0-7-3-14 6-7 1-6-2-7 3-7 1-7-1-14 5-14 0-14 6-20 3-14-2-7 4-14 2-14 5-34 4-7-1-7 2-7 2-7 6-7 1-7-1-7 5-7 2-7-6z"/></g>
<use href="#b55" fill="url(#ws)" stroke="#8cff73" stroke-width="4"/>
<g fill="#63ff9c"><path id="b56" d="M672 808l7 6 7-2 7-5 7 1 7-1 7-6 7-2 7-2 7 1 34-4 14-5 14-2 7-4 14 2 20-3 14-6 14 0 14-5 7 1 7-1 7-3 6 2 7-1 14-6 7 3 7 0 7-3 42-7 13-5 7 1 14-3 14 0 14-4 41-5 7-4 14 0 35-8 20-4 7 2 14-3 7 1 14-6 7-1 14 0 7-4 20-1 7 1 14-3 7-4 14 0 21-5 13 0 28-7 35-3 20-7 49-4 35-10 13-1 14-4 7 2 14-2 5 33-14 3-7-1-13 3-14 2-35 9-48 5-21 7-34 3-28 7-14 0-20 5-14 1-7 3-14 3-7-1-21 2-6 4-21 1-14 5-7 0-14 3-7-1-20 3-35 8-14 1-7 4-41 5-14 4-14 0-13 3-7 0-14 4-41 7-7 3-7 0-7-2-21 7-7-2-7 3-7 1-6-1-14 4-14 1-14 5-21 4-13-1-7 3-14 2-14 5-34 4-7 0-7 1-7 3-7 5-14 1-7 4-7 2-7-5z"/></g>
<use href="#b56" fill="url(#ws)" stroke="#63ff9c" stroke-width="4"/>
<g fill="#36ffc9"><path id="b57" d="M679 847l7 5 7-2 7-4 14-1 7-5 7-3 7-1 7 0 34-4 14-5 14-2 7-3 13 1 21-4 14-5 14-1 14-4 6 1 7-1 7-3 7 2 21-7 7 2 7 0 7-3 41-7 14-4 7 0 13-3 14 0 14-4 41-5 7-4 14-1 35-8 20-3 7 1 14-3 7 0 14-5 21-1 6-4 21-2 7 1 14-3 7-3 14-1 20-5 14 0 28-7 34-3 21-7 48-5 35-9 14-2 13-3 7 1 14-3 5 36-13 3-7-1-14 4-14 2-34 9-49 6-20 6-35 4-27 8-14 0-21 5-13 1-21 7-7-1-21 3-7 3-20 2-14 5-7 0-14 3-7-1-20 4-35 8-13 2-7 3-42 6-13 4-35 4-14 4-41 8-7 3-7 0-7-2-20 7-7-1-7 3-14 0-14 4-13 1-14 6-21 3-14 0-7 3-13 2-14 5-48 7-7 2-7 5-14 1-7 4-7 1-7-4z"/></g>
<use href="#b57" fill="url(#ws)" stroke="#36ffc9" stroke-width="4"/>
<g fill="#0ff"><path id="b58" d="M686 895l7 4 7-1 7-4 14-1 7-5 7-2 48-7 14-5 13-2 7-3 14 0 21-3 14-6 13-1 14-4 14 0 7-3 7 1 20-7 7 2 7 0 7-3 41-8 14-4 35-4 13-4 42-6 7-3 13-2 35-8 20-4 7 1 14-3 7 0 14-5 20-2 7-3 21-3 7 1 21-7 13-1 21-5 14 0 27-8 35-4 20-6 49-6 34-9 14-2 14-4 7 1 13-3 7 41-14 3-7 0-62 15-48 8-21 6-34 5-28 8-14 1-21 5-13 2-21 6-28 3-6 3-21 3-14 4-21 4-6 0-21 4-35 9-13 1-7 3-42 7-13 4-35 5-55 13-7 3-14-1-20 7-7-1-7 3-14 1-14 4-13 2-14 5-21 4-14 0-34 10-48 8-7 2-7 5-14 1-7 4-7 2-6-3z"/></g>
<use href="#b58" fill="url(#ws)" stroke="#0ff" stroke-width="4"/>
<g fill="#00c3ff"><path id="b59" d="M693 953l6 3 7-2 7-4 14-1 7-5 7-2 48-8 34-10 14 0 21-4 14-5 13-2 14-4 14-1 7-3 7 1 20-7 14 1 7-3 55-13 35-5 13-4 42-7 7-3 13-1 35-9 21-4 6 0 21-4 14-4 21-3 6-3 28-3 21-6 13-2 21-5 14-1 28-8 34-5 21-6 48-8 62-15 7 0 14-3 6 39-21 3-62 16-48 9-21 7-34 6-28 8-48 9-21 6-27 5-7 2-21 4-14 5-48 9-34 9-14 2-7 3-41 8-14 4-35 6-62 16-13 1-21 6-7 0-7 3-41 8-14 5-21 4-13 2-35 10-48 9-14 6-14 2-14 5-6-1z"/></g>
<use href="#b59" fill="url(#ws)" stroke="#00c3ff" stroke-width="4"/>
<g fill="#0084ff"><path id="b60" d="M699 1011l6 1 14-5 14-2 14-6 48-9 35-10 13-2 21-4 14-5 41-8 7-3 7 0 21-6 13-1 62-16 35-6 14-4 41-8 7-3 14-2 34-9 48-9 14-5 21-4 7-2 27-5 21-6 48-9 28-8 34-6 21-7 48-9 62-16 21-3 5 29-21 4-62 17-48 10-21 7-34 8-27 8-48 10-21 7-28 5-41 12-48 11-55 15-89 21-62 17-14 2-20 6-7 1-48 11-14 5-34 7-35 11-48 11-14 5-13 3-14 5-7-1z"/></g>
<use href="#b60" fill="url(#ws)" stroke="#0084ff" stroke-width="4"/>
<g fill="#0056ff"><path id="b61" d="M706 1061l7 1 14-5 13-3 14-5 48-11 35-11 34-7 14-5 48-11 7-1 20-6 14-2 62-17 89-21 55-15 48-11 41-12 28-5 21-7 48-10 27-8 34-8 21-7 48-10 62-17 21-4 5 21-21 4-61 18-48 12-83 24-48 11-20 7-28 6-41 12-48 12-55 16-89 23-62 18-13 2-89 25-35 8-34 11-48 12-14 5-27 8-7 0z"/></g>
<use href="#b61" fill="url(#ws)" stroke="#0056ff" stroke-width="4"/>
<g fill="#0045ff"><path id="b62" d="M713 1098l7 0 27-8 14-5 48-12 34-11 35-8 89-25 13-2 62-18 89-23 55-16 48-12 41-12 28-6 20-7 48-11 83-24 48-12 61-18 21-4 6 10-261 72-20 6-117 31-55 16-89 24-61 18-14 3-89 25-34 9-35 11-48 12-41 13-7 0z"/></g>
<use href="#b62" fill="url(#ws)" stroke="#0045ff" stroke-width="4"/>
<g fill="#0038ff"><path id="b63" d="M719 1114l7 0 41-13 48-12 35-11 34-9 89-25 14-3 61-18 89-24 55-16 117-31 20-6 261-72 6 8-541 152-62 18-14 3-89 26-34 9-34 11-48 12-41 14-7 0z"/></g>
<use href="#b63" fill="url(#ws)" stroke="#0038ff" stroke-width="4"/>
<g fill="#002aff"><path id="b64" d="M726 1127l7 0 41-14 48-12 34-11 34-9 89-26 14-3 62-18 541-152 6 7-541 155-62 19-14 3-123 36-34 11-48 13-41 13-7 1z"/></g>
<use href="#b64" fill="url(#ws)" stroke="#002aff" stroke-width="4"/>
<g fill="#0023ff"><path id="b65" d="M732 1140l7-1 41-13 48-13 34-11 123-36 14-3 62-19 541-155 6 6-541 157-62 19-13 3-124 36-34 11-48 13-41 14-7 1z"/></g>
<use href="#b65" fill="url(#ws)" stroke="#0023ff" stroke-width="4"/>
<g stroke="#02f" stroke-width="9.7"><path id="b66" d="M741 1151l7 0 41-14 48-13 34-11 124-36 13-3 62-19 541-158"/></g>
<use href="#b66" stroke="#fff" stroke-opacity="0.6" stroke-width="4.1" stroke-dasharray="3 3.8"/>
<g stroke="#0021ff" stroke-width="9.7"><path id="b67" d="M747 1157l7-1 41-13 48-14 34-11 124-36 13-3 62-19 541-158"/></g>
<use href="#b67" stroke="#fff" stroke-opacity="0.6" stroke-width="4.1" stroke-dasharray="3 3.8"/>
<g stroke="#001fff" stroke-width="9.7"><path id="b68" d="M753 1162l7 0 41-14 82-25 124-36 13-3 62-19 542-159"/></g>
<use href="#b68" stroke="#fff" stroke-opacity="0.6" stroke-width="4.1" stroke-dasharray="3 3.8"/>
<g stroke="#001eff" stroke-width="9.7"><path id="b69" d="M759 1168l7-1 41-14 82-24 124-37 14-3 61-19 542-159"/></g>
<use href="#b69" stroke="#fff" stroke-opacity="0.6" stroke-width="4.1" stroke-dasharray="3 3.8"/>
<g stroke="#001cff" stroke-width="9.7"><path id="b70" d="M765 1173l7-1 41-13 83-25 123-37 14-3 61-19 542-160"/></g>
<use href="#b70" stroke="#fff" stroke-opacity="0.6" stroke-width="4.1" stroke-dasharray="3 3.8"/>
<g stroke="#001bff" stroke-width="9.6"><path id="b71" d="M772 1179l6-1 124-39 137-39 62-20 542-160"/></g>
<use href="#b71" stroke="#fff" stroke-opacity="0.6" stroke-width="3.8" stroke-dasharray="3 3.8"/>
<g stroke="#0019ff" stroke-width="9.5"><path id="b72" d="M777 1184l7-1 124-39 137-40 604-181"/></g>
<use href="#b72" stroke="#fff" stroke-opacity="0.6" stroke-width="3.8" stroke-dasharray="3 3.8"/>
<g stroke="#0018ff" stroke-width="8.3"><path id="b73" d="M783 1188l7 0 124-39 137-40 604-182"/></g>
<use href="#b73" stroke="#fff" stroke-opacity="0.6" stroke-width="3" stroke-dasharray="3 3.8"/>
<g stroke="#0017ff" stroke-width="8.3"><path id="b74" d="M790 1192l7-1 123-38 137-41 604-181"/></g>
<use href="#b74" stroke="#fff" stroke-opacity="0.6" stroke-width="3" stroke-dasharray="3 3.8"/>
<g stroke="#0015ff" stroke-width="8.3"><path id="b75" d="M796 1196l7-1 123-39 137-40 604-181"/></g>
<use href="#b75" stroke="#fff" stroke-opacity="0.6" stroke-width="3" stroke-dasharray="3 3.8"/>
<g stroke="#0014ff" stroke-width="8.3"><path id="b76" d="M802 1200l7-1 124-39 137-40 603-182"/></g>
<use href="#b76" stroke="#fff" stroke-opacity="0.6" stroke-width="3" stroke-dasharray="3 3.8"/>
<g stroke="#0012ff" stroke-width="8.3"><path id="b77" d="M809 1204l7-1 123-39 137-40 603-182"/></g>
<use href="#b77" stroke="#fff" stroke-opacity="0.6" stroke-width="3" stroke-dasharray="3 3.8"/>
<g stroke="#01f" stroke-width="8.3"><path id="b78" d="M815 1207l7 0 123-39 137-40 603-182"/></g>
<use href="#b78" stroke="#fff" stroke-opacity="0.6" stroke-width="3" stroke-dasharray="3 3.8"/>
<g stroke="#0010ff" stroke-width="8.3"><path id="b79" d="M822 1211l6-1 124-38 136-41 603-181"/></g>
<use href="#b79" stroke="#fff" stroke-opacity="0.6" stroke-width="3" stroke-dasharray="3 3.8"/>
<g stroke="#000eff" stroke-width="8.1"><path id="b80" d="M828 1215l7-1 123-39 137-40 601-181"/></g>
<use href="#b80" stroke="#fff" stroke-opacity="0.6" stroke-width="2.9" stroke-dasharray="3 3.8"/>
<g stroke="#000dff" stroke-width="7.9"><path id="b81" d="M834 1218l7-1 123-39 137-40 601-181"/></g>
<use href="#b81" stroke="#fff" stroke-opacity="0.6" stroke-width="2.2" stroke-dasharray="3 3.8"/>
<g stroke="#000cff" stroke-width="7.9"><path id="b82" d="M841 1220l7-1 123-38 136-40 601-180"/></g>
<use href="#b82" stroke="#fff" stroke-opacity="0.6" stroke-width="2.2" stroke-dasharray="3 3.8"/>
<g stroke="#000aff" stroke-width="7.3"><path id="b83" d="M848 1222l6-1 123-38 136-39 600-180"/></g>
<use href="#b83" stroke="#fff" stroke-opacity="0.6" stroke-width="1.8" stroke-dasharray="3 3.8"/>
<g stroke="#0009ff" stroke-width="6.5"><path id="b84" d="M854 1224l7 0 123-39 136-39 599-180"/></g>
<g stroke="#0008ff" stroke-width="6.5"><path id="b85" d="M860 1226l7 0 123-39 136-40 599-180"/></g>
<g stroke="#0007ff" stroke-width="6.5"><path id="b86" d="M867 1228l6 0 123-39 136-40 61-20 539-162"/></g>
<g stroke="#0006ff" stroke-width="7"><path id="b87" d="M873 1230l7 0 122-39 136-41 62-19 538-163"/></g>
<use href="#b87" stroke="#fff" stroke-opacity="0.6" stroke-width="1.2" stroke-dasharray="3 3.8"/>
<g stroke="#0002ff" stroke-width="10.7"><path id="b88" d="M879 1235l7-1 122-39 136-40 62-20 538-163"/></g>
<use href="#b88" stroke="#fff" stroke-opacity="0.6" stroke-width="5.3" stroke-dasharray="3 3.8"/>
<g stroke="#0000fd" stroke-width="10.7"><path id="b89" d="M885 1241l7-1 122-39 137-40 599-183"/></g>
<use href="#b89" stroke="#fff" stroke-opacity="0.6" stroke-width="5.3" stroke-dasharray="3 3.8"/>
<g stroke="#0000f9" stroke-width="10.7"><path id="b90" d="M891 1247l6-1 123-39 137-40 600-182"/></g>
<use href="#b90" stroke="#fff" stroke-opacity="0.6" stroke-width="5.3" stroke-dasharray="3 3.8"/>
<g stroke="#0000f3" stroke-width="11.3"><path id="b91" d="M899 1255l7 0 123-39 736-222"/></g>
<use href="#b91" stroke="#fff" stroke-opacity="0.6" stroke-width="5.7" stroke-dasharray="3 3.8"/>
<g fill="#0000ec"><path id="b92" d="M900 1256l7-1 122-38 737-222 6 12-737 222-122 38-7 1z"/></g>
<use href="#b92" fill="url(#ws)" stroke="#0000ec" stroke-width="4"/>
<g fill="#0000e5"><path id="b93" d="M906 1268l7-1 122-38 737-222 7 13-738 221-122 38-7 1z"/></g>
<use href="#b93" fill="url(#ws)" stroke="#0000e5" stroke-width="4"/>
<g fill="#0000df"><path id="b94" d="M912 1280l7-1 122-38 738-221 6 12-868 260z"/></g>
<use href="#b94" fill="url(#ws)" stroke="#0000df" stroke-width="4"/>
<g fill="#0000d9"><path id="b95" d="M917 1292l868-260 7 12-869 259z"/></g>
<use href="#b95" fill="url(#ws)" stroke="#0000d9" stroke-width="4"/>
<g fill="#0000d3"><path id="b96" d="M923 1303l869-259 7 11-870 260z"/></g>
<use href="#b96" fill="url(#ws)" stroke="#0000d3" stroke-width="4"/>
<g fill="#0000ce"><path id="b97" d="M929 1315l870-260 6 8-870 260z"/></g>
<use href="#b97" fill="url(#ws)" stroke="#0000ce" stroke-width="4"/>
<g stroke="#00c" stroke-width="11.2"><path id="b98" d="M938 1326l870-260"/></g>
<use href="#b98" stroke="#fff" stroke-opacity="0.6" stroke-width="5.7" stroke-dasharray="3 3.8"/>
<g stroke="#0000c8" stroke-width="11.2"><path id="b99" d="M944 1333l870-261"/></g>
<use href="#b99" stroke="#fff" stroke-opacity="0.6" stroke-width="5.7" stroke-dasharray="3 3.8"/>
<g stroke="#0000c5" stroke-width="11.2"><path id="b100" d="M950 1340l870-262"/></g>
<use href="#b100" stroke="#fff" stroke-opacity="0.6" stroke-width="5.7" stroke-dasharray="3 3.8"/>
<g stroke="#0000c1" stroke-width="11.2"><path id="b101" d="M956 1347l871-262"/></g>
<use href="#b101" stroke="#fff" stroke-opacity="0.6" stroke-width="5.7" stroke-dasharray="3 3.8"/>
<g stroke="#00b" stroke-width="11.1"><path id="b102" d="M965 1357l870-264"/></g>
<use href="#b102" stroke="#fff" stroke-opacity="0.6" stroke-width="5.6" stroke-dasharray="3 3.8"/>
<g stroke="#0000b9" stroke-width="10.3"><path id="b103" d="M968 1360l871-263"/></g>
<use href="#b103" stroke="#fff" stroke-opacity="0.6" stroke-width="5" stroke-dasharray="3 3.8"/>
<g stroke="#0000b6" stroke-width="10.2"><path id="b104" d="M975 1366l870-263"/></g>
<use href="#b104" stroke="#fff" stroke-opacity="0.6" stroke-width="4.9" stroke-dasharray="3 3.8"/>
<g stroke="#0000b2" stroke-width="10.2"><path id="b105" d="M981 1372l869-264"/></g>
<use href="#b105" stroke="#fff" stroke-opacity="0.6" stroke-width="4.9" stroke-dasharray="3 3.8"/>
<g stroke="#0000ae" stroke-width="10.2"><path id="b106" d="M988 1378l868-264"/></g>
<use href="#b106" stroke="#fff" stroke-opacity="0.6" stroke-width="4.9" stroke-dasharray="3 3.8"/>
<g stroke="#0000ab" stroke-width="10.2"><path id="b107" d="M994 1384l868-264"/></g>
<use href="#b107" stroke="#fff" stroke-opacity="0.6" stroke-width="4.9" stroke-dasharray="3 3.8"/>
<g stroke="#0000a7" stroke-width="10.2"><path id="b108" d="M1001 1390l867-264"/></g>
<use href="#b108" stroke="#fff" stroke-opacity="0.6" stroke-width="4.9" stroke-dasharray="3 3.8"/>
<g stroke="#0000a4" stroke-width="10.2"><path id="b109" d="M1007 1395l867-263"/></g>
<use href="#b109" stroke="#fff" stroke-opacity="0.6" stroke-width="4.9" stroke-dasharray="3 3.8"/>
<g stroke="#00009f" stroke-width="10.1"><path id="b110" d="M1016 1403l866-263"/></g>
<use href="#b110" stroke="#fff" stroke-opacity="0.6" stroke-width="4.9" stroke-dasharray="3 3.8"/>
<g stroke="#00009d" stroke-width="9.7"><path id="b111" d="M1018 1405l866-263"/></g>
<use href="#b111" stroke="#fff" stroke-opacity="0.6" stroke-width="4.4" stroke-dasharray="3 3.8"/>
<g stroke="#009" stroke-width="9.6"><path id="b112" d="M1027 1412l864-263"/></g>
<use href="#b112" stroke="#fff" stroke-opacity="0.6" stroke-width="4.3" stroke-dasharray="3 3.8"/>
<g stroke="#000096" stroke-width="9.6"><path id="b113" d="M1033 1417l864-263"/></g>
<use href="#b113" stroke="#fff" stroke-opacity="0.6" stroke-width="4.3" stroke-dasharray="3 3.8"/>
<g stroke="#000092" stroke-width="9.6"><path id="b114" d="M1039 1422l864-263"/></g>
<use href="#b114" stroke="#fff" stroke-opacity="0.6" stroke-width="4.3" stroke-dasharray="3 3.8"/>
<g stroke="#00008f" stroke-width="9.6"><path id="b115" d="M1046 1427l863-263"/></g>
<use href="#b115" stroke="#fff" stroke-opacity="0.6" stroke-width="4.3" stroke-dasharray="3 3.8"/>
<g stroke="#00008b" stroke-width="9.6"><path id="b116" d="M1052 1432l863-262"/></g>
<use href="#b116" stroke="#fff" stroke-opacity="0.6" stroke-width="4.3" stroke-dasharray="3 3.8"/>
<g stroke="#008" stroke-width="9.6"><path id="b117" d="M1059 1437l861-262"/></g>
<use href="#b117" stroke="#fff" stroke-opacity="0.6" stroke-width="4.3" stroke-dasharray="3 3.8"/>
<g stroke="#000085" stroke-width="9.6"><path id="b118" d="M1065 1443l861-263"/></g>
<use href="#b118" stroke="#fff" stroke-opacity="0.6" stroke-width="4.3" stroke-dasharray="3 3.8"/>
<g stroke="#000081" stroke-width="9.6"><path id="b119" d="M1072 1448l860-263"/></g>
<use href="#b119" stroke="#fff" stroke-opacity="0.6" stroke-width="4.3" stroke-dasharray="3 3.8"/>
</g></g>
<path d="M123.8 168.8L123.8 579.4L489.4 766.9L966.2 622.5M123.8 579.4L110.8 572.8M123.8 511L110.8 504.4M123.8 442.5L110.8 435.9M123.8 374.1L110.8 367.5M123.8 305.7L110.8 299.1M123.8 237.2L110.8 230.6M123.8 168.8L110.8 162.2M489.4 766.9L475.5 771.1M367.5 704.4L353.6 708.6M245.6 641.9L231.8 646.1M123.8 579.4L109.9 583.6M489.4 766.9L502.3 773.5M584.8 738L597.7 744.6M680.1 709.1L693 715.8M775.5 680.3L788.4 686.9M870.9 651.4L883.8 658M966.2 622.5L979.2 629.1" stroke="#262626" stroke-width="3" fill="none" stroke-linejoin="miter"/>
<g font-family="'Liberation Serif','Times New Roman',serif" font-weight="bold" font-size="28" fill="#1a1a1a"><text x="104.5" y="579.6" text-anchor="end">0</text>
<text x="104.5" y="511.2" text-anchor="end">0.01</text>
<text x="104.5" y="442.7" text-anchor="end">0.02</text>
<text x="104.5" y="374.3" text-anchor="end">0.03</text>
<text x="104.5" y="305.9" text-anchor="end">0.04</text>
<text x="104.5" y="237.4" text-anchor="end">0.05</text>
<text x="104.5" y="169" text-anchor="end">0.06</text>
<text x="469.2" y="798.9" text-anchor="end">400</text>
<text x="347.3" y="736.4" text-anchor="end">600</text>
<text x="225.5" y="673.9" text-anchor="end">800</text>
<text x="103.6" y="611.4" text-anchor="end">1000</text>
<text x="510.3" y="802.5">0</text>
<text x="605.7" y="773.6">2000</text>
<text x="701" y="744.8">4000</text>
<text x="796.4" y="715.9">6000</text>
<text x="891.8" y="687">8000</text>
<text x="987.2" y="658.1">10,000</text>
<text transform="translate(194 747) rotate(27.6)" text-anchor="middle" font-size="29" letter-spacing="0.6">Wavelength/nm</text>
<text transform="translate(841 774) rotate(-16.4)" text-anchor="middle" font-size="29" letter-spacing="0.6">Number of pixels</text>
<text transform="translate(42 373) rotate(-90)" text-anchor="middle" font-size="28">RMSE</text>
<text x="38.5" y="94" font-size="55">(b)</text></g>
</g>
<g transform="translate(0 790)">
<path d="M584.8 738L219.1 550.5M680.1 709.1L314.5 521.6M775.5 680.3L409.9 492.8M870.9 651.4L505.2 463.9M966.2 622.5L600.6 435M367.5 704.4L844.4 560M245.6 641.9L722.5 497.5M123.8 579.4L600.6 435M219.1 550.5L219.1 139.9M314.5 521.6L314.5 111M409.9 492.8L409.9 82.2M505.2 463.9L505.2 53.3M600.6 435L600.6 24.4M123.8 476.8L600.6 332.4M123.8 374.1L600.6 229.7M123.8 271.4L600.6 127M123.8 168.8L600.6 24.4M966.2 622.5L966.2 211.9M844.4 560L844.4 149.4M722.5 497.5L722.5 86.9M966.2 519.9L600.6 332.4M966.2 417.2L600.6 229.7M966.2 314.5L600.6 127M966.2 211.9L600.6 24.4" stroke="#cdcdcd" stroke-width="2" fill="none"/>
<defs><clipPath id="cc"><path d="M599.5 -50L599.5 60L614.5 67.5L647 61L654.5 75L659.5 92.5L672 105L684 118.5L692 127.5L712 152.5L729.5 175L733.9 179.4L747 192.5L752 200L754 213L755.7 225L758.8 240L760.8 250L763 265L764.5 275L767.5 295L768.2 300L769.6 309L771.3 320L772 325L773 331.7L775 345L775.7 350L775.8 350.1L777.9 364.3L778.8 370L779.5 375L780.2 382.7L782 404L784.5 424L785 428.3L786.4 439L787 444L789 454.7L790.7 464L797 476.5L809 482.5L812 484L824.1 490L832 494L844.8 499L854.5 502.7L856.9 502.5L869.5 501.5L879.5 506.5L881 508.9L887 519L891.1 528.6L894.5 536.5L904.5 551.5L922 566.5L922.3 566.7L944.5 584L945.7 585L967 601.5L967 607.5L536.5 740L536.8 734.7L511.8 717.2L510.5 716L486.8 694.7L486.5 694.4L466.8 677.2L460 665.4L456.8 659.7L453.3 652.6L449.3 644.7L447.8 643.2L441.8 637.2L426.8 635.7L424 635L411.8 632.2L396.6 626.1L386.8 622.2L372.8 614.2L369.3 612.2L359.3 599.7L356.3 587.7L354.3 579.7L353.3 570.1L352.8 565.7L351.8 554.7L351.4 550.3L349.3 529.7L346.8 504.7L345.9 495.6L345.3 489.7L344.3 479.7L340.6 454.7L340.5 454.5L339.3 445.7L336.8 429.7L335.7 421.7L334.8 415.7L333.1 404.7L331.3 395.7L330.3 390.7L328 380.7L326.8 375.7L323.8 363.7L321.8 355.7L316.2 344.5L311.8 335.7L307.3 329.8L304.3 325.7L294.3 313.2L290.7 309.1L274.3 290.7L256.1 270.7L249.3 263.2L239.2 251.8L229.3 240.7L220 231.4L211.8 223.2L184.4 211.6L170.6 205.7L170.6 -50z"/></clipPath></defs>
<g clip-path="url(#cc)"><g transform="scale(0.5)" fill="none" stroke-linejoin="round">
<g stroke="#c70000" stroke-width="7.7"><path id="c1" d="M345 359l7 39 7-5 7-22 6 5 14-35 13-6 7 3 7 0 13 12 7-18 7-6 7 5 6 12 14-5 13-17 14-5 7 3 6-6 14-2 7-11 13-1 7 7 7 1 20-14 7-1 6 3 7 1 14-13 6 3 7-4 7-1 7 3 6-7 7-4 7 7 13-9 7-1 7-5 13 1 7-8 13-7 7-2 20 3 7-5 20 0 7-2 14-11 6 5 7-2 14-14 6 2 7 5 7-2 7-5 13-3 7-8 7-3 6 1 7-2 14-7 13-2 14 2 6-8 7-3 14 6 13-9 7 3 13-10 7 1 7-7 13 0 27-10 7 2 7-2 7-6 13 1 7-7 7-4 6 5 7 1 27-15 7 1 6-4 7 3 7-2 7-8 6-4 14-2 7 2 13-3"/></g>
<use href="#c1" stroke="#fff" stroke-opacity="0.6" stroke-width="2.1" stroke-dasharray="3 3.8"/>
<g stroke="#c80000" stroke-width="7.7"><path id="c2" d="M351 362l7 38 7-4 7-22 6 5 14-36 13-6 7 4 7-1 13 13 7-18 7-6 7 5 6 11 14-5 13-16 14-5 7 2 6-5 14-3 7-11 13 0 7 6 7 1 20-14 7 0 6 3 7 0 14-12 6 3 7-4 7-2 7 4 6-7 7-5 7 7 13-8 7-1 7-5 13 1 7-8 14-7 6-2 21 3 6-5 21 0 6-2 14-11 7 5 6-2 14-14 7 2 6 5 7-2 7-5 13-3 7-8 7-3 7 0 6-1 14-7 13-2 14 2 7-8 6-3 14 6 13-9 7 3 14-10 6 1 7-7 14 0 27-10 6 2 7-2 7-6 13 1 7-7 7-4 7 5 6 2 27-16 7 2 7-4 7 3 6-3 7-7 7-5 13-2 7 3 14-4"/></g>
<use href="#c2" stroke="#fff" stroke-opacity="0.6" stroke-width="2.1" stroke-dasharray="3 3.8"/>
<g stroke="#c90000" stroke-width="7.7"><path id="c3" d="M357 364l7 39 7-5 7-22 6 5 14-36 13-5 7 3 7 0 13 12 7-18 7-6 7 5 6 12 14-5 13-17 14-4 7 2 6-6 14-2 7-11 13-1 7 7 7 1 20-14 7 0 6 2 7 1 14-13 6 3 7-3 7-2 7 4 6-8 7-4 7 7 13-8 7-1 7-5 13 1 7-8 14-8 7-2 20 4 7-5 20 0 7-3 13-10 7 5 7-2 13-14 7 2 7 5 6-2 7-5 14-3 6-8 7-3 7 0 7-1 13-7 14-2 13 2 7-8 7-3 13 6 14-9 6 3 14-10 7 1 6-7 14 0 27-10 7 2 6-2 7-6 14 1 6-7 7-3 7 4 7 2 27-16 6 2 7-4 7 3 7-3 7-7 6-5 14-2 7 3 13-4"/></g>
<use href="#c3" stroke="#fff" stroke-opacity="0.6" stroke-width="2.1" stroke-dasharray="3 3.8"/>
<g stroke="#c90000" stroke-width="7.7"><path id="c4" d="M363 367l7 38 7-4 7-22 6 5 14-36 13-6 7 4 7-1 13 13 7-18 7-6 7 5 6 12 14-6 13-16 14-5 7 2 6-5 14-3 7-10 13-1 7 6 7 1 20-13 7-1 6 3 7 1 14-13 7 3 6-4 7-1 7 3 7-7 6-4 7 7 14-8 6-2 7-5 14 2 6-9 14-7 7-2 20 4 7-5 20-1 7-2 13-10 7 5 7-2 13-14 7 2 7 5 7-2 6-5 14-3 7-8 6-4 7 1 7-1 13-8 14-1 13 2 7-8 7-3 13 6 14-9 7 3 13-10 7 1 7-7 13 0 27-10 7 2 7-2 7-6 13 1 7-7 7-3 6 4 7 2 27-16 7 2 7-4 6 3 7-3 7-7 7-5 13-2 7 3 13-4"/></g>
<use href="#c4" stroke="#fff" stroke-opacity="0.6" stroke-width="2.1" stroke-dasharray="3 3.8"/>
<g stroke="#ca0000" stroke-width="6.8"><path id="c5" d="M369 369l6 39 7-5 7-22 7 5 13-36 14-6 7 4 6-1 14 13 7-18 6-6 7 5 7 12 13-5 14-17 13-4 7 2 7-6 13-2 7-11 14-1 6 7 7 1 21-14 6 0 7 2 7 1 13-12 7 2 7-3 7-2 6 4 7-7 7-5 7 7 13-8 7-1 7-5 13 1 7-8 14-7 6-2 21 3 6-5 21 0 6-2 14-10 7 5 6-2 14-15 7 2 6 5 7-2 7-5 13-2 7-8 7-4 7 1 7-1 13-8 14-1 13 2 7-8 7-4 13 7 14-9 6 3 14-10 7 1 6-8 14 0 27-9 7 2 7-2 6-6 14 1 7-7 6-4 7 5 7 2 27-16 7 2 6-4 7 3 7-3 7-7 7-5 13-2 7 3 13-4"/></g>
<use href="#c5" stroke="#fff" stroke-opacity="0.6" stroke-width="1.4" stroke-dasharray="3 3.8"/>
<g stroke="#cb0000" stroke-width="6.7"><path id="c6" d="M375 372l7 38 6-5 7-22 7 5 13-35 14-6 7 3 7 0 13 12 7-18 7-6 6 5 7 12 14-5 13-17 14-4 7 2 6-6 14-2 7-11 13-1 7 7 7 1 20-14 7 0 7 2 6 1 14-13 7 3 6-4 7-1 7 3 7-7 6-4 7 7 14-8 7-2 6-5 14 2 7-9 13-7 7-2 20 4 7-6 20 0 7-2 14-10 6 5 7-2 14-15 6 2 7 5 7-2 7-5 13-2 7-9 7-3 7 1 6-2 14-7 13-1 14 2 7-9 6-3 14 6 14-9 6 3 14-10 7 1 6-7 14 0 27-10 7 2 7-2 6-6 14 1 7-7 6-3 7 4 7 2 27-16 7 2 7-4 6 3 7-3 7-7 7-5 13-2 7 3 13-4"/></g>
<g stroke="#c00" stroke-width="6.7"><path id="c7" d="M380 374l7 39 7-5 7-22 7 5 13-36 14-6 6 3 7 0 14 12 7-18 6-6 7 5 7 12 13-5 14-17 14-5 6 3 7-6 14-3 6-11 14 0 7 6 7 1 20-14 7 0 6 3 7 0 14-12 7 2 6-3 7-2 7 3 7-7 6-4 7 7 14-9 7-1 6-5 14 1 7-8 13-7 7-2 20 3 7-5 20 0 7-3 14-10 7 5 6-2 14-15 7 3 6 4 7-1 7-5 14-3 6-9 7-3 7 1 7-2 13-7 14-2 13 2 7-8 7-3 13 6 14-9 7 3 13-10 7 1 7-8 7-1 6 1 28-10 6 3 7-3 7-5 13 0 7-7 7-3 7 4 7 2 27-16 6 2 7-4 7 3 7-3 7-7 6-5 14-2 7 2 13-3"/></g>
<g stroke="#c00" stroke-width="6.7"><path id="c8" d="M386 376l7 39 7-5 6-22 7 5 14-36 13-6 7 3 7 0 14 13 6-19 7-6 7 5 7 12 13-5 14-17 13-5 7 2 7-5 14-3 6-11 14-1 7 7 6 1 21-15 7 0 6 3 7 0 14-12 7 2 6-3 7-2 7 4 7-8 6-4 7 7 14-9 7-1 6-5 14 1 7-8 13-8 7-2 20 4 7-5 21-1 6-2 14-11 7 5 7-1 13-15 7 2 7 5 6-2 7-5 14-3 7-8 6-4 7 1 7-2 14-7 13-2 14 2 6-8 7-3 14 6 13-9 7 3 14-11 7 1 6-7 7-1 7 1 27-11 7 3 7-2 6-6 14 1 7-8 7-3 6 4 7 2 27-16 7 2 7-4 7 3 6-3 7-8 7-5 14-2 6 3 14-4"/></g>
<g stroke="#cd0000" stroke-width="6.7"><path id="c9" d="M392 379l7 38 6-5 7-22 7 5 14-36 13-6 7 3 7 0 13 13 7-19 7-6 7 5 6 12 14-6 14-16 13-5 7 2 7-6 13-3 7-11 14 0 7 6 6 1 21-14 7 0 6 2 7 1 14-13 7 3 6-4 7-2 7 4 7-8 6-4 7 7 14-9 7-1 6-5 14 1 7-8 13-8 7-2 21 4 6-6 21 0 7-3 13-10 7 5 7-2 13-15 7 2 7 5 7-2 6-5 14-3 7-8 7-4 6 1 7-2 14-7 13-2 14 2 7-8 7-4 13 7 14-10 7 4 13-11 7 1 7-8 7-1 6 1 28-10 6 2 7-2 7-6 13 1 7-8 7-3 7 4 7 2 27-16 7 2 6-5 7 3 7-2 7-8 7-5 13-2 7 3 14-4"/></g>
<g stroke="#ce0000" stroke-width="6.7"><path id="c10" d="M397 381l7 39 7-5 7-23 7 5 13-36 14-6 7 3 6 0 14 13 7-19 7-6 6 5 7 12 14-6 13-17 14-5 7 3 7-6 13-3 7-11 14-1 6 7 7 1 21-15 6 0 7 2 7 1 14-13 6 3 7-4 7-2 7 4 7-7 6-5 7 7 14-9 7-1 6-5 14 1 7-8 14-8 6-2 21 3 7-5 20-1 7-2 13-11 7 5 7-2 14-15 6 2 7 5 7-2 7-5 13-3 7-8 7-4 7 1 7-1 13-8 14-2 13 2 7-8 7-4 14 6 13-9 7 3 14-11 6 2 7-8 7-1 7 1 27-11 7 3 7-3 6-6 14 1 7-7 7-4 6 5 7 1 27-16 7 1 7-4 7 3 7-2 6-8 7-5 14-2 7 3 13-4"/></g>
<g stroke="#ce0000" stroke-width="6.7"><path id="c11" d="M403 383l7 39 7-5 6-22 7 5 14-37 14-6 6 3 7 0 14 13 7-19 6-6 7 5 7 12 14-6 13-17 14-5 7 2 6-5 14-3 7-11 14-1 6 6 7 1 21-14 6-1 7 3 7 0 14-13 6 3 7-4 7-1 7 3 7-7 7-5 6 7 14-9 7-1 7-5 13 1 7-9 14-8 6-2 21 4 7-6 20 0 7-2 14-11 6 5 7-2 14-15 7 2 6 5 7-2 7-6 14-3 6-8 7-4 7 1 7-1 13-9 14-1 14 2 7-9 6-3 14 6 14-9 6 3 14-11 7 1 7-8 6-1 7 1 27-11 7 3 7-3 7-5 14 0 6-7 7-4 7 5 7 1 27-16 7 1 7-4 6 3 7-2 7-8 7-6 14-1 6 2 14-4"/></g>
<g stroke="#cf0000" stroke-width="6.7"><path id="c12" d="M409 386l6 38 7-5 7-22 7 5 14-36 13-7 7 4 7-1 14 13 6-19 7-6 7 5 7 12 13-6 14-17 14-5 7 2 6-6 14-3 7-11 13-1 7 7 7 1 21-15 6 0 7 2 7 1 14-14 6 3 7-4 7-1 7 3 7-7 7-5 6 7 14-9 7-1 7-5 13 1 7-9 14-8 7-2 20 4 7-6 20-1 7-2 14-11 7 5 6-2 14-15 7 2 7 5 6-2 7-5 14-3 7-9 7-4 6 1 7-1 14-9 13-1 14 2 7-9 7-3 13 6 14-10 7 4 13-11 7 1 7-8 7-1 7 1 27-11 7 2 7-2 6-6 14 1 7-8 7-4 7 5 6 2 28-17 6 1 7-4 7 3 7-2 7-8 7-6 13-2 7 3 14-4"/></g>
<g stroke="#d00000" stroke-width="6.7"><path id="c13" d="M414 388l7 39 7-5 7-23 7 5 13-36 14-7 7 4 7-1 13 13 7-19 7-6 7 5 7 11 13-5 14-17 14-5 6 2 7-6 14-3 7-11 13-1 7 6 7 1 20-15 7 0 7 2 7 1 14-13 6 2 7-4 7-1 7 3 7-7 7-5 6 7 14-9 7-1 7-6 13 2 7-9 14-8 7-2 20 3 7-5 20-1 7-2 14-11 7 5 7-2 13-16 7 2 7 5 7-2 7-5 13-3 7-9 7-4 7 1 6-1 14-9 14-1 13 2 7-9 7-4 14 7 13-10 7 3 14-11 7 1 7-8 6-1 7 1 27-11 7 3 7-3 7-6 14 1 6-8 7-4 7 5 7 2 27-17 7 1 7-4 7 3 7-3 6-8 7-5 14-2 7 3 13-4"/></g>
<g stroke="#d00000" stroke-width="6.7"><path id="c14" d="M420 390l7 39 7-5 6-23 7 5 14-36 14-7 6 4 7-1 14 13 7-19 7-7 6 5 7 12 14-5 14-18 13-5 7 2 7-6 14-3 7-11 13-1 7 7 7 0 20-14 7-1 7 3 7 0 14-13 6 2 7-3 7-2 7 3 7-7 7-5 6 7 14-9 7-1 7-6 13 1 7-8 14-8 7-3 20 4 7-6 21 0 6-3 14-11 7 5 7-2 13-16 7 3 7 4 7-2 7-5 13-3 7-9 7-4 7 1 7-1 13-9 14-1 14 2 7-9 6-4 14 7 14-10 7 3 13-11 7 1 7-8 7-1 7 1 27-12 7 3 7-3 6-6 14 1 7-8 7-4 7 5 6 2 28-17 7 1 7-4 6 3 7-3 7-8 7-5 14-2 6 2 14-4"/></g>
<g stroke="#d20000" stroke-width="10.5"><path id="c15" d="M427 394l6 39 7-5 7-23 7 5 14-37 13-6 7 3 7 0 14 12 7-19 6-6 7 5 7 12 14-6 13-17 14-5 7 2 7-6 13-3 7-12 14-1 7 7 7 1 20-15 7-1 7 3 7 0 13-13 7 3 7-4 7-2 7 3 7-7 6-5 7 7 14-9 7-1 7-6 13 1 7-8 14-9 7-2 20 4 7-6 21-1 6-2 14-11 7 5 7-2 14-16 6 2 7 5 7-2 7-5 14-4 6-8 7-4 7 1 7-2 14-8 13-2 14 2 7-9 7-4 13 7 14-10 7 3 14-11 6 1 7-8 7-1 7 1 27-12 7 3 7-3 7-6 13 1 7-8 7-4 7 5 7 2 27-17 7 1 7-4 7 3 7-3 6-8 7-6 14-2 7 3 13-4"/></g>
<use href="#c15" stroke="#fff" stroke-opacity="0.6" stroke-width="4.6" stroke-dasharray="3 3.8"/>
<g fill="#d70000"><path id="c16" d="M429 396l7 39 7-5 6-22 7 5 14-37 14-6 6 3 7-1 14 13 7-19 7-6 6 5 7 11 14-5 14-17 13-6 7 2 7-5 14-4 7-11 13-1 7 7 7 0 20-14 7-1 7 3 7 0 14-13 6 2 7-3 7-2 7 3 7-7 7-5 7 7 13-9 7-1 7-6 14 1 6-8 14-8 7-3 20 4 7-6 21-1 7-2 13-11 7 5 7-2 14-16 7 2 6 5 7-2 7-5 14-3 7-9 6-4 7 1 7-2 14-8 13-2 14 2 7-9 7-3 14 6 13-10 7 4 14-12 7 1 6-8 7-1 7 1 27-11 7 3 7-3 7-6 14 1 6-8 7-4 7 5 7 1 27-17 7 2 7-5 7 4 7-3 7-8 6-6 14-2 7 3 14-4 5 11-13 4-7-3-14 2-7 6-6 8-7 2-7-3-7 5-7-2-27 17-7-2-7-4-7 3-6 8-14-1-7 6-7 3-7-3-27 11-7-1-7 2-6 7-7-1-14 11-7-3-13 10-14-6-7 3-7 9-13-2-14 2-14 8-7 1-6 0-7 3-7 9-14 3-7 5-6 2-7-5-7-2-14 16-7 2-7-5-13 11-7 2-21 1-6 5-21-3-7 2-13 8-7 9-14-1-7 5-7 1-13 9-7-7-7 5-7 7-7-3-6 2-7 4-7-3-14 13-7 0-6-3-7 0-21 15-7-1-6-6-14 1-7 11-14 3-6 6-7-2-14 5-14 17-13 6-7-12-7-5-7 6-7 19-13-13-7 1-7-3-14 6-13 36-7-5-7 23-7 5-7-39z"/></g>
<use href="#c16" fill="url(#ws)" stroke="#d70000" stroke-width="4"/>
<g fill="#db0000"><path id="c17" d="M435 403l7 39 7-5 7-23 7 5 13-36 14-6 7 3 7-1 13 13 7-19 7-6 7 5 7 12 13-6 14-17 14-5 7 2 6-6 14-3 7-11 14-1 6 6 7 1 21-15 7 0 6 3 7 0 14-13 7 3 7-4 6-2 7 3 7-7 7-5 7 7 13-9 7-1 7-5 14 1 7-9 13-8 7-2 21 3 6-5 21-1 7-2 13-11 7 5 7-2 14-16 7 2 7 5 6-2 7-5 14-3 7-9 7-3 6 0 7-1 14-8 14-2 13 2 7-9 7-3 14 6 13-10 7 3 14-11 7 1 6-7 7-2 7 1 27-11 7 3 7-3 7-6 14 1 6-8 7-3 7 4 7 2 27-17 7 2 7-5 7 3 7-2 6-8 7-6 14-2 7 3 13-4 6 11-13 4-7-3-14 2-7 6-7 8-6 2-7-3-7 4-7-1-27 17-7-2-7-5-7 4-6 8-14-1-7 6-7 2-7-2-27 11-7-1-7 1-6 8-7-1-14 11-7-4-13 10-14-6-7 3-7 9-13-2-14 1-14 8-7 2-6-1-7 4-7 8-14 4-7 5-6 2-7-5-7-2-14 15-7 2-6-5-14 11-7 2-20 1-7 5-21-3-6 2-14 8-7 8-14-1-6 6-7 1-14 9-7-7-7 4-6 8-7-4-7 2-7 4-7-3-13 13-7 0-7-3-7 1-20 14-7-1-7-6-14 1-7 11-13 3-7 6-7-3-14 6-13 16-14 6-7-12-7-5-6 7-7 18-14-12-7 0-7-3-13 6-14 36-7-5-6 22-7 5-7-38z"/></g>
<use href="#c17" fill="url(#ws)" stroke="#db0000" stroke-width="4"/>
<g fill="#e00000"><path id="c18" d="M442 410l7 38 7-5 6-22 7 5 14-36 13-6 7 3 7 0 14 12 7-18 6-7 7 5 7 12 14-6 13-16 14-6 7 3 7-6 13-3 7-11 14-1 7 6 7 1 20-14 7-1 7 3 7 0 13-13 7 3 7-4 7-2 7 4 6-8 7-4 7 7 14-9 7-1 6-6 14 1 7-8 14-8 6-2 21 3 7-5 20-1 7-2 14-11 6 5 7-2 14-15 7 2 7 5 6-2 7-5 14-4 7-8 7-4 6 1 7-2 14-8 14-1 13 2 7-9 7-3 14 6 13-10 7 4 14-11 7 1 6-8 7-1 7 1 27-11 7 2 7-2 7-6 14 1 6-8 7-4 7 5 7 2 27-17 7 1 7-4 7 3 6-2 7-8 7-6 14-2 7 3 13-4 5 15-14 4-7-3-13 2-7 6-7 7-7 3-7-3-6 4-7-1-27 16-7-2-7-4-7 3-7 8-13-1-7 6-7 2-7-2-27 10-7-1-6 1-7 8-7-1-14 11-6-3-14 9-14-6-6 3-7 9-14-2-13 1-14 8-7 2-7-1-6 3-7 9-14 3-7 5-6 2-7-5-7-2-14 15-6 2-7-5-14 11-7 2-20 0-7 6-20-4-7 3-14 7-6 9-14-2-7 6-7 1-13 8-7-6-7 4-7 7-6-3-7 2-7 3-7-2-13 13-7-1-7-2-7 0-20 14-7-1-7-6-13 1-7 11-14 3-7 5-6-2-14 5-14 17-13 5-7-11-7-5-7 6-7 18-13-12-7 0-7-3-13 6-14 36-7-5-7 22-6 5-7-38z"/></g>
<use href="#c18" fill="url(#ws)" stroke="#e00000" stroke-width="4"/>
<g fill="#e40000"><path id="c19" d="M450 419l7 38 6-5 7-22 7 5 14-36 13-6 7 3 7 0 13 12 7-18 7-6 7 5 7 11 13-5 14-17 14-5 6 2 7-5 14-3 7-11 13-1 7 6 7 1 20-14 7 0 7 2 7 1 13-13 7 2 7-3 7-2 6 3 7-7 7-4 7 6 13-8 7-1 7-6 14 2 6-9 14-7 7-3 20 4 7-6 20 0 7-2 14-11 7 5 6-2 14-15 7 2 7 5 6-2 7-5 14-3 7-9 6-3 7 1 7-2 14-8 13-1 14 2 7-9 6-3 14 6 14-9 6 3 14-11 7 1 7-8 6-1 7 1 27-10 7 2 7-2 7-6 13 1 7-8 7-3 7 4 7 2 27-16 7 1 6-4 7 3 7-3 7-7 7-6 13-2 7 3 14-4 4 15-14 4-6-3-14 2-7 5-7 8-6 2-7-2-7 4-7-2-27 16-6-2-7-4-7 3-7 8-13-1-7 6-7 2-7-2-27 10-13 0-7 7-7-1-13 11-7-3-14 9-13-6-7 3-7 8-13-1-14 1-13 8-7 1-7-1-7 4-6 8-14 3-7 5-7 2-6-5-7-2-14 15-6 2-7-5-14 10-6 3-21 0-7 5-20-3-7 2-13 7-7 9-14-1-6 5-7 1-14 8-6-7-7 5-7 7-7-3-6 1-7 4-7-3-14 13-6-1-7-2-7 0-20 14-7-1-7-6-13 1-7 11-14 2-6 6-7-2-14 5-13 16-14 5-7-11-6-5-7 6-7 18-13-12-7 0-7-3-13 6-14 35-7-5-7 22-6 5-7-38z"/></g>
<use href="#c19" fill="url(#ws)" stroke="#e40000" stroke-width="4"/>
<g fill="#e80000"><path id="c20" d="M458 427l7 38 6-5 7-22 7 5 14-35 13-6 7 3 7 0 13 12 7-18 7-6 6 5 7 11 14-5 13-16 14-5 7 2 6-6 14-2 7-11 13-1 7 6 7 1 20-14 7 0 7 2 6 1 14-13 7 3 7-4 6-1 7 3 7-7 7-5 6 7 14-8 7-1 6-5 14 1 7-9 13-7 7-2 20 3 7-5 21 0 6-3 14-10 7 5 6-2 14-15 7 2 6 5 7-2 7-5 14-3 6-8 7-4 7 1 7-1 13-8 14-1 13 1 7-8 7-3 13 6 14-9 7 3 13-11 7 1 7-7 13 0 27-10 7 2 7-2 7-6 13 1 7-8 7-3 7 4 6 2 27-16 7 2 7-4 7 2 6-2 7-8 7-5 14-2 6 3 14-4 6 9-13 4-7-3-14 2-7 5-6 8-7 2-7-3-7 4-6-1-27 16-7-2-7-4-7 3-7 7-13 0-7 5-7 3-6-3-28 10-13 1-7 7-7-1-13 10-7-3-13 9-14-6-7 4-7 8-13-2-14 1-13 8-7 1-7 0-7 3-6 8-14 3-7 5-6 2-7-5-7-2-13 15-7 2-7-5-14 10-6 2-21 1-6 5-21-3-6 2-14 7-7 8-13-1-7 5-7 2-13 8-7-7-7 5-7 7-7-4-6 2-7 4-7-3-13 12-14-2-7 0-20 14-7-1-7-6-13 0-7 11-13 3-7 5-7-2-14 5-13 16-14 5-6-11-7-5-7 6-7 18-13-12-7 0-7-3-13 6-14 35-7-5-6 22-7 4-7-37z"/></g>
<use href="#c20" fill="url(#ws)" stroke="#e80000" stroke-width="4"/>
<g stroke="#e90000" stroke-width="11.4"><path id="c21" d="M467 437l7 38 6-5 7-22 7 5 13-35 14-5 7 3 7-1 13 12 7-18 7-5 6 4 7 12 14-6 13-16 14-5 7 2 6-5 14-3 7-10 13-1 7 6 7 1 20-14 7 0 14 3 13-13 7 3 7-4 6-1 7 3 7-7 7-4 7 6 13-8 7-1 7-5 13 1 7-8 14-8 6-2 21 4 6-6 21 0 7-3 13-10 7 5 7-2 13-14 7 2 7 4 7-2 6-4 14-3 7-8 6-4 7 1 7-2 14-7 13-2 14 2 6-8 7-3 14 6 13-9 7 3 14-11 6 1 7-7 14 0 27-10 7 2 6-2 7-6 14 1 7-7 6-4 7 4 7 2 27-16 7 2 7-4 6 3 7-3 7-7 7-5 13-2 7 2 14-3"/></g>
<use href="#c21" stroke="#fff" stroke-opacity="0.6" stroke-width="5.6" stroke-dasharray="3 3.8"/>
<g stroke="#ec0000" stroke-width="11.4"><path id="c22" d="M472 444l7 37 7-5 7-21 6 5 14-35 14-6 6 3 7 0 14 12 6-18 7-6 7 5 7 11 13-5 14-16 14-5 6 2 7-5 14-3 7-11 13-1 7 7 7 0 20-13 7-1 13 3 14-12 7 2 7-3 6-2 7 4 7-7 7-5 7 7 13-8 7-2 7-5 13 1 7-8 14-7 6-2 21 3 7-5 20-1 7-2 13-10 7 5 7-2 13-14 7 1 7 5 7-2 7-5 13-3 7-8 7-3 7 1 6-2 14-7 13-2 14 2 7-8 7-4 13 6 14-9 7 3 13-10 7 1 7-7 13 0 27-10 7 2 7-3 7-5 13 0 7-7 7-3 7 4 7 2 27-16 7 2 6-4 7 2 7-2 7-7 6-5 14-2 7 2 13-4"/></g>
<use href="#c22" stroke="#fff" stroke-opacity="0.6" stroke-width="5.6" stroke-dasharray="3 3.8"/>
<g stroke="#f00000" stroke-width="11.4"><path id="c23" d="M478 450l6 37 7-5 7-21 7 5 13-34 14-6 7 3 7-1 13 12 7-17 7-6 7 4 6 12 14-6 14-16 13-4 7 2 7-6 13-3 7-10 14-1 7 6 6 1 21-14 7 0 13 3 14-12 7 2 6-4 7-1 7 3 7-7 7-4 6 6 14-8 7-1 7-5 13 1 7-8 14-7 6-2 21 3 7-5 20-1 7-2 13-10 7 4 7-2 14-14 6 2 7 5 7-2 7-5 13-3 7-8 7-3 7 0 7-1 13-8 14-1 13 2 7-8 7-4 14 6 13-9 7 3 14-10 6 1 7-7 14-1 27-10 7 3 7-3 7-5 13 0 7-7 7-3 7 4 6 2 28-16 6 2 7-4 7 2 7-2 7-7 6-5 14-2 7 2 13-4"/></g>
<use href="#c23" stroke="#fff" stroke-opacity="0.6" stroke-width="5.6" stroke-dasharray="3 3.8"/>
<g stroke="#f30000" stroke-width="11.9"><path id="c24" d="M483 457l7 36 7-4 7-21 6 4 14-34 14-5 7 3 6-1 14 12 7-18 7-6 6 5 7 11 14-5 13-16 14-5 7 2 7-5 13-3 7-10 14-1 7 6 6 1 21-14 7 0 13 3 14-13 7 3 6-4 7-1 7 3 7-7 7-4 6 6 14-8 7-1 7-5 13 1 7-8 14-7 7-2 20 3 7-5 20-1 7-2 14-10 6 4 7-2 14-14 7 2 7 5 6-2 7-5 14-3 7-8 6-3 7 0 7-1 14-7 13-2 14 2 7-8 6-4 14 6 14-9 7 3 13-10 7 1 7-7 13 0 28-10 6 2 7-3 7-5 14 0 6-6 7-4 7 4 7 2 27-16 7 2 7-4 7 3 6-3 7-7 7-5 14-2 6 2 14-3"/></g>
<use href="#c24" stroke="#fff" stroke-opacity="0.6" stroke-width="6" stroke-dasharray="3 3.8"/>
<g stroke="#f60000" stroke-width="11.9"><path id="c25" d="M489 464l7 36 7-5 6-21 7 5 14-34 13-6 7 3 7 0 14 11 7-17 6-6 7 5 7 11 14-5 13-16 14-5 7 2 7-5 13-3 7-10 14-1 6 6 7 1 21-14 7 0 13 3 14-12 7 2 6-4 7-1 7 3 7-7 7-4 7 6 13-8 7-1 7-5 13 1 7-8 14-7 7-2 20 3 7-5 20-1 7-2 14-10 7 4 6-2 14-13 7 1 7 5 7-2 6-5 14-3 7-8 7-3 6 1 7-2 14-7 14-2 13 2 7-8 7-3 13 5 14-8 7 2 14-10 6 1 7-7 14 0 27-10 7 2 7-2 7-6 13 1 7-7 7-3 7 4 6 1 28-15 7 1 6-4 7 3 7-2 7-8 7-4 13-2 7 2 14-4"/></g>
<use href="#c25" stroke="#fff" stroke-opacity="0.6" stroke-width="6" stroke-dasharray="3 3.8"/>
<g stroke="#f90000" stroke-width="11.9"><path id="c26" d="M495 471l6 35 7-4 7-21 7 5 13-34 14-6 7 3 7 0 13 11 7-17 7-6 7 5 7 11 13-5 14-16 14-5 7 2 6-5 14-3 7-10 13-1 7 6 7 1 21-14 6 0 14 3 14-12 7 2 6-4 7-1 7 3 7-7 7-4 7 6 13-8 7-1 7-5 13 1 7-8 14-7 7-2 20 3 7-5 21-1 6-2 14-10 7 5 7-2 13-14 7 2 7 4 7-2 7-5 13-3 7-7 7-4 7 1 7-2 13-7 14-1 14 1 6-8 7-3 14 6 14-9 6 3 14-10 7 1 7-7 13-1 28-10 6 2 7-2 7-5 14 0 7-7 6-3 7 4 7 2 27-16 7 2 7-4 7 2 7-2 6-7 7-5 14-2 7 2 13-3"/></g>
<use href="#c26" stroke="#fff" stroke-opacity="0.6" stroke-width="6" stroke-dasharray="3 3.8"/>
<g stroke="#fd0000" stroke-width="11.9"><path id="c27" d="M501 478l6 35 7-4 7-21 7 5 14-34 13-5 7 3 7-1 14 11 6-17 7-5 7 4 7 11 14-5 13-16 14-4 7 1 7-5 13-3 7-10 14-1 7 6 6 1 21-13 7-1 13 3 14-12 7 2 7-3 7-2 7 3 6-6 7-5 7 7 14-8 7-2 6-4 14 0 7-7 14-7 6-2 21 3 7-6 20 0 7-2 14-10 7 4 6-2 14-14 7 2 7 5 7-2 6-5 14-3 7-8 7-3 7 1 6-2 14-7 14-2 13 2 7-8 7-3 14 5 13-8 7 3 14-10 7 1 7-7 13-1 28-10 6 2 7-2 7-5 14 0 7-7 6-3 7 4 7 2 27-16 7 2 7-4 7 2 7-2 7-7 6-5 14-2 7 3 14-4"/></g>
<use href="#c27" stroke="#fff" stroke-opacity="0.6" stroke-width="6" stroke-dasharray="3 3.8"/>
<g stroke="#ff0100" stroke-width="11.9"><path id="c28" d="M506 484l7 35 7-5 6-20 7 5 14-33 14-6 6 3 7-1 14 11 7-16 7-6 6 4 7 11 14-5 14-15 13-5 7 2 7-6 14-2 7-10 13-1 7 6 7 0 20-13 7 0 14 2 14-12 7 3 6-4 7-1 7 3 7-7 7-4 7 6 13-8 7-1 7-5 14 1 6-8 14-7 7-2 21 3 6-5 21-1 7-2 13-10 7 5 7-2 14-14 7 2 6 4 7-2 7-4 14-3 7-8 7-3 6 0 7-1 14-7 14-2 13 2 7-8 7-3 14 5 13-9 7 3 14-10 7 1 7-7 13 0 28-10 6 2 7-2 7-5 14 0 7-7 6-3 7 4 7 1 28-15 6 2 7-4 7 2 7-2 7-7 7-5 13-2 7 2 14-3"/></g>
<use href="#c28" stroke="#fff" stroke-opacity="0.6" stroke-width="5.9" stroke-dasharray="3 3.8"/>
<g stroke="#ff0400" stroke-width="11.9"><path id="c29" d="M511 490l7 35 7-4 7-21 7 5 13-33 14-6 7 3 7 0 14 11 6-17 7-6 7 5 7 10 14-5 13-15 14-5 7 2 7-5 13-3 7-10 14-1 7 6 7 1 20-13 7-1 14 3 13-12 7 2 7-3 7-2 7 3 7-6 7-4 6 6 14-8 7-1 7-5 13 1 7-8 14-7 7-2 20 3 7-5 21-1 7-2 13-10 7 4 7-1 14-14 7 2 6 4 7-2 7-5 14-2 7-8 7-3 6 0 7-1 14-7 14-2 13 2 7-8 7-3 14 5 13-9 7 3 14-10 7 1 7-7 13 0 28-10 7 2 7-2 6-5 14 0 7-7 7-3 7 4 6 1 28-14 7 1 7-4 6 2 7-2 7-7 7-5 14-2 7 3 13-4"/></g>
<use href="#c29" stroke="#fff" stroke-opacity="0.6" stroke-width="6" stroke-dasharray="3 3.8"/>
<g fill="#ff0900"><path id="c30" d="M514 494l7 34 7-4 7-20 7 4 13-32 14-6 7 3 7-1 14 11 6-16 7-6 7 5 7 10 14-5 13-15 14-5 7 2 7-5 14-3 6-10 14-1 7 6 7 0 20-13 7 0 14 3 14-12 7 2 6-3 7-2 7 3 7-7 7-4 7 6 13-7 7-2 7-5 14 1 7-7 13-7 7-2 21 3 7-6 20 0 7-2 14-10 7 4 6-2 14-13 7 2 7 4 7-2 7-5 13-3 7-7 7-4 7 1 7-1 13-8 14-1 14 1 7-7 6-3 14 5 14-9 7 3 13-10 7 1 7-7 14 0 27-10 7 2 7-2 7-5 14 0 6-7 7-3 7 4 7 1 27-14 7 1 7-4 7 2 7-2 7-7 6-5 14-2 7 3 14-4 6 8-13 4-7-2-14 2-14 11-7 2-7-2-6 4-7-1-28 14-7-1-6-4-7 3-7 7-14 0-7 5-7 2-6-2-28 10-14 0-6 7-7-1-14 10-7-3-14 9-13-6-7 4-7 7-14-1-13 1-14 7-7 2-7-1-7 3-7 8-13 3-7 4-7 2-7-4-7-2-13 14-7 2-7-5-14 10-7 2-20 1-7 5-21-3-7 2-13 7-7 8-14-1-7 5-7 1-13 8-7-6-7 4-7 6-7-3-7 2-6 3-7-2-14 12-14-3-7 0-20 14-7-1-7-6-14 1-6 10-14 3-7 5-7-2-14 5-13 15-14 5-7-10-7-5-7 6-6 16-14-11-7 1-7-3-14 6-13 32-7-4-7 20-7 4-7-34z"/></g>
<use href="#c30" fill="url(#ws)" stroke="#ff0900" stroke-width="4"/>
<g fill="#ff0c00"><path id="c31" d="M520 501l7 34 7-4 7-20 7 4 13-32 14-6 7 3 7-1 14 11 6-16 7-6 7 5 7 10 14-5 13-15 14-5 7 2 7-5 14-3 6-10 14-1 7 6 7 1 20-14 7 0 14 3 14-12 7 2 6-3 7-2 7 3 7-6 7-4 7 6 13-8 7-1 7-5 14 1 7-8 13-7 7-2 21 3 7-5 20-1 7-2 14-10 7 5 7-2 13-14 7 2 7 4 7-2 7-4 13-3 7-8 7-3 7 1 7-2 14-7 13-1 14 1 7-7 7-4 13 6 14-9 7 3 14-10 7 1 6-7 14 0 28-10 6 2 7-2 7-5 14 0 7-7 7-3 6 4 7 1 28-14 7 1 6-4 7 2 7-2 14-11 14-2 7 2 13-4 7 8-14 4-7-2-14 2-13 11-7 2-7-2-7 4-7-1-27 14-7-1-7-4-7 3-7 7-13-1-7 6-7 2-7-2-27 10-14 0-7 7-7-1-14 10-7-3-13 8-14-5-7 3-7 8-13-2-14 2-14 7-7 1-7 0-6 3-7 8-14 2-7 5-7 2-7-4-6-2-14 13-7 2-7-4-14 9-7 3-20 0-7 5-21-2-6 1-14 7-7 8-14-1-7 5-6 1-14 8-7-6-7 4-7 6-7-2-7 1-6 4-7-3-14 12-14-3-7 1-20 13-7-1-7-6-14 1-6 10-14 3-7 5-7-2-14 5-13 15-14 5-7-10-7-5-7 6-7 16-13-11-7 1-7-3-14 6-13 32-7-5-7 20-7 5-7-35z"/></g>
<use href="#c31" fill="url(#ws)" stroke="#ff0c00" stroke-width="4"/>
<g fill="#ff0f00"><path id="c32" d="M526 507l7 35 7-5 7-20 7 5 13-32 14-6 7 3 7-1 13 11 7-16 7-6 7 5 7 10 14-5 13-15 14-5 7 2 7-5 14-3 6-10 14-1 7 6 7 1 20-13 7-1 14 3 14-12 7 3 6-4 7-1 7 2 7-6 7-4 7 6 14-8 6-1 7-5 14 1 7-8 14-7 6-1 21 2 7-5 20 0 7-3 14-9 7 4 7-2 14-13 6 2 7 4 7-2 7-5 14-2 7-8 6-3 7 0 7-1 14-7 14-2 13 2 7-8 7-3 14 5 13-8 7 3 14-10 7 1 7-7 14 0 27-10 7 2 7-2 7-6 13 1 7-7 7-3 7 4 7 1 27-14 7 1 7-4 7 2 7-2 13-11 14-2 7 2 14-4 6 8-14 4-6-2-14 2-14 11-7 2-7-2-7 4-6-1-28 14-7-1-7-4-6 3-7 7-14-1-7 6-7 2-7-2-27 9-14 1-7 7-7-1-13 9-7-2-14 8-14-5-7 3-6 7-14-1-14 2-14 7-6 1-7-1-7 4-7 7-14 3-7 4-7 2-6-4-7-1-14 13-7 2-7-5-14 10-6 2-21 1-7 5-20-3-7 2-14 7-7 7-14-1-7 5-6 1-14 8-7-6-7 4-7 7-7-3-6 1-7 4-7-2-14 11-14-2-7 0-20 13-7-1-7-5-14 1-6 9-14 3-7 5-7-2-14 5-13 15-14 5-7-11-7-4-7 6-7 16-13-11-7 1-7-3-14 5-14 32-6-4-7 20-7 4-7-34z"/></g>
<use href="#c32" fill="url(#ws)" stroke="#ff0f00" stroke-width="4"/>
<g fill="#ff1300"><path id="c33" d="M532 514l7 34 7-4 7-20 6 4 14-32 14-5 7 3 7-1 13 11 7-16 7-6 7 4 7 11 14-5 13-15 14-5 7 2 7-5 14-3 6-9 14-1 7 5 7 1 20-13 7 0 14 2 14-11 7 2 7-4 6-1 7 3 7-7 7-4 7 6 14-8 6-1 7-5 14 1 7-7 14-7 7-2 20 3 7-5 21-1 6-2 14-10 7 5 7-2 14-13 7 1 6 4 7-2 7-4 14-3 7-7 7-4 7 1 6-1 14-7 14-2 14 1 6-7 7-3 14 5 14-8 7 2 13-9 7 1 7-7 14-1 27-9 7 2 7-2 7-6 14 1 7-7 6-3 7 4 7 1 28-14 6 1 7-4 7 2 7-2 14-11 14-2 6 2 14-4 7 8-14 4-7-2-14 2-13 11-7 2-7-2-7 4-7-1-27 14-7-1-7-4-7 3-7 7-14-1-7 5-6 3-7-2-28 9-14 1-6 6-7 0-14 9-7-3-14 9-13-5-7 3-7 7-14-1-14 1-13 7-7 2-7-1-7 3-7 8-14 2-6 5-7 2-7-4-7-2-14 13-7 2-7-4-13 9-7 2-21 1-7 5-20-3-7 2-14 7-7 8-14-1-6 4-7 2-14 7-7-6-7 5-7 6-7-3-6 2-7 3-7-2-14 11-14-2-7 0-20 13-7-1-7-5-14 1-6 9-14 3-7 5-7-2-14 5-13 15-14 5-7-11-7-4-7 6-7 16-13-11-7 1-7-3-14 5-14 32-7-4-6 19-7 5-7-34z"/></g>
<use href="#c33" fill="url(#ws)" stroke="#ff1300" stroke-width="4"/>
<g fill="#ff1600"><path id="c34" d="M538 521l7 34 7-5 6-19 7 4 14-32 14-5 7 3 7-1 13 11 7-16 7-6 7 4 7 11 14-5 13-15 14-5 7 2 7-5 14-3 6-9 14-1 7 5 7 1 20-13 7 0 14 2 14-11 7 2 7-3 6-2 7 3 7-6 7-5 7 6 14-7 7-2 6-4 14 1 7-8 14-7 7-2 20 3 7-5 21-1 7-2 13-9 7 4 7-2 14-13 7 2 7 4 7-2 6-5 14-2 7-8 7-3 7 1 7-2 13-7 14-1 14 1 7-7 7-3 13 5 14-9 7 3 14-9 7 0 6-6 14-1 28-9 7 2 6-3 7-5 14 1 7-7 7-3 7 4 7 1 27-14 7 1 7-4 7 2 7-2 13-11 14-2 7 2 14-4 6 8-14 4-7-2-13 2-14 11-7 2-7-2-7 4-7-1-27 14-7-1-7-4-7 3-7 6-13 0-7 5-7 2-7-1-27 9-14 0-7 7-7-1-14 10-7-3-13 8-14-5-7 3-7 8-14-2-13 2-14 7-7 1-7 0-7 3-7 7-13 3-7 4-7 2-7-4-7-1-14 13-7 1-6-4-14 10-7 2-21 1-7 4-20-2-7 2-14 7-7 7-13-1-7 5-7 1-14 8-7-6-7 4-7 6-6-3-7 2-7 3-7-2-14 11-14-2-6 0-21 13-7-1-7-5-14 1-6 9-14 3-7 5-7-2-14 5-14 15-13 4-7-10-7-4-7 6-7 16-14-11-6 1-7-3-14 5-14 32-7-4-7 19-6 4-7-33z"/></g>
<use href="#c34" fill="url(#ws)" stroke="#ff1600" stroke-width="4"/>
<g fill="#ff1900"><path id="c35" d="M544 528l7 33 6-4 7-19 7 4 14-32 14-5 7 3 6-1 14 11 7-16 7-6 7 4 7 10 13-4 14-15 14-5 7 2 7-5 14-3 6-9 14-1 7 5 7 1 21-13 6 0 14 2 14-11 7 2 7-3 7-2 6 3 7-6 7-4 7 6 14-8 7-1 7-5 13 1 7-7 14-7 7-2 20 2 7-4 21-1 7-2 14-10 6 4 7-1 14-13 7 1 7 4 7-2 7-4 13-3 7-7 7-3 7 0 7-1 14-7 13-2 14 2 7-8 7-3 14 5 13-8 7 3 14-10 7 1 7-7 14 0 27-9 7 1 7-2 7-5 13 0 7-6 7-3 7 4 7 1 27-14 7 1 7-4 7 2 7-2 14-11 13-2 7 2 14-4 7 8-14 4-7-2-14 2-14 11-7 2-6-2-7 4-7-1-28 14-7-2-6-3-7 3-7 6-14 0-7 5-7 2-7-2-27 10-14 0-7 7-7-1-13 9-7-2-14 8-14-5-7 3-7 7-13-1-14 2-14 6-7 2-7-1-7 4-6 7-14 3-7 4-7 2-7-4-7-2-13 13-7 2-7-4-14 9-7 2-21 1-6 5-21-3-7 2-14 7-7 7-13-1-7 5-7 1-14 8-7-6-7 4-7 6-6-2-14 4-7-2-14 11-14-2-6 0-21 13-7-1-7-5-14 1-6 9-14 3-7 5-7-2-14 5-14 15-13 4-7-10-7-4-7 6-7 16-14-11-6 1-7-3-14 5-14 31-7-4-7 19-7 5-6-33z"/></g>
<use href="#c35" fill="url(#ws)" stroke="#ff1900" stroke-width="4"/>
<g fill="#ff1e00"><path id="c36" d="M550 535l6 33 7-5 7-19 7 4 14-31 14-5 7 3 6-1 14 11 7-16 7-6 7 4 7 10 13-4 14-15 14-5 7 2 7-5 14-3 6-9 14-1 7 5 7 1 21-13 6 0 14 2 14-11 7 2 14-4 6 2 7-6 7-4 7 6 14-8 7-1 7-5 13 1 7-7 14-7 7-2 21 3 6-5 21-1 7-2 14-9 7 4 7-2 13-13 7 2 7 4 7-2 7-4 14-3 6-7 7-4 7 1 7-2 14-6 14-2 13 1 7-7 7-3 14 5 14-8 7 2 13-9 7 1 7-7 14 0 27-10 7 2 7-2 7-5 14 0 7-6 7-3 6 3 7 2 28-14 7 1 7-4 6 2 7-2 14-11 14-2 7 2 14-4 6 9-14 3-7-2-14 2-13 11-7 2-7-2-7 4-7-1-27 14-7-1-7-4-7 3-7 6-14 0-7 5-6 2-7-2-28 10-14 0-7 7-6-1-14 9-7-2-14 8-14-5-6 3-7 7-14-1-14 1-14 7-7 2-6-1-7 3-7 7-14 3-7 5-7 1-7-3-7-2-13 13-7 2-7-4-14 9-7 2-20 1-7 4-21-2-7 2-14 7-6 7-14-1-7 5-7 1-14 7-7-5-7 4-6 6-7-3-14 5-7-2-14 11-13-2-7 0-21 12-7 0-7-6-14 1-6 10-14 2-7 5-7-1-14 4-14 15-13 4-7-9-7-5-7 6-7 16-14-11-6 1-7-3-14 6-14 30-7-4-7 19-7 5-6-33z"/></g>
<use href="#c36" fill="url(#ws)" stroke="#ff1e00" stroke-width="4"/>
<g fill="#ff2300"><path id="c37" d="M556 542l6 33 7-5 7-19 7 4 14-30 14-6 7 3 6-1 14 11 7-16 7-6 7 5 7 9 13-4 14-15 14-4 7 1 7-5 14-2 6-10 14-1 7 6 7 0 21-12 7 0 13 2 14-11 7 2 14-5 7 3 6-6 7-4 7 5 14-7 7-1 7-5 14 1 6-7 14-7 7-2 21 2 7-4 20-1 7-2 14-9 7 4 7-2 13-13 7 2 7 3 7-1 7-5 14-3 7-7 7-3 6 1 7-2 14-7 14-1 14 1 7-7 6-3 14 5 14-8 7 2 14-9 6 1 7-7 14 0 28-10 7 2 6-2 7-5 14 0 7-6 7-3 7 4 7 1 27-14 7 1 7-4 7 2 7-2 13-11 14-2 7 2 14-3 6 8-13 3-7-2-14 2-14 11-7 3-7-3-7 4-6-1-28 14-7-1-7-4-7 3-7 6-13 0-7 5-7 2-7-2-28 10-13 0-7 7-7-1-14 9-7-2-14 8-13-5-7 3-7 7-14-1-14 1-13 7-7 1-7 0-7 3-7 7-14 3-7 4-7 2-6-4-7-1-14 12-7 2-7-4-14 9-7 2-20 1-7 5-21-2-7 1-13 7-7 7-14 0-7 4-7 1-14 8-7-6-13 10-7-3-14 5-7-2-14 11-13-2-7 0-21 13-7-1-7-5-14 1-6 9-14 3-7 5-7-2-14 4-14 15-13 5-7-10-7-4-7 5-7 16-14-11-7 1-6-3-14 6-14 30-7-4-7 19-7 4-6-32z"/></g>
<use href="#c37" fill="url(#ws)" stroke="#ff2300" stroke-width="4"/>
<g fill="#ff2800"><path id="c38" d="M562 549l6 32 7-4 7-19 7 4 14-30 14-6 6 3 7-1 14 11 7-16 7-5 7 4 7 10 13-5 14-15 14-4 7 2 7-5 14-3 6-9 14-1 7 5 7 1 21-13 7 0 13 2 14-11 7 2 14-5 7 3 13-10 7 6 14-8 7-1 7-4 14 0 7-7 13-7 7-1 21 2 7-5 20-1 7-2 14-9 7 4 7-2 14-12 7 1 6 4 7-2 7-4 14-3 7-7 7-3 7 0 7-1 13-7 14-1 14 1 7-7 7-3 13 5 14-8 7 2 14-9 7 1 7-7 13 0 28-10 7 2 7-2 7-5 13 0 7-6 7-3 7 4 7 1 28-14 6 1 7-4 7 3 7-3 14-11 14-2 7 2 13-3 7 8-14 4-7-2-14 2-14 10-6 3-7-3-7 4-7-1-28 14-7-1-7-4-6 3-7 6-14 0-7 5-7 2-7-2-27 10-14 0-7 7-7-1-14 9-7-3-13 8-14-4-7 3-7 7-14-1-13 1-14 7-7 1-7 0-7 3-7 7-14 3-6 4-7 2-7-4-7-2-14 13-7 2-7-4-13 9-7 2-21 1-7 5-21-3-7 2-13 7-7 7-14-1-7 5-7 1-14 7-6-5-14 10-7-3-14 5-7-2-14 11-13-3-7 1-21 12-7-1-7-5-13 1-7 9-14 3-7 5-7-2-14 5-13 14-14 5-7-10-7-4-7 5-7 16-14-10-7 0-6-2-14 5-14 30-7-4-7 19-7 4-7-32z"/></g>
<use href="#c38" fill="url(#ws)" stroke="#ff2800" stroke-width="4"/>
<g fill="#ff2d00"><path id="c39" d="M567 556l7 32 7-4 7-19 7 4 14-30 14-5 6 2 7 0 14 10 7-16 7-5 7 4 7 10 14-5 13-14 14-5 7 2 7-5 14-3 7-9 13-1 7 5 7 1 21-12 7-1 13 3 14-11 7 2 14-5 7 3 14-10 6 5 14-7 7-1 7-5 14 1 7-7 13-7 7-2 21 3 7-5 21-1 7-2 13-9 7 4 7-2 14-13 7 2 7 4 7-2 6-4 14-3 7-7 7-3 7 0 7-1 14-7 13-1 14 1 7-7 7-3 14 4 13-8 7 3 14-9 7 1 7-7 14 0 27-10 7 2 7-2 7-5 14 0 7-6 6-3 7 4 7 1 28-14 7 1 7-4 7 3 6-3 14-10 14-2 7 2 14-4 6 8-14 4-7-2-13 2-14 10-7 3-7-2-7 3-7-1-27 14-7-1-7-4-7 3-7 6-14 0-7 5-7 2-6-2-28 10-14 0-7 6-7 0-13 9-7-3-14 8-14-4-7 3-7 7-13-2-14 2-14 7-7 1-7 0-7 3-7 7-13 2-7 5-7 1-7-3-7-2-14 13-7 1-7-3-13 9-7 2-21 0-7 5-20-2-7 2-14 6-7 7-14 0-7 4-7 1-13 8-7-6-14 10-7-3-14 5-7-2-13 11-14-2-7 0-21 12-7 0-7-5-13 1-7 9-14 2-7 5-7-1-14 4-13 14-14 5-7-10-7-4-7 6-7 15-14-10-7 0-6-2-14 5-14 30-7-4-7 19-7 4-7-32z"/></g>
<use href="#c39" fill="url(#ws)" stroke="#ff2d00" stroke-width="4"/>
<g fill="#ff3200"><path id="c40" d="M573 563l7 32 7-4 7-19 7 4 14-30 14-5 6 2 7 0 14 10 7-15 7-6 7 4 7 10 14-5 13-14 14-4 7 1 7-5 14-2 7-9 13-1 7 5 7 0 21-12 7 0 14 2 13-11 7 2 14-5 7 3 14-10 7 6 13-8 7-1 7-4 14 0 7-7 14-6 7-2 20 2 7-5 21 0 7-2 13-9 7 3 7-1 14-13 7 2 7 3 7-1 7-5 13-2 7-7 7-3 7 0 7-1 14-7 14-2 13 2 7-7 7-3 14 4 14-8 7 3 13-9 7 0 7-6 14 0 28-10 6 2 7-2 7-5 14 0 7-6 7-3 7 4 7 1 27-14 7 1 7-3 7 2 7-3 14-10 13-2 7 2 14-4 6 8-13 4-7-2-14 2-14 11-7 2-7-2-7 3-6-1-28 14-7-1-7-4-7 3-7 6-13 0-7 5-7 2-7-2-28 10-14 0-6 6-7 0-14 9-7-3-14 8-14-4-7 2-6 7-14-1-14 2-14 6-7 2-7-1-6 3-7 7-14 3-7 4-7 2-7-4-7-1-14 12-6 2-7-4-14 9-7 2-21 1-7 5-20-3-7 2-14 7-7 7-14-1-7 5-7 1-13 7-7-5-14 9-7-2-14 5-7-2-13 10-14-2-7 1-21 12-7-1-7-5-13 1-7 9-14 3-7 4-7-1-14 4-13 14-14 5-7-9-7-4-7 5-7 15-14-10-7 1-6-3-14 5-14 30-7-4-7 19-7 4-7-32z"/></g>
<use href="#c40" fill="url(#ws)" stroke="#ff3200" stroke-width="4"/>
<g stroke="#ff3500" stroke-width="12"><path id="c41" d="M584 575l7 32 6-5 7-18 7 4 14-29 14-6 7 3 7-1 13 10 7-15 7-5 7 4 7 9 14-5 14-14 13-4 7 2 7-5 14-3 7-9 14-1 7 5 7 1 20-12 7-1 14 2 14-10 7 2 13-5 7 3 14-10 7 5 14-7 7-1 7-5 13 1 7-7 14-6 7-2 21 2 7-5 20 0 7-3 14-8 7 3 7-1 14-13 7 2 6 3 7-1 7-5 14-2 7-7 7-3 14-1 13-7 14-1 14 1 7-7 7-3 14 5 13-8 7 2 14-9 7 1 7-6 14-1 27-9 7 2 7-2 7-5 14 0 7-6 7-3 7 3 6 1 28-13 7 1 7-4 7 2 7-2 14-10 13-2 7 2 14-4"/></g>
<use href="#c41" stroke="#fff" stroke-opacity="0.6" stroke-width="6.1" stroke-dasharray="3 3.8"/>
<g stroke="#ff3900" stroke-width="11.3"><path id="c42" d="M588 580l7 31 7-4 6-18 7 4 14-30 14-5 7 3 7-1 14 10 7-15 6-5 7 4 7 9 14-5 14-14 14-4 7 1 7-4 13-3 7-9 14-1 7 5 7 1 21-12 6-1 14 2 14-10 7 2 14-5 7 3 14-10 6 5 14-7 7-1 7-5 14 1 7-7 14-6 7-2 20 2 7-5 21-1 7-2 14-8 7 3 6-1 14-13 7 2 7 3 7-1 7-5 14-2 7-7 7-3 13-1 14-7 14-1 14 1 7-7 7-3 13 5 14-8 7 2 14-9 7 1 7-6 14-1 27-9 7 2 7-2 7-5 14 0 7-6 7-3 7 3 6 1 28-13 7 1 7-4 7 2 7-2 14-10 13-2 7 2 14-4"/></g>
<use href="#c42" stroke="#fff" stroke-opacity="0.6" stroke-width="5.6" stroke-dasharray="3 3.8"/>
<g stroke="#ff3e00" stroke-width="11.5"><path id="c43" d="M593 587l7 31 7-4 7-18 7 4 14-29 14-6 7 3 7-1 13 10 7-15 7-5 7 4 7 9 14-5 14-13 14-5 7 2 6-5 14-3 7-9 14-1 7 5 7 1 21-12 7 0 13 2 14-11 7 2 14-5 7 3 14-10 7 5 14-7 6-1 7-4 14 0 7-7 14-6 7-2 21 2 7-4 20-1 7-2 14-9 7 3 7-1 14-12 7 1 7 4 7-2 6-4 14-3 7-7 7-3 14-1 14-6 14-2 14 1 6-7 7-3 14 5 14-8 7 2 14-9 7 1 7-6 13-1 28-9 7 2 7-2 7-5 14 0 7-6 7-3 7 3 6 1 28-13 7 1 7-3 7 2 7-3 14-10 13-2 7 2 14-4"/></g>
<use href="#c43" stroke="#fff" stroke-opacity="0.6" stroke-width="5.9" stroke-dasharray="3 3.8"/>
<g stroke="#ff4300" stroke-width="11.5"><path id="c44" d="M599 595l7 30 7-4 7-18 6 4 14-29 14-5 7 2 7-1 14 10 7-15 7-5 7 4 7 9 14-5 13-13 14-5 7 2 7-5 14-3 7-8 14-2 7 5 7 1 20-12 7 0 14 2 14-11 7 2 14-5 7 3 14-10 7 5 14-7 6-1 7-4 14 0 7-7 14-6 7-2 21 2 7-4 21-1 6-2 14-9 7 3 7-1 14-12 7 1 7 4 7-2 7-4 14-3 7-7 7-3 13-1 14-6 14-2 14 1 7-7 7-3 14 5 14-8 7 2 13-9 7 1 7-6 14-1 28-9 7 2 7-2 7-5 14 0 6-6 7-3 7 3 7 1 28-13 7 1 7-3 7 2 7-3 14-10 13-2 7 2 14-4"/></g>
<use href="#c44" stroke="#fff" stroke-opacity="0.6" stroke-width="5.9" stroke-dasharray="3 3.8"/>
<g stroke="#ff4700" stroke-width="11.5"><path id="c45" d="M604 602l7 30 7-4 7-18 7 4 14-29 14-5 7 2 7 0 13 9 7-15 7-5 7 4 7 9 14-5 14-13 14-5 7 2 7-5 14-2 7-9 13-1 7 4 7 1 21-12 7 0 14 2 14-11 7 2 14-5 7 3 14-10 7 5 13-7 7-1 7-4 14 0 7-7 14-6 7-2 21 2 7-4 21-1 7-2 14-9 6 3 7-1 14-12 7 1 7 4 7-2 7-4 14-3 7-7 7-3 14-1 14-6 14-2 13 1 7-7 7-3 14 5 14-8 7 2 14-8 7 0 7-6 14-1 28-9 6 2 7-2 7-5 14 0 7-6 7-3 7 3 7 1 28-13 7 1 7-3 7 2 7-3 13-10 14-2 7 2 14-4"/></g>
<use href="#c45" stroke="#fff" stroke-opacity="0.6" stroke-width="5.9" stroke-dasharray="3 3.8"/>
<g fill="#ff5300"><path id="c46" d="M607 605l7 30 7-4 7-18 7 4 13-28 14-6 7 3 7-1 14 9 7-14 7-5 7 3 7 9 14-4 14-14 14-4 7 1 7-4 13-3 7-9 14-1 7 5 7 0 21-11 7-1 14 2 14-10 7 1 14-4 7 2 14-9 7 5 13-7 7-1 7-5 14 1 7-7 14-6 7-2 21 2 7-5 21-1 7-2 14-9 7 4 7-2 13-12 7 2 7 3 7-2 7-4 14-3 7-6 7-3 14-1 14-7 14-1 14 0 7-6 7-3 13 4 14-7 7 2 14-9 7 1 7-7 14 0 28-9 7 1 7-2 7-4 14 0 7-6 7-3 6 3 7 1 28-13 7 0 7-3 7 2 7-2 14-10 14-2 7 1 14-3 7 8-14 4-7-2-14 2-14 10-7 3-7-2-7 3-7-1-28 13-7-1-7-3-6 3-7 6-14 0-7 5-7 2-7-2-28 9-14 1-7 6-7-1-14 9-7-2-14 7-14-4-7 3-7 7-14-1-14 1-14 7-14 1-7 3-6 6-14 3-7 4-7 2-7-3-7-2-14 12-7 2-7-4-14 9-7 2-21 1-7 4-21-2-7 2-14 7-7 6-14 0-7 4-7 1-14 7-7-5-13 10-7-3-14 5-7-2-14 10-21-1-21 12-7-1-7-4-14 1-7 8-14 3-7 5-7-2-14 4-14 14-14 4-7-8-7-4-7 5-7 14-13-9-7 1-7-3-14 6-14 28-7-4-7 18-7 4-7-30z"/></g>
<use href="#c46" fill="url(#ws)" stroke="#ff5300" stroke-width="4"/>
<g fill="#ff6400"><path id="c47" d="M612 612l7 30 7-4 7-18 7 4 14-28 14-6 7 3 7-1 13 9 7-14 7-5 7 4 7 8 14-4 14-14 14-4 7 2 7-5 14-3 7-8 14-1 7 4 7 1 21-12 21 1 14-10 7 2 14-5 7 3 13-10 7 5 14-7 7-1 7-4 14 0 7-6 14-7 7-2 21 2 7-4 21-1 7-2 14-9 7 4 7-2 14-12 7 2 7 3 7-2 7-4 14-3 6-6 7-3 14-1 14-7 14-1 14 1 7-7 7-3 14 4 14-7 7 2 14-9 7 1 7-6 14-1 28-9 7 2 7-2 7-5 14 0 7-6 6-3 7 3 7 1 28-13 7 1 7-3 7 2 7-3 14-10 14-2 7 2 14-4 7 13-14 3-7-1-14 2-14 10-7 2-7-2-7 3-7-1-28 13-7-1-6-3-7 3-7 6-14 0-7 4-7 2-7-1-28 9-14 0-7 6-7 0-14 8-7-2-14 7-14-4-7 3-7 6-14-1-14 2-14 6-14 1-7 3-7 7-14 2-7 4-7 2-7-3-7-2-14 12-7 2-7-4-14 9-7 2-21 1-7 4-21-2-7 2-14 6-7 6-14 0-7 4-7 1-14 7-7-5-14 10-7-3-14 5-7-2-14 10-21-1-21 11-7 0-7-5-14 1-7 9-13 2-7 5-7-2-14 4-14 14-14 4-7-9-7-3-7 5-7 14-14-9-7 0-7-2-14 5-14 28-7-4-7 18-7 3-7-29z"/></g>
<use href="#c47" fill="url(#ws)" stroke="#ff6400" stroke-width="4"/>
<g fill="#ff8100"><path id="c48" d="M617 619l7 29 7-3 7-18 7 4 14-28 14-5 7 2 7 0 14 9 7-14 7-5 7 3 7 9 14-4 14-14 14-4 7 2 7-5 13-2 7-9 14-1 7 5 7 0 21-11 21 1 14-10 7 2 14-5 7 3 14-10 7 5 14-7 7-1 7-4 14 0 7-6 14-6 7-2 21 2 7-4 21-1 7-2 14-9 7 4 7-2 14-12 7 2 7 3 7-2 7-4 14-2 7-7 7-3 14-1 14-6 14-2 14 1 7-6 7-3 14 4 14-7 7 2 14-8 7 0 7-6 14 0 28-9 7 1 7-2 7-4 14 0 7-6 7-3 6 3 7 1 28-13 7 1 7-3 7 2 7-2 14-10 14-2 7 1 14-3 4 25-14 3-7-1-14 1-14 10-6 2-7-2-7 3-7-1-28 12-7-1-7-2-7 2-7 6-14 0-7 4-7 2-7-2-28 9-13 0-7 6-7-1-14 8-7-2-14 7-14-4-7 3-7 6-14-1-14 2-14 6-13 0-7 3-7 6-14 3-7 4-7 1-7-3-7-1-14 11-7 1-7-3-14 8-7 2-21 1-7 4-20-2-7 2-14 6-7 6-14-1-7 4-7 1-14 7-7-5-14 9-7-2-14 4-7-2-13 10-21-2-21 11-7 0-7-5-14 1-7 8-14 3-7 4-7-1-14 4-14 12-13 5-7-9-7-3-7 4-7 14-14-9-7 1-7-3-14 5-14 27-7-3-7 17-7 3-7-29z"/></g>
<use href="#c48" fill="url(#ws)" stroke="#ff8100" stroke-width="4"/>
<g fill="#ff9e00"><path id="c49" d="M625 631l7 29 7-3 7-17 7 3 14-27 14-5 7 3 7-1 14 9 7-14 7-4 7 3 7 9 13-5 14-12 14-4 7 1 7-4 14-3 7-8 14-1 7 5 7 0 21-11 21 2 13-10 7 2 14-4 7 2 14-9 7 5 14-7 7-1 7-4 14 1 7-6 14-6 7-2 20 2 7-4 21-1 7-2 14-8 7 3 7-1 14-11 7 1 7 3 7-1 7-4 14-3 7-6 7-3 13 0 14-6 14-2 14 1 7-6 7-3 14 4 14-7 7 2 14-8 7 1 7-6 13 0 28-9 7 2 7-2 7-4 14 0 7-6 7-2 7 2 7 1 28-12 7 1 7-3 7 2 6-2 14-10 14-1 7 1 14-3 4 24-14 3-7-1-14 1-14 9-7 2-7-1-6 3-7-1-28 12-14-4-7 3-7 5-13 0-7 4-7 2-7-2-28 8-14 1-7 5-6 0-14 8-7-2-14 6-14-3-7 2-7 6-13-1-14 2-14 6-14 1-7 2-7 6-14 3-6 3-7 2-14-4-14 10-7 2-7-3-14 7-7 2-20 1-7 4-21-2-7 2-14 6-7 6-13-1-7 4-7 1-14 7-7-5-14 8-7-2-13 4-7-1-14 9-21-1-21 10-7 0-7-4-13 0-7 8-14 3-7 4-7-1-14 3-14 13-13 4-7-8-7-4-7 5-7 13-14-8-7 0-7-2-13 4-14 27-7-4-7 17-7 3-7-28z"/></g>
<use href="#c49" fill="url(#ws)" stroke="#ff9e00" stroke-width="4"/>
<g fill="#ffb800"><path id="c50" d="M634 650l7 28 7-3 7-17 7 4 14-27 13-4 7 2 7 0 14 8 7-13 7-5 7 4 7 8 13-4 14-13 14-3 7 1 7-4 14-3 7-8 13 0 7 4 7 0 21-10 21 1 14-9 7 1 13-4 7 2 14-8 7 5 14-7 7-1 7-4 13 1 7-6 14-6 7-2 21 2 7-4 20-1 7-2 14-7 7 3 7-2 14-10 14 4 7-2 6-3 14-3 7-6 7-2 14-1 14-6 14-2 13 1 7-6 7-2 14 3 14-6 7 2 14-8 6 0 7-5 14-1 28-8 7 2 7-2 7-4 13 0 7-5 7-3 14 4 28-12 7 1 6-3 7 1 7-2 14-9 14-1 7 1 14-3 4 21-14 3-7-1-13 2-14 9-7 1-7-1-7 3-7-1-27 11-14-3-7 3-7 5-14 0-6 4-7 2-7-2-28 8-13 1-7 5-7 0-14 7-7-2-14 7-13-4-7 3-7 5-14 0-14 1-13 6-14 1-7 2-7 6-14 2-7 4-6 1-14-4-14 11-7 1-7-3-14 8-6 1-21 1-7 4-21-1-6 1-14 6-7 6-14-1-7 4-7 1-13 6-7-4-14 8-7-2-14 4-7-2-13 10-21-2-21 11-6-1-7-4-14 1-7 8-14 2-7 4-6-1-14 3-14 12-14 4-7-8-7-3-6 5-7 12-14-8-7 1-7-2-14 4-13 26-7-4-7 16-7 4-7-27z"/></g>
<use href="#c50" fill="url(#ws)" stroke="#ffb800" stroke-width="4"/>
<g fill="#ffda00"><path id="c51" d="M642 668l7 27 7-4 7-16 7 4 13-26 14-4 7 2 7-1 14 8 7-12 6-5 7 3 7 8 14-4 14-12 14-3 6 1 7-4 14-2 7-8 14-1 7 4 6 1 21-11 21 2 13-10 7 2 14-4 7 2 14-8 7 4 13-6 7-1 7-4 14 1 7-6 14-6 6-1 21 1 7-4 21-1 6-1 14-8 7 3 7-1 14-11 14 4 6-1 7-4 14-2 7-6 7-2 14-1 13-6 14-1 14 0 7-5 7-3 13 4 14-7 7 2 14-7 7 0 7-5 13-1 28-8 7 2 7-2 6-4 14 0 7-5 7-3 14 3 27-11 7 1 7-3 7 1 7-1 14-9 13-2 7 1 14-3 5 28-13 3-7-1-14 2-14 8-7 1-6-1-7 3-7-1-28 11-13-3-7 3-7 4-14 1-7 3-7 2-6-1-28 8-14 0-7 5-6 0-14 7-7-2-14 7-13-3-7 2-7 5-14 0-14 1-13 6-14 1-7 2-7 6-14 2-13 5-14-4-14 10-7 2-7-3-13 7-7 2-21 1-7 3-20-1-7 2-14 5-7 5-14 0-27 11-7-4-14 8-6-2-14 4-7-2-14 9-20-1-21 10-7-1-7-4-14 2-6 7-14 2-7 4-7-1-14 3-13 12-14 4-7-8-7-3-7 5-7 12-13-8-7 1-7-2-14 4-14 24-6-3-7 15-7 4-7-26z"/></g>
<use href="#c51" fill="url(#ws)" stroke="#ffda00" stroke-width="4"/>
<g fill="#f8ff07"><path id="c52" d="M649 691l7 26 7-4 7-15 6 3 14-24 14-4 7 2 7-1 13 8 7-12 7-5 7 3 7 8 14-4 13-12 14-3 7 1 7-4 14-2 6-7 14-2 7 4 7 1 21-10 20 1 14-9 7 2 14-4 6 2 14-8 7 4 27-11 14 0 7-5 14-5 7-2 20 1 7-3 21-1 7-2 13-7 7 3 7-2 14-10 14 4 13-5 14-2 7-6 7-2 14-1 13-6 14-1 14 0 7-5 7-2 13 3 14-7 7 2 14-7 6 0 7-5 14 0 28-8 6 1 7-2 7-3 14-1 7-4 7-3 13 3 28-11 7 1 7-3 6 1 7-1 14-8 14-2 7 1 13-3 6 37-14 3-7-1-13 1-14 8-7 2-7-1-7 2-6 0-28 10-14-2-6 2-7 4-14 1-14 5-7-1-27 7-14 1-7 4-7 0-13 7-7-2-14 6-14-2-6 2-7 5-14-1-14 2-13 5-14 1-7 2-7 5-14 3-13 4-14-3-14 9-7 2-6-3-14 7-7 2-21 1-6 3-21-1-7 2-14 5-7 5-13 0-28 10-7-4-13 8-7-2-14 4-7-2-13 8-21 0-21 9-6 0-7-4-14 1-7 7-14 2-6 4-7-1-14 3-14 11-13 4-7-7-7-3-7 4-7 12-14-7-6 0-7-2-14 4-14 23-7-3-7 14-6 4-7-24z"/></g>
<use href="#c52" fill="url(#ws)" stroke="#f8ff07" stroke-width="4"/>
<g fill="#c5ff3a"><path id="c53" d="M656 721l7 24 6-4 7-14 7 3 14-23 14-4 7 2 6 0 14 7 7-12 7-4 7 3 7 7 13-4 14-11 14-3 7 1 6-4 14-2 7-7 14-1 7 4 6 0 21-9 21 0 13-8 7 2 14-4 7 2 13-8 7 4 28-10 13 0 7-5 14-5 7-2 21 1 6-3 21-1 7-2 14-7 6 3 7-2 14-9 14 3 13-4 14-3 7-5 7-2 14-1 13-5 14-2 14 1 7-5 6-2 14 2 14-6 7 2 13-7 7 0 7-4 14-1 27-7 7 1 14-5 14-1 7-4 6-2 14 2 28-10 6 0 7-2 7 1 7-2 14-8 13-1 7 1 14-3 7 46-14 2-7 0-13 1-14 7-28 2-27 9-14-2-14 6-13 0-14 5-7-1-27 7-14 0-7 4-7 0-14 6-7-1-13 5-14-2-7 2-7 4-27 1-14 5-14 0-7 3-7 4-13 2-14 4-14-3-14 8-6 2-7-3-14 6-7 2-21 1-6 3-21-1-7 1-14 5-6 4-14 0-28 9-7-3-13 7-7-2-14 3-7-1-14 7-20 0-21 8-7 0-7-4-13 1-7 6-14 2-7 4-7-1-13 3-14 10-14 3-7-6-7-3-6 4-7 10-14-7-7 1-7-2-14 4-13 21-7-3-7 13-7 3-7-22z"/></g>
<use href="#c53" fill="url(#ws)" stroke="#c5ff3a" stroke-width="4"/>
<g fill="#98ff67"><path id="c54" d="M661 746l7 22 7-3 7-13 7 3 13-21 14-4 7 2 7-1 14 7 7-10 6-4 7 3 7 6 14-3 14-10 13-3 7 1 7-4 14-2 7-6 13-1 7 4 7 0 21-8 20 0 14-7 7 1 14-3 7 2 13-7 7 3 28-9 14 0 6-4 14-5 7-1 21 1 6-3 21-1 7-2 14-6 7 3 6-2 14-8 14 3 14-4 13-2 7-4 7-3 14 0 14-5 27-1 7-4 7-2 14 2 13-5 7 1 14-6 7 0 7-4 14 0 27-7 7 1 14-5 13 0 14-6 14 2 27-9 28-2 14-7 13-1 7 0 14-2 6 37-14 3-7-1-14 2-13 6-28 3-27 8-14-1-14 5-14 1-13 4-7 0-28 6-13 1-7 3-7 0-14 6-7-1-13 5-14-2-7 2-7 4-27 1-14 5-14 1-7 2-6 4-28 6-14-2-13 7-7 1-7-2-21 8-20 1-7 3-21-1-7 1-13 5-7 4-14 0-27 9-7-3-14 6-7-1-14 3-6-1-14 7-21-1-20 8-7 0-7-3-14 1-7 6-13 2-7 3-7-1-14 4-14 9-13 3-7-6-7-2-7 3-7 10-14-6-6 1-7-2-14 4-14 19-7-2-6 12-7 3-7-21z"/></g>
<use href="#c54" fill="url(#ws)" stroke="#98ff67" stroke-width="4"/>
<g fill="#68ff97"><path id="c55" d="M668 782l7 21 7-3 6-12 7 2 14-19 14-4 7 2 6-1 14 6 7-10 7-3 7 2 7 6 13-3 14-9 14-4 7 1 7-3 13-2 7-6 14-1 7 3 7 0 20-8 21 1 14-7 6 1 14-3 7 1 14-6 7 3 27-9 14 0 7-4 13-5 7-1 21 1 7-3 20-1 21-8 7 2 7-1 13-7 14 2 28-6 6-4 7-2 14-1 14-5 27-1 7-4 7-2 14 2 13-5 7 1 14-6 7 0 7-3 13-1 28-6 7 0 13-4 14-1 14-5 14 1 27-8 28-3 13-6 14-2 7 1 14-3 5 39-13 3-21 2-14 6-27 3-27 8-14-1-14 5-14 1-13 5-7-1-28 7-13 1-7 3-7 1-14 5-7-1-13 5-14-1-14 5-27 3-14 4-14 1-13 6-28 6-14-1-13 6-7 2-7-2-21 7-20 2-7 3-21 0-6 1-14 5-7 3-14 1-27 8-7-2-14 6-7-1-13 3-7 0-14 6-20 0-21 8-7 0-7-2-13 1-7 5-14 3-7 3-7-1-13 3-14 9-14 3-7-5-7-2-6 3-7 9-14-4-14-1-14 4-13 17-7-2-7 11-7 3-7-18z"/></g>
<use href="#c55" fill="url(#ws)" stroke="#68ff97" stroke-width="4"/>
<g fill="#3bffc4"><path id="c56" d="M674 829l7 18 7-3 7-11 7 2 13-17 14-4 14 1 14 4 7-9 6-3 7 2 7 5 14-3 14-9 13-3 7 1 7-3 14-3 7-5 13-1 7 2 7 0 21-8 20 0 14-6 7 0 13-3 7 1 14-6 7 2 27-8 14-1 7-3 14-5 6-1 21 0 7-3 20-2 21-7 7 2 7-2 13-6 14 1 28-6 13-6 14-1 14-4 27-3 14-5 14 1 13-5 7 1 14-5 7-1 7-3 13-1 28-7 7 1 13-5 14-1 14-5 14 1 27-8 27-3 14-6 21-2 13-3 6 36-34 6-14 5-28 4-27 8-14 0-13 5-14 2-14 4-7 0-27 7-14 1-6 4-7 0-14 5-7 0-14 4-13 0-14 6-27 3-14 4-14 2-13 5-28 7-13-1-14 6-7 2-7-1-20 7-21 2-7 3-27 2-14 4-7 4-13 1-28 9-7-2-13 6-7-1-14 3-7 0-13 6-21 1-20 8-7 0-7-1-14 1-7 5-13 3-7 2-7 0-14 4-13 7-14 4-7-4-7-1-7 3-7 8-13-4-14 0-14 4-13 16-7-2-7 10-7 2-7-14z"/></g>
<use href="#c56" fill="url(#ws)" stroke="#3bffc4" stroke-width="4"/>
<g fill="#14ffeb"><path id="c57" d="M681 879l7 14 7-2 7-10 7 2 13-16 14-4 14 0 13 4 7-8 7-3 7 1 7 4 14-4 13-7 14-4 7 0 7-2 13-3 7-5 14-1 7 1 7 0 20-8 21-1 13-6 7 0 14-3 7 1 13-6 7 2 28-9 13-1 7-4 14-4 27-2 7-3 21-2 20-7 7 1 7-2 14-6 13 1 28-7 13-5 14-2 14-4 27-3 14-6 13 0 14-4 7 0 14-5 7 0 6-4 14-1 27-7 7 0 14-4 14-2 13-5 14 0 27-8 28-4 14-5 34-6 4 30-34 7-13 5-28 5-27 9-14 1-13 5-14 2-14 5-6 0-28 7-13 3-7 3-7 1-14 5-6 0-14 5-14 0-13 6-28 4-13 4-14 3-14 5-27 8-13 0-14 6-7 2-7 0-20 7-21 3-6 3-28 3-20 8-14 2-27 9-7-1-14 6-6 0-14 3-7 1-14 6-20 2-20 7-14 0-14 3-7 4-41 10-13 7-14 4-7-3-6 0-7 3-7 6-14-1-13 1-14 4-14 13-6 0-7 8-7 2-7-11z"/></g>
<use href="#c57" fill="url(#ws)" stroke="#14ffeb" stroke-width="4"/>
<g fill="#00daff"><path id="c58" d="M689 935l7 11 7-2 7-8 6 0 14-13 14-4 13-1 14 1 7-6 7-3 6 0 7 3 14-4 13-7 41-10 7-4 14-3 14 0 20-7 20-2 14-6 7-1 14-3 6 0 14-6 7 1 27-9 14-2 20-8 28-3 6-3 21-3 20-7 7 0 7-2 14-6 13 0 27-8 14-5 14-3 13-4 28-4 13-6 14 0 14-5 6 0 14-5 7-1 7-3 13-3 28-7 6 0 14-5 14-2 13-5 14-1 27-9 28-5 13-5 34-7 6 47-34 8-14 6-27 6-27 9-14 1-13 5-75 19-48 15-14 1-13 6-28 5-68 21-13 1-14 6-14 2-20 7-55 12-20 8-14 3-27 8-7 0-13 6-28 5-13 6-21 3-20 8-14 1-13 2-7 4-41 11-14 7-13 4-14-1-7 2-6 6-14 0-14 2-13 4-14 11-7 0-7 7-6 3-7-8z"/></g>
<use href="#c58" fill="url(#ws)" stroke="#00daff" stroke-width="4"/>
<g fill="#00a2ff"><path id="c59" d="M696 1004l7 8 6-3 7-7 7 0 14-11 13-4 14-2 14 0 6-6 7-2 14 1 13-4 14-7 41-11 7-4 13-2 14-1 20-8 21-3 13-6 28-5 13-6 7 0 27-8 14-3 20-8 55-12 20-7 14-2 14-6 13-1 68-21 28-5 13-6 14-1 48-15 75-19 13-5 14-1 27-9 27-6 14-6 34-8 6 58-34 9-14 5-27 7-27 9-14 2-14 5-74 20-48 15-14 2-13 5-28 6-68 21-13 2-14 6-13 2-21 7-54 14-21 7-41 12-6 0-14 5-27 7-14 5-20 4-21 7-27 5-7 4-41 11-27 10-13 1-14 7-27 4-14 4-13 9-7 1-7 5-7 2-7-5z"/></g>
<use href="#c59" fill="url(#ws)" stroke="#00a2ff" stroke-width="4"/>
<g fill="#0079ff"><path id="c60" d="M702 1072l7 5 7-2 7-5 7-1 13-9 14-4 27-4 14-7 13-1 27-10 41-11 7-4 27-5 21-7 20-4 14-5 27-7 14-5 6 0 41-12 21-7 54-14 21-7 13-2 14-6 13-2 68-21 28-6 13-5 14-2 48-15 74-20 14-5 14-2 27-9 27-7 14-5 34-9 7 56-253 72-54 14-68 20-14 3-48 15-54 14-164 48-27 6-75 24-14 1-13 6-28 5-13 5-14 7-7 1-13 6-7-2z"/></g>
<use href="#c60" fill="url(#ws)" stroke="#0079ff" stroke-width="4"/>
<g fill="#05f"><path id="c61" d="M708 1131l7 2 13-6 7-1 14-7 13-5 28-5 13-6 14-1 75-24 27-6 164-48 54-14 48-15 14-3 68-20 54-14 253-72 7 38-656 183-27 7-76 23-13 2-14 5-27 6-14 4-14 6-6 2-14 5-7-1z"/></g>
<use href="#c61" fill="url(#ws)" stroke="#05f" stroke-width="4"/>
<g fill="#0043ff"><path id="c62" d="M713 1166l7 1 14-5 6-2 14-6 14-4 27-6 14-5 13-2 76-23 27-7 656-183 8 18-686 190-76 23-14 2-13 5-28 6-48 17-7-1z"/></g>
<use href="#c62" fill="url(#ws)" stroke="#0043ff" stroke-width="4"/>
<g fill="#0037ff"><path id="c63" d="M717 1184l7 1 48-17 28-6 13-5 14-2 76-23 686-190 7 12-688 191-76 23-14 2-13 5-28 7-48 16-7-1z"/></g>
<use href="#c63" fill="url(#ws)" stroke="#0037ff" stroke-width="4"/>
<g stroke="#0036ff" stroke-width="11.1"><path id="c64" d="M725 1201l7 0 48-16 27-6 14-5 14-3 76-23 689-192"/></g>
<use href="#c64" stroke="#fff" stroke-opacity="0.6" stroke-width="4.3" stroke-dasharray="3 3.8"/>
<g stroke="#03f" stroke-width="11.1"><path id="c65" d="M730 1208l7 0 49-16 27-7 14-5 14-2 76-23 689-196"/></g>
<use href="#c65" stroke="#fff" stroke-opacity="0.6" stroke-width="4.3" stroke-dasharray="3 3.8"/>
<g stroke="#0030ff" stroke-width="11.1"><path id="c66" d="M736 1215l7 0 48-16 28-7 104-31 690-198"/></g>
<use href="#c66" stroke="#fff" stroke-opacity="0.6" stroke-width="4.3" stroke-dasharray="3 3.8"/>
<g stroke="#002eff" stroke-width="8.9"><path id="c67" d="M742 1222l7 0 49-17 27-7 104-31 691-201"/></g>
<use href="#c67" stroke="#fff" stroke-opacity="0.6" stroke-width="2.9" stroke-dasharray="3 3.8"/>
<g stroke="#002cff" stroke-width="8.3"><path id="c68" d="M747 1224l7 0 48-16 28-7 103-32 691-201"/></g>
<use href="#c68" stroke="#fff" stroke-opacity="0.6" stroke-width="2.6" stroke-dasharray="3 3.8"/>
<g stroke="#0029ff" stroke-width="8.3"><path id="c69" d="M755 1229l7 0 48-17 28-7 103-31 690-202"/></g>
<use href="#c69" stroke="#fff" stroke-opacity="0.6" stroke-width="2.6" stroke-dasharray="3 3.8"/>
<g stroke="#0027ff" stroke-width="8.3"><path id="c70" d="M762 1233l7 0 48-17 27-7 104-31 689-204"/></g>
<use href="#c70" stroke="#fff" stroke-opacity="0.6" stroke-width="2.6" stroke-dasharray="3 3.8"/>
<g stroke="#0025ff" stroke-width="8.3"><path id="c71" d="M768 1237l7 0 48-17 28-7 103-32 688-204"/></g>
<use href="#c71" stroke="#fff" stroke-opacity="0.6" stroke-width="2.6" stroke-dasharray="3 3.8"/>
<g stroke="#02f" stroke-width="7.8"><path id="c72" d="M776 1241l6 0 49-17 27-7 103-32 688-205"/></g>
<use href="#c72" stroke="#fff" stroke-opacity="0.6" stroke-width="2.3" stroke-dasharray="3 3.8"/>
<g stroke="#0020ff" stroke-width="7.4"><path id="c73" d="M782 1243l7 0 48-17 27-7 103-32 687-204"/></g>
<use href="#c73" stroke="#fff" stroke-opacity="0.6" stroke-width="2" stroke-dasharray="3 3.8"/>
<g stroke="#001eff" stroke-width="7.4"><path id="c74" d="M789 1246l7 0 48-17 27-7 103-32 685-204"/></g>
<use href="#c74" stroke="#fff" stroke-opacity="0.6" stroke-width="2" stroke-dasharray="3 3.8"/>
<g stroke="#001cff" stroke-width="7.3"><path id="c75" d="M795 1248l7 0 48-17 27-7 103-31 684-205"/></g>
<use href="#c75" stroke="#fff" stroke-opacity="0.6" stroke-width="1.8" stroke-dasharray="3 3.8"/>
<g stroke="#001aff" stroke-width="7.3"><path id="c76" d="M802 1251l7 0 48-17 27-7 103-32 683-205"/></g>
<use href="#c76" stroke="#fff" stroke-opacity="0.6" stroke-width="1.7" stroke-dasharray="3 3.8"/>
<g stroke="#0017ff" stroke-width="7.3"><path id="c77" d="M809 1254l7 0 48-17 27-7 102-32 683-205"/></g>
<use href="#c77" stroke="#fff" stroke-opacity="0.6" stroke-width="1.7" stroke-dasharray="3 3.8"/>
<g stroke="#0015ff" stroke-width="7.3"><path id="c78" d="M816 1257l6 0 48-17 27-7 103-33 682-205"/></g>
<use href="#c78" stroke="#fff" stroke-opacity="0.6" stroke-width="1.7" stroke-dasharray="3 3.8"/>
<g stroke="#0013ff" stroke-width="7.2"><path id="c79" d="M822 1259l7 0 48-17 27-7 102-32 681-206"/></g>
<use href="#c79" stroke="#fff" stroke-opacity="0.6" stroke-width="1.7" stroke-dasharray="3 3.8"/>
<g stroke="#01f" stroke-width="6.4"><path id="c80" d="M829 1261l7 0 48-17 27-7 102-32 680-206"/></g>
<use href="#c80" stroke="#fff" stroke-opacity="0.6" stroke-width="1.2" stroke-dasharray="3 3.8"/>
<g stroke="#000fff" stroke-width="6.4"><path id="c81" d="M836 1263l7 0 47-17 27-7 14-5 14-3 74-24 679-206"/></g>
<use href="#c81" stroke="#fff" stroke-opacity="0.6" stroke-width="1.2" stroke-dasharray="3 3.8"/>
<g stroke="#000dff" stroke-width="6.4"><path id="c82" d="M843 1264l7 0 47-17 27-7 14-5 13-3 75-24 678-205"/></g>
<use href="#c82" stroke="#fff" stroke-opacity="0.6" stroke-width="1.2" stroke-dasharray="3 3.8"/>
<g stroke="#000aff" stroke-width="6.2"><path id="c83" d="M851 1266l7 0 47-17 27-7 14-5 13-3 74-24 677-205"/></g>
<g stroke="#0009ff" stroke-width="5.6"><path id="c84" d="M854 1267l7 0 48-17 27-7 13-5 14-3 74-24 676-206"/></g>
<g stroke="#0007ff" stroke-width="5.4"><path id="c85" d="M863 1268l7 0 47-18 27-6 14-6 13-3 74-24 676-206"/></g>
<g stroke="#0005ff" stroke-width="5.4"><path id="c86" d="M870 1268l6 1 48-18 27-7 13-5 14-3 74-25 674-207"/></g>
<g stroke="#0003ff" stroke-width="5.4"><path id="c87" d="M876 1269l7 0 47-18 27-6 14-6 13-3 74-24 674-208"/></g>
<g stroke="#00f" stroke-width="6.1"><path id="c88" d="M884 1269l6 1 47-18 27-7 14-6 13-2 74-25 27-7 646-202"/></g>
<g stroke="#0000fc" stroke-width="8.7"><path id="c89" d="M888 1273l7 0 47-18 27-7 14-5 13-3 74-25 27-7 648-202"/></g>
<use href="#c89" stroke="#fff" stroke-opacity="0.6" stroke-width="3.4" stroke-dasharray="3 3.8"/>
<g stroke="#0000f8" stroke-width="8.7"><path id="c90" d="M893 1278l7 0 47-18 27-7 14-5 13-3 75-25 676-210"/></g>
<use href="#c90" stroke="#fff" stroke-opacity="0.6" stroke-width="3.4" stroke-dasharray="3 3.8"/>
<g fill="#0000f2"><path id="c91" d="M895 1280l7 0 47-18 28-7 13-5 14-3 74-25 678-210 7 8-679 209-75 24-13 3-14 6-27 7-48 18-6-1z"/></g>
<use href="#c91" fill="url(#ws)" stroke="#0000f2" stroke-width="4"/>
<g fill="#0000eb"><path id="c92" d="M901 1286l6 1 48-18 27-7 14-6 13-3 75-24 679-209 7 12-681 208-74 24-14 3-14 5-27 7-48 17-6 0z"/></g>
<use href="#c92" fill="url(#ws)" stroke="#0000eb" stroke-width="4"/>
<g fill="#0000e4"><path id="c93" d="M906 1296l6 0 48-17 27-7 14-5 14-3 74-24 681-208 7 14-682 205-102 32-28 7-47 17-7 0z"/></g>
<use href="#c93" fill="url(#ws)" stroke="#0000e4" stroke-width="4"/>
<g fill="#00d"><path id="c94" d="M911 1307l7 0 47-17 28-7 102-32 682-205 7 15-785 234-28 7-47 16-7 1z"/></g>
<use href="#c94" fill="url(#ws)" stroke="#00d" stroke-width="4"/>
<g fill="#0000d6"><path id="c95" d="M917 1319l7-1 47-16 28-7 785-234 7 14-814 238-48 16-6 0z"/></g>
<use href="#c95" fill="url(#ws)" stroke="#0000d6" stroke-width="4"/>
<g fill="#0000d0"><path id="c96" d="M923 1329l6 0 48-16 814-238 7 11-816 236-48 15-7 1z"/></g>
<use href="#c96" fill="url(#ws)" stroke="#0000d0" stroke-width="4"/>
<g fill="#0000ca"><path id="c97" d="M927 1338l7-1 48-15 816-236 7 11-818 234-48 15-7 1z"/></g>
<use href="#c97" fill="url(#ws)" stroke="#0000ca" stroke-width="4"/>
<g fill="#0000c5"><path id="c98" d="M932 1347l7-1 48-15 818-234 7 8-819 233-48 15-7 1z"/></g>
<use href="#c98" fill="url(#ws)" stroke="#0000c5" stroke-width="4"/>
<g stroke="#0000c4" stroke-width="10.1"><path id="c99" d="M941 1357l7-1 48-15 819-233"/></g>
<use href="#c99" stroke="#fff" stroke-opacity="0.6" stroke-width="4.5" stroke-dasharray="3 3.8"/>
<g stroke="#0000c0" stroke-width="10.1"><path id="c100" d="M948 1363l7-1 48-15 818-234"/></g>
<use href="#c100" stroke="#fff" stroke-opacity="0.6" stroke-width="4.5" stroke-dasharray="3 3.8"/>
<g stroke="#0000bd" stroke-width="10.1"><path id="c101" d="M954 1369l7-1 48-15 817-235"/></g>
<use href="#c101" stroke="#fff" stroke-opacity="0.6" stroke-width="4.5" stroke-dasharray="3 3.8"/>
<g stroke="#0000b9" stroke-width="10.1"><path id="c102" d="M961 1374l7 0 48-16 816-235"/></g>
<use href="#c102" stroke="#fff" stroke-opacity="0.6" stroke-width="4.5" stroke-dasharray="3 3.8"/>
<g stroke="#0000b6" stroke-width="10.1"><path id="c103" d="M968 1380l6-1 48-15 816-236"/></g>
<use href="#c103" stroke="#fff" stroke-opacity="0.6" stroke-width="4.5" stroke-dasharray="3 3.8"/>
<g stroke="#0000b2" stroke-width="10.1"><path id="c104" d="M975 1387l869-254"/></g>
<use href="#c104" stroke="#fff" stroke-opacity="0.6" stroke-width="4.4" stroke-dasharray="3 3.8"/>
<g stroke="#0000af" stroke-width="10.1"><path id="c105" d="M980 1392l870-255"/></g>
<use href="#c105" stroke="#fff" stroke-opacity="0.6" stroke-width="4.3" stroke-dasharray="3 3.8"/>
<g stroke="#0000ac" stroke-width="10.1"><path id="c106" d="M987 1398l869-256"/></g>
<use href="#c106" stroke="#fff" stroke-opacity="0.6" stroke-width="4.3" stroke-dasharray="3 3.8"/>
<g stroke="#0000a8" stroke-width="10.1"><path id="c107" d="M993 1403l869-256"/></g>
<use href="#c107" stroke="#fff" stroke-opacity="0.6" stroke-width="4.3" stroke-dasharray="3 3.8"/>
<g stroke="#0000a5" stroke-width="10.1"><path id="c108" d="M1000 1409l868-258"/></g>
<use href="#c108" stroke="#fff" stroke-opacity="0.6" stroke-width="4.3" stroke-dasharray="3 3.8"/>
<g stroke="#0000a2" stroke-width="10.1"><path id="c109" d="M1006 1415l868-259"/></g>
<use href="#c109" stroke="#fff" stroke-opacity="0.6" stroke-width="4.3" stroke-dasharray="3 3.8"/>
<g stroke="#00009e" stroke-width="10.1"><path id="c110" d="M1012 1421l868-260"/></g>
<use href="#c110" stroke="#fff" stroke-opacity="0.6" stroke-width="4.3" stroke-dasharray="3 3.8"/>
<g stroke="#00009b" stroke-width="10.1"><path id="c111" d="M1019 1427l867-262"/></g>
<use href="#c111" stroke="#fff" stroke-opacity="0.6" stroke-width="4.3" stroke-dasharray="3 3.8"/>
<g stroke="#000098" stroke-width="9.6"><path id="c112" d="M1024 1431l866-262"/></g>
<use href="#c112" stroke="#fff" stroke-opacity="0.6" stroke-width="4" stroke-dasharray="3 3.8"/>
<g stroke="#000094" stroke-width="9.2"><path id="c113" d="M1032 1437l865-263"/></g>
<use href="#c113" stroke="#fff" stroke-opacity="0.6" stroke-width="3.7" stroke-dasharray="3 3.8"/>
<g stroke="#000091" stroke-width="9.2"><path id="c114" d="M1038 1442l865-263"/></g>
<use href="#c114" stroke="#fff" stroke-opacity="0.6" stroke-width="3.7" stroke-dasharray="3 3.8"/>
<g stroke="#00008e" stroke-width="9.2"><path id="c115" d="M1045 1446l863-263"/></g>
<use href="#c115" stroke="#fff" stroke-opacity="0.6" stroke-width="3.7" stroke-dasharray="3 3.8"/>
<g stroke="#00008b" stroke-width="9.2"><path id="c116" d="M1052 1451l862-263"/></g>
<use href="#c116" stroke="#fff" stroke-opacity="0.6" stroke-width="3.7" stroke-dasharray="3 3.8"/>
<g stroke="#008" stroke-width="9.2"><path id="c117" d="M1058 1456l862-264"/></g>
<use href="#c117" stroke="#fff" stroke-opacity="0.6" stroke-width="3.7" stroke-dasharray="3 3.8"/>
<g stroke="#000084" stroke-width="9.2"><path id="c118" d="M1065 1461l860-265"/></g>
<use href="#c118" stroke="#fff" stroke-opacity="0.6" stroke-width="3.7" stroke-dasharray="3 3.8"/>
<g stroke="#000081" stroke-width="9.2"><path id="c119" d="M1072 1465l859-264"/></g>
<use href="#c119" stroke="#fff" stroke-opacity="0.6" stroke-width="3.7" stroke-dasharray="3 3.8"/>
</g></g>
<path d="M123.8 168.8L123.8 579.4L489.4 766.9L966.2 622.5M123.8 579.4L110.8 572.8M123.8 476.8L110.8 470.1M123.8 374.1L110.8 367.5M123.8 271.4L110.8 264.8M123.8 168.8L110.8 162.2M489.4 766.9L475.5 771.1M367.5 704.4L353.6 708.6M245.6 641.9L231.8 646.1M123.8 579.4L109.9 583.6M489.4 766.9L502.3 773.5M584.8 738L597.7 744.6M680.1 709.1L693 715.8M775.5 680.3L788.4 686.9M870.9 651.4L883.8 658M966.2 622.5L979.2 629.1" stroke="#262626" stroke-width="3" fill="none" stroke-linejoin="miter"/>
<g font-family="'Liberation Serif','Times New Roman',serif" font-weight="bold" font-size="28" fill="#1a1a1a"><text x="104.5" y="579.6" text-anchor="end">0</text>
<text x="104.5" y="476.9" text-anchor="end">0.02</text>
<text x="104.5" y="374.3" text-anchor="end">0.04</text>
<text x="104.5" y="271.6" text-anchor="end">0.06</text>
<text x="104.5" y="169" text-anchor="end">0.08</text>
<text x="469.2" y="798.9" text-anchor="end">400</text>
<text x="347.3" y="736.4" text-anchor="end">600</text>
<text x="225.5" y="673.9" text-anchor="end">800</text>
<text x="103.6" y="611.4" text-anchor="end">1000</text>
<text x="510.3" y="802.5">0</text>
<text x="605.7" y="773.6">2000</text>
<text x="701" y="744.8">4000</text>
<text x="796.4" y="715.9">6000</text>
<text x="891.8" y="687">8000</text>
<text x="987.2" y="658.1">10,000</text>
<text transform="translate(194 747) rotate(27.6)" text-anchor="middle" font-size="29" letter-spacing="0.6">Wavelength/nm</text>
<text transform="translate(841 774) rotate(-16.4)" text-anchor="middle" font-size="29" letter-spacing="0.6">Number of pixels</text>
<text transform="translate(42 373) rotate(-90)" text-anchor="middle" font-size="28">RMSE</text>
<text x="41.5" y="90" font-size="55">(c)</text></g>
</g>
<g transform="translate(1047.5 790)">
<path d="M584.8 738L219.1 550.5M680.1 709.1L314.5 521.6M775.5 680.3L409.9 492.8M870.9 651.4L505.2 463.9M966.2 622.5L600.6 435M367.5 704.4L844.4 560M245.6 641.9L722.5 497.5M123.8 579.4L600.6 435M219.1 550.5L219.1 139.9M314.5 521.6L314.5 111M409.9 492.8L409.9 82.2M505.2 463.9L505.2 53.3M600.6 435L600.6 24.4M123.8 511L600.6 366.6M123.8 442.5L600.6 298.1M123.8 374.1L600.6 229.7M123.8 305.7L600.6 161.3M123.8 237.2L600.6 92.8M123.8 168.8L600.6 24.4M966.2 622.5L966.2 211.9M844.4 560L844.4 149.4M722.5 497.5L722.5 86.9M966.2 554.1L600.6 366.6M966.2 485.6L600.6 298.1M966.2 417.2L600.6 229.7M966.2 348.8L600.6 161.3M966.2 280.3L600.6 92.8M966.2 211.9L600.6 24.4" stroke="#cdcdcd" stroke-width="2" fill="none"/>
<defs><linearGradient id="dg1"><stop stop-color="#930000"/><stop offset="1" stop-color="#860000"/></linearGradient><linearGradient id="dg2"><stop stop-color="#970000"/><stop offset="1" stop-color="#870000"/></linearGradient><linearGradient id="dg3"><stop stop-color="#9a0000"/><stop offset="1" stop-color="#800"/></linearGradient><linearGradient id="dg4"><stop stop-color="#9d0000"/><stop offset="1" stop-color="#890000"/></linearGradient><linearGradient id="dg5"><stop stop-color="#ac0000"/><stop offset="1" stop-color="#980000"/></linearGradient><linearGradient id="dg6"><stop stop-color="#ba0000"/><stop offset="1" stop-color="#a60000"/></linearGradient><linearGradient id="dg7"><stop stop-color="#c80000"/><stop offset="1" stop-color="#b40000"/></linearGradient><linearGradient id="dg8"><stop stop-color="#d30000"/><stop offset="1" stop-color="#c70000"/></linearGradient><linearGradient id="dg9"><stop stop-color="#fcff03"/><stop offset=".12" stop-color="#ff0"/><stop offset="1" stop-color="#ffe900"/></linearGradient><linearGradient id="dg10"><stop stop-color="#e5ff1a"/><stop offset=".83" stop-color="#ff0"/><stop offset="1" stop-color="#fffa00"/></linearGradient><linearGradient id="dg11"><stop stop-color="#e7ff18"/><stop offset=".78" stop-color="#ff0"/><stop offset="1" stop-color="#fff800"/></linearGradient><linearGradient id="dg12"><stop stop-color="#eaff15"/><stop offset=".70" stop-color="#ff0"/><stop offset="1" stop-color="#fff600"/></linearGradient><linearGradient id="dg13"><stop stop-color="#ebff14"/><stop offset=".64" stop-color="#ff0"/><stop offset="1" stop-color="#fff400"/></linearGradient><linearGradient id="dg14"><stop stop-color="#ef1"/><stop offset=".55" stop-color="#ff0"/><stop offset="1" stop-color="#fff100"/></linearGradient><linearGradient id="dg15"><stop stop-color="#e5ff1a"/><stop offset=".85" stop-color="#ff0"/><stop offset="1" stop-color="#fffa00"/></linearGradient><linearGradient id="dg16"><stop stop-color="#b9ff46"/><stop offset="1" stop-color="#d8ff27"/></linearGradient><linearGradient id="dg17"><stop stop-color="#a8ff57"/><stop offset="1" stop-color="#c7ff38"/></linearGradient><linearGradient id="dg18"><stop stop-color="#a6ff59"/><stop offset="1" stop-color="#c7ff38"/></linearGradient><linearGradient id="dg19"><stop stop-color="#a3ff5c"/><stop offset="1" stop-color="#c7ff38"/></linearGradient><linearGradient id="dg20"><stop stop-color="#a0ff5f"/><stop offset="1" stop-color="#c7ff38"/></linearGradient><linearGradient id="dg21"><stop stop-color="#9bff64"/><stop offset="1" stop-color="#c4ff3b"/></linearGradient><linearGradient id="dg22"><stop stop-color="#8eff71"/><stop offset="1" stop-color="#b9ff46"/></linearGradient><linearGradient id="dg23"><stop stop-color="#84ff7b"/><stop offset="1" stop-color="#b1ff4e"/></linearGradient><linearGradient id="dg24"><stop stop-color="#7aff85"/><stop offset=".12" stop-color="#80ff80"/><stop offset="1" stop-color="#a9ff56"/></linearGradient><linearGradient id="dg25"><stop stop-color="#70ff8f"/><stop offset=".32" stop-color="#80ff80"/><stop offset="1" stop-color="#a0ff5f"/></linearGradient><linearGradient id="dg26"><stop stop-color="#6f9"/><stop offset=".51" stop-color="#80ff80"/><stop offset="1" stop-color="#98ff67"/></linearGradient><linearGradient id="dg27"><stop stop-color="#4bffb4"/><stop offset=".92" stop-color="#80ff80"/><stop offset="1" stop-color="#84ff7b"/></linearGradient><linearGradient id="dg28"><stop stop-color="#1cffe3"/><stop offset="1" stop-color="#63ff9c"/></linearGradient><linearGradient id="dg29"><stop stop-color="#00f9ff"/><stop offset=".07" stop-color="#0ff"/><stop offset="1" stop-color="#49ffb6"/></linearGradient><linearGradient id="dg30"><stop stop-color="#00d8ff"/><stop offset=".45" stop-color="#0ff"/><stop offset="1" stop-color="#30ffcf"/></linearGradient><linearGradient id="dg31"><stop stop-color="#00c5ff"/><stop offset=".64" stop-color="#0ff"/><stop offset="1" stop-color="#21ffde"/></linearGradient><linearGradient id="dg32"><stop stop-color="#00c1ff"/><stop offset=".70" stop-color="#0ff"/><stop offset="1" stop-color="#1affe5"/></linearGradient><linearGradient id="dg33"><stop stop-color="#00bcff"/><stop offset=".77" stop-color="#0ff"/><stop offset="1" stop-color="#14ffeb"/></linearGradient><linearGradient id="dg34"><stop stop-color="#00b8ff"/><stop offset=".84" stop-color="#0ff"/><stop offset="1" stop-color="#0efff1"/></linearGradient><linearGradient id="dg35"><stop stop-color="#00b4ff"/><stop offset=".91" stop-color="#0ff"/><stop offset="1" stop-color="#08fff7"/></linearGradient><linearGradient id="dg36"><stop stop-color="#00b2ff"/><stop offset=".94" stop-color="#0ff"/><stop offset="1" stop-color="#05fffa"/></linearGradient><linearGradient id="dg37"><stop stop-color="#00b0ff"/><stop offset=".97" stop-color="#0ff"/><stop offset="1" stop-color="#03fffc"/></linearGradient><linearGradient id="dg38"><stop stop-color="#00aeff"/><stop offset="1.00" stop-color="#0ff"/><stop offset="1" stop-color="#0ff"/></linearGradient><linearGradient id="dg39"><stop stop-color="#00abff"/><stop offset="1" stop-color="#00fdff"/></linearGradient><linearGradient id="dg40"><stop stop-color="#00a9ff"/><stop offset="1" stop-color="#00fbff"/></linearGradient><linearGradient id="dg41"><stop stop-color="#009cff"/><stop offset="1" stop-color="#00eaff"/></linearGradient><linearGradient id="dg42"><stop stop-color="#0091ff"/><stop offset="1" stop-color="#00dbff"/></linearGradient><linearGradient id="dg43"><stop stop-color="#0087ff"/><stop offset="1" stop-color="#0cf"/></linearGradient><linearGradient id="dg44"><stop stop-color="#007cff"/><stop offset=".05" stop-color="#0080ff"/><stop offset="1" stop-color="#0bf"/></linearGradient><linearGradient id="dg45"><stop stop-color="#0072ff"/><stop offset=".25" stop-color="#0080ff"/><stop offset="1" stop-color="#00a9ff"/></linearGradient><linearGradient id="dg46"><stop stop-color="#0068ff"/><stop offset=".44" stop-color="#0080ff"/><stop offset="1" stop-color="#009dff"/></linearGradient><linearGradient id="dg47"><stop stop-color="#0064ff"/><stop offset=".50" stop-color="#0080ff"/><stop offset="1" stop-color="#009cff"/></linearGradient><linearGradient id="dg48"><stop stop-color="#005bff"/><stop offset=".59" stop-color="#0080ff"/><stop offset="1" stop-color="#09f"/></linearGradient><linearGradient id="dg49"><stop stop-color="#0053ff"/><stop offset=".66" stop-color="#0080ff"/><stop offset="1" stop-color="#0096ff"/></linearGradient><linearGradient id="dg50"><stop stop-color="#004aff"/><stop offset=".73" stop-color="#0080ff"/><stop offset="1" stop-color="#0093ff"/></linearGradient><linearGradient id="dg51"><stop stop-color="#0042ff"/><stop offset=".78" stop-color="#0080ff"/><stop offset="1" stop-color="#0090ff"/></linearGradient><linearGradient id="dg52"><stop stop-color="#003aff"/><stop offset=".83" stop-color="#0080ff"/><stop offset="1" stop-color="#008eff"/></linearGradient><linearGradient id="dg53"><stop stop-color="#0030ff"/><stop offset=".88" stop-color="#0080ff"/><stop offset="1" stop-color="#008bff"/></linearGradient><linearGradient id="dg54"><stop stop-color="#003aff"/><stop offset="1" stop-color="#0072ff"/></linearGradient><linearGradient id="dg55"><stop stop-color="#0045ff"/><stop offset="1" stop-color="#005cff"/></linearGradient><clipPath id="dc"><path d="M600 -50L600 77.5L627.5 78.8L640 100L650 125L655 142.5L662.5 155L682.5 170L707.5 180L722.5 195L738 206L748.8 197.5L752.5 249L771.2 246L775 272.5L791.2 268.8L796.2 300L807.5 301L828 325L832.5 355L840 385L855 405L867.5 410L875 427.5L885 450L905 457.5L915 480L932.5 505L947.5 530L967.5 565L967.5 571L536.5 701L536.8 695.7L517.3 666.7L501.8 643.2L489.3 622.7L481.8 610.7L457.3 592.7L449.3 580.7L439.3 560.7L424.3 553.7L409.3 530.7L401.8 490.7L396.8 455.7L379.3 428.7L366.3 425.7L361.3 395.3L344.3 404.7L340.3 367.7L321.8 377.7L319.3 338.2L309.3 358.2L289.3 338.7L264.3 323.2L241.8 308.2L226.8 290.7L223.3 280.7L219.3 270.7L212.3 255.7L206.8 240.7L173.1 225.7L173.1 -50z"/></clipPath></defs>
<g clip-path="url(#dc)"><g transform="scale(0.5)" fill="none" stroke-linejoin="round">
<g stroke="#810000" stroke-width="7.6"><path id="d1" d="M351 401l7 37 6-4 7-22 7 8 13-34 7-3 7 19 6-2 7-20 13-17 7 1 7 9 7-5 6-12 14 19 6-1 7-10 7-4 6 0 7-3 14-11 6-4 14 13 6-8 7 2 7-2 7 0 6-6 7-2 7-11 6-6 14 4 6 5 14-12 13-3 14 1 6-5 7-2 7-8 7 3 20-8 6 1 7-4 7-2 7-5 6 0 14 1 6-6 14-7 6 3 14-6 13-2 20 0 21-17 33-5 13-8 7 4 7-1 7-9 6 0 7-2 13 1 7-9 7-1 7 0 6-1 14 2 20-14 13-1 7-3 7 2 13-9 13 7 7-4 14-12 6-3 7 4 13-7 14 4 7-10 6-6 7-1 7 5 6-2 14-12 13-2 7-4 7-1 6 4 14-4"/></g>
<use href="#d1" stroke="#fff" stroke-opacity="0.6" stroke-width="0.9" stroke-dasharray="3 3.8"/>
<g stroke="#830000" stroke-width="7.6"><path id="d2" d="M358 404l6 37 7-4 7-22 6 8 14-34 7-3 6 19 7-2 7-21 13-17 7 2 6 9 7-5 7-12 13 19 7-2 7-10 6-4 7 1 7-4 13-11 7-3 13 12 7-8 7 3 6-3 7 0 7-6 6-2 7-11 7-5 13 3 7 5 13-12 14-3 13 1 7-5 6-2 7-8 7 3 20-8 7 1 6-5 7-1 7-5 6-1 14 2 7-6 13-7 7 2 13-5 13-2 21 0 20-17 33-6 13-8 7 4 7-1 7-9 6 0 7-2 13 1 7-8 7-2 6 0 7-1 14 2 20-14 13-1 7-4 6 2 14-8 13 6 7-3 13-12 7-3 7 4 13-7 14 4 6-11 7-5 7-1 6 5 7-2 13-13 14-1 6-5 7-1 7 4 13-4"/></g>
<use href="#d2" stroke="#fff" stroke-opacity="0.6" stroke-width="0.9" stroke-dasharray="3 3.8"/>
<g stroke="#850000" stroke-width="7.6"><path id="d3" d="M364 407l7 37 7-4 6-22 7 8 14-34 6-3 7 18 7-1 6-21 14-17 6 2 7 9 7-6 6-12 14 20 7-2 6-10 7-4 7 0 6-3 14-11 6-4 14 13 6-9 7 3 7-3 6 0 7-6 7-2 7-10 6-6 14 3 6 5 14-12 13-3 13 1 7-5 7-2 6-8 7 3 20-8 7 1 7-5 6-1 7-5 7-1 13 2 7-6 13-8 7 3 13-6 14-2 20 0 20-17 33-6 13-8 7 5 7-2 7-8 6 0 7-3 13 1 7-8 7-2 6 0 7-1 13 2 20-14 14-1 7-4 6 2 14-8 13 6 7-3 13-13 7-2 6 4 14-8 13 4 7-10 7-6 6-1 7 5 7-2 13-13 13-1 7-5 7-1 6 5 14-4"/></g>
<use href="#d3" stroke="#fff" stroke-opacity="0.6" stroke-width="0.9" stroke-dasharray="3 3.8"/>
<g stroke="#870000" stroke-width="7.6"><path id="d4" d="M371 410l7 37 7-4 6-22 7 8 13-34 7-4 7 19 6-1 7-21 13-17 7 1 7 9 6-5 7-12 13 19 7-1 7-10 6-4 7 0 7-4 13-11 7-3 13 12 7-8 7 2 6-2 7 0 7-6 6-3 7-10 7-6 13 3 7 5 13-12 13-3 14 1 6-5 7-2 7-8 6 2 20-7 7 1 7-5 6-2 7-5 7 0 13 2 7-7 13-7 7 3 13-6 14-2 20-1 20-17 33-5 13-8 7 4 7-2 6-8 7 0 7-3 13 1 7-8 7-2 6 0 7-1 13 2 20-14 14-2 6-3 7 2 13-8 14 6 6-3 14-13 6-3 7 4 13-7 14 4 6-11 7-5 7-1 7 5 6-3 14-12 13-2 7-4 6-1 7 4 13-4"/></g>
<use href="#d4" stroke="#fff" stroke-opacity="0.6" stroke-width="0.9" stroke-dasharray="3 3.8"/>
<g stroke="#890000" stroke-width="7.6"><path id="d5" d="M378 413l7 37 6-4 7-22 7 8 13-34 7-4 6 19 7-1 7-21 13-18 7 2 6 9 7-5 7-12 13 19 7-2 6-10 7-4 7 0 6-3 14-12 6-3 14 12 6-8 7 3 7-3 6 0 7-6 7-2 6-11 7-6 13 3 7 5 13-11 14-4 13 1 7-5 6-2 7-8 7 2 20-7 6 0 7-4 7-2 6-5 7 0 13 1 7-6 13-8 7 3 13-5 14-3 20 0 20-17 33-6 13-8 7 4 7-1 6-9 7 0 7-2 13 0 7-8 6-2 7 1 7-2 13 2 20-14 13-2 7-3 7 2 13-9 13 7 7-4 13-12 7-3 7 4 13-8 13 4 7-10 7-6 6-1 7 5 7-2 13-13 13-1 7-5 7-1 6 4 14-4"/></g>
<use href="#d5" stroke="#fff" stroke-opacity="0.6" stroke-width="0.9" stroke-dasharray="3 3.8"/>
<g stroke="#8b0000" stroke-width="7.6"><path id="d6" d="M385 416l6 37 7-5 7-22 6 9 14-35 6-3 7 19 7-2 6-21 14-17 6 2 7 9 7-6 6-12 14 19 6-1 7-10 7-4 6 0 7-4 13-11 7-4 13 13 7-8 6 2 7-3 7 0 6-6 7-2 7-11 6-6 14 3 6 5 14-11 13-4 13 1 7-5 7-2 6-8 7 2 20-7 7 0 6-4 7-2 7-5 6-1 14 2 6-6 14-8 6 3 14-6 13-2 20-1 20-17 33-6 13-8 7 4 7-1 6-9 7 0 7-2 13 0 7-8 6-2 7 1 7-2 13 2 20-14 13-2 7-3 7 2 13-9 13 6 7-3 13-13 7-2 6 4 14-8 13 4 7-11 6-6 7 0 7 5 6-3 14-12 13-2 7-5 6-1 7 5 13-5"/></g>
<use href="#d6" stroke="#fff" stroke-opacity="0.6" stroke-width="0.9" stroke-dasharray="3 3.8"/>
<g stroke="url(#dg1)" stroke-width="7.6"><path id="d7" d="M392 419l6 37 7-5 6-22 7 9 13-35 7-3 7 19 6-2 7-21 13-17 7 1 7 9 6-5 7-12 13 19 7-2 6-10 7-4 7 0 6-3 14-12 6-3 14 12 6-8 7 2 7-2 6 0 7-7 7-2 6-11 7-5 13 3 7 4 13-11 13-4 14 1 6-5 7-2 7-8 6 2 20-8 7 1 7-5 6-1 7-5 6-1 14 2 6-7 14-7 6 2 14-5 13-3 20 0 20-17 33-7 13-8 7 4 7-1 6-9 7 0 7-2 13 0 7-8 6-2 7 1 7-2 13 2 20-14 13-2 7-3 6 1 14-8 13 6 7-3 13-13 7-3 6 4 13-7 14 4 6-11 7-6 7-1 6 5 7-2 13-13 14-1 6-5 7-1 7 4 13-4"/></g>
<use href="#d7" stroke="#fff" stroke-opacity="0.6" stroke-width="0.9" stroke-dasharray="3 3.8"/>
<g stroke="url(#dg2)" stroke-width="7.6"><path id="d8" d="M398 422l7 37 7-5 6-22 7 9 13-35 7-3 6 18 7-1 7-21 13-17 7 1 6 9 7-5 7-13 13 20 6-2 7-10 7-4 6 0 7-4 13-11 7-4 13 13 7-9 6 3 7-3 7 0 6-6 7-3 7-10 6-6 14 3 6 5 13-12 14-4 13 1 7-5 6-2 7-8 7 2 19-8 7 1 7-5 6-1 7-5 7-1 13 1 7-6 13-8 7 3 13-6 13-2 20-1 20-17 33-6 13-8 7 4 7-2 6-8 7-1 7-2 13 0 6-8 7-2 7 1 6-2 14 2 20-14 13-2 7-3 6 1 13-8 14 6 6-4 14-12 6-3 7 4 13-8 13 4 7-11 7-6 6 0 7 5 7-3 13-13 13-1 7-5 6-1 7 4 13-4"/></g>
<use href="#d8" stroke="#fff" stroke-opacity="0.6" stroke-width="0.9" stroke-dasharray="3 3.8"/>
<g stroke="url(#dg3)" stroke-width="7.6"><path id="d9" d="M405 425l7 37 6-5 7-22 7 9 13-35 6-3 7 18 7-1 6-21 14-18 6 2 7 9 6-6 7-12 13 19 7-1 7-11 6-4 7 0 7-3 13-12 6-3 14 12 6-8 7 2 7-3 6 0 7-6 6-2 7-11 7-6 13 3 7 5 13-12 13-4 13 1 7-5 7-2 6-8 7 2 20-8 6 1 7-5 7-2 6-5 7-1 13 2 7-6 13-8 7 3 13-6 13-3 20 0 20-18 33-6 13-8 7 4 7-2 6-8 7 0 6-3 14 1 6-9 7-2 7 1 6-2 14 2 19-15 14-1 6-4 7 2 13-8 13 6 7-4 13-13 7-3 7 5 13-8 13 4 7-11 6-6 7-1 7 5 6-2 14-13 13-2 6-5 7-1 7 4 13-4"/></g>
<use href="#d9" stroke="#fff" stroke-opacity="0.6" stroke-width="0.9" stroke-dasharray="3 3.8"/>
<g stroke="url(#dg4)" stroke-width="7.8"><path id="d10" d="M412 428l7 37 6-5 7-22 7 9 13-35 6-4 7 19 7-1 6-21 14-18 6 2 7 9 6-6 7-12 13 19 7-2 6-10 7-4 7 0 6-4 14-11 6-4 13 13 7-9 7 3 6-3 7 0 7-7 6-2 7-11 6-6 14 3 6 5 13-12 14-3 13 0 7-5 6-2 7-8 6 2 20-8 7 1 6-5 7-2 7-5 6-1 14 2 6-6 13-8 7 2 13-5 14-3 19-1 20-17 33-7 14-8 6 4 7-1 6-9 7 0 7-3 13 1 7-9 6-2 7 1 6-2 14 2 19-15 14-1 6-4 7 2 13-9 13 7 7-4 13-13 7-3 7 4 13-8 13 4 7-11 6-6 7 0 6 5 7-3 13-13 14-1 6-6 7-1 6 5 14-5"/></g>
<use href="#d10" stroke="#fff" stroke-opacity="0.6" stroke-width="1.3" stroke-dasharray="3 3.8"/>
<g fill="url(#dg5)"><path id="d11" d="M415 429l7 38 6-5 7-22 7 8 13-35 6-3 7 19 7-2 6-21 14-17 6 1 7 9 6-5 7-13 13 19 7-1 6-11 7-4 7 1 6-4 14-12 6-3 13 12 7-9 7 3 6-3 7 0 6-6 7-3 7-11 6-5 14 2 6 5 13-12 14-3 13 1 6-6 7-2 7-8 6 2 20-8 7 1 6-5 7-2 7-5 6-1 13 2 7-6 13-8 7 2 13-5 13-3 20 0 20-18 33-7 13-8 7 4 7-1 6-9 7 0 6-3 14 1 6-9 7-2 7 1 6-2 13 2 20-15 13-2 7-3 7 2 13-9 13 6 7-3 13-13 7-3 6 4 13-8 14 4 6-11 7-6 7-1 6 5 7-2 13-13 13-2 7-5 6-1 7 4 13-4 9 14-13 5-7-4-7 1-6 5-14 1-13 13-7 2-6-5-7 1-7 6-6 11-14-4-13 8-7-4-6 3-14 13-6 3-14-6-13 9-6-2-7 3-13 2-20 14-14-1-6 1-7-1-7 3-6 8-14 0-6 2-7 0-7 9-6 1-7-4-13 9-33 6-20 17-20 1-14 2-13 6-7-2-13 7-7 7-13-2-7 1-6 5-7 2-7 4-6 0-20 8-7-3-6 8-7 2-7 6-13-1-13 3-14 12-6-5-14-2-6 5-7 11-7 2-6 7-7 0-7 3-6-3-7 8-13-12-7 4-13 11-7 4-6 0-7 4-7 10-6 2-14-19-6 12-7 5-7-8-6-2-14 17-6 21-7 2-7-19-6 4-14 34-6-8-7 22-6 4-7-37z"/></g>
<use href="#d11" fill="url(#ws)" stroke="url(#dg5)" stroke-width="4"/>
<g fill="url(#dg6)"><path id="d12" d="M419 440l7 37 6-4 7-22 6 8 14-34 6-4 7 19 7-2 6-21 14-17 6 2 7 8 7-5 6-12 14 19 6-2 7-10 7-4 6 0 7-4 13-11 7-4 13 12 7-8 6 3 7-3 7 0 6-7 7-2 7-11 6-5 14 2 6 5 14-12 13-3 13 1 7-6 7-2 6-8 7 3 20-8 6 0 7-4 7-2 6-5 7-1 13 2 7-7 13-7 7 2 13-6 14-2 20-1 20-17 33-6 13-9 7 4 6-1 7-9 7 0 6-2 14 0 6-8 7-3 7 1 6-1 14 1 20-14 13-2 7-3 6 2 13-9 14 6 6-3 14-13 6-3 7 4 13-8 14 4 6-11 7-6 7-1 6 5 7-2 13-13 14-1 6-5 7-1 7 4 13-5 8 15-13 4-7-4-6 1-7 5-13 2-14 12-7 3-6-5-7 1-7 5-6 11-14-4-13 8-7-4-6 3-14 12-7 4-13-6-13 8-7-1-7 3-13 2-20 14-14-2-6 2-7-1-7 2-6 8-14 0-6 2-7 1-7 8-6 2-7-4-13 8-34 6-20 17-20 1-13 2-14 6-7-3-13 8-7 6-13-1-7 0-6 5-7 2-7 5-6-1-21 8-6-2-7 7-7 3-6 5-14-1-13 4-13 11-7-5-14-2-6 5-7 11-7 2-6 6-7 1-7 2-6-2-7 8-13-12-7 3-13 12-7 4-7-1-7 4-6 10-7 2-13-19-7 12-7 6-6-9-7-1-13 16-7 21-7 2-7-19-6 4-14 34-6-9-7 22-7 5-6-37z"/></g>
<use href="#d12" fill="url(#ws)" stroke="url(#dg6)" stroke-width="4"/>
<g fill="url(#dg7)"><path id="d13" d="M423 451l6 37 7-5 7-22 6 9 14-34 6-4 7 19 7-2 7-21 13-16 7 1 6 9 7-6 7-12 13 19 7-2 6-10 7-4 7 1 7-4 13-12 7-3 13 12 7-8 6 2 7-2 7-1 6-6 7-2 7-11 6-5 14 2 7 5 13-11 13-4 14 1 6-5 7-3 7-7 6 2 21-8 6 1 7-5 7-2 6-5 7 0 13 1 7-6 13-8 7 3 14-6 13-2 20-1 20-17 34-6 13-8 7 4 6-2 7-8 7-1 6-2 14 0 6-8 7-2 7 1 6-2 14 2 20-14 13-2 7-3 7 1 13-8 13 6 7-4 14-12 6-3 7 4 13-8 14 4 6-11 7-5 7-1 6 5 7-3 14-12 13-2 7-5 6-1 7 4 13-4 9 15-14 4-6-4-7 1-7 5-13 1-14 13-7 2-6-5-7 1-7 6-6 10-14-3-13 7-7-4-7 3-13 12-7 4-13-6-14 8-7-1-6 3-14 2-20 13-13-1-7 1-7 0-7 2-6 8-14 0-6 2-7 0-7 9-7 1-6-4-14 8-33 6-21 17-20 1-13 2-14 6-6-3-14 8-7 6-13-2-7 1-7 5-6 2-7 4-7 0-20 7-7-2-6 8-7 2-7 5-13-1-14 4-13 11-7-4-13-3-7 5-7 11-7 2-6 6-7 0-7 3-6-2-7 8-14-12-6 3-14 12-7 3-6 0-7 4-7 10-6 1-14-18-7 12-6 5-7-8-7-2-13 17-7 20-7 2-6-18-7 3-14 33-6-8-7 22-7 4-6-36z"/></g>
<use href="#d13" fill="url(#ws)" stroke="url(#dg7)" stroke-width="4"/>
<g fill="url(#dg8)"><path id="d14" d="M427 462l6 36 7-4 7-22 6 8 14-33 7-3 6 18 7-2 7-20 13-17 7 2 7 8 6-5 7-12 14 18 6-1 7-10 7-4 6 0 7-3 14-12 6-3 14 12 7-8 6 2 7-3 7 0 6-6 7-2 7-11 7-5 13 3 7 4 13-11 14-4 13 1 7-5 7-2 6-8 7 2 20-7 7 0 7-4 6-2 7-5 7-1 13 2 7-6 14-8 6 3 14-6 13-2 20-1 21-17 33-6 14-8 6 4 7-1 7-9 7 0 6-2 14 0 6-8 7-2 7 0 7-1 13 1 20-13 14-2 6-3 7 1 14-8 13 6 7-4 13-12 7-3 7 4 13-7 14 3 6-10 7-6 7-1 6 5 7-2 14-13 13-1 7-5 7-1 6 4 14-4 7 18-14 4-6-4-7 1-7 5-13 1-14 12-6 3-7-5-7 1-7 5-6 11-14-4-13 7-7-3-7 2-13 12-7 4-14-6-13 8-7-2-7 4-13 1-20 14-14-2-7 2-6-1-7 2-7 8-13 0-7 2-7 0-6 8-7 2-7-4-13 8-34 6-20 16-21 1-13 2-14 6-6-3-14 7-7 6-13-1-7 1-7 5-6 1-7 5-7-1-20 7-7-2-6 8-7 2-7 5-13-1-14 4-13 11-7-5-14-3-6 6-7 10-7 2-7 6-6 0-7 3-7-2-7 8-13-12-7 3-13 11-7 4-7-1-7 4-6 10-7 2-14-19-6 12-7 5-7-8-6-2-14 17-7 20-6 1-7-17-7 3-13 33-7-8-7 21-7 4-6-35z"/></g>
<use href="#d14" fill="url(#ws)" stroke="url(#dg8)" stroke-width="4"/>
<g fill="#dc0000"><path id="d15" d="M432 474l6 35 7-4 7-21 7 8 13-33 7-3 7 17 6-1 7-20 14-17 6 2 7 8 7-5 6-12 14 19 7-2 6-10 7-4 7 1 7-4 13-11 7-3 13 12 7-8 7 2 7-3 6 0 7-6 7-2 7-10 6-6 14 3 7 5 13-11 14-4 13 1 7-5 7-2 6-8 7 2 20-7 7 1 7-5 6-1 7-5 7-1 13 1 7-6 14-7 6 3 14-6 13-2 21-1 20-16 34-6 13-8 7 4 7-2 6-8 7 0 7-2 13 0 7-8 7-2 6 1 7-2 14 2 20-14 13-1 7-4 7 2 13-8 14 6 7-4 13-12 7-2 7 3 13-7 14 4 6-11 7-5 7-1 7 5 6-3 14-12 13-1 7-5 7-1 6 4 14-4 7 18-13 4-7-4-7 1-7 5-13 1-14 12-6 2-7-4-7 0-7 6-6 10-14-4-13 7-7-3-7 2-14 12-6 3-14-5-13 8-7-2-7 3-13 2-21 13-13-2-7 2-7-1-6 2-7 8-14 0-6 2-7 0-7 8-7 1-7-3-13 7-34 6-20 16-20 1-14 2-13 5-7-2-14 7-6 6-14-2-7 1-7 5-6 1-7 5-7-1-20 8-7-3-7 8-6 2-7 5-14-1-13 3-14 11-6-4-14-3-7 5-7 10-6 2-7 6-7 0-7 3-6-2-7 7-14-11-6 3-14 11-7 3-6 0-7 4-7 9-7 2-13-18-7 11-7 6-6-9-7-1-14 16-7 20-6 1-7-18-7 4-13 32-7-8-7 21-7 4-6-35z"/></g>
<use href="#d15" fill="url(#ws)" stroke="#dc0000" stroke-width="4"/>
<g fill="#f10000"><path id="d16" d="M437 485l6 35 7-4 7-21 7 8 13-32 7-4 7 18 6-1 7-20 14-16 7 1 6 9 7-6 7-11 13 18 7-2 7-9 7-4 6 0 7-3 14-11 6-3 14 11 7-7 6 2 7-3 7 0 7-6 6-2 7-10 7-5 14 3 6 4 14-11 13-3 14 1 7-5 6-2 7-8 7 3 20-8 7 1 7-5 6-1 7-5 7-1 14 2 6-6 14-7 7 2 13-5 14-2 20-1 20-16 34-6 13-7 7 3 7-1 7-8 7 0 6-2 14 0 7-8 6-2 7 1 7-2 13 2 21-13 13-2 7-3 7 2 13-8 14 5 6-3 14-12 7-2 7 3 13-7 14 4 6-10 7-6 7 0 7 4 6-2 14-12 13-1 7-5 7-1 7 4 13-4 7 20-13 4-7-4-7 1-7 4-13 2-14 11-6 3-7-5-7 1-7 5-7 10-13-4-14 7-6-3-7 2-14 12-7 3-13-6-14 8-6-1-7 3-14 1-20 13-14-2-6 2-7-1-7 2-7 8-13-1-7 2-7 1-7 7-6 2-7-4-14 7-34 6-20 16-20 0-14 2-13 6-7-3-14 7-6 6-14-2-7 1-7 5-6 1-7 4-7 0-20 7-7-2-7 7-6 2-7 5-14-1-13 3-14 11-7-5-13-2-7 5-7 10-7 2-6 6-7 0-7 2-7-2-6 7-14-11-7 3-13 11-7 3-7 0-7 4-6 9-7 1-14-17-7 11-6 5-7-8-7-2-13 16-7 19-7 2-7-18-7 4-13 31-7-7-7 20-6 4-7-34z"/></g>
<use href="#d16" fill="url(#ws)" stroke="#f10000" stroke-width="4"/>
<g fill="#ff1500"><path id="d17" d="M442 498l7 34 6-4 7-20 7 7 13-31 7-4 7 18 7-2 7-19 13-16 7 2 7 8 6-5 7-11 14 17 7-1 6-9 7-4 7 0 7-3 13-11 7-3 14 11 6-7 7 2 7-2 7 0 6-6 7-2 7-10 7-5 13 2 7 5 14-11 13-3 14 1 7-5 6-2 7-7 7 2 20-7 7 0 7-4 6-1 7-5 7-1 14 2 6-6 14-7 7 3 13-6 14-2 20 0 20-16 34-6 14-7 7 4 6-2 7-7 7-1 7-2 13 1 7-8 7-2 7 1 6-2 14 2 20-13 14-1 7-3 6 1 14-8 13 6 7-3 14-12 7-2 6 3 14-7 13 4 7-10 7-5 7-1 7 5 6-3 14-11 13-2 7-4 7-1 7 4 13-4 7 24-13 4-7-4-7 1-7 4-13 1-14 12-7 2-7-5-6 1-7 5-7 10-13-4-14 7-7-4-7 3-13 11-7 3-14-5-13 7-7-2-7 3-13 2-21 12-13-1-7 1-7-1-7 2-6 8-14-1-7 2-6 0-7 8-7 1-7-3-13 7-34 5-21 15-20 1-14 2-13 5-7-3-14 7-6 6-14-2-7 1-6 4-7 2-7 4-7-1-20 7-7-2-7 7-7 2-6 5-14-1-13 3-14 10-7-4-13-3-7 5-7 10-7 2-7 5-6 0-7 3-7-3-7 8-13-11-7 3-14 10-6 3-7 0-7 4-7 9-7 1-13-17-7 11-7 4-6-8-7-1-14 15-7 19-6 2-7-17-7 3-14 31-6-8-7 20-7 4-7-34z"/></g>
<use href="#d17" fill="url(#ws)" stroke="#ff1500" stroke-width="4"/>
<g fill="#ff2300"><path id="d18" d="M447 512l7 34 7-4 7-20 6 8 14-31 7-3 7 17 6-2 7-19 14-15 7 1 6 8 7-4 7-11 13 17 7-1 7-9 7-4 7 0 6-3 14-10 7-3 13 11 7-8 7 3 7-3 6 0 7-5 7-2 7-10 7-5 13 3 7 4 14-10 13-3 14 1 6-5 7-2 7-7 7 2 20-7 7 1 7-4 7-2 6-4 7-1 14 2 6-6 14-7 7 3 13-5 14-2 20-1 21-15 34-5 13-7 7 3 7-1 7-8 6 0 7-2 14 1 6-8 7-2 7 1 7-1 13 1 21-12 13-2 7-3 7 2 13-7 14 5 7-3 13-11 7-3 7 4 14-7 13 4 7-10 7-5 6-1 7 5 7-2 14-12 13-1 7-4 7-1 7 4 13-4 8 15-13 4-7-4-7 1-7 4-13 2-14 11-7 2-7-5-7 1-6 5-7 9-14-3-13 7-7-4-7 3-14 11-7 3-13-6-14 8-7-2-6 3-14 1-21 13-13-2-7 1-7 0-7 2-6 7-14-1-7 3-7 0-7 7-6 1-7-3-14 7-34 5-20 15-21 0-13 3-14 5-7-3-14 7-6 5-14-1-7 1-7 4-6 1-7 4-7 0-21 7-6-3-7 7-7 2-7 5-13-1-14 3-14 10-7-4-13-3-7 5-7 10-7 2-6 5-7 0-7 3-7-3-7 8-13-11-7 3-14 10-7 3-6 0-7 3-7 9-7 2-14-18-6 11-7 5-7-8-7-1-13 15-7 18-7 2-7-17-7 3-13 31-7-8-7 20-7 4-7-34z"/></g>
<use href="#d18" fill="url(#ws)" stroke="#ff2300" stroke-width="4"/>
<g fill="#ff2e00"><path id="d19" d="M451 524l7 34 7-4 7-20 7 8 13-31 7-3 7 17 7-2 7-18 13-15 7 1 7 8 7-5 6-11 14 18 7-2 7-9 7-3 6 0 7-3 14-10 7-3 13 11 7-8 7 3 7-3 7 0 6-5 7-2 7-10 7-5 13 3 7 4 14-10 14-3 13 1 7-5 7-2 7-7 6 3 21-7 7 0 7-4 6-1 7-4 7-1 14 1 6-5 14-7 7 3 14-5 13-3 21 0 20-15 34-5 14-7 7 3 6-1 7-7 7 0 7-3 14 1 6-7 7-2 7 0 7-1 13 2 21-13 14-1 6-3 7 2 14-8 13 6 7-3 14-11 7-3 7 4 13-7 14 3 7-9 6-5 7-1 7 5 7-2 14-11 13-2 7-4 7-1 7 4 13-4 9 13-14 4-7-4-7 1-7 5-13 1-14 11-7 2-7-4-7 0-6 5-7 9-14-3-14 7-7-4-6 3-14 10-7 3-14-5-13 7-7-1-7 3-14 1-20 12-14-1-7 1-7 0-7 1-6 8-14-1-7 2-7 0-7 8-7 1-6-4-14 7-34 6-21 15-21 0-13 2-14 5-7-2-13 6-7 6-14-2-7 1-7 4-7 2-6 4-7-1-21 7-7-2-7 6-6 2-7 5-14-1-14 3-13 10-7-4-14-3-7 5-7 10-6 2-7 5-7 0-7 2-7-2-7 7-13-10-7 2-14 11-7 3-7-1-7 4-6 9-7 1-14-17-7 11-7 5-6-8-7-2-14 15-7 19-7 1-7-16-6 3-14 30-7-8-7 20-7 4-7-33z"/></g>
<use href="#d19" fill="url(#ws)" stroke="#ff2e00" stroke-width="4"/>
<g stroke="#ff3000" stroke-width="10.2"><path id="d20" d="M458 539l7 33 7-4 7-20 6 8 14-30 7-3 7 16 7-1 7-18 13-15 7 1 7 8 7-5 7-11 14 17 6-1 7-9 7-4 7 1 7-3 14-10 6-3 14 10 7-7 7 2 7-2 7 0 6-5 7-2 7-10 7-5 14 3 7 4 13-10 14-3 14 1 7-5 6-2 7-6 7 2 21-7 7 1 6-5 7-1 7-4 7-1 14 2 7-6 13-6 7 2 14-5 14-2 20-1 21-14 34-6 14-7 7 4 6-1 7-8 7 0 7-2 14 0 7-7 6-2 7 1 7-1 14 1 20-12 14-1 7-3 7 1 14-7 13 5 7-3 14-11 7-2 7 3 13-6 14 3 7-9 7-5 7-1 7 4 6-2 14-11 14-1 7-4 7-1 6 4 14-4"/></g>
<use href="#d20" stroke="#fff" stroke-opacity="0.6" stroke-width="4.8" stroke-dasharray="3 3.8"/>
<g stroke="#ff3400" stroke-width="10.2"><path id="d21" d="M463 545l7 33 7-4 7-19 7 7 14-30 6-3 7 16 7-1 7-18 14-15 7 1 7 8 6-5 7-10 14 16 7-1 7-9 7-3 7 0 6-3 14-10 7-3 14 11 7-8 7 3 6-3 7 0 7-5 7-2 7-10 7-5 13 3 7 4 14-10 14-3 14 1 6-5 7-2 7-6 7 2 21-7 7 1 6-5 7-1 7-4 7-1 14 1 7-5 13-7 7 3 14-5 14-2 20-1 21-15 34-5 14-7 7 4 7-2 7-7 7 0 6-2 14 0 7-7 7-2 7 1 7-2 13 2 21-12 14-2 7-3 7 2 13-8 14 6 7-3 14-11 7-3 6 4 14-7 14 3 7-9 7-5 7 0 6 4 7-2 14-11 14-1 7-5 6-1 7 4 14-4"/></g>
<use href="#d21" stroke="#fff" stroke-opacity="0.6" stroke-width="4.8" stroke-dasharray="3 3.8"/>
<g stroke="#ff3700" stroke-width="10.2"><path id="d22" d="M469 552l6 32 7-4 7-19 7 7 14-30 7-2 7 16 7-2 6-18 14-15 7 2 7 7 7-4 7-11 14 17 6-2 7-9 7-3 7 0 7-3 14-10 7-3 13 11 7-8 7 3 7-3 7 0 7-5 7-2 7-9 6-5 14 2 7 4 14-10 14-3 13 1 7-5 7-2 7-6 7 2 21-7 7 0 6-4 7-1 7-4 7-1 14 1 7-5 14-7 6 3 14-5 14-3 21 0 20-15 35-5 13-7 7 3 7-1 7-7 7-1 7-2 14 1 7-8 6-1 7 0 7-1 14 1 21-12 13-1 7-3 7 1 14-7 14 5 7-3 13-11 7-2 7 3 14-6 14 3 7-9 7-5 6-1 7 4 7-2 14-11 14-1 7-4 6-1 7 3 14-3"/></g>
<use href="#d22" stroke="#fff" stroke-opacity="0.6" stroke-width="4.8" stroke-dasharray="3 3.8"/>
<g stroke="#ff3b00" stroke-width="10.2"><path id="d23" d="M474 558l7 32 7-4 7-19 6 8 14-30 7-3 7 16 7-1 7-18 14-15 7 1 6 8 7-5 7-11 14 17 7-2 7-8 7-4 7 0 7-3 13-10 7-3 14 11 7-7 7 2 7-3 7 0 7-5 6-2 7-9 7-5 14 2 7 4 14-10 14-3 13 1 7-5 7-2 7-6 7 2 21-7 7 0 6-4 7-1 7-4 7-1 14 1 7-5 14-7 7 2 13-5 14-2 21 0 21-15 34-6 14-7 7 4 7-1 7-8 6 0 7-2 14 0 7-7 7-2 7 1 7-1 14 1 20-12 14-2 7-3 7 2 14-8 13 6 7-3 14-11 7-3 7 4 14-7 14 3 6-9 7-5 7-1 7 5 7-3 14-10 14-2 7-4 6-1 7 4 14-4"/></g>
<use href="#d23" stroke="#fff" stroke-opacity="0.6" stroke-width="4.8" stroke-dasharray="3 3.8"/>
<g stroke="#ff3e00" stroke-width="10.2"><path id="d24" d="M479 565l7 32 7-4 7-19 7 7 14-30 7-3 6 16 7-1 7-18 14-15 7 1 7 8 7-5 7-10 14 16 6-1 7-9 7-4 7 1 7-4 14-10 7-2 14 10 7-7 7 2 6-3 7 0 7-5 7-2 7-9 7-5 14 2 7 4 14-10 13-3 14 1 7-5 7-2 7-6 7 2 21-7 7 0 6-4 7-1 7-5 7 0 14 1 7-5 14-7 7 2 14-5 13-2 21 0 21-15 34-6 14-7 7 4 7-2 7-7 7 0 7-2 14 0 7-7 6-2 7 0 7-1 14 1 21-12 14-1 7-3 7 1 13-7 14 5 7-3 14-11 7-2 7 3 14-7 13 4 7-10 7-4 7-1 7 4 7-2 14-11 14-1 7-5 6-1 7 4 14-4"/></g>
<use href="#d24" stroke="#fff" stroke-opacity="0.6" stroke-width="4.8" stroke-dasharray="3 3.8"/>
<g stroke="#ff4200" stroke-width="9.4"><path id="d25" d="M484 571l7 32 7-5 7-18 7 7 14-30 7-3 7 16 6-1 7-18 14-15 7 1 7 8 7-5 7-10 14 16 7-2 7-8 7-4 7 0 6-3 14-10 7-3 14 11 7-7 7 2 7-3 7 0 7-5 7-2 7-9 7-5 13 2 7 4 14-10 14-3 14 0 7-4 7-2 7-7 7 2 20-7 7 1 7-4 7-2 7-4 7-1 14 2 7-6 14-6 7 2 13-5 14-3 21 0 21-15 34-5 14-7 7 3 7-1 7-8 7 0 7-2 14 0 7-7 7-2 7 1 6-2 14 2 21-12 14-2 7-3 7 1 14-7 14 5 6-3 14-11 7-2 7 3 14-6 14 3 7-9 7-5 7-1 7 4 7-2 13-11 14-1 7-5 7-1 7 4 14-4"/></g>
<use href="#d25" stroke="#fff" stroke-opacity="0.6" stroke-width="3.9" stroke-dasharray="3 3.8"/>
<g stroke="#ff4300" stroke-width="8.2"><path id="d26" d="M490 575l7 32 7-4 7-19 7 7 14-29 7-3 7 16 7-2 6-18 14-14 7 1 7 7 7-4 7-11 14 16 7-1 7-9 7-3 7 0 7-3 14-10 6-3 14 10 7-7 7 2 7-3 7 0 7-5 7-2 7-9 7-5 14 2 7 4 13-10 14-3 14 1 7-5 7-2 7-7 7 2 21-7 7 1 7-4 7-2 6-4 7-1 14 2 7-6 14-7 7 3 14-5 14-3 21 0 20-15 35-6 14-7 7 4 7-2 7-7 7 0 7-2 13 0 7-7 7-2 7 0 7-1 14 1 21-12 14-2 7-2 7 1 13-7 14 5 7-3 14-11 7-3 7 4 14-7 14 3 7-9 7-5 6-1 7 4 7-2 14-11 14-1 7-4 7-1 7 3 14-4"/></g>
<use href="#d26" stroke="#fff" stroke-opacity="0.6" stroke-width="2.5" stroke-dasharray="3 3.8"/>
<g stroke="#ff4500" stroke-width="8.2"><path id="d27" d="M496 579l7 32 7-4 7-19 7 7 14-29 7-3 6 15 7-1 7-18 14-15 7 2 7 7 7-5 7-10 14 16 7-1 7-9 7-4 7 0 7-3 13-10 7-3 14 11 7-8 7 3 7-3 7 0 7-5 7-3 7-9 7-5 14 3 7 4 13-10 14-3 14 0 7-4 7-2 7-7 7 2 21-7 7 0 7-4 7-1 7-5 6 0 14 1 7-5 14-7 7 2 14-5 14-2 21-1 21-15 34-6 14-7 7 4 7-2 7-7 7 0 7-2 14 0 7-7 7-2 6 0 7-1 14 1 21-12 14-2 7-3 7 2 14-8 14 5 7-3 13-10 7-3 7 3 14-6 14 3 7-9 7-5 7-1 7 4 7-2 14-11 14-2 6-4 7-1 7 4 14-4"/></g>
<use href="#d27" stroke="#fff" stroke-opacity="0.6" stroke-width="2.5" stroke-dasharray="3 3.8"/>
<g stroke="#ff4600" stroke-width="8.2"><path id="d28" d="M502 583l7 32 7-4 7-19 7 7 13-29 7-3 7 15 7-1 7-18 14-15 7 1 7 8 7-5 7-10 14 16 7-2 7-8 7-4 7 0 7-3 13-10 7-3 14 10 7-7 7 2 7-2 7-1 7-5 7-2 7-9 7-5 14 2 7 4 14-10 13-3 14 0 7-4 7-2 7-7 7 2 21-7 7 1 7-4 7-2 7-4 7-1 13 1 7-5 14-7 7 2 14-5 14-2 21-1 21-15 34-5 14-8 7 4 7-2 7-7 7 0 7-2 14 0 7-7 7-2 7 0 7-1 14 1 20-12 14-2 7-3 7 2 14-8 14 5 7-3 14-11 7-2 7 3 14-7 13 3 7-9 7-5 7 0 7 4 7-3 14-10 14-2 7-4 7-1 7 3 14-4"/></g>
<use href="#d28" stroke="#fff" stroke-opacity="0.6" stroke-width="2.5" stroke-dasharray="3 3.8"/>
<g stroke="#ff4700" stroke-width="8.2"><path id="d29" d="M508 587l7 32 7-4 6-19 7 7 14-30 7-3 7 16 7-1 7-18 14-15 7 1 7 8 7-5 7-10 14 15 7-1 7-9 7-3 7 0 6-3 14-10 7-3 14 10 7-7 7 2 7-3 7 0 7-5 7-2 7-9 7-6 14 3 7 4 14-10 13-3 14 0 7-5 7-2 7-6 7 2 21-7 7 0 7-4 7-2 7-4 7-1 14 1 7-5 13-7 7 2 14-5 14-2 21-1 21-15 35-5 14-7 6 3 7-2 7-7 7 0 7-2 14 0 7-7 7-2 7 0 7-1 14 1 21-12 14-2 7-3 7 2 13-8 14 5 7-3 14-11 7-2 7 3 14-7 14 3 7-9 7-5 7-1 7 4 7-2 13-11 14-1 7-5 7-1 7 4 14-4"/></g>
<use href="#d29" stroke="#fff" stroke-opacity="0.6" stroke-width="2.5" stroke-dasharray="3 3.8"/>
<g stroke="#ff4900" stroke-width="8.2"><path id="d30" d="M513 591l7 32 7-5 7-18 7 7 14-30 7-3 7 16 7-2 7-17 14-15 7 1 7 8 7-5 7-11 14 16 7-1 7-9 6-4 7 1 7-4 14-10 7-3 14 11 7-8 7 2 7-2 7 0 7-6 7-2 7-9 7-5 14 2 7 4 14-10 13-3 14 0 7-4 7-2 7-7 7 2 21-7 7 0 7-4 7-1 7-5 7 0 14 1 7-6 14-6 7 2 13-5 14-3 21 0 21-15 35-6 14-7 7 3 7-1 7-8 7 0 7-2 13 0 7-7 7-2 7 0 7-1 14 1 21-12 14-2 7-3 7 1 14-7 14 5 7-3 14-11 6-3 7 4 14-7 14 3 7-9 7-5 7-1 7 4 7-2 14-11 14-2 7-4 7-1 7 3 14-3"/></g>
<use href="#d30" stroke="#fff" stroke-opacity="0.6" stroke-width="2.5" stroke-dasharray="3 3.8"/>
<g stroke="#ff4a00" stroke-width="8.2"><path id="d31" d="M519 595l7 31 7-4 7-18 7 7 14-30 7-3 7 16 7-2 7-17 14-15 7 1 7 7 7-4 7-11 14 16 6-2 7-8 7-4 7 0 7-3 14-10 7-3 14 10 7-7 7 2 7-2 7-1 7-5 7-2 7-9 7-5 14 2 7 4 14-10 14-3 13 0 7-5 7-2 7-6 7 1 21-7 7 1 7-4 7-2 7-4 7-1 14 1 7-5 14-7 7 2 14-5 14-3 20 0 21-15 35-6 14-7 7 3 7-1 7-8 7 0 7-2 14 0 7-7 7-2 7 0 7-1 13 1 21-12 14-2 7-3 7 1 14-7 14 5 7-3 14-11 7-3 7 4 14-7 14 3 7-10 7-4 7-1 6 4 7-2 14-12 14-1 7-4 7-1 7 3 14-4"/></g>
<use href="#d31" stroke="#fff" stroke-opacity="0.6" stroke-width="2.5" stroke-dasharray="3 3.8"/>
<g stroke="#ff4b00" stroke-width="8.2"><path id="d32" d="M525 599l7 31 7-4 7-19 7 7 14-29 7-3 7 16 7-2 7-18 14-14 7 1 7 7 7-5 7-10 13 16 7-2 7-8 7-4 7 0 7-3 14-10 7-3 14 10 7-7 7 2 7-3 7 0 7-5 7-3 7-9 7-5 14 2 7 4 14-10 14-3 13 0 7-4 7-2 7-7 7 2 21-7 7 0 7-4 7-1 7-5 7-1 14 1 7-5 14-7 7 2 14-5 14-2 21-1 20-15 35-6 14-7 7 3 7-1 7-8 7 0 7-2 14 0 7-7 7-2 7 0 7-1 14 1 21-12 14-2 7-3 7 1 13-7 14 5 7-3 14-11 7-3 7 3 14-7 14 3 7-9 7-5 7-1 7 4 7-2 14-11 14-1 7-5 7-1 7 4 14-4"/></g>
<use href="#d32" stroke="#fff" stroke-opacity="0.6" stroke-width="2.5" stroke-dasharray="3 3.8"/>
<g stroke="#ff4d00" stroke-width="9.1"><path id="d33" d="M531 603l7 31 7-4 7-18 7 7 14-30 7-3 7 16 7-2 7-17 14-15 7 1 7 7 7-5 7-10 14 16 7-2 7-8 7-4 7 0 7-3 14-10 6-3 14 10 7-7 7 2 7-3 7 0 7-6 7-2 7-9 7-5 14 2 7 4 14-10 14-3 14 0 7-4 7-2 7-7 7 2 21-7 7 0 6-4 7-2 7-4 7-1 14 1 7-5 14-7 7 2 14-5 14-3 21 0 21-15 35-7 14-7 6 4 7-2 7-7 7-1 7-2 14 0 7-7 7-2 7 1 7-2 14 1 21-12 14-2 7-3 7 1 14-7 14 5 7-3 14-11 7-3 6 4 14-7 14 3 7-10 7-5 7-1 7 5 7-3 14-11 14-1 7-5 7-1 7 4 14-4"/></g>
<use href="#d33" stroke="#fff" stroke-opacity="0.6" stroke-width="3.4" stroke-dasharray="3 3.8"/>
<g stroke="#ff4e00" stroke-width="9.6"><path id="d34" d="M539 608l7 31 7-4 7-19 7 7 14-29 6-3 7 15 7-1 7-18 14-15 7 2 7 7 7-5 7-10 14 15 7-1 7-9 7-3 7 0 7-3 13-11 7-3 14 10 7-7 7 2 7-2 7-1 7-5 7-2 7-9 7-5 14 2 7 4 13-10 14-4 14 1 7-5 7-2 7-7 7 2 21-7 7 1 7-5 7-1 7-5 20 1 7-6 14-7 7 3 14-6 14-2 21-1 21-15 34-6 14-7 7 3 7-1 7-8 7 0 7-2 14 0 7-7 7-2 7 0 6-1 14 1 21-13 14-1 7-3 7 1 14-7 14 4 7-3 14-11 6-2 7 3 14-7 14 3 7-9 7-5 7-1 7 4 7-2 14-11 14-2 7-4 7-1 6 3 14-4"/></g>
<use href="#d34" stroke="#fff" stroke-opacity="0.6" stroke-width="3.9" stroke-dasharray="3 3.8"/>
<g stroke="#ff5000" stroke-width="9.6"><path id="d35" d="M547 613l6 31 7-4 7-19 7 7 14-29 7-3 7 15 7-1 7-18 14-15 6 1 7 8 7-5 7-10 14 15 7-1 7-9 7-4 7 0 7-3 13-10 7-3 14 10 7-7 7 2 7-3 7 0 7-5 7-2 7-9 7-5 13 2 7 4 14-11 14-3 14 0 7-4 7-2 7-7 6 2 21-7 7 0 7-4 7-1 7-5 21 0 7-5 13-7 7 2 14-5 14-2 21-1 20-15 35-6 14-7 7 3 7-2 7-7 7 0 6-3 14 1 7-8 7-2 7 1 7-2 14 1 21-12 13-2 7-3 7 2 14-8 14 5 7-3 14-11 7-3 6 4 14-7 14 3 7-10 7-4 7-1 7 4 7-3 14-11 13-1 7-5 7-1 7 4 14-4"/></g>
<use href="#d35" stroke="#fff" stroke-opacity="0.6" stroke-width="3.9" stroke-dasharray="3 3.8"/>
<g stroke="#ff5100" stroke-width="9.6"><path id="d36" d="M554 618l7 31 7-4 7-19 7 7 14-29 6-3 7 15 7-1 7-18 14-15 7 1 7 8 7-5 7-11 13 16 7-2 7-8 7-4 7 0 7-3 14-10 6-3 14 10 7-7 7 2 7-3 7 0 7-5 7-3 6-9 7-5 14 2 7 4 14-10 14-3 13 0 7-4 7-2 7-7 7 2 21-7 7 0 6-4 7-2 7-4 21 0 7-5 14-7 6 2 14-5 14-3 21 0 20-15 35-7 14-7 7 3 6-1 7-7 7-1 7-2 14 0 7-7 7-2 7 1 6-2 14 1 21-12 14-2 7-3 6 1 14-7 14 5 7-3 14-11 7-3 6 3 14-7 14 3 7-9 7-5 7-1 7 4 7-2 13-11 14-2 7-4 7-1 7 3 14-3"/></g>
<use href="#d36" stroke="#fff" stroke-opacity="0.6" stroke-width="3.9" stroke-dasharray="3 3.8"/>
<g stroke="#ff5300" stroke-width="9.6"><path id="d37" d="M562 622l7 31 7-4 7-18 6 7 14-30 7-3 7 16 7-2 7-17 13-15 7 1 7 7 7-4 7-11 14 16 6-2 7-8 7-4 7 0 7-3 14-10 6-3 14 10 7-7 7 1 7-2 7 0 7-6 6-2 7-9 7-5 14 2 7 4 14-10 13-3 14 0 7-5 7-2 7-6 6 1 21-7 7 1 7-4 7-2 7-4 20 0 7-6 14-6 7 2 13-5 14-3 21-1 20-15 35-6 13-7 7 3 7-1 7-8 7 0 7-2 13 0 7-7 7-2 7 0 7-1 14 1 20-13 14-1 7-3 7 1 13-7 14 4 7-3 14-11 7-2 7 3 13-7 14 3 7-9 7-5 7-1 6 4 7-2 14-11 14-2 7-4 7-1 6 3 14-4"/></g>
<use href="#d37" stroke="#fff" stroke-opacity="0.6" stroke-width="3.9" stroke-dasharray="3 3.8"/>
<g stroke="#f50" stroke-width="9.6"><path id="d38" d="M570 627l6 31 7-4 7-19 7 7 14-29 7-3 6 16 7-2 7-18 14-14 7 1 6 7 7-5 7-10 14 16 7-2 6-9 7-3 7 0 7-3 14-10 7-3 13 9 7-7 7 2 7-2 7-1 6-5 7-2 7-9 7-5 14 2 7 4 13-10 14-4 14 1 6-5 7-2 7-7 7 2 20-7 7 0 7-4 7-1 7-5 20 1 7-6 14-7 7 2 13-5 14-2 21-1 20-15 34-6 14-7 7 3 7-2 7-7 6 0 7-2 14 0 7-8 7-2 7 1 6-2 14 1 21-12 13-2 7-3 7 2 14-8 13 5 7-3 14-11 7-3 7 4 13-7 14 3 7-10 7-5 6 0 7 4 7-3 14-11 14-1 6-5 7-1 7 4 14-4"/></g>
<use href="#d38" stroke="#fff" stroke-opacity="0.6" stroke-width="3.9" stroke-dasharray="3 3.8"/>
<g stroke="#ff5600" stroke-width="9.8"><path id="d39" d="M577 632l7 31 7-4 7-19 7 7 13-29 7-3 7 15 7-1 7-18 13-14 7 1 7 7 7-5 6-10 14 15 7-1 7-9 7-3 6 0 7-4 14-10 7-3 13 10 7-7 7 2 7-2 7-1 6-5 7-2 7-9 7-5 13 2 7 4 14-11 14-3 13 0 7-4 7-2 7-7 7 2 20-7 7 0 7-4 6-1 7-5 21 0 7-5 13-7 7 2 14-5 13-3 21 0 20-15 34-6 14-8 7 4 7-2 6-7 7 0 7-3 14 0 6-7 7-2 7 1 7-2 14 1 20-12 14-2 6-3 7 1 14-7 14 5 6-4 14-10 7-3 7 3 13-7 14 3 7-9 7-5 6-1 7 4 7-2 14-11 13-2 7-4 7-1 7 3 13-4"/></g>
<use href="#d39" stroke="#fff" stroke-opacity="0.6" stroke-width="3.9" stroke-dasharray="3 3.8"/>
<g stroke="#ff5800" stroke-width="11.3"><path id="d40" d="M584 638l7 31 7-4 7-19 7 7 13-29 7-3 7 15 7-1 7-18 13-14 7 1 7 7 7-5 6-10 14 15 7-1 7-9 6-4 7 0 7-3 14-10 6-3 14 10 7-7 7 2 6-3 7 0 7-5 7-3 7-9 6-5 14 2 7 4 13-10 14-3 14 0 6-5 7-2 7-6 7 1 20-7 7 1 7-5 7-1 6-5 21 1 7-6 13-7 7 2 14-5 13-2 21-1 20-15 34-7 14-7 7 3 6-1 7-7 7-1 7-2 13 0 7-7 7-2 7 0 7-1 13 1 21-13 13-1 7-3 7 1 13-8 14 5 7-3 13-11 7-3 7 4 14-7 13 2 7-9 7-5 7 0 6 3 7-2 14-11 13-1 7-5 7-1 7 3 13-4"/></g>
<use href="#d40" stroke="#fff" stroke-opacity="0.6" stroke-width="4.4" stroke-dasharray="3 3.8"/>
<g stroke="#ff5b00" stroke-width="11.3"><path id="d41" d="M591 645l7 31 7-4 7-19 7 7 13-29 7-3 7 15 7-1 6-18 14-15 7 1 6 8 7-5 7-11 14 16 6-2 7-8 7-4 7 0 7-3 13-10 7-3 14 9 6-7 7 2 7-3 7 0 7-5 6-3 7-9 7-5 13 2 7 4 14-10 13-3 14 0 7-5 7-2 6-7 7 2 21-7 6 0 7-4 7-2 7-4 20 0 7-5 13-7 7 2 14-5 13-3 21-1 20-15 34-7 14-7 6 3 7-1 7-7 7-1 7-2 13 0 7-7 7-2 7 0 6-1 14 0 20-12 14-2 7-3 6 1 14-7 14 4 6-3 14-11 7-2 7 3 13-7 14 3 7-10 6-4 7-1 7 3 7-2 13-11 14-2 7-4 6-1 7 3 14-4"/></g>
<use href="#d41" stroke="#fff" stroke-opacity="0.6" stroke-width="4.4" stroke-dasharray="3 3.8"/>
<g stroke="#ff5e00" stroke-width="11.3"><path id="d42" d="M598 652l7 31 7-5 7-18 6 7 14-29 7-3 7 15 6-2 7-17 14-15 6 1 7 7 7-5 7-10 13 15 7-1 7-9 7-4 6 0 7-3 14-10 7-3 13 9 7-7 7 2 6-2 7-1 7-5 7-2 7-9 6-5 14 1 7 4 13-10 14-3 13 0 7-5 7-2 7-7 6 2 21-7 7 0 6-4 7-2 7-4 20 0 7-6 14-7 6 2 14-5 13-3 21-1 20-15 34-6 14-8 6 3 7-1 7-8 7 0 7-2 13 0 7-8 7-2 6 1 7-2 14 1 20-12 14-2 6-3 7 1 14-8 13 5 7-3 14-11 6-3 7 3 14-7 13 3 7-9 7-5 7-1 6 4 7-3 14-11 13-2 7-4 7-1 7 3 13-4"/></g>
<use href="#d42" stroke="#fff" stroke-opacity="0.6" stroke-width="4.4" stroke-dasharray="3 3.8"/>
<g stroke="#ff6000" stroke-width="11.3"><path id="d43" d="M605 659l7 30 7-4 7-18 6 6 14-28 7-3 6 15 7-2 7-17 13-15 7 1 7 7 7-5 7-10 13 15 7-2 7-8 6-4 7 0 7-3 13-11 7-3 14 10 6-7 7 1 7-2 7-1 7-5 6-2 7-9 7-5 13 1 7 4 14-10 13-3 14-1 7-4 6-2 7-7 7 2 20-8 7 1 7-5 6-1 7-5 20 0 7-5 14-7 7 2 13-6 14-2 20-2 20-15 34-6 14-8 6 3 7-1 7-8 7 0 6-2 14-1 7-7 6-2 7 1 7-2 14 1 20-13 13-2 7-3 7 1 13-7 14 4 7-3 13-11 7-3 7 3 13-7 14 3 7-9 6-5 7-1 7 4 7-3 13-11 14-2 7-4 6-1 7 3 14-4"/></g>
<use href="#d43" stroke="#fff" stroke-opacity="0.6" stroke-width="4.4" stroke-dasharray="3 3.8"/>
<g fill="#f60"><path id="d44" d="M609 663l6 30 7-4 7-19 7 7 13-29 7-3 7 15 7-2 6-17 14-15 7 1 6 7 7-5 7-10 13 15 7-2 7-8 7-4 6 0 7-3 14-10 6-3 14 9 7-7 7 1 6-2 7-1 7-5 7-2 6-9 7-5 14 1 6 4 14-10 13-4 14 0 7-4 6-2 7-7 7 2 20-8 7 0 7-4 7-1 6-5 21 0 6-6 14-7 7 2 13-5 14-3 20-1 20-15 34-7 14-7 6 3 7-2 7-7 7-1 6-2 14 0 7-7 6-2 7 0 7-2 13 1 21-12 13-3 7-3 7 2 13-8 14 4 7-3 13-11 7-3 7 3 13-7 14 3 6-9 7-5 7-1 7 4 6-3 14-11 13-2 7-4 7-1 7 3 13-4 9 6-13 4-7-3-7 1-7 5-13 2-14 11-6 2-7-3-7 1-7 5-6 9-14-3-13 7-7-3-7 3-13 11-7 3-14-4-13 8-7-1-6 3-14 2-20 13-14-1-6 2-7-1-7 2-7 8-13 0-7 2-7 1-6 7-7 2-7-3-13 7-34 7-20 15-20 2-14 3-13 5-7-2-14 7-6 6-21 0-6 5-7 1-7 5-7-1-20 8-6-2-7 7-7 2-7 5-13 0-14 4-13 10-7-4-13-1-7 5-7 9-7 2-6 5-7 1-7 3-7-2-6 7-14-9-6 3-14 10-7 3-6 1-7 3-7 9-7 2-13-15-7 10-7 5-6-7-7-1-14 15-6 17-7 2-7-15-7 3-13 29-7-7-7 19-6 4-7-30z"/></g>
<use href="#d44" fill="url(#ws)" stroke="#f60" stroke-width="4"/>
<g stroke="#f60" stroke-width="6.4"><path id="d45" d="M621 672l7 30 7-5 6-18 7 7 14-29 6-3 7 15 7-2 7-17 13-15 7 1 6 7 7-5 7-10 13 14 7-1 7-9 7-4 6 0 7-3 14-10 6-3 14 9 7-7 6 2 7-3 7-1 7-5 6-2 7-9 7-5 13 1 7 4 13-10 14-4 13 0 7-5 7-2 7-6 6 1 21-7 6 0 7-4 7-2 7-5 20 0 7-5 13-7 7 1 13-5 14-3 20-1 20-15 34-7 13-8 7 3 7-1 7-8 6 0 7-2 14-1 6-7 7-2 7 0 7-1 13 0 20-12 14-2 6-3 7 1 14-8 13 4 7-3 13-11 7-3 7 3 13-7 14 3 7-10 6-5 7-1 7 4 7-2 13-11 13-2 7-5 7-1 7 3 13-4"/></g>
<g fill="#f60"><path id="d46" d="M622 669l7 30 7-4 6-18 7 6 14-28 6-3 7 14 7-1 7-18 13-14 7 1 7 7 6-5 7-11 14 15 6-1 7-9 7-4 7 0 6-3 14-10 6-3 14 9 7-7 6 2 7-3 7-1 7-5 6-2 7-9 7-5 13 1 7 4 14-10 13-4 14 0 6-4 7-3 7-6 7 1 20-7 6 0 7-4 7-2 7-4 20-1 7-5 13-7 7 2 13-6 14-2 20-2 20-15 34-7 14-7 6 3 7-2 7-7 6 0 7-3 14 0 6-7 7-2 7 0 7-2 13 1 20-13 14-2 7-3 6 1 14-7 13 4 7-3 14-11 6-3 7 3 13-7 14 3 7-10 6-5 7-1 7 4 7-2 13-11 14-2 6-5 7-1 7 3 13-4 7-5-14 4-7-3-6 1-7 4-13 2-14 11-7 2-6-3-7 1-7 5-7 9-13-3-14 7-6-3-7 3-14 11-6 3-14-5-13 8-7-2-7 3-13 2-21 13-13-1-7 2-7-1-6 2-7 7-14 0-6 3-7 0-7 8-7 1-6-3-14 7-34 7-20 15-20 1-13 2-14 6-7-2-13 7-7 5-20 0-7 5-7 1-6 4-7 0-20 7-7-1-7 6-7 3-6 4-14 0-13 3-14 11-7-4-13-2-7 5-7 9-6 2-7 6-7 0-7 3-6-2-7 7-14-10-6 3-14 10-6 4-7 0-7 3-7 9-6 2-14-16-7 11-6 4-7-7-7-1-13 15-7 18-7 1-7-15-6 3-14 29-7-7-6 19-7 4-7-31z"/></g>
<use href="#d46" fill="url(#ws)" stroke="#f60" stroke-width="4"/>
<g fill="#f60"><path id="d47" d="M628 656l7 31 7-4 6-19 7 7 14-29 6-3 7 15 7-1 7-18 13-15 7 1 7 7 6-4 7-11 14 16 6-2 7-9 7-3 7 0 6-4 14-10 6-3 14 10 7-7 6 2 7-3 7 0 7-6 6-2 7-9 7-5 13 2 7 4 14-11 13-3 14 0 6-4 7-3 7-6 7 1 20-7 7 0 6-4 7-1 7-5 20 0 7-5 13-7 7 2 14-6 13-2 20-1 20-15 34-7 14-7 6 3 7-1 7-8 7 0 6-3 14 0 7-7 6-2 7 1 7-2 13 1 21-13 13-2 7-3 7 2 13-8 14 5 6-3 14-11 7-3 6 3 14-7 13 3 7-9 7-5 7-1 6 3 7-2 14-11 13-2 7-4 6-1 7 3 14-4 6-5-13 4-7-3-7 1-7 4-13 1-14 12-6 2-7-4-7 1-7 5-6 9-14-3-13 7-7-3-7 2-13 11-7 3-14-5-13 8-7-1-7 3-13 1-20 13-14-1-7 1-6 0-7 2-7 7-13 0-7 2-7 0-7 8-6 1-7-3-14 7-33 6-21 15-20 1-13 2-14 6-7-2-13 6-7 6-13-1-7 1-7 4-7 1-6 5-7-1-20 7-7-1-7 6-7 2-6 5-14 0-13 3-14 10-7-4-13-2-7 5-7 9-6 2-7 6-7 0-7 3-6-2-7 7-14-10-6 3-14 10-6 3-7 0-7 4-7 8-6 2-14-16-7 10-6 5-7-7-7-1-13 15-7 18-7 1-7-16-6 3-14 30-7-7-6 19-7 4-7-32z"/></g>
<use href="#d47" fill="url(#ws)" stroke="#f60" stroke-width="4"/>
<g fill="#f60"><path id="d48" d="M634 643l7 32 7-4 6-19 7 7 14-30 6-3 7 16 7-1 7-18 13-15 7 1 7 7 6-5 7-10 14 16 6-2 7-8 7-4 7 0 6-3 14-10 6-3 14 10 7-7 6 2 7-3 7 0 7-6 6-2 7-9 7-5 13 2 7 4 14-10 13-3 14 0 6-5 7-2 7-6 7 1 20-7 7 1 6-5 7-1 7-4 7-1 13 1 7-6 13-6 7 2 14-6 13-2 20-1 21-15 33-6 14-7 7 3 6-1 7-8 7 0 7-2 13 0 7-7 7-2 6 0 7-1 14 1 20-13 13-1 7-3 7 1 13-8 14 5 7-3 13-11 7-2 7 3 13-7 14 3 6-9 7-5 7-1 7 4 6-2 14-12 13-1 7-4 7-1 7 3 13-4 7-5-14 4-7-4-7 1-6 4-14 2-13 11-7 2-7-4-7 1-6 5-7 9-14-3-13 7-7-4-7 3-13 11-7 3-13-5-14 7-7-1-6 3-14 1-20 12-14-1-6 2-7-1-7 2-7 7-13 0-7 2-7 0-6 8-7 1-7-3-13 7-34 6-20 15-21 0-13 2-14 5-6-2-14 7-7 6-13-2-7 1-7 4-6 2-7 4-7-1-20 7-7-2-7 7-6 2-7 5-14-1-13 3-14 11-6-5-14-2-7 5-6 9-7 2-7 6-7 0-6 3-7-3-7 8-13-11-7 3-14 10-6 3-7 0-7 4-7 9-6 1-14-17-7 11-6 5-7-8-7-1-13 15-7 19-7 1-7-16-6 3-14 30-7-7-6 19-7 4-7-33z"/></g>
<use href="#d48" fill="url(#ws)" stroke="#f60" stroke-width="4"/>
<g fill="#fc0"><path id="d49" d="M640 630l7 33 7-4 6-19 7 7 14-30 6-3 7 16 7-1 7-19 13-15 7 1 7 8 6-5 7-11 14 17 6-1 7-9 7-4 7 0 6-3 14-10 7-3 13 11 7-8 7 3 6-3 7 0 7-6 7-2 6-9 7-5 14 2 6 5 14-11 13-3 14 1 7-5 6-2 7-7 7 2 20-7 7 1 7-4 6-2 7-4 7-1 13 2 7-6 14-7 6 2 14-5 13-2 21 0 20-15 34-6 13-7 7 3 7-1 6-8 7 0 7-2 13 0 7-7 7-2 7 1 6-2 14 1 20-12 14-1 6-3 7 1 14-7 13 5 7-3 13-11 7-3 7 4 13-7 14 3 7-9 6-5 7-1 7 4 7-2 13-11 14-2 6-4 7-1 7 4 14-4 7 103-14 3-6-2-7 1-7 3-13 2-14 9-7 2-6-3-7 1-7 4-7 8-13-2-14 6-7-3-6 3-14 9-7 3-13-4-14 6-7-1-6 3-14 1-20 11-27 0-7 2-7 6-13 1-14 2-7 6-6 2-7-3-14 6-34 6-20 13-20 1-14 2-13 4-7-1-14 6-6 5-21-1-20 9-7 0-20 6-7-1-7 6-7 2-6 4-14-1-13 3-14 9-7-3-13-2-7 4-7 9-7 2-6 4-7 1-7 2-7-2-6 7-14-9-7 2-13 9-7 3-7 0-7 3-6 8-7 1-14-14-6 10-7 4-7-7-7-1-13 14-7 16-7 1-7-14-6 3-14 26-7-6-6 17-7 4-7-29z"/></g>
<use href="#d49" fill="url(#ws)" stroke="#fc0" stroke-width="4"/>
<g stroke="#ffcb00" stroke-width="4.4"><path id="d50" d="M648 713l7 29 7-4 6-17 7 7 14-27 6-3 7 14 7-1 7-16 13-14 7 2 7 6 7-4 6-9 14 14 7-1 6-8 7-4 7 1 7-3 13-9 7-3 14 9 6-6 7 1 7-2 7 0 6-5 7-2 7-8 7-5 13 2 7 4 14-9 13-3 14 0 6-4 7-2 7-6 7 2 20-6 7 0 20-9 21 0 6-4 14-6 7 1 13-4 14-2 20-1 20-13 34-6 14-6 7 3 6-2 7-6 14-2 13 0 7-7 7-1 27-1 20-10 14-2 6-3 7 1 14-6 13 4 7-3 14-9 6-3 7 3 14-6 13 3 7-8 7-5 7-1 6 4 7-2 14-10 13-1 7-4 7-1 6 3 14-3"/></g>
<g stroke="#ffca00" stroke-width="4.4"><path id="d51" d="M654 710l7 29 7-4 6-17 7 6 14-27 6-2 7 14 7-1 7-17 13-13 7 1 7 7 7-4 6-10 14 15 7-2 6-8 7-3 7 0 7-3 13-9 7-2 14 9 6-7 7 2 7-2 7 0 7-5 6-2 7-8 7-5 13 2 7 4 14-9 13-3 14 1 7-4 6-2 7-6 7 1 20-6 7 1 20-9 21 0 6-5 14-6 7 2 13-5 14-2 20 0 20-14 34-5 14-6 7 3 6-2 7-6 14-2 13 0 7-7 7-1 27 0 20-11 14-2 6-2 7 1 14-7 13 5 7-3 14-10 6-2 7 3 14-6 13 2 7-8 7-4 7-1 6 4 7-2 14-10 13-1 7-4 7-1 7 3 13-3"/></g>
<g stroke="#ffc800" stroke-width="4.4"><path id="d52" d="M660 706l7 29 7-4 6-17 7 7 14-27 7-3 6 14 7-1 7-16 13-14 7 1 7 7 7-4 6-10 14 15 7-1 7-8 6-3 7 0 7-3 13-9 7-3 14 10 7-7 6 2 7-2 7 0 7-5 6-2 7-8 7-5 13 3 7 3 14-9 13-3 14 1 7-4 6-2 7-6 7 2 20-7 7 1 20-9 21 0 7-4 13-6 7 2 13-5 14-2 20-1 21-13 33-5 14-6 7 3 7-2 6-6 14-2 13 0 7-7 7-1 27 0 20-11 14-1 7-3 6 1 14-6 14 4 6-3 14-9 7-2 6 2 14-5 13 2 7-8 7-4 7-1 7 4 6-2 14-10 13-1 7-4 7-1 7 3 13-3"/></g>
<g stroke="#ffc600" stroke-width="4.4"><path id="d53" d="M666 702l7 30 7-4 7-17 6 6 14-27 7-3 6 15 7-1 7-17 14-13 6 1 7 7 7-4 7-10 13 15 7-1 7-8 6-4 7 1 7-3 14-9 6-3 14 10 7-7 6 2 7-2 7 0 7-5 7-2 6-8 7-5 14 3 6 3 14-9 13-2 14 0 7-4 7-2 6-6 7 2 20-6 7 0 21-9 20 1 7-5 13-6 7 2 14-4 13-2 20-1 21-13 34-5 13-6 7 3 7-2 6-6 14-2 14 0 6-6 7-2 27 0 21-10 13-2 7-2 7 1 13-7 14 5 6-3 14-10 7-2 7 3 13-6 14 3 6-8 7-5 7 0 7 3 7-2 13-9 14-2 6-3 7-1 7 3 14-3"/></g>
<g stroke="#ffc400" stroke-width="4.4"><path id="d54" d="M672 698l7 31 7-4 7-18 6 7 14-28 7-3 7 16 6-2 7-16 14-14 6 1 7 7 7-4 7-10 13 16 7-2 7-8 7-3 6 0 7-2 14-9 6-3 14 10 7-7 7 2 6-2 7 0 7-5 7-2 6-8 7-5 14 3 7 3 13-9 14-2 13 0 7-4 7-2 6-6 7 2 21-6 6 1 21-9 20 0 7-4 13-6 7 2 14-5 13-2 21 0 20-13 34-5 13-6 7 3 7-2 7-6 13-2 14 0 6-6 7-2 27 1 21-11 13-2 7-2 7 1 13-6 14 4 7-2 13-10 7-2 7 3 13-6 14 3 7-9 6-4 7-1 7 4 7-2 13-9 14-2 7-3 6-1 7 3 14-3"/></g>
<g stroke="#ffc300" stroke-width="4.4"><path id="d55" d="M679 694l6 31 7-4 7-18 7 7 13-28 7-2 7 15 7-1 6-17 14-14 7 1 7 8 6-5 7-9 14 15 6-1 7-8 7-3 7 0 7-3 13-9 7-3 13 10 7-6 7 2 7-2 6 0 7-5 7-2 7-8 7-5 13 2 7 4 13-9 14-2 14 0 6-4 7-1 7-7 7 2 20-6 7 1 20-9 20 1 7-5 14-6 7 2 13-4 14-2 20 0 20-14 34-4 14-7 6 4 7-2 7-6 7 0 7-2 13 0 7-6 7-2 13 0 14 1 20-11 14-1 6-3 7 2 14-7 13 5 7-3 14-10 6-2 7 3 14-6 13 3 7-8 7-4 7-1 6 4 7-2 14-10 13-1 7-4 7 0 7 3 13-3"/></g>
<g fill="url(#dg9)"><path id="d56" d="M682 692l7 31 7-4 6-18 7 7 14-28 6-2 7 15 7-1 7-17 13-14 7 1 7 8 7-5 6-9 14 15 7-1 7-8 6-3 7 0 7-3 13-9 7-2 14 10 6-7 7 2 7-2 7 0 7-5 6-2 7-8 7-5 13 3 7 4 14-9 13-3 14 1 7-4 6-2 7-6 7 2 20-6 7 1 7-4 7-1 6-4 21 1 7-5 13-6 7 2 13-4 14-2 20-1 21-13 33-5 14-6 7 3 7-1 6-6 7 0 7-2 13 0 7-6 7-2 14 0 13 1 20-11 14-1 7-3 7 2 13-7 14 5 6-3 14-9 7-3 7 4 13-6 14 3 6-9 7-4 7-1 7 4 7-2 13-9 14-1 6-4 7-1 7 3 13-3 6 38-14 4-6-3-7 1-7 4-13 2-14 9-7 2-7-3-6 1-7 4-7 8-13-2-14 6-7-3-7 2-13 10-7 2-13-3-14 6-7-1-6 3-14 1-20 11-27 1-7 1-7 7-14 0-13 2-7 6-7 2-6-3-14 6-34 6-20 13-20 1-14 2-14 5-6-2-14 6-7 5-20 0-20 9-7 0-20 6-7-1-7 6-7 1-6 4-14 0-14 3-13 9-7-3-13-2-7 5-7 8-7 1-6 5-7 1-7 2-7-2-7 6-13-8-7 2-13 9-7 3-7 0-7 3-7 8-6 2-14-14-7 9-6 4-7-6-7-1-13 13-7 16-7 1-7-14-7 3-13 26-7-6-7 17-6 3-7-27z"/></g>
<use href="#d56" fill="url(#ws)" stroke="url(#dg9)" stroke-width="4"/>
<g fill="url(#dg10)"><path id="d57" d="M688 750l7 27 6-3 7-17 7 6 13-26 7-3 7 14 7-1 7-16 13-13 7 1 7 6 6-4 7-9 14 14 6-2 7-8 7-3 7 0 7-3 13-9 7-2 13 8 7-6 7 2 7-2 7-1 6-5 7-1 7-8 7-5 13 2 7 3 13-9 14-3 14 0 6-4 7-1 7-6 7 1 20-6 7 0 20-9 20 0 7-5 14-6 6 2 14-5 14-2 20-1 20-13 34-6 14-6 6 3 7-2 7-6 13-2 14 0 7-7 7-1 27-1 20-11 14-1 6-3 7 1 14-6 13 3 7-2 13-10 7-2 7 3 14-6 13 2 7-8 7-4 6-1 7 3 7-2 14-9 13-2 7-4 7-1 6 3 14-4 2 15-14 4-6-3-7 1-7 4-13 2-14 9-7 2-6-3-7 1-7 4-7 8-13-2-14 6-7-2-6 2-14 9-7 3-13-3-14 6-7-1-6 3-14 2-20 11-27 0-7 2-7 6-13 1-14 2-7 7-6 1-7-3-14 7-34 6-20 13-20 1-14 3-13 4-7-1-14 6-6 4-21 1-20 9-7 0-20 6-7-1-7 6-7 2-6 4-14 0-13 3-14 9-7-4-13-1-7 4-7 8-7 2-6 5-7 0-7 3-7-2-6 6-14-8-7 3-13 9-7 3-7 0-7 3-6 8-7 1-14-13-6 9-7 4-7-6-7-1-13 13-7 16-7 1-7-13-6 3-14 25-7-6-6 16-7 4-7-27z"/></g>
<use href="#d57" fill="url(#ws)" stroke="url(#dg10)" stroke-width="4"/>
<g stroke="url(#dg11)" stroke-width="5.3"><path id="d58" d="M695 768l7 27 7-4 7-16 6 6 14-26 7-2 6 13 7-1 7-16 13-13 7 1 7 6 7-4 7-9 13 13 7-1 7-8 6-3 7 0 7-3 13-9 7-3 14 9 7-7 6 2 7-2 7-1 7-4 6-2 7-8 7-5 13 2 7 3 14-9 13-3 14 0 7-4 6-2 7-6 7 2 20-7 7 0 20-9 21 0 6-5 14-6 7 2 13-5 14-2 20-1 20-13 34-6 14-7 7 3 6-1 7-7 14-2 13 0 7-7 7-1 27-1 20-11 14-2 6-2 7 1 14-7 13 4 7-3 14-9 6-3 7 3 14-6 13 2 7-8 7-4 6-1 7 3 7-2 14-10 13-1 7-4 7-1 6 2 14-3"/></g>
<g stroke="url(#dg12)" stroke-width="4.4"><path id="d59" d="M704 763l6 27 7-3 7-17 7 6 13-26 7-2 7 13 6-1 7-16 14-13 6 1 7 6 7-4 7-9 13 14 7-2 7-8 7-3 6 0 7-3 14-9 6-2 14 8 7-6 7 2 6-3 7 0 7-5 7-2 6-8 7-4 14 2 6 3 14-9 14-3 13 0 7-4 7-2 6-6 7 2 20-7 7 1 20-9 21 0 7-5 13-6 7 1 13-4 14-3 20-1 21-13 33-5 14-7 7 3 6-1 7-7 14-2 13 0 7-7 7-1 27-1 20-10 14-2 6-3 7 1 14-6 13 3 7-2 14-10 6-2 7 2 14-6 13 3 7-8 7-5 6 0 7 3 7-2 14-10 13-1 7-4 7-1 6 3 14-4"/></g>
<g stroke="url(#dg13)" stroke-width="4.4"><path id="d60" d="M710 759l7 28 6-4 7-17 7 7 13-27 7-2 7 13 7-1 6-16 14-13 7 1 7 7 6-5 7-9 14 14 6-1 7-8 7-3 7 0 6-3 14-9 7-3 13 9 7-6 7 1 7-2 6 0 7-5 7-2 7-8 6-4 14 1 7 4 13-9 14-3 13 0 7-4 7-2 7-6 6 2 21-7 6 1 21-9 20 0 7-5 13-6 7 2 14-5 13-2 20-1 21-13 33-6 14-6 7 3 7-2 6-6 14-2 13-1 7-6 7-1 27-1 20-11 14-1 7-3 6 1 14-6 13 3 7-2 14-10 6-2 7 3 14-6 13 2 7-8 7-4 7-1 6 3 7-2 14-9 13-2 7-4 7-1 6 3 14-3"/></g>
<g stroke="url(#dg14)" stroke-width="5.5"><path id="d61" d="M718 753l7 29 7-4 7-17 7 7 13-27 7-3 7 14 6-1 7-16 14-13 6 1 7 7 7-5 7-9 13 14 7-1 7-8 6-3 7 0 7-3 14-9 6-3 14 9 7-6 6 2 7-2 7-1 7-5 6-1 7-9 7-4 13 2 7 3 14-9 13-2 14 0 7-4 6-2 7-6 7 2 20-7 7 1 20-9 20 0 7-5 14-6 6 2 14-4 14-3 20 0 20-14 34-5 13-6 7 2 7-1 7-6 13-3 14 0 7-6 6-2 27 0 21-10 13-2 7-3 7 1 13-6 14 4 6-3 14-9 7-2 7 2 13-6 14 3 6-8 7-5 7 0 7 3 6-2 14-9 13-2 7-4 7-1 7 3 13-3"/></g>
<g fill="url(#dg15)"><path id="d62" d="M724 750l7 29 7-4 6-17 7 6 14-26 6-3 7 14 7-1 7-16 13-14 7 2 7 6 6-4 7-9 14 14 6-1 7-8 7-3 7 0 6-3 14-9 7-3 13 9 7-6 7 2 7-2 6-1 7-4 7-2 7-8 6-5 14 2 7 4 13-9 14-3 13 0 7-4 7-2 6-6 7 2 21-6 6 0 21-9 20 1 7-5 13-6 7 2 13-5 14-2 20-1 20-13 34-5 14-6 7 2 6-1 7-6 14-3 13 0 7-6 7-1 27-1 20-10 13-2 7-2 7 1 14-7 13 4 7-2 13-10 7-2 7 3 13-6 14 2 7-8 6-4 7-1 7 4 7-2 13-10 14-1 6-4 7-1 7 3 13-3 2 9-14 3-6-3-7 1-7 4-13 2-14 9-7 2-6-3-7 0-7 5-7 7-13-2-14 6-6-3-7 3-14 9-6 3-14-4-14 6-6-1-7 3-14 1-20 11-27 0-7 2-6 6-14 0-13 2-7 7-7 1-7-3-13 6-34 6-20 13-21 0-13 3-14 4-6-2-14 6-7 5-20 0-20 9-7-1-20 6-7-1-7 6-7 2-6 4-14-1-13 3-14 9-7-3-13-2-7 4-7 8-6 2-7 5-7 0-7 2-6-1-7 6-14-9-7 3-13 9-7 2-7 0-6 3-7 8-7 2-13-15-7 10-7 4-7-7-6-1-14 13-7 16-6 2-7-14-7 2-13 27-7-7-7 17-7 4-7-28z"/></g>
<use href="#d62" fill="url(#ws)" stroke="url(#dg15)" stroke-width="4"/>
<g fill="url(#dg16)"><path id="d63" d="M725 760l7 28 7-4 7-17 7 7 13-27 7-2 7 14 6-2 7-16 14-13 6 1 7 7 7-4 7-10 13 15 7-2 7-8 6-3 7 0 7-2 13-9 7-3 14 9 7-6 6 1 7-2 7 0 7-5 6-2 7-8 7-4 13 2 7 3 14-9 13-3 14 1 6-4 7-2 7-6 7 1 20-6 7 1 20-9 20 0 7-5 14-6 6 2 14-4 13-3 21 0 20-13 34-6 13-6 7 3 7-1 7-7 13-2 14 0 6-6 7-2 27 0 20-11 14-1 7-3 6 1 14-6 14 4 6-3 14-9 7-3 6 3 14-6 13 2 7-7 7-5 7 0 6 3 7-2 14-9 13-2 7-4 7-1 6 3 14-3 6 38-13 4-7-3-7 1-7 4-13 1-14 9-6 2-7-3-7 1-7 4-7 8-13-2-14 6-6-3-7 2-14 9-6 3-14-3-13 6-7-1-7 3-13 1-21 11-27 0-7 2-6 6-14 0-13 2-7 6-7 2-7-3-13 6-34 6-20 13-20 1-14 2-13 4-7-1-14 6-7 4-20 0-20 9-7 0-20 6-7-1-7 5-6 2-7 4-14 0-13 3-14 8-6-3-14-1-7 4-7 8-6 1-7 5-14 3-6-2-7 6-14-8-6 3-14 8-7 3-6 0-7 3-7 7-7 2-13-13-7 9-7 4-6-6-7-1-14 12-7 15-6 2-7-13-7 2-13 25-7-6-7 16-7 4-6-26z"/></g>
<use href="#d63" fill="url(#ws)" stroke="url(#dg16)" stroke-width="4"/>
<g fill="url(#dg17)"><path id="d64" d="M732 800l6 26 7-4 7-16 7 6 13-25 7-2 7 13 6-2 7-15 14-12 7 1 6 6 7-4 7-9 13 13 7-2 7-7 7-3 6 0 7-3 14-8 6-3 14 8 7-6 6 2 14-3 7-5 6-1 7-8 7-4 14 1 6 3 14-8 13-3 14 0 7-4 6-2 7-5 7 1 20-6 7 0 20-9 20 0 7-4 14-6 7 1 13-4 14-2 20-1 20-13 34-6 13-6 7 3 7-2 7-6 13-2 14 0 6-6 7-2 27 0 21-11 13-1 7-3 7 1 13-6 14 3 6-3 14-9 7-2 6 3 14-6 13 2 7-8 7-4 7-1 7 3 6-2 14-9 13-1 7-4 7-1 7 3 13-4 2 15-13 3-7-2-7 1-6 4-14 1-13 9-7 2-7-3-7 1-6 4-7 8-14-2-13 5-7-2-7 2-13 9-7 3-13-3-14 6-7-1-7 2-13 2-20 10-27 1-7 2-7 6-13 0-14 2-7 6-6 2-7-3-14 6-34 6-20 13-20 1-14 2-13 4-7-1-13 6-7 4-20 1-21 8-6 0-21 6-7-1-6 5-7 2-7 4-13 0-14 3-13 8-7-3-14-1-6 4-7 8-7 2-7 4-13 3-7-2-7 6-13-8-7 3-14 8-6 3-7 0-7 3-7 7-6 2-14-13-7 9-6 4-7-6-7-1-13 13-7 14-7 2-7-13-6 3-14 24-7-6-6 16-7 4-7-26z"/></g>
<use href="#d64" fill="url(#ws)" stroke="url(#dg17)" stroke-width="4"/>
<g stroke="url(#dg18)" stroke-width="8.2"><path id="d65" d="M739 816l7 26 7-4 7-15 6 5 14-24 7-3 6 13 7-2 7-14 13-13 7 1 7 6 7-4 6-9 14 13 7-2 6-7 7-3 7 0 7-3 13-8 7-3 13 8 7-6 7 2 13-3 7-4 7-2 7-8 6-4 14 1 7 3 13-8 14-3 13 0 7-4 7-2 7-5 6 1 21-6 6 0 21-9 20 0 7-4 13-6 7 1 13-4 14-3 20-1 20-12 34-6 14-6 6 2 7-1 7-6 13-2 14-1 7-5 6-2 27-1 21-10 13-2 7-2 7 0 13-6 14 3 7-2 13-9 7-2 7 2 13-6 14 2 6-7 7-4 7-1 7 3 6-2 14-9 13-2 7-3 7-2 7 3 13-4"/></g>
<use href="#d65" stroke="#fff" stroke-opacity="0.6" stroke-width="2" stroke-dasharray="3 3.8"/>
<g stroke="url(#dg19)" stroke-width="6.1"><path id="d66" d="M748 818l7 26 6-4 7-16 7 6 13-24 7-3 7 13 7-2 6-15 14-12 7 1 6 6 7-4 7-9 13 13 7-2 7-7 7-3 6 0 7-3 14-9 6-2 14 8 7-6 6 1 14-2 7-5 6-2 7-7 7-5 13 2 7 3 13-9 14-3 13 0 7-4 7-1 7-6 6 1 21-6 6 0 21-8 20-1 7-4 13-6 7 1 13-4 14-2 20-2 20-12 34-6 14-6 6 3 7-2 7-6 13-2 14-1 6-5 7-2 27-1 20-10 14-2 7-3 6 1 14-6 13 3 7-2 14-9 6-2 7 2 14-6 13 2 7-8 7-4 6 0 7 2 7-2 13-9 14-1 7-4 6-1 7 3 14-4"/></g>
<g stroke="url(#dg20)" stroke-width="7.3"><path id="d67" d="M756 819l6 26 7-3 7-16 7 6 13-25 7-3 7 13 6-1 7-15 13-13 7 1 7 6 7-4 6-9 14 13 7-1 6-8 7-3 7 0 7-3 13-8 7-3 13 8 7-6 7 2 13-3 7-5 7-1 6-8 7-4 14 1 6 3 14-8 13-3 14 0 7-4 6-2 7-6 7 1 20-6 7 0 20-8 20-1 7-4 13-6 7 2 14-5 13-2 20-1 20-13 34-6 14-6 6 2 7-1 7-6 13-2 14-1 6-6 7-1 27-1 20-10 14-2 7-3 6 1 14-6 13 3 7-3 13-8 7-3 7 3 13-6 14 2 7-8 6-4 7-1 7 3 7-2 13-9 14-2 6-3 7-1 7 2 13-3"/></g>
<use href="#d67" stroke="#fff" stroke-opacity="0.6" stroke-width="1.2" stroke-dasharray="3 3.8"/>
<g stroke="url(#dg21)" stroke-width="9.5"><path id="d68" d="M762 823l7 26 6-3 7-16 7 6 13-25 7-3 7 13 7-1 6-15 14-13 6 1 7 6 7-4 7-9 13 13 7-2 7-7 6-3 7 0 7-3 13-8 7-3 13 8 7-6 7 1 13-2 7-5 7-2 7-7 6-5 14 2 7 3 13-9 13-3 14 0 7-4 6-2 7-5 7 1 20-6 7 0 20-9 20 0 7-5 13-5 7 1 14-4 13-3 20-1 21-13 33-5 14-7 6 3 7-2 7-6 13-2 14 0 7-6 6-2 27-1 20-10 14-2 7-3 6 1 14-6 13 3 7-2 14-9 6-3 7 3 13-6 14 2 7-8 6-4 7-1 7 3 7-2 13-9 14-2 6-3 7-1 7 2 13-3"/></g>
<use href="#d68" stroke="#fff" stroke-opacity="0.6" stroke-width="4.1" stroke-dasharray="3 3.8"/>
<g fill="url(#dg22)"><path id="d69" d="M764 826l7 26 6-3 7-16 7 6 13-25 7-3 7 13 6-1 7-15 14-13 6 1 7 6 7-4 7-9 13 13 7-2 7-7 6-3 7 0 7-3 13-8 7-3 13 8 7-6 7 1 13-2 7-5 7-2 7-7 6-5 14 2 7 3 13-9 13-3 14 0 7-4 6-2 7-5 7 1 20-6 7 0 20-9 20 0 7-5 14-6 6 2 14-5 13-2 20-1 21-13 33-6 14-6 7 3 6-2 7-6 13-2 14-1 7-6 6-1 27-1 21-10 13-2 7-3 7 1 13-6 13 3 7-3 14-9 6-2 7 2 14-6 13 2 7-7 7-4 6-1 7 3 7-2 13-9 14-2 6-4 7-1 7 3 13-4 7 8-13 3-7-2-7 1-7 4-13 2-14 9-6 2-7-3-7 1-7 4-6 7-14-2-13 6-7-2-7 2-13 9-7 3-14-3-13 6-7-1-7 3-13 2-20 10-27 1-7 2-7 6-13 0-14 2-6 6-7 2-7-2-13 6-34 6-20 12-21 1-13 3-14 4-6-1-14 6-7 4-20 1-20 8-7 0-20 7-7-2-7 6-13 6-14 0-13 3-14 8-6-3-14-1-6 4-7 8-7 2-7 4-13 3-7-1-7 6-13-8-7 3-13 8-7 3-7 0-7 3-6 7-7 2-14-13-6 9-7 4-7-6-7 0-13 12-7 15-7 1-6-12-7 2-14 24-6-5-7 15-7 4-7-25z"/></g>
<use href="#d69" fill="url(#ws)" stroke="url(#dg22)" stroke-width="4"/>
<g fill="url(#dg23)"><path id="d70" d="M769 836l7 25 7-4 7-15 6 5 14-24 7-2 6 12 7-1 7-15 13-12 7 0 7 6 7-4 6-9 14 13 7-2 6-7 7-3 7 0 7-3 13-8 7-3 13 8 7-6 7 1 13-3 7-4 7-2 7-8 6-4 14 1 6 3 14-8 13-3 14 0 13-6 7-6 7 2 20-7 7 0 20-8 20-1 7-4 14-6 6 1 14-4 13-3 21-1 20-12 34-6 13-6 7 2 7-2 6-6 14-2 13 0 7-6 7-2 27-1 20-10 13-2 7-3 7 1 13-6 14 3 7-3 13-9 7-2 7 2 13-6 14 2 6-7 7-4 7-1 7 3 6-2 14-9 13-2 7-4 7-1 7 2 13-3 7 8-14 3-7-2-6 1-7 4-14 1-13 9-7 2-7-2-6 1-7 4-7 7-13-2-14 6-7-2-6 2-14 9-7 3-13-3-14 6-6-1-7 3-14 2-20 10-27 1-7 2-6 6-14 0-13 3-7 6-7 1-7-2-13 6-34 6-20 12-20 2-14 2-13 5-7-2-14 6-6 5-21 0-20 9-7 0-20 6-7-1-7 6-13 5-14 1-13 3-14 8-6-3-14-1-7 4-6 8-7 2-7 4-13 3-7-2-7 6-13-7-7 3-14 8-6 3-7 0-7 3-7 7-6 2-14-13-7 9-6 4-7-6-7 0-13 12-7 15-7 1-7-12-6 2-14 24-7-5-6 15-7 4-7-25z"/></g>
<use href="#d70" fill="url(#ws)" stroke="url(#dg23)" stroke-width="4"/>
<g fill="url(#dg24)"><path id="d71" d="M775 845l7 25 7-4 6-15 7 5 14-24 6-2 7 12 7-1 7-15 13-12 7 0 7 6 6-4 7-9 14 13 6-2 7-7 7-3 7 0 6-3 14-8 7-3 13 7 7-6 7 2 13-3 7-4 7-2 6-8 7-4 14 1 6 3 14-8 13-3 14-1 13-5 7-6 7 1 20-6 7 0 20-9 21 0 6-5 14-6 7 2 13-5 14-2 20-2 20-12 34-6 13-6 7 2 7-1 7-6 13-3 14 0 6-6 7-2 27-1 20-10 14-2 7-3 6 1 14-6 13 3 7-3 14-9 6-2 7 2 14-6 13 2 7-7 7-4 6-1 7 2 7-2 13-9 14-1 7-4 6-1 7 2 14-3 6 7-13 4-7-2-7 1-6 4-14 1-14 9-6 2-7-2-7 1-7 4-6 7-14-2-13 6-7-2-7 2-13 9-7 3-14-3-13 6-7-1-7 3-13 2-21 10-27 1-6 2-7 6-14 1-13 2-7 6-7 1-6-2-14 6-34 6-20 13-20 1-14 3-13 4-7-1-14 6-6 4-21 1-20 9-7 0-20 6-7-1-7 5-13 6-14 0-13 3-14 9-6-3-14-1-7 4-6 7-7 2-7 5-13 3-7-2-7 6-13-7-7 2-14 9-7 3-6 0-7 3-7 7-7 2-13-12-7 8-7 4-6-5-7-1-14 12-6 14-7 2-7-12-7 2-13 24-7-5-7 15-6 4-7-25z"/></g>
<use href="#d71" fill="url(#ws)" stroke="url(#dg24)" stroke-width="4"/>
<g fill="url(#dg25)"><path id="d72" d="M781 854l7 25 6-4 7-15 7 5 13-24 7-2 7 12 7-2 6-14 14-12 7 1 6 5 7-4 7-8 13 12 7-2 7-7 7-3 6 0 7-3 14-9 7-2 13 7 7-6 7 2 13-3 7-5 7-2 6-7 7-4 14 1 6 3 14-9 13-3 14 0 13-6 7-5 7 1 20-6 7 0 20-9 21-1 6-4 14-6 7 1 13-4 14-3 20-1 20-13 34-6 14-6 6 2 7-1 7-6 13-2 14-1 7-6 6-2 27-1 21-10 13-2 7-3 7 1 13-6 14 3 7-3 13-9 7-2 7 2 13-6 14 2 6-7 7-4 7-1 7 2 6-2 14-9 14-1 6-4 7-1 7 2 13-4 7 8-14 4-6-2-7 1-7 3-13 2-14 9-7 2-6-3-7 1-7 5-7 7-13-2-14 6-7-2-6 2-14 9-7 3-13-3-14 6-7-1-6 3-14 2-20 10-27 2-7 1-7 6-13 1-14 2-7 6-6 2-7-3-14 7-34 6-20 12-20 2-14 2-13 5-7-2-14 6-6 5-21 1-20 8-7 0-20 6-7-1-6 6-14 6-14 0-13 3-14 8-6-2-14-1-7 4-6 7-7 2-7 5-14 2-6-1-7 6-14-7-6 2-14 9-7 3-6 0-7 3-7 7-7 1-13-11-7 8-7 4-7-5-6-1-14 12-7 14-6 2-7-12-7 3-14 23-6-5-7 15-7 4-7-25z"/></g>
<use href="#d72" fill="url(#ws)" stroke="url(#dg25)" stroke-width="4"/>
<g fill="url(#dg26)"><path id="d73" d="M786 863l7 25 7-4 7-15 6 5 14-23 7-3 7 12 6-2 7-14 14-12 6 1 7 5 7-4 7-8 13 11 7-1 7-7 7-3 6 0 7-3 14-9 6-2 14 7 7-6 6 1 14-2 7-5 7-2 6-7 7-4 14 1 6 2 14-8 13-3 14 0 14-6 6-6 7 1 20-6 7 0 20-8 21-1 6-5 14-6 7 2 13-5 14-2 20-2 20-12 34-6 14-7 7 3 6-2 7-6 14-2 13-1 7-6 7-1 27-2 20-10 14-2 6-3 7 1 14-6 13 3 7-3 14-9 6-2 7 2 14-6 13 2 7-7 7-5 7-1 6 3 7-2 14-9 13-2 7-3 7-1 6 2 14-4 7 8-14 4-7-3-7 2-6 3-14 2-13 9-7 2-7-3-7 1-7 4-6 8-14-2-13 6-7-2-7 2-13 9-7 3-14-3-13 6-7 0-7 2-13 2-21 10-27 2-7 2-6 5-14 1-14 3-6 5-7 2-7-2-13 6-34 6-21 13-20 1-14 3-13 4-7-1-20 10-20 1-21 9-7 0-20 6-7-1-6 6-14 5-14 1-13 3-14 8-6-3-14-1-7 5-7 7-6 2-7 4-14 3-6-1-7 6-14-7-7 2-13 9-7 2-7 1-6 3-7 7-7 1-14-11-6 8-7 4-7-5-7-1-13 12-7 14-7 2-6-12-7 3-14 23-7-5-6 15-7 3-7-24z"/></g>
<use href="#d73" fill="url(#ws)" stroke="url(#dg26)" stroke-width="4"/>
<g fill="url(#dg27)"><path id="d74" d="M792 872l7 24 7-3 6-15 7 5 14-23 7-3 6 12 7-2 7-14 13-12 7 1 7 5 7-4 6-8 14 11 7-1 7-7 6-3 7-1 7-2 13-9 7-2 14 7 7-6 6 1 14-3 7-4 6-2 7-7 7-5 14 1 6 3 14-8 13-3 14-1 14-5 6-6 7 1 20-6 7 0 21-9 20-1 20-10 7 1 13-4 14-3 20-1 21-13 34-6 13-6 7 2 7-2 6-5 14-3 14-1 6-5 7-2 27-2 21-10 13-2 7-2 7 0 13-6 14 3 7-3 13-9 7-2 7 2 13-6 14 2 6-8 7-4 7-1 7 3 7-2 13-9 14-2 6-3 7-2 7 3 14-4 6 23-14 3-7-1-6 1-7 3-14 2-13 9-7 2-7-2-7 1-6 4-7 7-14-1-13 6-7-2-7 2-13 9-7 2-14-2-13 6-7 0-7 2-13 2-21 11-27 1-6 2-7 6-27 3-7 6-7 2-7-2-13 6-34 6-20 13-21 1-27 8-7-1-20 10-20 1-21 9-6 0-21 6-7-1-6 6-14 5-13 1-14 3-14 8-6-2-14-1-7 4-6 8-7 2-7 4-14 3-6-1-7 5-14-6-20 11-7 3-7 0-6 3-7 7-7 1-13-10-7 8-7 4-7-5-7-1-13 12-7 13-7 2-6-11-7 3-14 22-7-5-6 15-7 3-7-23z"/></g>
<use href="#d74" fill="url(#ws)" stroke="url(#dg27)" stroke-width="4"/>
<g fill="url(#dg28)"><path id="d75" d="M798 900l7 23 7-3 6-15 7 5 14-22 7-3 6 11 7-2 7-13 13-12 7 1 7 5 7-4 7-8 13 10 7-1 7-7 6-3 7 0 7-3 20-11 14 6 7-5 6 1 14-3 7-4 7-2 6-8 7-4 14 1 6 2 14-8 14-3 13-1 14-5 6-6 7 1 21-6 6 0 21-9 20-1 20-10 7 1 27-8 21-1 20-13 34-6 13-6 7 2 7-2 7-6 27-3 7-6 6-2 27-1 21-11 13-2 7-2 7 0 13-6 14 2 7-2 13-9 7-2 7 2 13-6 14 1 7-7 6-4 7-1 7 2 7-2 13-9 14-2 7-3 6-1 7 1 14-3 6 39-14 3-7-1-6 1-7 4-14 2-13 9-7 2-7-2-7 1-6 4-7 6-14 0-13 6-7-2-27 14-14-2-13 6-7 0-20 5-21 10-27 2-6 2-7 6-27 4-7 5-7 2-7-2-13 6-34 8-20 11-21 3-27 7-7 0-20 10-20 1-20 9-7 0-21 7-6-1-7 5-14 6-13 1-14 4-13 8-7-2-14-1-6 4-7 7-7 2-7 4-13 3-7 0-7 5-13-5-21 10-20 7-7 6-7 2-13-9-7 7-7 4-6-4-7-1-14 12-6 12-7 2-7-10-7 3-13 20-7-4-7 14-7 3-6-20z"/></g>
<use href="#d75" fill="url(#ws)" stroke="url(#dg28)" stroke-width="4"/>
<g fill="url(#dg29)"><path id="d76" d="M805 949l6 20 7-3 7-14 7 4 13-20 7-3 7 10 7-2 6-12 14-12 7 1 6 4 7-4 7-7 13 9 7-2 7-6 20-7 21-10 13 5 7-5 7 0 13-3 7-4 7-2 7-7 6-4 14 1 7 2 13-8 14-4 13-1 14-6 7-5 6 1 21-7 7 0 20-9 20-1 20-10 7 0 27-7 21-3 20-11 34-8 13-6 7 2 7-2 7-5 27-4 7-6 6-2 27-2 21-10 20-5 7 0 13-6 14 2 27-14 7 2 13-6 14 0 7-6 6-4 7-1 7 2 7-2 13-9 14-2 7-4 6-1 7 1 14-3 6 25-14 4-7-1-6 1-7 4-14 2-13 9-7 2-7-2-6 2-7 3-7 7-14 0-13 5-7-1-27 14-14-2-13 7-7 0-20 5-20 10-28 3-6 2-7 5-27 5-7 5-7 2-7-1-13 6-34 8-20 11-21 3-27 8-6 0-21 9-20 3-20 8-7 1-20 7-7-1-7 5-14 6-13 1-14 4-13 8-7-2-13 1-7 3-7 7-14 6-13 3-7 0-7 5-13-4-20 10-21 7-7 6-6 2-14-9-7 8-6 3-7-3-7 0-14 11-6 11-7 2-7-9-7 3-13 20-7-4-7 13-6 3-7-19z"/></g>
<use href="#d76" fill="url(#ws)" stroke="url(#dg29)" stroke-width="4"/>
<g fill="url(#dg30)"><path id="d77" d="M811 984l7 19 6-3 7-13 7 4 13-20 7-3 7 9 7-2 6-11 14-11 7 0 7 3 6-3 7-8 14 9 6-2 7-6 21-7 20-10 13 4 7-5 7 0 13-3 14-6 7-7 7-3 13-1 7 2 13-8 14-4 13-1 14-6 7-5 7 1 20-7 7-1 20-8 20-3 21-9 6 0 27-8 21-3 20-11 34-8 13-6 7 1 7-2 7-5 27-5 7-5 6-2 28-3 20-10 20-5 7 0 13-7 14 2 27-14 7 1 13-5 14 0 7-7 7-3 6-2 7 2 7-2 13-9 14-2 7-4 6-1 7 1 14-4 6 25-14 4-6-1-7 1-7 4-13 3-14 8-7 2-7-1-6 1-7 4-7 6-13 1-14 5-7 0-27 13-13-1-14 6-7 1-20 5-20 10-27 4-7 2-7 5-27 5-7 6-7 1-6-1-14 6-34 9-20 11-20 4-27 8-7 0-21 9-20 3-20 9-7 1-20 7-7 0-7 4-13 6-14 2-13 4-14 7-7-1-13 1-7 4-7 6-13 6-14 4-7-1-6 5-14-3-20 10-21 7-6 6-7 2-14-8-7 7-6 4-7-3-7 0-13 11-7 11-7 2-7-8-6 2-14 19-7-3-7 12-6 3-7-17z"/></g>
<use href="#d77" fill="url(#ws)" stroke="url(#dg30)" stroke-width="4"/>
<g fill="url(#dg31)"><path id="d78" d="M817 1019l7 17 6-3 7-12 7 3 14-19 6-2 7 8 7-2 7-11 13-11 7 0 7 3 6-4 7-7 14 8 7-2 6-6 21-7 20-10 14 3 6-5 7 1 14-4 13-6 7-6 7-4 13-1 7 1 14-7 13-4 14-2 13-6 7-4 7 0 20-7 7-1 20-9 20-3 21-9 7 0 27-8 20-4 20-11 34-9 14-6 6 1 7-1 7-6 27-5 7-5 7-2 27-4 20-10 20-5 7-1 14-6 13 1 27-13 7 0 14-5 13-1 7-6 7-4 6-1 7 1 7-2 14-8 13-3 7-4 7-1 6 1 14-4 6 16-13 4-7-1-7 2-7 4-13 2-14 9-7 2-6-1-7 1-7 4-7 6-13 1-14 6-7-1-27 13-13 0-14 6-7 0-20 6-20 10-27 4-7 2-7 5-27 6-7 5-6 2-7-1-14 6-34 9-20 11-20 4-27 8-7 0-20 10-21 3-20 9-7 1-20 7-7 0-7 5-13 5-14 2-13 4-14 8-7-1-13 1-14 10-13 6-14 3-7 0-6 5-14-3-20 10-21 7-6 6-7 2-14-7-6 7-7 4-7-3-7 0-13 11-7 10-7 2-7-7-6 2-14 19-7-3-6 11-7 3-7-16z"/></g>
<use href="#d78" fill="url(#ws)" stroke="url(#dg31)" stroke-width="4"/>
<g fill="url(#dg32)"><path id="d79" d="M823 1041l7 16 7-3 6-11 7 3 14-19 6-2 7 7 7-2 7-10 13-11 7 0 7 3 7-4 6-7 14 7 7-2 6-6 21-7 20-10 14 3 6-5 7 0 14-3 13-6 14-10 13-1 7 1 14-8 13-4 14-2 13-5 7-5 7 0 20-7 7-1 20-9 21-3 20-10 7 0 27-8 20-4 20-11 34-9 14-6 7 1 6-2 7-5 27-6 7-5 7-2 27-4 20-10 20-6 7 0 14-6 13 0 27-13 7 1 14-6 13-1 7-6 7-4 7-1 6 1 7-2 14-9 13-2 7-4 7-2 7 1 13-4 6 8-13 5-7-1-7 1-7 4-13 3-14 8-7 2-6-1-7 2-7 4-7 6-13 0-14 6-6-1-28 14-13-1-14 7-6 0-21 6-20 10-27 4-7 2-7 5-27 6-7 5-6 2-7-1-14 6-33 9-21 11-20 4-27 8-7 0-20 10-21 3-20 9-7 1-20 7-7 0-7 5-13 5-14 3-13 3-14 8-6-1-14 1-14 10-13 6-14 4-6 0-7 5-14-3-20 10-20 7-7 6-7 1-13-6-7 7-7 4-7-3-7 0-13 10-7 11-7 2-6-7-7 2-14 18-6-2-7 11-7 3-7-16z"/></g>
<use href="#d79" fill="url(#ws)" stroke="url(#dg32)" stroke-width="4"/>
<g fill="url(#dg33)"><path id="d80" d="M829 1051l7 16 7-3 7-11 6 2 14-18 7-2 6 7 7-2 7-11 13-10 7 0 7 3 7-4 7-7 13 6 7-1 7-6 20-7 20-10 14 3 7-5 6 0 14-4 13-6 14-10 14-1 6 1 14-8 13-3 14-3 13-5 7-5 7 0 20-7 7-1 20-9 21-3 20-10 7 0 27-8 20-4 21-11 33-9 14-6 7 1 6-2 7-5 27-6 7-5 7-2 27-4 20-10 21-6 6 0 14-7 13 1 28-14 6 1 14-6 13 0 7-6 7-4 7-2 6 1 7-2 14-8 13-3 7-4 7-1 7 1 13-5 6 8-13 5-7-1-7 2-7 3-13 3-14 8-6 3-7-1-7 1-7 4-6 6-14 1-14 6-6-1-27 13-14 0-13 6-7 0-21 6-20 10-27 5-7 2-7 5-27 6-6 5-7 1-7 0-13 6-34 9-21 11-20 4-27 8-7 0-20 10-20 3-21 9-7 1-20 7-7 0-6 5-14 6-27 6-14 7-6-1-14 1-13 10-14 6-14 4-6 0-7 5-14-3-20 10-20 7-7 6-7 2-13-6-7 7-7 3-7-3-6 1-14 10-7 10-6 2-7-7-7 3-14 18-6-3-7 11-7 3-7-15z"/></g>
<use href="#d80" fill="url(#ws)" stroke="url(#dg33)" stroke-width="4"/>
<g fill="url(#dg34)"><path id="d81" d="M835 1061l7 15 7-3 7-11 6 3 14-18 7-3 7 7 6-2 7-10 14-10 6-1 7 3 7-3 7-7 13 6 7-2 7-6 20-7 20-10 14 3 7-5 6 0 14-4 14-6 13-10 14-1 6 1 14-7 27-6 14-6 6-5 7 0 20-7 7-1 21-9 20-3 20-10 7 0 27-8 20-4 21-11 34-9 13-6 7 0 7-1 6-5 27-6 7-5 7-2 27-5 20-10 21-6 7 0 13-6 14 0 27-13 6 1 14-6 14-1 6-6 7-4 7-1 7 1 6-3 14-8 13-3 7-3 7-2 7 1 13-5 6 9-13 4-7-1-7 2-6 3-14 3-13 9-7 2-7-1-7 2-7 3-6 6-14 1-13 6-7-1-27 14-14-1-13 7-7 0-20 6-21 10-27 4-7 3-6 4-27 6-7 5-7 2-7 0-13 6-34 9-20 11-21 4-27 8-7 0-20 10-20 4-21 8-6 1-21 7-6 1-7 4-14 6-27 6-13 8-7-1-14 1-13 10-14 6-13 4-7 0-7 5-13-3-21 10-20 7-7 6-7 1-13-5-7 6-7 4-6-3-7 1-14 10-7 10-6 2-7-7-7 3-13 17-7-2-7 11-7 3-7-15z"/></g>
<use href="#d81" fill="url(#ws)" stroke="url(#dg34)" stroke-width="4"/>
<g fill="url(#dg35)"><path id="d82" d="M841 1071l7 15 7-3 7-11 7 2 13-17 7-3 7 7 6-2 7-10 14-10 7-1 6 3 7-4 7-6 13 5 7-1 7-6 20-7 21-10 13 3 7-5 7 0 13-4 14-6 13-10 14-1 7 1 13-8 27-6 14-6 7-4 6-1 21-7 6-1 21-8 20-4 20-10 7 0 27-8 21-4 20-11 34-9 13-6 7 0 7-2 7-5 27-6 6-4 7-3 27-4 21-10 20-6 7 0 13-7 14 1 27-14 7 1 13-6 14-1 6-6 7-3 7-2 7 1 7-2 13-9 14-3 6-3 7-2 7 1 13-4 7 8-14 4-7 0-6 1-7 4-14 3-13 8-7 2-7-1-7 2-6 4-7 6-14 0-13 6-7 0-27 13-14 0-13 6-7 1-20 6-21 9-27 5-6 2-7 5-27 6-7 5-7 2-7 0-13 6-34 9-20 11-21 4-27 8-7 0-20 10-20 4-20 8-7 1-21 8-6 0-7 4-14 6-27 6-13 8-7-1-14 1-13 10-14 6-13 4-7 0-7 5-13-3-21 10-20 7-7 6-6 2-14-6-7 7-7 3-6-2-7 1-14 9-6 11-7 2-7-7-7 3-13 17-7-3-7 11-7 3-6-14z"/></g>
<use href="#d82" fill="url(#ws)" stroke="url(#dg35)" stroke-width="4"/>
<g stroke="url(#dg36)" stroke-width="10"><path id="d83" d="M851 1085l7 14 6-3 7-10 7 2 14-17 6-3 7 7 7-2 7-10 13-10 7-1 7 3 6-4 7-6 14 5 7-2 6-5 21-7 20-11 13 3 7-5 7 0 14-4 13-6 14-10 13-1 7 1 13-8 28-6 13-6 7-4 7-1 20-7 7-1 20-8 20-4 21-10 6 0 28-8 20-4 20-12 34-9 14-6 6 1 7-2 7-5 27-6 7-5 6-2 28-5 20-10 20-6 7 0 13-6 14 0 27-14 7 1 13-6 14-1 7-6 6-4 7-1 7 1 7-3 13-8 14-3 7-3 6-2 7 1 14-5"/></g>
<use href="#d83" stroke="#fff" stroke-opacity="0.6" stroke-width="4.2" stroke-dasharray="3 3.8"/>
<g stroke="url(#dg37)" stroke-width="7.7"><path id="d84" d="M857 1088l7 15 7-4 7-10 7 2 13-17 7-3 7 7 6-2 7-10 14-10 6-1 7 3 7-4 7-7 13 6 7-2 7-6 20-7 20-10 14 3 7-5 6 0 14-4 13-6 14-10 13-1 7 1 14-8 27-6 13-6 7-5 7 0 20-7 7-1 20-9 20-3 21-10 6 0 28-9 20-4 20-11 34-9 13-6 7 0 7-2 7-5 27-6 7-5 6-2 27-4 21-10 20-6 7-1 13-6 14 0 27-13 7 0 13-6 14-1 6-6 7-3 7-2 7 1 6-2 14-8 13-4 7-3 7-2 7 1 13-5"/></g>
<use href="#d84" stroke="#fff" stroke-opacity="0.6" stroke-width="1.9" stroke-dasharray="3 3.8"/>
<g stroke="url(#dg38)" stroke-width="7.7"><path id="d85" d="M864 1091l7 15 7-4 6-10 7 2 14-17 6-3 7 7 7-2 7-10 13-10 7-1 7 3 6-4 7-7 14 6 6-2 7-6 21-7 20-10 13 3 7-5 7 0 13-4 14-6 13-10 14-1 7 1 13-8 27-6 14-6 6-5 7 0 20-7 7-1 20-9 21-3 20-10 7 0 27-9 20-4 20-11 34-10 13-6 7 1 7-2 7-5 27-6 6-5 7-2 27-5 20-10 21-6 6 0 14-7 13 0 28-13 6 1 14-6 13-1 7-6 7-4 7-2 6 1 7-2 14-8 13-3 7-4 7-2 6 1 14-4"/></g>
<use href="#d85" stroke="#fff" stroke-opacity="0.6" stroke-width="1.9" stroke-dasharray="3 3.8"/>
<g stroke="url(#dg39)" stroke-width="7.7"><path id="d86" d="M871 1094l7 15 6-4 7-10 7 2 13-17 7-3 7 7 7-2 6-10 14-10 7-1 6 3 7-4 7-7 13 6 7-2 7-6 20-7 20-10 14 3 6-5 7 0 14-4 13-6 14-10 13-1 7 0 13-7 27-7 14-5 7-5 6 0 21-8 6-1 21-8 20-4 20-10 7 0 27-9 20-4 20-11 34-9 13-6 7 0 7-2 7-5 27-6 6-5 7-2 27-5 20-9 21-7 6 0 14-6 13 0 27-14 7 1 13-6 14-1 7-6 6-4 7-1 7 1 7-3 13-8 14-3 6-4 7-1 7 0 13-4"/></g>
<use href="#d86" stroke="#fff" stroke-opacity="0.6" stroke-width="1.9" stroke-dasharray="3 3.8"/>
<g stroke="url(#dg40)" stroke-width="9.2"><path id="d87" d="M878 1098l7 14 6-3 7-11 7 2 13-17 7-3 7 7 6-2 7-10 14-10 6-1 7 3 7-4 7-6 13 5 7-2 7-6 20-7 20-10 13 3 7-5 7 0 13-4 14-6 13-10 14-1 7 0 13-7 27-7 13-5 7-5 7 0 20-8 7-1 20-8 20-4 20-10 7 0 27-9 20-4 21-11 33-9 14-6 6 0 7-2 7-5 27-6 7-5 6-2 27-5 20-10 21-6 6 0 14-7 13 0 27-13 7 0 13-6 14 0 7-6 6-4 7-2 7 1 7-2 13-9 14-3 6-3 7-2 7 1 13-5"/></g>
<use href="#d87" stroke="#fff" stroke-opacity="0.6" stroke-width="3.3" stroke-dasharray="3 3.8"/>
<g fill="url(#dg41)"><path id="d88" d="M881 1101l7 14 6-3 7-11 7 2 13-17 7-3 7 7 7-2 6-10 14-10 6-1 7 3 7-4 7-6 13 5 7-2 7-6 20-7 20-10 13 3 7-5 7 0 13-4 14-7 13-9 14-2 6 1 14-7 27-7 13-6 7-4 7-1 20-7 7-1 20-9 20-3 20-10 7 0 27-9 20-4 20-11 34-10 13-6 7 1 7-2 7-5 27-6 6-5 7-3 27-4 20-10 20-6 7-1 13-6 14 0 27-14 7 1 13-6 14-1 6-6 7-4 7-1 6 1 7-3 14-8 13-3 7-4 7-1 6 0 14-4 5 12-13 4-7 0-7 2-7 3-13 3-13 9-7 2-7-1-7 2-13 10-13 1-14 6-7-1-26 14-14 0-13 6-7 0-20 7-20 10-27 5-7 2-7 5-27 6-6 5-7 2-7-1-13 7-34 9-20 11-20 4-27 9-7 0-20 10-20 4-20 9-7 1-20 7-7 1-6 4-14 6-27 7-13 7-7-1-13 2-14 9-13 7-13 4-7 0-7 5-13-3-21 11-20 7-6 5-7 2-14-5-6 7-7 3-7-2-6 1-14 9-7 10-6 2-7-6-7 3-13 17-7-2-7 10-6 3-7-14z"/></g>
<use href="#d88" fill="url(#ws)" stroke="url(#dg41)" stroke-width="4"/>
<g fill="url(#dg42)"><path id="d89" d="M888 1115l7 14 6-3 7-10 7 2 13-17 7-3 7 6 6-2 7-10 14-9 6-1 7 2 7-3 6-7 14 5 7-2 6-5 20-7 21-11 13 3 7-5 7 0 13-4 13-7 14-9 13-2 7 1 13-7 27-7 14-6 6-4 7-1 20-7 7-1 20-9 20-4 20-10 7 0 27-9 20-4 20-11 34-9 13-7 7 1 7-2 6-5 27-6 7-5 7-2 27-5 20-10 20-7 7 0 13-6 14 0 26-14 7 1 14-6 13-1 13-10 7-2 7 1 7-2 13-9 13-3 7-3 7-2 7 0 13-4 5 12-13 5-7-1-7 2-6 4-14 3-13 8-7 2-6 0-7 1-14 10-13 1-13 6-7 0-27 13-13 0-14 7-6 0-21 7-20 9-26 6-7 2-7 5-27 6-6 5-7 2-7 0-13 6-34 9-20 12-20 4-27 9-6 0-21 10-20 4-20 9-6 1-21 7-6 0-7 5-13 6-27 6-14 8-6-1-14 2-13 9-13 7-14 4-7 0-6 5-14-2-20 10-20 7-7 6-6 2-14-5-6 6-7 4-7-3-7 1-13 10-7 10-6 2-7-6-7 2-13 17-7-2-7 10-6 3-7-13z"/></g>
<use href="#d89" fill="url(#ws)" stroke="url(#dg42)" stroke-width="4"/>
<g fill="url(#dg43)"><path id="d90" d="M895 1130l7 13 6-3 7-10 7 2 13-17 7-2 7 6 6-2 7-10 13-10 7-1 7 3 7-4 6-6 14 5 6-2 7-6 20-7 20-10 14 2 6-5 7 0 14-4 13-7 13-9 14-2 6 1 14-8 27-6 13-6 7-5 6 0 21-7 6-1 20-9 20-4 21-10 6 0 27-9 20-4 20-12 34-9 13-6 7 0 7-2 6-5 27-6 7-5 7-2 26-6 20-9 21-7 6 0 14-7 13 0 27-13 7 0 13-6 13-1 14-10 7-1 6 0 7-2 13-8 14-3 6-4 7-2 7 1 13-5 6 13-13 5-7 0-7 1-6 4-14 3-13 8-7 3-7-1-6 2-14 9-13 1-14 6-6 0-27 13-13 1-14 6-6 1-21 6-20 10-26 5-7 2-7 5-27 6-6 5-7 2-7 0-13 6-34 9-20 12-20 4-27 9-6 0-20 10-20 4-21 9-6 1-20 7-7 1-7 4-13 6-27 7-13 7-20 1-14 9-13 7-14 4-6 0-7 5-13-2-20 10-20 7-7 5-7 2-13-4-7 6-7 4-6-2-7 0-13 10-7 9-7 2-7-5-6 2-14 17-6-2-7 10-7 3-6-13z"/></g>
<use href="#d90" fill="url(#ws)" stroke="url(#dg43)" stroke-width="4"/>
<g fill="url(#dg44)"><path id="d91" d="M902 1143l6 13 7-3 7-10 6 2 14-17 6-2 7 5 7-2 7-9 13-10 7 0 6 2 7-4 7-6 13 4 7-2 7-5 20-7 20-10 13 2 7-5 6 0 14-4 13-7 14-9 20-1 13-7 27-7 13-6 7-4 7-1 20-7 6-1 21-9 20-4 20-10 6 0 27-9 20-4 20-12 34-9 13-6 7 0 7-2 6-5 27-6 7-5 7-2 26-5 20-10 21-6 6-1 14-6 13-1 27-13 6 0 14-6 13-1 14-9 6-2 7 1 7-3 13-8 14-3 6-4 7-1 7 0 13-5 7 16-14 4-6 0-7 2-7 3-13 3-14 8-6 2-7 0-7 2-13 9-13 1-14 6-7-1-26 13-14 1-13 6-7 0-20 6-20 10-27 5-7 2-6 5-27 6-7 5-7 2-6 0-14 6-33 9-20 11-21 4-26 9-7 0-20 10-20 3-20 9-27 8-7 1-7 4-13 6-27 6-13 8-20 1-14 9-13 6-14 4-6 0-7 5-14-2-20 10-20 7-7 5-6 2-14-5-6 6-7 4-7-2-6 1-14 9-7 9-6 2-7-5-7 2-13 16-7-2-7 10-6 3-7-13z"/></g>
<use href="#d91" fill="url(#ws)" stroke="url(#dg44)" stroke-width="4"/>
<g fill="url(#dg45)"><path id="d92" d="M907 1151l7 13 6-3 7-10 7 2 13-16 7-2 7 5 6-2 7-9 14-9 6-1 7 2 7-4 6-6 14 5 6-2 7-5 20-7 20-10 14 2 7-5 6 0 14-4 13-6 14-9 20-1 13-8 27-6 13-6 7-4 7-1 27-8 20-9 20-3 20-10 7 0 26-9 21-4 20-11 33-9 14-6 6 0 7-2 7-5 27-6 6-5 7-2 27-5 20-10 20-6 7 0 13-6 14-1 26-13 7 1 14-6 13-1 13-9 7-2 7 0 6-2 14-8 13-3 7-3 7-2 6 0 14-4 7 15-14 4-7 0-6 2-7 3-13 3-21 10-6 0-7 1-13 9-14 1-13 6-7 0-27 12-13 1-14 6-6 0-21 6-20 10-27 5-6 2-7 4-27 6-7 5-6 2-7 0-14 5-33 10-20 10-20 4-27 9-7 0-20 9-20 4-20 8-27 8-7 1-7 4-13 6-27 6-13 7-21 1-13 9-14 6-13 4-7 0-6 5-14-2-20 9-20 7-7 5-7 2-13-4-7 6-6 3-7-2-7 1-13 9-7 9-7 2-6-5-7 2-14 16-6-2-7 9-7 3-6-12z"/></g>
<use href="#d92" fill="url(#ws)" stroke="url(#dg45)" stroke-width="4"/>
<g fill="url(#dg46)"><path id="d93" d="M913 1160l6 12 7-3 7-9 6 2 14-16 7-2 6 5 7-2 7-9 13-9 7-1 7 2 6-3 7-6 13 4 7-2 7-5 20-7 20-9 14 2 6-5 7 0 13-4 14-6 13-9 21-1 13-7 27-6 13-6 7-4 7-1 27-8 20-8 20-4 20-9 7 0 27-9 20-4 20-10 33-10 14-5 7 0 6-2 7-5 27-6 7-4 6-2 27-5 20-10 21-6 6 0 14-6 13-1 27-12 7 0 13-6 14-1 13-9 7-1 6 0 21-10 13-3 7-3 6-2 7 0 14-4 6 11-13 4-7 0-7 1-7 4-13 3-20 9-7 0-7 2-13 8-14 2-13 5-7 0-27 12-13 1-13 5-7 1-20 6-21 9-26 5-7 2-7 5-27 6-6 4-7 2-7 0-13 6-34 9-20 10-20 4-27 9-7 0-20 9-20 4-20 8-27 8-7 0-7 5-13 5-27 6-13 7-21 2-13 8-13 6-14 4-7 0-6 5-14-2-20 9-20 7-7 5-7 2-13-4-7 5-6 4-7-2-7 1-13 9-7 9-7 1-6-5-7 3-14 15-6-2-7 10-7 3-7-13z"/></g>
<use href="#d93" fill="url(#ws)" stroke="url(#dg46)" stroke-width="4"/>
<g stroke="url(#dg47)" stroke-width="9.5"><path id="d94" d="M922 1170l7 12 6-3 7-9 7 1 13-15 7-3 7 6 6-2 7-9 13-9 7-1 7 2 7-3 6-6 14 4 6-2 7-5 20-6 20-10 14 2 7-5 6 0 14-4 13-6 14-8 20-2 13-7 27-6 13-5 7-5 7 0 27-8 20-8 20-4 20-9 7-1 27-8 20-4 20-11 34-9 13-5 7 0 7-2 6-5 27-6 7-4 7-2 26-5 21-10 20-5 6-1 14-6 13 0 27-13 7 0 13-5 14-1 13-9 7-2 7 1 20-10 13-3 7-3 7-2 6 0 14-4"/></g>
<use href="#d94" stroke="#fff" stroke-opacity="0.6" stroke-width="2.7" stroke-dasharray="3 3.8"/>
<g stroke="url(#dg48)" stroke-width="9.5"><path id="d95" d="M929 1175l6 12 7-3 7-9 6 1 14-15 7-3 6 6 7-2 7-9 13-9 7-1 6 2 7-3 7-6 13 4 7-2 7-5 20-7 20-10 13 2 7-4 7-1 13-4 14-5 13-9 20-1 14-7 26-7 14-5 7-5 6 0 27-8 20-9 20-3 20-10 7 0 27-9 20-4 20-10 34-9 13-6 7 0 7-2 6-4 27-7 7-4 6-2 27-6 20-9 21-6 6 0 14-6 13-1 27-12 7 0 13-6 13-1 14-9 7-2 6 1 20-10 14-3 6-3 7-2 7 0 13-4"/></g>
<use href="#d95" stroke="#fff" stroke-opacity="0.6" stroke-width="2.7" stroke-dasharray="3 3.8"/>
<g stroke="url(#dg49)" stroke-width="9.5"><path id="d96" d="M935 1180l7 12 7-3 6-9 7 1 14-15 6-3 7 6 7-2 6-9 14-9 6-1 7 2 7-4 7-6 13 5 7-2 6-6 20-6 20-10 14 2 7-5 6 0 14-4 13-6 13-9 21-1 13-7 27-7 13-5 7-5 6 0 27-8 20-9 20-4 21-9 6 0 27-9 20-4 20-11 34-9 13-6 7 0 6-2 7-4 27-7 7-4 6-2 27-6 20-9 20-6 7-1 13-6 14 0 27-13 6 0 14-5 13-2 13-9 7-1 7 0 20-10 13-3 7-3 7-2 6 0 14-4"/></g>
<use href="#d96" stroke="#fff" stroke-opacity="0.6" stroke-width="2.7" stroke-dasharray="3 3.8"/>
<g stroke="url(#dg50)" stroke-width="9.5"><path id="d97" d="M942 1185l7 12 7-3 6-9 7 1 13-15 7-3 7 5 6-2 7-8 13-10 7 0 7 1 6-3 7-6 13 4 7-2 7-5 20-7 20-10 13 2 7-4 7-1 13-4 13-6 14-9 20-1 13-7 27-7 20-10 7 0 27-9 20-8 20-4 20-9 6-1 27-9 20-4 20-11 34-9 13-6 7 0 6-2 7-4 27-7 7-4 6-2 27-6 20-9 20-6 7-1 13-6 14-1 26-12 7 0 13-6 14-1 13-9 7-2 6 1 21-10 13-4 7-3 6-2 7 0 13-4"/></g>
<use href="#d97" stroke="#fff" stroke-opacity="0.6" stroke-width="2.7" stroke-dasharray="3 3.8"/>
<g stroke="url(#dg51)" stroke-width="9.5"><path id="d98" d="M949 1190l7 12 6-3 7-10 7 2 13-15 7-3 6 5 7-2 7-9 13-9 7-1 6 2 7-3 7-6 13 4 7-2 6-5 20-7 21-10 13 1 7-4 6-1 14-4 13-6 13-8 20-2 14-7 26-7 20-10 7 0 27-9 20-8 20-4 20-10 7 0 26-9 20-5 20-10 34-10 13-6 7 0 6-2 7-4 27-7 6-4 7-2 27-6 20-9 20-7 7 0 13-6 13-1 27-13 7 0 13-5 13-2 14-9 6-2 7 1 20-10 13-4 7-3 7-2 7 1 13-5"/></g>
<use href="#d98" stroke="#fff" stroke-opacity="0.6" stroke-width="2.7" stroke-dasharray="3 3.8"/>
<g stroke="url(#dg52)" stroke-width="9.5"><path id="d99" d="M956 1195l6 12 7-3 7-10 6 2 14-15 6-3 7 5 7-2 6-9 14-9 6-1 7 2 7-4 6-5 14 3 6-2 7-5 20-7 20-10 13 2 7-5 7 0 13-4 13-6 14-9 20-2 13-7 27-7 20-10 6-1 27-8 20-9 20-4 20-9 7-1 26-9 20-4 20-11 34-9 13-6 7 0 6-2 7-5 27-7 6-4 7-2 27-6 20-10 20-6 6-1 14-6 13 0 27-13 6 0 14-6 13-1 13-9 7-2 7 0 20-10 13-3 7-4 6-2 7 1 13-5"/></g>
<use href="#d99" stroke="#fff" stroke-opacity="0.6" stroke-width="2.7" stroke-dasharray="3 3.8"/>
<g stroke="url(#dg53)" stroke-width="9.9"><path id="d100" d="M963 1201l7 11 6-3 7-9 7 1 13-15 7-3 6 5 7-2 7-9 13-9 7-1 6 2 7-3 7-6 13 3 7-2 6-5 20-7 20-10 13 2 7-5 7-1 13-4 13-6 14-9 20-1 13-8 27-7 20-10 6 0 27-9 20-8 20-5 20-9 6-1 27-9 20-4 20-11 33-10 14-6 6 0 7-2 7-5 26-6 7-5 6-2 27-6 20-10 20-6 7-1 13-6 13 0 27-13 7 0 13-6 13-2 14-9 6-2 7 1 20-10 13-4 7-3 6-2 7 0 13-5"/></g>
<use href="#d100" stroke="#fff" stroke-opacity="0.6" stroke-width="3.7" stroke-dasharray="3 3.8"/>
<g fill="url(#dg54)"><path id="d101" d="M966 1203l6 12 7-3 7-10 6 2 14-15 6-3 7 5 7-2 6-9 14-9 6-1 7 2 6-4 7-6 13 4 7-2 7-5 20-7 20-10 13 1 7-4 6-1 14-4 13-6 13-9 20-2 14-7 26-7 20-10 7-1 26-8 20-9 20-4 20-10 7 0 27-9 20-5 19-11 34-9 13-6 7 0 6-2 7-5 27-7 6-4 7-3 27-5 20-10 20-6 6-1 13-6 14-1 26-13 7 0 13-6 14-1 13-9 7-2 6 0 20-10 14-3 6-4 7-2 7 0 13-4 7 16-13 4-7 0-7 2-6 3-14 4-20 9-6 0-7 2-13 9-14 1-13 6-7 0-27 12-13 1-13 6-27 7-20 10-27 5-6 2-7 5-27 6-6 5-7 2-7 0-13 6-33 9-20 11-20 4-27 9-7 1-20 9-20 4-20 8-26 9-7 0-20 10-27 7-13 7-20 2-13 8-14 6-13 4-7 1-6 4-14-1-20 10-20 7-6 5-7 2-13-4-7 6-7 3-6-2-7 1-13 9-7 9-7 2-6-5-7 3-13 15-7-2-7 9-6 3-7-11z"/></g>
<use href="#d101" fill="url(#ws)" stroke="url(#dg54)" stroke-width="4"/>
<g fill="url(#dg55)"><path id="d102" d="M971 1212l7 11 6-3 7-9 7 2 13-15 7-3 6 5 7-2 7-9 13-9 7-1 6 2 7-3 7-6 13 4 7-2 6-5 20-7 20-10 14 1 6-4 7-1 13-4 14-6 13-8 20-2 13-7 27-7 20-10 7 0 26-9 20-8 20-4 20-9 7-1 27-9 20-4 20-11 33-9 13-6 7 0 7-2 6-5 27-6 7-5 6-2 27-5 20-10 27-7 13-6 13-1 27-12 7 0 13-6 14-1 13-9 7-2 6 0 20-9 14-4 6-3 7-2 7 0 13-4 7 16-13 4-7 0-7 2-7 3-13 3-20 10-7-1-6 2-14 9-13 1-13 6-7 0-27 12-13 1-14 5-26 7-20 9-27 6-7 2-6 4-27 7-7 4-7 2-6 0-14 6-33 9-20 10-20 5-27 8-6 1-21 9-20 4-20 8-26 8-7 1-20 9-27 7-13 7-20 2-14 8-13 6-20 4-7 5-13-2-20 10-20 7-7 4-7 2-13-3-7 5-6 4-7-2-7 1-13 9-7 8-6 2-7-5-7 3-13 14-7-1-6 9-7 3-7-11z"/></g>
<use href="#d102" fill="url(#ws)" stroke="url(#dg55)" stroke-width="4"/>
<g fill="#0049ff"><path id="d103" d="M976 1221l7 11 7-3 6-9 7 1 13-14 7-3 7 5 6-2 7-8 13-9 7-1 7 2 6-4 7-5 13 3 7-2 7-4 20-7 20-10 13 2 7-5 20-4 13-6 14-8 20-2 13-7 27-7 20-9 7-1 26-8 20-8 20-4 21-9 6-1 27-8 20-5 20-10 33-9 14-6 6 0 7-2 7-4 27-7 6-4 7-2 27-6 20-9 26-7 14-5 13-1 27-12 7 0 13-6 13-1 14-9 6-2 7 1 20-10 13-3 7-3 7-2 7 0 13-4 7 14-13 4-14 2-20 6-20 9-7 0-6 2-14 8-13 2-14 5-6 0-27 12-13 1-14 6-27 6-20 9-27 6-6 2-7 4-27 6-6 4-7 2-7 0-13 6-34 9-20 10-20 4-27 9-6 0-20 9-21 4-20 8-26 8-7 1-20 9-27 7-13 6-20 2-14 8-13 6-20 4-7 4-13-1-21 9-20 7-6 5-7 2-13-4-7 6-7 3-7-1-6 0-14 9-6 8-7 2-7-5-6 3-14 14-7-1-6 8-7 3-7-10z"/></g>
<use href="#d103" fill="url(#ws)" stroke="#0049ff" stroke-width="4"/>
<g fill="#003eff"><path id="d104" d="M981 1230l7 10 7-3 6-8 7 1 14-14 6-3 7 5 7-2 6-8 14-9 6 0 7 1 7-3 7-6 13 4 7-2 6-5 20-7 21-9 13 1 7-4 20-4 13-6 14-8 20-2 13-6 27-7 20-9 7-1 26-8 20-8 21-4 20-9 6 0 27-9 20-4 20-10 34-9 13-6 7 0 7-2 6-4 27-6 7-4 6-2 27-6 20-9 27-6 14-6 13-1 27-12 6 0 14-5 13-2 14-8 6-2 7 0 20-9 20-6 14-2 13-4 7 10-13 4-14 2-20 6-20 10-7-1-6 2-14 8-13 2-14 5-6 0-27 12-14 1-13 5-27 7-20 9-27 5-7 3-6 4-27 6-7 4-13 2-14 6-33 9-21 10-20 4-27 8-6 1-20 9-21 4-20 8-27 8-6 0-20 9-27 7-14 7-20 1-13 8-14 6-20 4-7 5-13-2-20 9-20 7-7 5-7 2-13-4-7 6-6 3-7-1-7 0-13 9-7 8-7 2-6-5-7 3-14 14-6-2-7 9-7 3-6-11z"/></g>
<use href="#d104" fill="url(#ws)" stroke="#003eff" stroke-width="4"/>
<g fill="#0032ff"><path id="d105" d="M987 1238l6 11 7-3 7-9 6 2 14-14 7-3 6 5 7-2 7-8 13-9 7 0 7 1 6-3 7-6 13 4 7-2 7-5 20-7 20-9 13 2 7-5 20-4 14-6 13-8 20-1 14-7 27-7 20-9 6 0 27-8 20-8 21-4 20-9 6-1 27-8 20-4 21-10 33-9 14-6 13-2 7-4 27-6 6-4 7-3 27-5 20-9 27-7 13-5 14-1 27-12 6 0 14-5 13-2 14-8 6-2 7 1 20-10 20-6 14-2 13-4 7 10-13 4-14 2-20 7-20 9-7-1-6 2-14 8-13 2-14 5-7 0-26 12-14 1-13 5-27 7-21 9-26 5-7 2-7 4-27 7-7 4-13 2-13 5-34 9-20 10-20 5-27 8-7 0-20 9-21 4-20 8-27 8-6 1-21 9-26 6-14 7-20 2-14 8-13 5-20 4-7 5-13-1-21 9-20 6-6 5-7 2-14-4-13 9-7-2-7 1-13 9-7 8-7 2-6-5-7 3-13 13-7-1-7 9-7 2-6-10z"/></g>
<use href="#d105" fill="url(#ws)" stroke="#0032ff" stroke-width="4"/>
<g fill="#0027ff"><path id="d106" d="M992 1247l6 10 7-2 7-9 7 1 13-13 7-3 6 5 7-2 7-8 13-9 7-1 7 2 13-9 14 4 7-2 6-5 20-6 21-9 13 1 7-5 20-4 13-5 14-8 20-2 14-7 26-6 21-9 6-1 27-8 20-8 21-4 20-9 7 0 27-8 20-5 20-10 34-9 13-5 13-2 7-4 27-7 7-4 7-2 26-5 21-9 27-7 13-5 14-1 26-12 7 0 14-5 13-2 14-8 6-2 7 1 20-9 20-7 14-2 13-4 7 11-13 4-14 2-20 6-20 9-7 0-6 1-14 8-13 2-14 5-7 0-27 12-13 1-14 5-27 7-20 9-27 5-13 6-27 7-7 4-14 2-13 5-34 9-20 10-20 4-27 8-7 1-20 9-20 4-21 7-27 8-6 1-21 9-27 6-13 7-20 2-14 8-13 5-21 5-6 4-14-1-20 9-20 6-7 5-7 2-13-3-14 8-7-2-6 1-14 9-7 7-6 2-7-4-7 3-13 13-7-1-7 8-6 3-7-10z"/></g>
<use href="#d106" fill="url(#ws)" stroke="#0027ff" stroke-width="4"/>
<g fill="#001bff"><path id="d107" d="M997 1256l7 10 6-3 7-8 7 1 13-13 7-3 7 4 6-2 7-7 14-9 6-1 7 2 14-8 13 3 7-2 7-5 20-6 20-9 14 1 6-4 21-5 13-5 14-8 20-2 13-7 27-6 21-9 6-1 27-8 21-7 20-4 20-9 7-1 27-8 20-4 20-10 34-9 13-5 14-2 7-4 27-7 13-6 27-5 20-9 27-7 14-5 13-1 27-12 7 0 14-5 13-2 14-8 6-1 7 0 20-9 20-6 14-2 13-4 8 10-14 4-13 2-21 6-20 9-14 1-13 8-14 2-13 5-7 0-27 12-13 1-14 5-27 7-20 8-27 6-14 6-27 6-7 4-13 2-14 6-34 9-20 9-20 5-27 8-7 0-20 9-20 4-21 8-27 8-7 0-20 9-27 7-13 6-21 2-13 8-14 5-20 5-7 4-13-1-21 9-20 6-7 5-6 1-14-2-13 8-7-2-7 1-13 8-7 8-7 2-7-4-7 2-13 14-7-2-7 9-6 2-7-9z"/></g>
<use href="#d107" fill="url(#ws)" stroke="#001bff" stroke-width="4"/>
<g fill="#01f"><path id="d108" d="M1002 1265l7 9 6-2 7-9 7 2 13-14 7-2 7 4 7-2 7-8 13-8 7-1 7 2 13-8 14 2 6-1 7-5 20-6 21-9 13 1 7-4 20-5 14-5 13-8 21-2 13-6 27-7 20-9 7 0 27-8 21-8 20-4 20-9 7 0 27-8 20-5 20-9 34-9 14-6 13-2 7-4 27-6 14-6 27-6 20-8 27-7 14-5 13-1 27-12 7 0 13-5 14-2 13-8 14-1 20-9 21-6 13-2 14-4 6 10-13 4-14 2-20 6-20 9-14 2-13 7-14 2-14 5-6 0-27 12-14 1-13 5-28 7-20 8-27 6-13 6-28 6-6 4-14 2-13 6-34 9-21 9-20 4-27 9-7 0-20 9-20 4-21 7-27 8-7 1-20 9-27 6-13 6-21 3-13 7-14 6-20 4-7 4-14-1-20 9-20 6-7 5-7 2-13-3-14 8-7-1-6 1-14 8-7 7-6 2-7-4-7 3-13 13-7-1-7 8-7 2-7-9z"/></g>
<use href="#d108" fill="url(#ws)" stroke="#01f" stroke-width="4"/>
<g fill="#0009ff"><path id="d109" d="M1007 1274l7 9 7-2 7-8 7 1 13-13 7-3 7 4 6-2 7-7 14-8 6-1 7 1 14-8 13 3 7-2 7-5 20-6 20-9 14 1 7-4 20-4 14-6 13-7 21-3 13-6 27-6 20-9 7-1 27-8 21-7 20-4 20-9 7 0 27-9 20-4 21-9 34-9 13-6 14-2 6-4 28-6 13-6 27-6 20-8 28-7 13-5 14-1 27-12 6 0 14-5 14-2 13-7 14-2 20-9 20-6 14-2 13-4 6 10-47 12-20 9-14 2-13 7-14 2-13 5-7 1-27 11-14 1-13 5-27 7-21 8-27 6-13 6-27 6-7 4-14 2-13 6-34 9-20 9-21 4-27 8-7 1-20 9-20 4-21 7-27 8-6 1-21 9-27 6-13 6-21 2-13 8-14 5-20 5-7 4-13-1-21 9-20 6-7 5-6 2-14-3-14 8-6-1-7 1-14 8-6 7-7 2-7-4-7 2-13 13-7-1-7 8-7 3-6-9z"/></g>
<use href="#d109" fill="url(#ws)" stroke="#0009ff" stroke-width="4"/>
<g fill="#0001ff"><path id="d110" d="M1014 1284l6 9 7-3 7-8 7 1 13-13 7-2 7 4 7-2 6-7 14-8 7-1 6 1 14-8 14 3 6-2 7-5 20-6 21-9 13 1 7-4 20-5 14-5 13-8 21-2 13-6 27-6 21-9 6-1 27-8 21-7 20-4 20-9 7-1 27-8 21-4 20-9 34-9 13-6 14-2 7-4 27-6 13-6 27-6 21-8 27-7 13-5 14-1 27-11 7-1 13-5 14-2 13-7 14-2 20-9 47-12 6 10-47 12-20 9-14 2-13 7-14 2-13 5-7 1-27 11-14 1-13 5-27 7-21 8-27 6-13 6-27 6-7 4-14 2-13 6-34 9-20 9-21 4-27 8-6 1-21 8-20 5-20 7-34 9-21 8-27 7-13 6-20 2-14 8-13 5-21 5-7 4-13-1-20 9-21 6-6 4-7 2-14-2-13 8-7-1-7 1-13 7-7 8-7 2-7-4-6 2-14 13-7-1-7 8-6 2-7-9z"/></g>
<use href="#d110" fill="url(#ws)" stroke="#0001ff" stroke-width="4"/>
<g fill="#0000f8"><path id="d111" d="M1020 1293l7 9 6-2 7-8 7 1 14-13 6-2 7 4 7-2 7-8 13-7 7-1 7 1 13-8 14 2 7-2 6-4 21-6 20-9 13 1 7-4 21-5 13-5 14-8 20-2 13-6 27-7 21-8 34-9 20-7 20-5 21-8 6-1 27-8 21-4 20-9 34-9 13-6 14-2 7-4 27-6 13-6 27-6 21-8 27-7 13-5 14-1 27-11 7-1 13-5 14-2 13-7 14-2 20-9 47-12 6 10-47 13-20 8-14 2-13 7-14 2-13 5-7 1-27 11-14 1-13 5-27 7-21 8-27 6-13 6-27 6-7 4-14 2-13 6-34 9-20 9-54 13-21 8-20 5-20 7-34 9-20 8-27 7-14 6-20 2-14 8-13 5-21 5-6 3-14 0-20 9-20 6-7 4-7 2-14-2-13 8-7-1-7 1-13 7-7 8-7 1-6-3-7 2-14 13-7-1-6 7-7 3-7-9z"/></g>
<use href="#d111" fill="url(#ws)" stroke="#0000f8" stroke-width="4"/>
<g fill="#0000ef"><path id="d112" d="M1026 1303l7 9 7-3 6-7 7 1 14-13 7-2 6 3 7-1 7-8 13-7 7-1 7 1 13-8 14 2 7-2 7-4 20-6 20-9 14 0 6-3 21-5 13-5 14-8 20-2 14-6 27-7 20-8 34-9 20-7 20-5 21-8 54-13 20-9 34-9 13-6 14-2 7-4 27-6 13-6 27-6 21-8 27-7 13-5 14-1 27-11 7-1 13-5 14-2 13-7 14-2 20-8 47-13 7 10-48 13-20 8-14 2-13 7-14 2-13 5-7 1-27 11-14 1-13 5-27 7-20 8-28 6-13 6-27 6-7 4-13 2-14 6-34 9-20 9-54 13-20 8-21 5-20 7-34 9-20 8-27 7-14 6-20 2-14 8-13 5-20 5-7 3-14 0-20 8-20 7-7 4-7 2-13-2-14 8-7-1-6 1-14 7-7 7-6 2-7-3-7 2-14 12-6-1-7 8-7 3-7-9z"/></g>
<use href="#d112" fill="url(#ws)" stroke="#0000ef" stroke-width="4"/>
<g fill="#0000e7"><path id="d113" d="M1032 1313l7 9 7-3 7-8 6 1 14-12 7-2 7 3 6-2 7-7 14-7 6-1 7 1 14-8 13 2 7-2 7-4 20-7 20-8 14 0 7-3 20-5 13-5 14-8 20-2 14-6 27-7 20-8 34-9 20-7 21-5 20-8 54-13 20-9 34-9 14-6 13-2 7-4 27-6 13-6 28-6 20-8 27-7 13-5 14-1 27-11 7-1 13-5 14-2 13-7 14-2 20-8 48-13 6 11-48 12-20 8-14 2-13 8-14 2-13 5-7 0-27 11-13 1-14 6-27 6-20 9-27 5-14 6-27 7-7 3-13 3-14 5-34 9-20 9-54 13-20 8-21 5-20 7-34 9-20 8-27 7-14 6-20 2-13 8-14 5-20 4-7 4-14 0-20 8-20 7-7 4-7 2-13-2-14 7-6-1-7 2-14 7-7 7-6 2-7-4-7 3-13 12-7-1-7 7-7 3-6-8z"/></g>
<use href="#d113" fill="url(#ws)" stroke="#0000e7" stroke-width="4"/>
<g fill="#00d"><path id="d114" d="M1039 1323l6 8 7-3 7-7 7 1 13-12 7-3 7 4 6-2 7-7 14-7 7-2 6 1 14-7 13 2 7-2 7-4 20-7 20-8 14 0 7-4 20-4 14-5 13-8 20-2 14-6 27-7 20-8 34-9 20-7 21-5 20-8 54-13 20-9 34-9 14-5 13-3 7-3 27-7 14-6 27-5 20-9 27-6 14-6 13-1 27-11 7 0 13-5 14-2 13-8 14-2 20-8 48-12 6 11-47 12-21 8-13 2-14 7-13 2-14 5-7 1-27 11-13 1-14 5-27 7-20 8-27 6-14 5-27 7-7 4-13 2-14 5-33 9-21 9-54 13-20 8-20 5-21 7-34 9-20 8-27 7-13 6-21 2-13 7-14 5-20 5-7 4-13 0-41 14-7 4-7 2-13-2-14 8-6-1-7 1-14 7-6 7-7 2-7-3-7 2-13 12-7-1-7 7-7 3-6-8z"/></g>
<use href="#d114" fill="url(#ws)" stroke="#00d" stroke-width="4"/>
<g fill="#0000d3"><path id="d115" d="M1045 1332l6 8 7-3 7-7 7 1 13-12 7-2 7 3 7-2 6-7 14-7 7-1 6 1 14-8 13 2 7-2 7-4 41-14 13 0 7-4 20-5 14-5 13-7 21-2 13-6 27-7 20-8 34-9 21-7 20-5 20-8 54-13 21-9 33-9 14-5 13-2 7-4 27-7 14-5 27-6 20-8 27-7 14-5 13-1 27-11 7-1 14-5 13-2 14-7 13-2 21-8 47-12 6 10-47 13-21 8-13 2-14 7-13 2-14 5-6 1-28 10-13 2-14 5-27 7-20 7-27 6-14 6-27 6-6 4-14 2-13 5-34 9-21 9-54 14-20 7-20 5-21 7-33 9-21 8-27 7-13 5-21 3-27 12-20 5-7 3-13 0-41 15-7 4-6 2-14-2-14 7-13 1-14 7-6 7-7 1-7-3-7 3-13 11-7 0-7 6-7 3-6-7z"/></g>
<use href="#d115" fill="url(#ws)" stroke="#0000d3" stroke-width="4"/>
<g fill="#0000ca"><path id="d116" d="M1051 1342l6 7 7-3 7-6 7 0 13-11 7-3 7 3 7-1 6-7 14-7 13-1 14-7 14 2 6-2 7-4 41-15 13 0 7-3 20-5 27-12 21-3 13-5 27-7 21-8 33-9 21-7 20-5 20-7 54-14 21-9 34-9 13-5 14-2 6-4 27-6 14-6 27-6 20-7 27-7 14-5 13-2 28-10 6-1 14-5 13-2 14-7 13-2 21-8 47-13 6 11-47 13-20 8-14 2-13 7-14 2-13 5-7 0-27 11-14 1-13 5-27 7-21 8-27 6-13 5-27 7-7 3-14 3-47 14-20 8-55 14-20 7-20 5-20 7-34 9-21 8-27 6-13 6-21 3-27 12-20 4-7 4-13 0-41 14-7 4-6 2-14-1-13 7-14 0-14 7-6 7-7 2-7-3-7 2-13 11-7 0-7 7-6 2-7-7z"/></g>
<use href="#d116" fill="url(#ws)" stroke="#0000ca" stroke-width="4"/>
<g fill="#0000c0"><path id="d117" d="M1057 1351l7 7 6-2 7-7 7 0 13-11 7-2 7 3 7-2 6-7 14-7 14 0 13-7 14 1 6-2 7-4 41-14 13 0 7-4 20-4 27-12 21-3 13-6 27-6 21-8 34-9 20-7 20-5 20-7 55-14 20-8 47-14 14-3 7-3 27-7 13-5 27-6 21-8 27-7 13-5 14-1 27-11 7 0 13-5 14-2 13-7 14-2 20-8 47-13 7 11-48 13-20 7-14 3-13 6-34 8-27 10-14 2-13 5-27 7-21 7-27 6-13 6-27 6-7 4-14 2-47 14-20 8-54 14-21 8-20 4-20 7-34 9-21 8-27 6-13 6-20 3-28 12-20 4-7 4-13 0-41 14-7 4-6 2-14-2-13 7-14 1-13 7-7 6-7 2-7-3-7 3-13 11-7-1-7 7-6 2-7-7z"/></g>
<use href="#d117" fill="url(#ws)" stroke="#0000c0" stroke-width="4"/>
<g fill="#0000b7"><path id="d118" d="M1063 1360l7 7 6-2 7-7 7 1 13-11 7-3 7 3 7-2 7-6 13-7 14-1 13-7 14 2 6-2 7-4 41-14 13 0 7-4 20-4 28-12 20-3 13-6 27-6 21-8 34-9 20-7 20-4 21-8 54-14 20-8 47-14 14-2 7-4 27-6 13-6 27-6 21-7 27-7 13-5 14-2 27-10 34-8 13-6 14-3 20-7 48-13 6 11-48 12-20 8-13 2-14 7-34 8-27 10-13 2-14 4-27 7-20 8-27 6-14 5-27 7-7 3-13 2-48 14-20 9-54 13-21 8-20 4-20 7-34 9-20 8-27 6-14 6-20 3-27 11-21 5-6 3-14 1-41 14-6 3-7 2-14-1-13 7-14 1-13 6-7 7-7 1-7-2-6 2-14 11-7-1-7 7-6 2-7-6z"/></g>
<use href="#d118" fill="url(#ws)" stroke="#0000b7" stroke-width="4"/>
<g fill="#0000ad"><path id="d119" d="M1069 1370l7 6 6-2 7-7 7 1 14-11 6-2 7 2 7-1 7-7 13-6 14-1 13-7 14 1 7-2 6-3 41-14 14-1 6-3 21-5 27-11 20-3 14-6 27-6 20-8 34-9 20-7 20-4 21-8 54-13 20-9 48-14 13-2 7-3 27-7 14-5 27-6 20-8 27-7 14-4 13-2 27-10 34-8 14-7 13-2 20-8 48-12 6 11-47 12-21 8-13 2-14 7-34 7-27 10-13 2-14 5-27 7-20 7-27 6-14 5-27 7-7 3-13 3-48 14-20 8-54 13-20 8-21 4-20 7-34 9-20 7-27 7-14 6-20 2-27 12-21 5-6 3-14 0-41 14-6 4-7 2-14-1-13 6-14 1-13 7-7 6-7 2-7-3-6 3-14 10-7 0-6 6-7 3-7-7z"/></g>
<use href="#d119" fill="url(#ws)" stroke="#0000ad" stroke-width="4"/>
</g></g>
<path d="M123.8 168.8L123.8 579.4L489.4 766.9L966.2 622.5M123.8 579.4L110.8 572.8M123.8 511L110.8 504.4M123.8 442.5L110.8 435.9M123.8 374.1L110.8 367.5M123.8 305.7L110.8 299.1M123.8 237.2L110.8 230.6M123.8 168.8L110.8 162.2M489.4 766.9L475.5 771.1M367.5 704.4L353.6 708.6M245.6 641.9L231.8 646.1M123.8 579.4L109.9 583.6M489.4 766.9L502.3 773.5M584.8 738L597.7 744.6M680.1 709.1L693 715.8M775.5 680.3L788.4 686.9M870.9 651.4L883.8 658M966.2 622.5L979.2 629.1" stroke="#262626" stroke-width="3" fill="none" stroke-linejoin="miter"/>
<g font-family="'Liberation Serif','Times New Roman',serif" font-weight="bold" font-size="28" fill="#1a1a1a"><text x="104.5" y="579.6" text-anchor="end">0.01</text>
<text x="104.5" y="511.2" text-anchor="end">0.02</text>
<text x="104.5" y="442.7" text-anchor="end">0.03</text>
<text x="104.5" y="374.3" text-anchor="end">0.04</text>
<text x="104.5" y="305.9" text-anchor="end">0.05</text>
<text x="104.5" y="237.4" text-anchor="end">0.06</text>
<text x="104.5" y="169" text-anchor="end">0.07</text>
<text x="469.2" y="798.9" text-anchor="end">400</text>
<text x="347.3" y="736.4" text-anchor="end">600</text>
<text x="225.5" y="673.9" text-anchor="end">800</text>
<text x="103.6" y="611.4" text-anchor="end">1000</text>
<text x="510.3" y="802.5">0</text>
<text x="605.7" y="773.6">2000</text>
<text x="701" y="744.8">4000</text>
<text x="796.4" y="715.9">6000</text>
<text x="891.8" y="687">8000</text>
<text x="987.2" y="658.1">10,000</text>
<text transform="translate(194 747) rotate(27.6)" text-anchor="middle" font-size="29" letter-spacing="0.6">Wavelength/nm</text>
<text transform="translate(841 774) rotate(-16.4)" text-anchor="middle" font-size="29" letter-spacing="0.6">Number of pixels</text>
<text transform="translate(42 373) rotate(-90)" text-anchor="middle" font-size="28">RMSE</text>
<text x="51.5" y="90" font-size="55">(d)</text></g>
</g>
</svg></body></html>
